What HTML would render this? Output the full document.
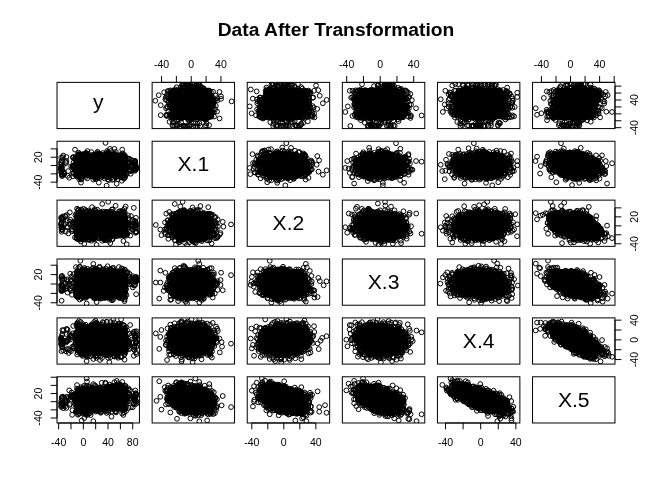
<!DOCTYPE html>
<html><head><meta charset="utf-8"><title>Data After Transformation</title>
<style>html,body{margin:0;padding:0;background:#fff}svg{display:block}text{font-family:"Liberation Sans",Arial,Helvetica,sans-serif;fill:#000}.a{font-size:10.56px;text-anchor:middle}.d{font-size:21.12px;text-anchor:middle}.b{fill:none;stroke:#000;stroke-width:1}.p{fill:none;stroke:#000;stroke-width:1}.k{stroke:#000;stroke-width:1;shape-rendering:crispEdges}</style></head><body>
<svg width="672" height="480" viewBox="0 0 672 480">
<rect width="672" height="480" fill="#fff"/>
<text x="336" y="35.5" text-anchor="middle" font-size="19.2" font-weight="bold" textLength="236.6" lengthAdjust="spacingAndGlyphs">Data After Transformation</text>
<svg x="152.13" y="82.37" width="82.43" height="46.21"><path class="k" d="M32.87 1.13h5M42.87 1.13h1M31.87 2.13h3M35.87 2.13h4M42.87 2.13h1M28.87 3.13h1M30.87 3.13h3M36.87 3.13h4M41.87 3.13h3M48.87 3.13h1M28.87 4.13h2M32.87 4.13h2M35.87 4.13h15M27.87 5.13h2M33.87 5.13h19M21.87 6.13h1M25.87 6.13h5M32.87 6.13h21M19.87 7.13h38M18.87 8.13h41M16.87 9.13h42M15.87 10.13h43M15.87 11.13h44M15.87 12.13h45M16.87 13.13h44M17.87 14.13h43M12.87 15.13h1M16.87 15.13h45M13.87 16.13h1M15.87 16.13h46M14.87 17.13h46M15.87 18.13h45M62.87 18.13h1M16.87 19.13h43M17.87 20.13h43M62.87 20.13h1M17.87 21.13h46M16.87 22.13h46M15.87 23.13h47M15.87 24.13h47M15.87 25.13h46M16.87 26.13h44M16.87 27.13h44M17.87 28.13h44M18.87 29.13h44M18.87 30.13h43M17.87 31.13h45M15.87 32.13h46M16.87 33.13h44M16.87 34.13h44M18.87 35.13h42M19.87 36.13h38M21.87 37.13h1M26.87 37.13h4M33.87 37.13h1M36.87 37.13h5M45.87 37.13h10M37.87 38.13h3M51.87 38.13h3M37.87 39.13h1M24.87 40.13h1M36.87 40.13h1M33.87 43.13h1"/><g class="p"><circle cx="43.2" cy="34.2" r="2.38"/><circle cx="63" cy="27" r="2.38"/><circle cx="30.8" cy="34.2" r="2.38"/><circle cx="14.8" cy="24.7" r="2.38"/><circle cx="22.7" cy="8.4" r="2.38"/><circle cx="63.1" cy="17.6" r="2.38"/><circle cx="28.8" cy="34.7" r="2.38"/><circle cx="17.3" cy="33.5" r="2.38"/><circle cx="57.5" cy="19.9" r="2.38"/><circle cx="33.2" cy="34.4" r="2.38"/><circle cx="32.7" cy="9.1" r="2.38"/><circle cx="46.3" cy="34" r="2.38"/><circle cx="37.4" cy="34.6" r="2.38"/><circle cx="27.6" cy="35.4" r="2.38"/><circle cx="60.7" cy="18.5" r="2.38"/><circle cx="57.1" cy="34.8" r="2.38"/><circle cx="36.4" cy="34.1" r="2.38"/><circle cx="60.6" cy="22.6" r="2.38"/><circle cx="37.3" cy="34.2" r="2.38"/><circle cx="44.3" cy="34.5" r="2.38"/><circle cx="31.3" cy="8.3" r="2.38"/><circle cx="26.3" cy="8.8" r="2.38"/><circle cx="27.9" cy="34.1" r="2.38"/><circle cx="34.5" cy="8.8" r="2.38"/><circle cx="32.6" cy="8.9" r="2.38"/><circle cx="57.3" cy="19.2" r="2.38"/><circle cx="20.7" cy="9.6" r="2.38"/><circle cx="30.1" cy="9" r="2.38"/><circle cx="33.9" cy="8.8" r="2.38"/><circle cx="44.4" cy="34.9" r="2.38"/><circle cx="31.1" cy="34.2" r="2.38"/><circle cx="36.1" cy="34.4" r="2.38"/><circle cx="22.2" cy="34.1" r="2.38"/><circle cx="58.8" cy="9.7" r="2.38"/><circle cx="56" cy="34.4" r="2.38"/><circle cx="18.5" cy="32" r="2.38"/><circle cx="35.8" cy="34.1" r="2.38"/><circle cx="26.8" cy="8.7" r="2.38"/><circle cx="21.6" cy="28" r="2.38"/><circle cx="43.4" cy="35" r="2.38"/><circle cx="28.2" cy="8.3" r="2.38"/><circle cx="59.5" cy="14.4" r="2.38"/><circle cx="39.3" cy="35.4" r="2.38"/><circle cx="31.1" cy="8.5" r="2.38"/><circle cx="33.3" cy="9.3" r="2.38"/><circle cx="28.6" cy="8.1" r="2.38"/><circle cx="55" cy="35.3" r="2.38"/><circle cx="47.1" cy="34.6" r="2.38"/><circle cx="57.2" cy="9.1" r="2.38"/><circle cx="33.1" cy="33.9" r="2.38"/><circle cx="57.4" cy="18.5" r="2.38"/><circle cx="19.8" cy="9.6" r="2.38"/><circle cx="18.2" cy="13.5" r="2.38"/><circle cx="30.3" cy="8.8" r="2.38"/><circle cx="37.1" cy="34.2" r="2.38"/><circle cx="60.6" cy="17.9" r="2.38"/><circle cx="56.6" cy="33.5" r="2.38"/><circle cx="30" cy="34.3" r="2.38"/><circle cx="14.8" cy="32.5" r="2.38"/><circle cx="21.3" cy="31" r="2.38"/><circle cx="24.5" cy="8.3" r="2.38"/><circle cx="17.3" cy="21.7" r="2.38"/><circle cx="24.1" cy="35.1" r="2.38"/><circle cx="57" cy="10.8" r="2.38"/><circle cx="41.2" cy="34.3" r="2.38"/><circle cx="41.1" cy="34.2" r="2.38"/><circle cx="51.5" cy="35.4" r="2.38"/><circle cx="13.2" cy="17.1" r="2.38"/><circle cx="57.4" cy="8.5" r="2.38"/><circle cx="57.2" cy="11.3" r="2.38"/><circle cx="47" cy="34.7" r="2.38"/><circle cx="64.9" cy="29.2" r="2.38"/><circle cx="35.4" cy="35" r="2.38"/><circle cx="36.6" cy="34.9" r="2.38"/><circle cx="20.4" cy="13.7" r="2.38"/><circle cx="58.9" cy="24.1" r="2.38"/><circle cx="16.9" cy="8.5" r="2.38"/><circle cx="59.5" cy="31.6" r="2.38"/><circle cx="40.4" cy="35.1" r="2.38"/><circle cx="20.1" cy="20.3" r="2.38"/><circle cx="58.3" cy="25.6" r="2.38"/><circle cx="58.5" cy="32.1" r="2.38"/><circle cx="58.7" cy="20" r="2.38"/><circle cx="22.7" cy="9.4" r="2.38"/><circle cx="35.4" cy="34.3" r="2.38"/><circle cx="21.8" cy="35.7" r="2.38"/><circle cx="63.5" cy="13.2" r="2.38"/><circle cx="57.2" cy="9.9" r="2.38"/><circle cx="54.9" cy="34.4" r="2.38"/><circle cx="21.2" cy="34.5" r="2.38"/><circle cx="28" cy="34.9" r="2.38"/><circle cx="55.9" cy="34.9" r="2.38"/><circle cx="13.6" cy="15.2" r="2.38"/><circle cx="33.3" cy="34.4" r="2.38"/><circle cx="54.3" cy="8.9" r="2.38"/><circle cx="55" cy="9" r="2.38"/><circle cx="30.3" cy="8.2" r="2.38"/><circle cx="19.9" cy="13.3" r="2.38"/><circle cx="41.1" cy="34.7" r="2.38"/><circle cx="58.5" cy="32.6" r="2.38"/><circle cx="14.6" cy="33.7" r="2.38"/><circle cx="46.6" cy="34.4" r="2.38"/><circle cx="43.9" cy="34.2" r="2.38"/><circle cx="22" cy="34.8" r="2.38"/><circle cx="55.3" cy="9.1" r="2.38"/><circle cx="60" cy="30.6" r="2.38"/><circle cx="42.5" cy="35" r="2.38"/><circle cx="41.6" cy="34.4" r="2.38"/><circle cx="61.7" cy="30" r="2.38"/><circle cx="15.6" cy="8.7" r="2.38"/><circle cx="41.2" cy="34.1" r="2.38"/><circle cx="59.2" cy="33.9" r="2.38"/><circle cx="33.8" cy="34.8" r="2.38"/><circle cx="61.4" cy="23.8" r="2.38"/><circle cx="51.7" cy="34.9" r="2.38"/><circle cx="18.1" cy="10.6" r="2.38"/><circle cx="19.4" cy="10.5" r="2.38"/><circle cx="46" cy="34.2" r="2.38"/><circle cx="35.5" cy="34.2" r="2.38"/><circle cx="58.6" cy="33.5" r="2.38"/><circle cx="20.8" cy="34.5" r="2.38"/><circle cx="46.7" cy="35.4" r="2.38"/><circle cx="20" cy="19.6" r="2.38"/><circle cx="18.9" cy="21" r="2.38"/><circle cx="59.1" cy="16.8" r="2.38"/><circle cx="60.9" cy="9.3" r="2.38"/><circle cx="55.5" cy="34.5" r="2.38"/><circle cx="55.8" cy="8.3" r="2.38"/><circle cx="19" cy="24.5" r="2.38"/><circle cx="59.2" cy="34.3" r="2.38"/><circle cx="49.4" cy="35.7" r="2.38"/><circle cx="21.1" cy="8.3" r="2.38"/><circle cx="58.7" cy="15" r="2.38"/><circle cx="18.9" cy="29.9" r="2.38"/><circle cx="40.9" cy="35.4" r="2.38"/><circle cx="28.6" cy="35" r="2.38"/><circle cx="30" cy="34.1" r="2.38"/><circle cx="24.3" cy="9.3" r="2.38"/><circle cx="21.5" cy="35.4" r="2.38"/><circle cx="63.7" cy="23.5" r="2.38"/><circle cx="15.5" cy="24.3" r="2.38"/><circle cx="25.9" cy="8.5" r="2.38"/><circle cx="33.1" cy="34" r="2.38"/><circle cx="18.6" cy="24.2" r="2.38"/><circle cx="28" cy="34.4" r="2.38"/><circle cx="23.8" cy="9.4" r="2.38"/><circle cx="26.9" cy="8.1" r="2.38"/><circle cx="23.1" cy="34.7" r="2.38"/><circle cx="45.2" cy="35.5" r="2.38"/><circle cx="44.8" cy="33.9" r="2.38"/><circle cx="38" cy="34.3" r="2.38"/><circle cx="15" cy="12.1" r="2.38"/><circle cx="16.6" cy="16.1" r="2.38"/><circle cx="65.1" cy="18.1" r="2.38"/><circle cx="58.8" cy="33.3" r="2.38"/><circle cx="40.8" cy="34.4" r="2.38"/><circle cx="27.3" cy="34.8" r="2.38"/><circle cx="19.8" cy="27.1" r="2.38"/><circle cx="16.3" cy="29.3" r="2.38"/><circle cx="44.5" cy="35.1" r="2.38"/><circle cx="22.2" cy="35" r="2.38"/><circle cx="19.1" cy="12.7" r="2.38"/><circle cx="37.2" cy="34.5" r="2.38"/><circle cx="34.2" cy="34.7" r="2.38"/><circle cx="30.9" cy="8.9" r="2.38"/><circle cx="59.6" cy="13.4" r="2.38"/><circle cx="58.2" cy="33.8" r="2.38"/><circle cx="46" cy="34.4" r="2.38"/><circle cx="18.3" cy="8" r="2.38"/><circle cx="16.3" cy="19.6" r="2.38"/><circle cx="44.8" cy="34.3" r="2.38"/><circle cx="59.9" cy="29.5" r="2.38"/><circle cx="58.9" cy="16.2" r="2.38"/><circle cx="14" cy="32.7" r="2.38"/><circle cx="56.9" cy="10.8" r="2.38"/><circle cx="28.3" cy="35" r="2.38"/><circle cx="42.9" cy="34.3" r="2.38"/><circle cx="21.5" cy="9.3" r="2.38"/><circle cx="21.3" cy="9.2" r="2.38"/><circle cx="42.8" cy="34.6" r="2.38"/><circle cx="18.4" cy="18.1" r="2.38"/><circle cx="18.2" cy="10.2" r="2.38"/><circle cx="14.9" cy="14.5" r="2.38"/><circle cx="18.2" cy="23.1" r="2.38"/><circle cx="50.7" cy="35" r="2.38"/><circle cx="30.3" cy="34.3" r="2.38"/><circle cx="51.6" cy="35.1" r="2.38"/><circle cx="59.5" cy="29" r="2.38"/><circle cx="31.1" cy="8.6" r="2.38"/><circle cx="59" cy="24.1" r="2.38"/><circle cx="61.3" cy="20.5" r="2.38"/><circle cx="56.7" cy="33.9" r="2.38"/><circle cx="37.1" cy="34.7" r="2.38"/><circle cx="56.8" cy="11.3" r="2.38"/><circle cx="61.4" cy="18" r="2.38"/><circle cx="42.3" cy="34.3" r="2.38"/><circle cx="23.2" cy="9.3" r="2.38"/><circle cx="19.9" cy="18.9" r="2.38"/><circle cx="17.8" cy="25.2" r="2.38"/><circle cx="58.5" cy="18.5" r="2.38"/><circle cx="21.3" cy="30.7" r="2.38"/><circle cx="59.3" cy="14.4" r="2.38"/><circle cx="33.1" cy="9.1" r="2.38"/><circle cx="30" cy="9.1" r="2.38"/><circle cx="18.4" cy="33.2" r="2.38"/><circle cx="40.7" cy="34.8" r="2.38"/><circle cx="34.4" cy="34" r="2.38"/><circle cx="59.8" cy="23.3" r="2.38"/><circle cx="47.4" cy="34.9" r="2.38"/><circle cx="25.2" cy="34.2" r="2.38"/><circle cx="54.2" cy="8.9" r="2.38"/><circle cx="21.1" cy="8" r="2.38"/><circle cx="58.3" cy="32.7" r="2.38"/><circle cx="18.5" cy="17.8" r="2.38"/><circle cx="34.6" cy="34.9" r="2.38"/><circle cx="41.7" cy="33.9" r="2.38"/><circle cx="62" cy="34.2" r="2.38"/><circle cx="39.2" cy="35.6" r="2.38"/><circle cx="44.5" cy="34.4" r="2.38"/><circle cx="20.1" cy="9" r="2.38"/><circle cx="42.3" cy="34.3" r="2.38"/><circle cx="29.7" cy="35.3" r="2.38"/><circle cx="60.3" cy="29.1" r="2.38"/><circle cx="58.2" cy="16" r="2.38"/><circle cx="31.9" cy="34.8" r="2.38"/><circle cx="49.7" cy="34.8" r="2.38"/><circle cx="44.2" cy="34.7" r="2.38"/><circle cx="37.8" cy="36" r="2.38"/><circle cx="58.1" cy="32.8" r="2.38"/><circle cx="20.6" cy="22.3" r="2.38"/><circle cx="21.5" cy="9.8" r="2.38"/><circle cx="20.7" cy="32.1" r="2.38"/><circle cx="65.1" cy="15.8" r="2.38"/><circle cx="47" cy="34.2" r="2.38"/><circle cx="20.2" cy="33.4" r="2.38"/><circle cx="61.5" cy="17.2" r="2.38"/><circle cx="33.8" cy="34.8" r="2.38"/><circle cx="24" cy="9.2" r="2.38"/><circle cx="31.3" cy="34.7" r="2.38"/><circle cx="57.7" cy="13.1" r="2.38"/><circle cx="47.6" cy="35.3" r="2.38"/><circle cx="52.4" cy="8.6" r="2.38"/><circle cx="14.3" cy="17.8" r="2.38"/><circle cx="59.6" cy="16.3" r="2.38"/><circle cx="30.8" cy="43.4" r="2.38"/><circle cx="33" cy="44" r="2.38"/><circle cx="31.5" cy="43.8" r="2.38"/><circle cx="21.1" cy="43.1" r="2.38"/><circle cx="35.1" cy="43.9" r="2.38"/><circle cx="37.4" cy="43.8" r="2.38"/><circle cx="31.1" cy="43.4" r="2.38"/><circle cx="45.3" cy="43.9" r="2.38"/><circle cx="35" cy="43.9" r="2.38"/><circle cx="53" cy="43.8" r="2.38"/><circle cx="41" cy="43.9" r="2.38"/><circle cx="38.3" cy="43" r="2.38"/><circle cx="22.8" cy="43.2" r="2.38"/><circle cx="36.9" cy="43.8" r="2.38"/><circle cx="48.1" cy="43.5" r="2.38"/><circle cx="43.4" cy="43.8" r="2.38"/><circle cx="26.5" cy="37" r="2.38"/><circle cx="27.1" cy="42.3" r="2.38"/><circle cx="54.2" cy="35" r="2.38"/><circle cx="53" cy="35.8" r="2.38"/><circle cx="29.5" cy="36.3" r="2.38"/><circle cx="24.9" cy="42.8" r="2.38"/><circle cx="54.4" cy="40.9" r="2.38"/><circle cx="19.8" cy="35.2" r="2.38"/><circle cx="24.2" cy="42" r="2.38"/><circle cx="24.8" cy="37.2" r="2.38"/><circle cx="39.7" cy="36.8" r="2.38"/><circle cx="35.2" cy="35" r="2.38"/><circle cx="39.3" cy="37.1" r="2.38"/><circle cx="53.9" cy="43" r="2.38"/><circle cx="53.3" cy="37.2" r="2.38"/><circle cx="53.8" cy="37.1" r="2.38"/><circle cx="53.9" cy="37.2" r="2.38"/><circle cx="38.9" cy="34.9" r="2.38"/><circle cx="44.8" cy="37" r="2.38"/><circle cx="38.2" cy="35.3" r="2.38"/><circle cx="30.5" cy="35.1" r="2.38"/><circle cx="51.5" cy="36.3" r="2.38"/><circle cx="38.7" cy="37.3" r="2.38"/><circle cx="20.8" cy="40.3" r="2.38"/><circle cx="37.7" cy="35.8" r="2.38"/><circle cx="45.3" cy="41.4" r="2.38"/><circle cx="51" cy="36" r="2.38"/><circle cx="36.1" cy="37.6" r="2.38"/><circle cx="37.5" cy="38.3" r="2.38"/><circle cx="43.3" cy="41.1" r="2.38"/><circle cx="36.4" cy="37.3" r="2.38"/><circle cx="47.3" cy="40.9" r="2.38"/><circle cx="29" cy="40" r="2.38"/><circle cx="19.8" cy="37.4" r="2.38"/><circle cx="35.1" cy="2" r="2.38"/><circle cx="40.5" cy="2.5" r="2.38"/><circle cx="42.3" cy="2.2" r="2.38"/><circle cx="46.2" cy="2.5" r="2.38"/><circle cx="46.8" cy="2.5" r="2.38"/><circle cx="35.8" cy="2" r="2.38"/><circle cx="31.7" cy="1.9" r="2.38"/><circle cx="36.4" cy="2.2" r="2.38"/><circle cx="35.7" cy="1.6" r="2.38"/><circle cx="36.7" cy="1.9" r="2.38"/><circle cx="44.4" cy="2.6" r="2.38"/><circle cx="30.1" cy="2.5" r="2.38"/><circle cx="47.3" cy="2.4" r="2.38"/><circle cx="36.7" cy="2.1" r="2.38"/><circle cx="32" cy="2.3" r="2.38"/><circle cx="34.1" cy="2.1" r="2.38"/><circle cx="42.7" cy="5.8" r="2.38"/><circle cx="44.9" cy="3" r="2.38"/><circle cx="49.3" cy="4.9" r="2.38"/><circle cx="38.9" cy="3.8" r="2.38"/><circle cx="23.8" cy="7.1" r="2.38"/><circle cx="31.2" cy="5.6" r="2.38"/><circle cx="30.1" cy="2.7" r="2.38"/><circle cx="42.6" cy="4.5" r="2.38"/><circle cx="51.5" cy="5.9" r="2.38"/><circle cx="54.1" cy="8" r="2.38"/><circle cx="51" cy="6.7" r="2.38"/><circle cx="39.7" cy="4.9" r="2.38"/><circle cx="35.6" cy="7.4" r="2.38"/><circle cx="24.5" cy="4.9" r="2.38"/><circle cx="30.1" cy="5" r="2.38"/><circle cx="43.9" cy="6.1" r="2.38"/><circle cx="50.3" cy="5.7" r="2.38"/><circle cx="33.7" cy="2.7" r="2.38"/><circle cx="37" cy="4.1" r="2.38"/><circle cx="32.6" cy="6" r="2.38"/><circle cx="35.2" cy="6.5" r="2.38"/><circle cx="43.3" cy="3.7" r="2.38"/><circle cx="56.8" cy="8.1" r="2.38"/><circle cx="40.1" cy="4.4" r="2.38"/><circle cx="28.7" cy="4.7" r="2.38"/><circle cx="48.2" cy="4" r="2.38"/><circle cx="35.6" cy="3.9" r="2.38"/><circle cx="3.2" cy="18.4" r="2.38"/><circle cx="6.6" cy="12.8" r="2.38"/><circle cx="12" cy="9.9" r="2.38"/><circle cx="8.6" cy="22.8" r="2.38"/><circle cx="8.6" cy="32.8" r="2.38"/><circle cx="13.9" cy="25.9" r="2.38"/><circle cx="17.4" cy="39.4" r="2.38"/><circle cx="20.4" cy="43.4" r="2.38"/><circle cx="24.5" cy="43.6" r="2.38"/><circle cx="28.9" cy="44.4" r="2.38"/><circle cx="33.2" cy="43.6" r="2.38"/><circle cx="57" cy="42.8" r="2.38"/><circle cx="67.4" cy="36.1" r="2.38"/><circle cx="79.5" cy="19" r="2.38"/><circle cx="68.9" cy="14" r="2.38"/><circle cx="67.4" cy="9.6" r="2.38"/><circle cx="68.9" cy="16.5" r="2.38"/></g></svg>
<svg x="247.23" y="82.37" width="82.43" height="46.21"><path class="k" d="M22.77 1.13h1M38.77 1.13h3M44.77 1.13h1M27.77 2.13h2M34.77 2.13h2M37.77 2.13h4M45.77 2.13h1M26.77 3.13h2M33.77 3.13h8M45.77 3.13h1M25.77 4.13h1M27.77 4.13h2M32.77 4.13h8M41.77 4.13h1M20.77 5.13h2M28.77 5.13h2M31.77 5.13h8M42.77 5.13h1M44.77 5.13h1M19.77 6.13h5M25.77 6.13h1M27.77 6.13h13M41.77 6.13h5M48.77 6.13h1M51.77 6.13h1M17.77 7.13h36M54.77 7.13h1M56.77 7.13h4M61.77 7.13h1M16.77 8.13h47M16.77 9.13h44M63.77 9.13h1M17.77 10.13h42M17.77 11.13h43M16.77 12.13h45M16.77 13.13h46M15.77 14.13h45M10.77 15.13h1M14.77 15.13h45M10.77 16.13h1M14.77 16.13h46M10.77 17.13h2M13.77 17.13h50M9.77 18.13h53M9.77 19.13h1M11.77 19.13h51M12.77 20.13h51M11.77 21.13h52M12.77 22.13h50M11.77 23.13h51M10.77 24.13h52M10.77 25.13h51M10.77 26.13h50M10.77 27.13h51M62.77 27.13h2M9.77 28.13h52M62.77 28.13h1M9.77 29.13h51M9.77 30.13h52M62.77 30.13h1M10.77 31.13h53M10.77 32.13h49M60.77 32.13h3M10.77 33.13h48M61.77 33.13h1M65.77 33.13h2M10.77 34.13h1M12.77 34.13h46M13.77 35.13h5M19.77 35.13h39M12.77 36.13h3M16.77 36.13h1M20.77 36.13h29M50.77 36.13h4M58.77 36.13h1M20.77 37.13h1M23.77 37.13h1M30.77 37.13h6M39.77 37.13h8M32.77 38.13h1M34.77 38.13h1M40.77 38.13h6M42.77 39.13h1M30.77 41.13h1M32.77 42.13h1M45.77 43.13h1"/><g class="p"><circle cx="27" cy="35.6" r="2.38"/><circle cx="12" cy="33.7" r="2.38"/><circle cx="54" cy="35.1" r="2.38"/><circle cx="64.4" cy="32.4" r="2.38"/><circle cx="52.9" cy="8.7" r="2.38"/><circle cx="12.5" cy="25.6" r="2.38"/><circle cx="32.3" cy="34.7" r="2.38"/><circle cx="14.3" cy="20.5" r="2.38"/><circle cx="32.9" cy="35" r="2.38"/><circle cx="14.4" cy="22.6" r="2.38"/><circle cx="55.8" cy="8.2" r="2.38"/><circle cx="28.3" cy="9.3" r="2.38"/><circle cx="13.9" cy="32.7" r="2.38"/><circle cx="53.1" cy="34" r="2.38"/><circle cx="18.9" cy="11.8" r="2.38"/><circle cx="41.1" cy="8.9" r="2.38"/><circle cx="39" cy="8.6" r="2.38"/><circle cx="61.6" cy="18.3" r="2.38"/><circle cx="20.4" cy="11.1" r="2.38"/><circle cx="53.9" cy="33.5" r="2.38"/><circle cx="60.3" cy="9.9" r="2.38"/><circle cx="40" cy="8.9" r="2.38"/><circle cx="12.7" cy="28.4" r="2.38"/><circle cx="61.6" cy="15.6" r="2.38"/><circle cx="22.5" cy="8.4" r="2.38"/><circle cx="5.6" cy="16.3" r="2.38"/><circle cx="56" cy="10.4" r="2.38"/><circle cx="50.6" cy="34.5" r="2.38"/><circle cx="9.9" cy="26.9" r="2.38"/><circle cx="64.1" cy="28.4" r="2.38"/><circle cx="27.2" cy="8.4" r="2.38"/><circle cx="62.2" cy="10.9" r="2.38"/><circle cx="14.9" cy="33.1" r="2.38"/><circle cx="46.5" cy="8.6" r="2.38"/><circle cx="25.4" cy="7.9" r="2.38"/><circle cx="13.5" cy="32.1" r="2.38"/><circle cx="57.6" cy="31.5" r="2.38"/><circle cx="60.9" cy="23.5" r="2.38"/><circle cx="47.4" cy="34.8" r="2.38"/><circle cx="21.6" cy="32.8" r="2.38"/><circle cx="42.6" cy="8.6" r="2.38"/><circle cx="27.6" cy="34.8" r="2.38"/><circle cx="54.9" cy="34.1" r="2.38"/><circle cx="51.5" cy="34.8" r="2.38"/><circle cx="48.1" cy="33.6" r="2.38"/><circle cx="12.5" cy="17.2" r="2.38"/><circle cx="41.1" cy="8.5" r="2.38"/><circle cx="58.6" cy="26.7" r="2.38"/><circle cx="22.9" cy="8" r="2.38"/><circle cx="29.6" cy="34" r="2.38"/><circle cx="52.6" cy="10.1" r="2.38"/><circle cx="55" cy="33.9" r="2.38"/><circle cx="37" cy="35.1" r="2.38"/><circle cx="22.1" cy="33.5" r="2.38"/><circle cx="57.4" cy="31.5" r="2.38"/><circle cx="12.2" cy="24.9" r="2.38"/><circle cx="56.3" cy="34.3" r="2.38"/><circle cx="48.1" cy="33.5" r="2.38"/><circle cx="21.5" cy="7.9" r="2.38"/><circle cx="47.9" cy="8.5" r="2.38"/><circle cx="22.8" cy="34.9" r="2.38"/><circle cx="58.8" cy="16.7" r="2.38"/><circle cx="13.3" cy="17.4" r="2.38"/><circle cx="40.6" cy="34.1" r="2.38"/><circle cx="37.5" cy="35" r="2.38"/><circle cx="61.7" cy="16.5" r="2.38"/><circle cx="22" cy="34.5" r="2.38"/><circle cx="58.2" cy="11.1" r="2.38"/><circle cx="58.4" cy="27.6" r="2.38"/><circle cx="39.4" cy="34.5" r="2.38"/><circle cx="35.7" cy="34.3" r="2.38"/><circle cx="29.6" cy="8.1" r="2.38"/><circle cx="65.4" cy="34.3" r="2.38"/><circle cx="13.9" cy="20.5" r="2.38"/><circle cx="52.6" cy="34.1" r="2.38"/><circle cx="12.3" cy="34.3" r="2.38"/><circle cx="18.9" cy="10.6" r="2.38"/><circle cx="28.1" cy="35.3" r="2.38"/><circle cx="51.6" cy="33.6" r="2.38"/><circle cx="22.7" cy="34.3" r="2.38"/><circle cx="60.9" cy="17.5" r="2.38"/><circle cx="17.5" cy="16.7" r="2.38"/><circle cx="42.6" cy="8.4" r="2.38"/><circle cx="49.6" cy="9.4" r="2.38"/><circle cx="50.9" cy="33.4" r="2.38"/><circle cx="46.7" cy="8.2" r="2.38"/><circle cx="57.2" cy="10.1" r="2.38"/><circle cx="52.8" cy="8.8" r="2.38"/><circle cx="18.7" cy="32.7" r="2.38"/><circle cx="51.8" cy="7.8" r="2.38"/><circle cx="60.4" cy="21.6" r="2.38"/><circle cx="58.5" cy="13.9" r="2.38"/><circle cx="62.3" cy="30.4" r="2.38"/><circle cx="67.3" cy="35" r="2.38"/><circle cx="40.2" cy="35.5" r="2.38"/><circle cx="29.5" cy="33.9" r="2.38"/><circle cx="51.6" cy="34.9" r="2.38"/><circle cx="39.9" cy="34.2" r="2.38"/><circle cx="35.9" cy="34.8" r="2.38"/><circle cx="65.4" cy="23.7" r="2.38"/><circle cx="65.6" cy="15.5" r="2.38"/><circle cx="51.7" cy="34.7" r="2.38"/><circle cx="24.4" cy="34" r="2.38"/><circle cx="13.3" cy="15.2" r="2.38"/><circle cx="8.8" cy="32.9" r="2.38"/><circle cx="30.9" cy="34.7" r="2.38"/><circle cx="27" cy="9" r="2.38"/><circle cx="31.3" cy="8.1" r="2.38"/><circle cx="66.9" cy="31.3" r="2.38"/><circle cx="40.6" cy="34.5" r="2.38"/><circle cx="47.3" cy="9.2" r="2.38"/><circle cx="22" cy="34.4" r="2.38"/><circle cx="46.8" cy="9.3" r="2.38"/><circle cx="22.1" cy="34.3" r="2.38"/><circle cx="58.7" cy="14.7" r="2.38"/><circle cx="16.6" cy="32.9" r="2.38"/><circle cx="20" cy="8.5" r="2.38"/><circle cx="38.6" cy="34.9" r="2.38"/><circle cx="18.2" cy="13.1" r="2.38"/><circle cx="12.2" cy="31.9" r="2.38"/><circle cx="57.8" cy="9.5" r="2.38"/><circle cx="15.5" cy="19.8" r="2.38"/><circle cx="25.2" cy="34.7" r="2.38"/><circle cx="41" cy="8.4" r="2.38"/><circle cx="19.6" cy="12.8" r="2.38"/><circle cx="12.4" cy="27.8" r="2.38"/><circle cx="59.2" cy="34.3" r="2.38"/><circle cx="41.7" cy="9.1" r="2.38"/><circle cx="39.6" cy="34.2" r="2.38"/><circle cx="60.8" cy="34" r="2.38"/><circle cx="41.3" cy="34.4" r="2.38"/><circle cx="50.9" cy="33.3" r="2.38"/><circle cx="21.7" cy="32.8" r="2.38"/><circle cx="26.7" cy="9.4" r="2.38"/><circle cx="58" cy="31.7" r="2.38"/><circle cx="28.6" cy="34.6" r="2.38"/><circle cx="20.4" cy="35.1" r="2.38"/><circle cx="18.2" cy="13.3" r="2.38"/><circle cx="64.9" cy="30.3" r="2.38"/><circle cx="24.5" cy="34.7" r="2.38"/><circle cx="53.6" cy="8.9" r="2.38"/><circle cx="38.6" cy="8.2" r="2.38"/><circle cx="56.5" cy="9.4" r="2.38"/><circle cx="25.4" cy="8.7" r="2.38"/><circle cx="62.4" cy="29.2" r="2.38"/><circle cx="50.3" cy="8.9" r="2.38"/><circle cx="66.3" cy="25.1" r="2.38"/><circle cx="12.1" cy="18.5" r="2.38"/><circle cx="27.3" cy="8.3" r="2.38"/><circle cx="62.2" cy="29.7" r="2.38"/><circle cx="24.2" cy="35.3" r="2.38"/><circle cx="17.6" cy="15.6" r="2.38"/><circle cx="28.7" cy="34.7" r="2.38"/><circle cx="53.1" cy="8.9" r="2.38"/><circle cx="50.9" cy="33.2" r="2.38"/><circle cx="33.4" cy="35.3" r="2.38"/><circle cx="48.5" cy="33.5" r="2.38"/><circle cx="47.9" cy="34" r="2.38"/><circle cx="19.3" cy="8.9" r="2.38"/><circle cx="10" cy="20.9" r="2.38"/><circle cx="22.7" cy="34.4" r="2.38"/><circle cx="57" cy="9.9" r="2.38"/><circle cx="28.6" cy="33.9" r="2.38"/><circle cx="61.2" cy="15.1" r="2.38"/><circle cx="17.5" cy="15.9" r="2.38"/><circle cx="58.7" cy="24.6" r="2.38"/><circle cx="48.3" cy="34.2" r="2.38"/><circle cx="30.8" cy="7.8" r="2.38"/><circle cx="57" cy="10.9" r="2.38"/><circle cx="57.7" cy="33.5" r="2.38"/><circle cx="50.4" cy="33.9" r="2.38"/><circle cx="46" cy="9.3" r="2.38"/><circle cx="30.7" cy="35.1" r="2.38"/><circle cx="60.7" cy="9.9" r="2.38"/><circle cx="50.4" cy="33.6" r="2.38"/><circle cx="32.7" cy="35.5" r="2.38"/><circle cx="14.3" cy="31.6" r="2.38"/><circle cx="42.3" cy="9.1" r="2.38"/><circle cx="32.9" cy="35.1" r="2.38"/><circle cx="12.5" cy="28.7" r="2.38"/><circle cx="47.2" cy="35.2" r="2.38"/><circle cx="52.2" cy="9.1" r="2.38"/><circle cx="47.1" cy="8.3" r="2.38"/><circle cx="15.7" cy="35.2" r="2.38"/><circle cx="15.8" cy="33" r="2.38"/><circle cx="15.4" cy="20.7" r="2.38"/><circle cx="46.9" cy="7.9" r="2.38"/><circle cx="24.3" cy="8.2" r="2.38"/><circle cx="47.3" cy="9" r="2.38"/><circle cx="41.8" cy="8.6" r="2.38"/><circle cx="27" cy="7.6" r="2.38"/><circle cx="15.4" cy="35.3" r="2.38"/><circle cx="60.8" cy="26.3" r="2.38"/><circle cx="15.6" cy="18" r="2.38"/><circle cx="59" cy="28.9" r="2.38"/><circle cx="28.7" cy="34.6" r="2.38"/><circle cx="58.9" cy="27.4" r="2.38"/><circle cx="51.2" cy="9.4" r="2.38"/><circle cx="25.9" cy="35" r="2.38"/><circle cx="62" cy="9.3" r="2.38"/><circle cx="59" cy="8.5" r="2.38"/><circle cx="62.8" cy="24.7" r="2.38"/><circle cx="48.6" cy="9.1" r="2.38"/><circle cx="52.8" cy="34.5" r="2.38"/><circle cx="58.9" cy="28.1" r="2.38"/><circle cx="43.5" cy="8.3" r="2.38"/><circle cx="15.4" cy="22.5" r="2.38"/><circle cx="26.4" cy="9.1" r="2.38"/><circle cx="49.2" cy="33.6" r="2.38"/><circle cx="30.2" cy="35.3" r="2.38"/><circle cx="53.9" cy="10.1" r="2.38"/><circle cx="21.7" cy="34.9" r="2.38"/><circle cx="59.2" cy="16.3" r="2.38"/><circle cx="13.1" cy="31.8" r="2.38"/><circle cx="60.8" cy="32.2" r="2.38"/><circle cx="17.4" cy="14.7" r="2.38"/><circle cx="20.2" cy="9.6" r="2.38"/><circle cx="20.2" cy="8.6" r="2.38"/><circle cx="28.4" cy="34.4" r="2.38"/><circle cx="55" cy="9.4" r="2.38"/><circle cx="30" cy="8.2" r="2.38"/><circle cx="58" cy="12.1" r="2.38"/><circle cx="58.4" cy="8.7" r="2.38"/><circle cx="33.4" cy="34.9" r="2.38"/><circle cx="20.1" cy="11.4" r="2.38"/><circle cx="18.5" cy="31.8" r="2.38"/><circle cx="41.1" cy="34.6" r="2.38"/><circle cx="45.6" cy="8.3" r="2.38"/><circle cx="48.2" cy="34.3" r="2.38"/><circle cx="60.1" cy="23.4" r="2.38"/><circle cx="58.7" cy="10.3" r="2.38"/><circle cx="62.1" cy="20.8" r="2.38"/><circle cx="46.5" cy="34.5" r="2.38"/><circle cx="12.5" cy="19.5" r="2.38"/><circle cx="12.3" cy="19.1" r="2.38"/><circle cx="47.4" cy="9.3" r="2.38"/><circle cx="38.6" cy="34.9" r="2.38"/><circle cx="21.2" cy="8.1" r="2.38"/><circle cx="63.4" cy="25.1" r="2.38"/><circle cx="40.7" cy="34.3" r="2.38"/><circle cx="53.1" cy="35" r="2.38"/><circle cx="28.1" cy="8.1" r="2.38"/><circle cx="50.9" cy="34" r="2.38"/><circle cx="18.1" cy="34.4" r="2.38"/><circle cx="34" cy="35.3" r="2.38"/><circle cx="63.9" cy="34.2" r="2.38"/><circle cx="63.3" cy="10" r="2.38"/><circle cx="57.1" cy="31.2" r="2.38"/><circle cx="58" cy="11.5" r="2.38"/><circle cx="19.3" cy="14.3" r="2.38"/><circle cx="31.4" cy="34.2" r="2.38"/><circle cx="62.5" cy="11.4" r="2.38"/><circle cx="12.5" cy="15.1" r="2.38"/><circle cx="18.4" cy="8.5" r="2.38"/><circle cx="14.1" cy="17.2" r="2.38"/><circle cx="23.8" cy="33.8" r="2.38"/><circle cx="13.5" cy="35.1" r="2.38"/><circle cx="41.8" cy="8.5" r="2.38"/><circle cx="58.7" cy="25" r="2.38"/><circle cx="30.3" cy="33.9" r="2.38"/><circle cx="26.7" cy="34.1" r="2.38"/><circle cx="11.4" cy="28.4" r="2.38"/><circle cx="20.6" cy="33.7" r="2.38"/><circle cx="10.7" cy="19.3" r="2.38"/><circle cx="12.6" cy="33.1" r="2.38"/><circle cx="13.8" cy="25.4" r="2.38"/><circle cx="21.9" cy="7.4" r="2.38"/><circle cx="58.9" cy="9.1" r="2.38"/><circle cx="13" cy="34.2" r="2.38"/><circle cx="60.4" cy="32.5" r="2.38"/><circle cx="12.2" cy="30.6" r="2.38"/><circle cx="55.4" cy="33.7" r="2.38"/><circle cx="27.1" cy="34" r="2.38"/><circle cx="30.4" cy="34.1" r="2.38"/><circle cx="50.7" cy="8" r="2.38"/><circle cx="21.3" cy="8.9" r="2.38"/><circle cx="26.7" cy="33.8" r="2.38"/><circle cx="26.4" cy="8.7" r="2.38"/><circle cx="61.2" cy="8.2" r="2.38"/><circle cx="14.9" cy="32.1" r="2.38"/><circle cx="49.8" cy="33.7" r="2.38"/><circle cx="27" cy="34.3" r="2.38"/><circle cx="40" cy="34" r="2.38"/><circle cx="23" cy="34.4" r="2.38"/><circle cx="57.8" cy="30.3" r="2.38"/><circle cx="24.9" cy="8.4" r="2.38"/><circle cx="65.9" cy="15" r="2.38"/><circle cx="38.1" cy="34.6" r="2.38"/><circle cx="25.9" cy="8.4" r="2.38"/><circle cx="23.6" cy="8.8" r="2.38"/><circle cx="61.7" cy="19.4" r="2.38"/><circle cx="12.5" cy="19.6" r="2.38"/><circle cx="49.7" cy="8.3" r="2.38"/><circle cx="14.5" cy="20.9" r="2.38"/><circle cx="49.6" cy="7.9" r="2.38"/><circle cx="41.7" cy="9.3" r="2.38"/><circle cx="28.5" cy="8.7" r="2.38"/><circle cx="48.3" cy="35.3" r="2.38"/><circle cx="54.3" cy="9.2" r="2.38"/><circle cx="49.5" cy="33.1" r="2.38"/><circle cx="9.8" cy="17.1" r="2.38"/><circle cx="60.7" cy="25.4" r="2.38"/><circle cx="61.6" cy="27.8" r="2.38"/><circle cx="30.2" cy="34.6" r="2.38"/><circle cx="60.8" cy="18.2" r="2.38"/><circle cx="37" cy="34.6" r="2.38"/><circle cx="50" cy="33.2" r="2.38"/><circle cx="50.1" cy="32.8" r="2.38"/><circle cx="14.2" cy="18.6" r="2.38"/><circle cx="41.3" cy="9.2" r="2.38"/><circle cx="25.5" cy="34" r="2.38"/><circle cx="53.9" cy="10.5" r="2.38"/><circle cx="18.7" cy="13.4" r="2.38"/><circle cx="49.2" cy="8.4" r="2.38"/><circle cx="25.9" cy="43.6" r="2.38"/><circle cx="49.7" cy="43.7" r="2.38"/><circle cx="28.6" cy="43.3" r="2.38"/><circle cx="36.3" cy="43.6" r="2.38"/><circle cx="48.7" cy="43.7" r="2.38"/><circle cx="30.9" cy="43.5" r="2.38"/><circle cx="34" cy="43.8" r="2.38"/><circle cx="51.4" cy="43.9" r="2.38"/><circle cx="49.3" cy="43.2" r="2.38"/><circle cx="41.1" cy="43.6" r="2.38"/><circle cx="33.5" cy="43.1" r="2.38"/><circle cx="42.5" cy="43.7" r="2.38"/><circle cx="29.8" cy="43.6" r="2.38"/><circle cx="53.3" cy="43" r="2.38"/><circle cx="38.6" cy="43.7" r="2.38"/><circle cx="39.7" cy="44" r="2.38"/><circle cx="37.6" cy="34.8" r="2.38"/><circle cx="26.2" cy="41.3" r="2.38"/><circle cx="24.8" cy="35.4" r="2.38"/><circle cx="31.5" cy="35.5" r="2.38"/><circle cx="15.8" cy="36.2" r="2.38"/><circle cx="55.8" cy="40.7" r="2.38"/><circle cx="35.3" cy="36.8" r="2.38"/><circle cx="18.3" cy="34.8" r="2.38"/><circle cx="27" cy="35" r="2.38"/><circle cx="39.2" cy="39.1" r="2.38"/><circle cx="23" cy="34.8" r="2.38"/><circle cx="44.8" cy="36" r="2.38"/><circle cx="37.4" cy="35.4" r="2.38"/><circle cx="55.1" cy="35.9" r="2.38"/><circle cx="45.6" cy="40.2" r="2.38"/><circle cx="39.2" cy="42.4" r="2.38"/><circle cx="34.8" cy="36.1" r="2.38"/><circle cx="43" cy="37.4" r="2.38"/><circle cx="44" cy="39.2" r="2.38"/><circle cx="37.6" cy="35.4" r="2.38"/><circle cx="41.1" cy="36.5" r="2.38"/><circle cx="35.3" cy="40.6" r="2.38"/><circle cx="38.5" cy="37.4" r="2.38"/><circle cx="42" cy="36.9" r="2.38"/><circle cx="47.5" cy="38.8" r="2.38"/><circle cx="26.6" cy="37.9" r="2.38"/><circle cx="54" cy="41.8" r="2.38"/><circle cx="23.1" cy="39.9" r="2.38"/><circle cx="30.7" cy="37.9" r="2.38"/><circle cx="29" cy="37.4" r="2.38"/><circle cx="58" cy="35.4" r="2.38"/><circle cx="33.5" cy="40.2" r="2.38"/><circle cx="42.3" cy="36.2" r="2.38"/><circle cx="23.3" cy="34.8" r="2.38"/><circle cx="45.2" cy="2.5" r="2.38"/><circle cx="50.8" cy="2" r="2.38"/><circle cx="38.7" cy="2.2" r="2.38"/><circle cx="24.2" cy="2.3" r="2.38"/><circle cx="26.6" cy="2" r="2.38"/><circle cx="37.2" cy="2.6" r="2.38"/><circle cx="40.2" cy="2.4" r="2.38"/><circle cx="32.3" cy="2.5" r="2.38"/><circle cx="43.9" cy="2.6" r="2.38"/><circle cx="33.9" cy="2.3" r="2.38"/><circle cx="42.3" cy="2" r="2.38"/><circle cx="38" cy="1.6" r="2.38"/><circle cx="33.4" cy="1.6" r="2.38"/><circle cx="36.8" cy="2.6" r="2.38"/><circle cx="25.6" cy="1.8" r="2.38"/><circle cx="25.2" cy="1.6" r="2.38"/><circle cx="19.3" cy="7.1" r="2.38"/><circle cx="36" cy="4.1" r="2.38"/><circle cx="26.2" cy="5.8" r="2.38"/><circle cx="35.8" cy="4.6" r="2.38"/><circle cx="47.4" cy="4" r="2.38"/><circle cx="41.4" cy="6.2" r="2.38"/><circle cx="41.1" cy="6.6" r="2.38"/><circle cx="30.1" cy="3.6" r="2.38"/><circle cx="50.5" cy="6.1" r="2.38"/><circle cx="55.1" cy="6.3" r="2.38"/><circle cx="37.3" cy="4.4" r="2.38"/><circle cx="54" cy="4.7" r="2.38"/><circle cx="31.3" cy="2.6" r="2.38"/><circle cx="38.1" cy="4.9" r="2.38"/><circle cx="30.4" cy="3.9" r="2.38"/><circle cx="44.6" cy="3.6" r="2.38"/><circle cx="26.9" cy="4.7" r="2.38"/><circle cx="39.8" cy="5.1" r="2.38"/><circle cx="29.6" cy="8.4" r="2.38"/><circle cx="38.5" cy="7" r="2.38"/><circle cx="29.2" cy="8.3" r="2.38"/><circle cx="30.8" cy="4.2" r="2.38"/><circle cx="40.1" cy="5.8" r="2.38"/><circle cx="36.6" cy="5" r="2.38"/><circle cx="19.2" cy="5.2" r="2.38"/><circle cx="22.9" cy="7.8" r="2.38"/><circle cx="39.9" cy="2.7" r="2.38"/><circle cx="22.7" cy="6.8" r="2.38"/><circle cx="3.5" cy="7.1" r="2.38"/><circle cx="2.5" cy="24" r="2.38"/><circle cx="4.4" cy="30.9" r="2.38"/><circle cx="9.4" cy="9" r="2.38"/><circle cx="68.8" cy="3.1" r="2.38"/><circle cx="71" cy="7.8" r="2.38"/><circle cx="72.5" cy="13.4" r="2.38"/><circle cx="66.9" cy="8.4" r="2.38"/><circle cx="79.4" cy="17.5" r="2.38"/><circle cx="75.6" cy="20.9" r="2.38"/><circle cx="70" cy="26.5" r="2.38"/><circle cx="65.6" cy="32.8" r="2.38"/><circle cx="60.6" cy="39" r="2.38"/><circle cx="53.8" cy="41.5" r="2.38"/><circle cx="48.1" cy="42.8" r="2.38"/></g></svg>
<svg x="342.34" y="82.37" width="82.43" height="46.21"><path class="k" d="M40.66 1.13h9M50.66 1.13h1M40.66 2.13h8M51.66 2.13h1M40.66 3.13h9M50.66 3.13h1M39.66 4.13h11M40.66 5.13h9M16.66 6.13h2M28.66 6.13h1M33.66 6.13h4M39.66 6.13h11M53.66 6.13h1M15.66 7.13h41M57.66 7.13h2M15.66 8.13h46M12.66 9.13h1M14.66 9.13h48M65.66 9.13h1M13.66 10.13h50M14.66 11.13h48M13.66 12.13h48M10.66 13.13h52M11.66 14.13h52M10.66 15.13h53M9.66 16.13h55M9.66 17.13h56M10.66 18.13h53M11.66 19.13h51M12.66 20.13h50M11.66 21.13h52M10.66 22.13h52M10.66 23.13h53M64.66 23.13h2M11.66 24.13h56M12.66 25.13h54M12.66 26.13h53M12.66 27.13h53M13.66 28.13h52M14.66 29.13h50M13.66 30.13h49M63.66 30.13h2M13.66 31.13h48M64.66 31.13h2M12.66 32.13h50M63.66 32.13h1M65.66 32.13h2M12.66 33.13h51M15.66 34.13h47M16.66 35.13h46M15.66 36.13h46M20.66 37.13h1M23.66 37.13h1M25.66 37.13h5M32.66 37.13h4M37.66 37.13h9M47.66 37.13h1M57.66 37.13h1M27.66 38.13h2M34.66 38.13h1M38.66 38.13h3M43.66 38.13h1M35.66 39.13h1M39.66 39.13h1M26.66 41.13h2M29.66 41.13h3M35.66 41.13h1M43.66 41.13h1M45.66 41.13h3M25.66 42.13h1M27.66 42.13h5M33.66 42.13h4M47.66 42.13h1M28.66 43.13h3M34.66 43.13h2M28.66 44.13h3M34.66 44.13h2M34.66 45.13h2"/><g class="p"><circle cx="13.8" cy="11.5" r="2.38"/><circle cx="38.5" cy="8.8" r="2.38"/><circle cx="17.4" cy="9.6" r="2.38"/><circle cx="17.5" cy="31.8" r="2.38"/><circle cx="15.1" cy="29.3" r="2.38"/><circle cx="53.2" cy="35" r="2.38"/><circle cx="55.5" cy="9.4" r="2.38"/><circle cx="17.1" cy="33.7" r="2.38"/><circle cx="66.4" cy="30.8" r="2.38"/><circle cx="15.3" cy="13.2" r="2.38"/><circle cx="60" cy="23.2" r="2.38"/><circle cx="29.8" cy="8.7" r="2.38"/><circle cx="26.3" cy="34.6" r="2.38"/><circle cx="64.4" cy="16.5" r="2.38"/><circle cx="55.3" cy="34.1" r="2.38"/><circle cx="38.8" cy="34.7" r="2.38"/><circle cx="13.6" cy="34.5" r="2.38"/><circle cx="53.1" cy="34.6" r="2.38"/><circle cx="46" cy="34.5" r="2.38"/><circle cx="63.6" cy="8.3" r="2.38"/><circle cx="52" cy="33.9" r="2.38"/><circle cx="41.1" cy="8.6" r="2.38"/><circle cx="24.5" cy="34.9" r="2.38"/><circle cx="59.1" cy="31.8" r="2.38"/><circle cx="66.5" cy="25.9" r="2.38"/><circle cx="42.5" cy="35.5" r="2.38"/><circle cx="22.8" cy="34" r="2.38"/><circle cx="28.8" cy="8.5" r="2.38"/><circle cx="26.7" cy="8.4" r="2.38"/><circle cx="64.6" cy="26.7" r="2.38"/><circle cx="51.9" cy="34" r="2.38"/><circle cx="27.5" cy="34.8" r="2.38"/><circle cx="28.8" cy="34.6" r="2.38"/><circle cx="62.7" cy="8" r="2.38"/><circle cx="45.9" cy="34.6" r="2.38"/><circle cx="61.2" cy="14.1" r="2.38"/><circle cx="53.3" cy="34.4" r="2.38"/><circle cx="14.2" cy="31.8" r="2.38"/><circle cx="66.8" cy="14.6" r="2.38"/><circle cx="60.4" cy="34.8" r="2.38"/><circle cx="31.5" cy="9" r="2.38"/><circle cx="22.8" cy="8.7" r="2.38"/><circle cx="31.7" cy="34.3" r="2.38"/><circle cx="45.4" cy="34.3" r="2.38"/><circle cx="10.1" cy="8.4" r="2.38"/><circle cx="36" cy="34" r="2.38"/><circle cx="59.9" cy="12.8" r="2.38"/><circle cx="42.9" cy="35" r="2.38"/><circle cx="24.7" cy="35.4" r="2.38"/><circle cx="33.2" cy="9.2" r="2.38"/><circle cx="56.1" cy="9.2" r="2.38"/><circle cx="61.5" cy="14.8" r="2.38"/><circle cx="52.1" cy="34.6" r="2.38"/><circle cx="63.4" cy="15.7" r="2.38"/><circle cx="34.4" cy="34.5" r="2.38"/><circle cx="33.6" cy="34.4" r="2.38"/><circle cx="64.5" cy="9.4" r="2.38"/><circle cx="29.6" cy="35.5" r="2.38"/><circle cx="68.2" cy="33.7" r="2.38"/><circle cx="17.1" cy="29.4" r="2.38"/><circle cx="33.1" cy="34" r="2.38"/><circle cx="56.8" cy="9.9" r="2.38"/><circle cx="12.3" cy="32.4" r="2.38"/><circle cx="25.3" cy="34.3" r="2.38"/><circle cx="60" cy="9.7" r="2.38"/><circle cx="30.9" cy="8.2" r="2.38"/><circle cx="63.2" cy="30.6" r="2.38"/><circle cx="11.6" cy="17" r="2.38"/><circle cx="63.4" cy="20.1" r="2.38"/><circle cx="14.4" cy="31.6" r="2.38"/><circle cx="27.7" cy="8.5" r="2.38"/><circle cx="57.7" cy="9.8" r="2.38"/><circle cx="61.2" cy="16.6" r="2.38"/><circle cx="32.3" cy="9.1" r="2.38"/><circle cx="63.4" cy="25" r="2.38"/><circle cx="50.4" cy="8.5" r="2.38"/><circle cx="61.3" cy="29.2" r="2.38"/><circle cx="50.8" cy="35.1" r="2.38"/><circle cx="15.9" cy="34.2" r="2.38"/><circle cx="56.7" cy="34.8" r="2.38"/><circle cx="27.2" cy="34.6" r="2.38"/><circle cx="69.5" cy="17.8" r="2.38"/><circle cx="61.8" cy="27.4" r="2.38"/><circle cx="11.7" cy="25.1" r="2.38"/><circle cx="66.1" cy="34.3" r="2.38"/><circle cx="54.3" cy="34.9" r="2.38"/><circle cx="28.1" cy="8.9" r="2.38"/><circle cx="41.8" cy="7.9" r="2.38"/><circle cx="30.4" cy="8.2" r="2.38"/><circle cx="50.8" cy="35.2" r="2.38"/><circle cx="56" cy="35" r="2.38"/><circle cx="52.5" cy="7.9" r="2.38"/><circle cx="28.3" cy="8.8" r="2.38"/><circle cx="55.9" cy="34.2" r="2.38"/><circle cx="65.2" cy="29.2" r="2.38"/><circle cx="59.9" cy="34.2" r="2.38"/><circle cx="19.7" cy="9.2" r="2.38"/><circle cx="62.2" cy="32.3" r="2.38"/><circle cx="31.3" cy="8.1" r="2.38"/><circle cx="52.4" cy="8.1" r="2.38"/><circle cx="14.7" cy="18.3" r="2.38"/><circle cx="31" cy="35.1" r="2.38"/><circle cx="25.7" cy="8.6" r="2.38"/><circle cx="16.3" cy="11.3" r="2.38"/><circle cx="49.6" cy="33.8" r="2.38"/><circle cx="61.9" cy="23.8" r="2.38"/><circle cx="38.1" cy="9.5" r="2.38"/><circle cx="54.3" cy="8.6" r="2.38"/><circle cx="14.1" cy="11.8" r="2.38"/><circle cx="27" cy="34.3" r="2.38"/><circle cx="32.4" cy="8.7" r="2.38"/><circle cx="56.8" cy="9.9" r="2.38"/><circle cx="65.3" cy="24.3" r="2.38"/><circle cx="56.7" cy="35" r="2.38"/><circle cx="58.3" cy="34.1" r="2.38"/><circle cx="63.5" cy="20.7" r="2.38"/><circle cx="32.9" cy="34.7" r="2.38"/><circle cx="20.4" cy="35.6" r="2.38"/><circle cx="16.4" cy="28.9" r="2.38"/><circle cx="57.8" cy="34.5" r="2.38"/><circle cx="25" cy="34.5" r="2.38"/><circle cx="60.8" cy="34.8" r="2.38"/><circle cx="21.7" cy="35.7" r="2.38"/><circle cx="18.9" cy="33.5" r="2.38"/><circle cx="48.7" cy="34.8" r="2.38"/><circle cx="46.2" cy="34.8" r="2.38"/><circle cx="51.4" cy="34.7" r="2.38"/><circle cx="29.1" cy="8.5" r="2.38"/><circle cx="12.2" cy="21.2" r="2.38"/><circle cx="60.2" cy="13.5" r="2.38"/><circle cx="9.9" cy="14.8" r="2.38"/><circle cx="60.4" cy="8.9" r="2.38"/><circle cx="29.6" cy="34.9" r="2.38"/><circle cx="65.6" cy="19" r="2.38"/><circle cx="67" cy="22.4" r="2.38"/><circle cx="17.3" cy="33.9" r="2.38"/><circle cx="55.4" cy="34.5" r="2.38"/><circle cx="13.4" cy="30.5" r="2.38"/><circle cx="50.4" cy="8" r="2.38"/><circle cx="16.8" cy="30.5" r="2.38"/><circle cx="23.6" cy="9.2" r="2.38"/><circle cx="59.7" cy="33.3" r="2.38"/><circle cx="52" cy="8.9" r="2.38"/><circle cx="8.8" cy="15.4" r="2.38"/><circle cx="62.7" cy="30.8" r="2.38"/><circle cx="61.2" cy="15.1" r="2.38"/><circle cx="30.4" cy="8.9" r="2.38"/><circle cx="59.1" cy="29.6" r="2.38"/><circle cx="39.2" cy="9.3" r="2.38"/><circle cx="64" cy="30.7" r="2.38"/><circle cx="31.5" cy="34.4" r="2.38"/><circle cx="23.8" cy="8.3" r="2.38"/><circle cx="51.7" cy="34.3" r="2.38"/><circle cx="20.2" cy="9" r="2.38"/><circle cx="19.6" cy="9.3" r="2.38"/><circle cx="30.9" cy="34.4" r="2.38"/><circle cx="60.5" cy="18.5" r="2.38"/><circle cx="60.5" cy="11.3" r="2.38"/><circle cx="32.5" cy="34" r="2.38"/><circle cx="20.4" cy="35" r="2.38"/><circle cx="38.1" cy="34.5" r="2.38"/><circle cx="39.4" cy="8.6" r="2.38"/><circle cx="65.6" cy="10.1" r="2.38"/><circle cx="46.2" cy="35.1" r="2.38"/><circle cx="11.5" cy="15.6" r="2.38"/><circle cx="53.8" cy="35.2" r="2.38"/><circle cx="62.2" cy="30.1" r="2.38"/><circle cx="55.2" cy="33.8" r="2.38"/><circle cx="19.7" cy="8.8" r="2.38"/><circle cx="26.5" cy="9.4" r="2.38"/><circle cx="61.3" cy="15" r="2.38"/><circle cx="15.1" cy="25.9" r="2.38"/><circle cx="28.2" cy="9.2" r="2.38"/><circle cx="28.9" cy="8.9" r="2.38"/><circle cx="19.5" cy="9" r="2.38"/><circle cx="49.5" cy="34" r="2.38"/><circle cx="15.2" cy="24.8" r="2.38"/><circle cx="27.9" cy="9" r="2.38"/><circle cx="49.2" cy="33.9" r="2.38"/><circle cx="33.9" cy="35.4" r="2.38"/><circle cx="25.1" cy="34.1" r="2.38"/><circle cx="34.5" cy="8.1" r="2.38"/><circle cx="31.2" cy="8.3" r="2.38"/><circle cx="27.7" cy="8.4" r="2.38"/><circle cx="15.3" cy="8.1" r="2.38"/><circle cx="30.2" cy="34.3" r="2.38"/><circle cx="38.9" cy="34.9" r="2.38"/><circle cx="12.7" cy="19.4" r="2.38"/><circle cx="50.5" cy="34.4" r="2.38"/><circle cx="13.9" cy="24.7" r="2.38"/><circle cx="57.9" cy="33.9" r="2.38"/><circle cx="29.8" cy="34.3" r="2.38"/><circle cx="39.1" cy="8.3" r="2.38"/><circle cx="15.2" cy="9.1" r="2.38"/><circle cx="68.1" cy="35.6" r="2.38"/><circle cx="46.3" cy="35.2" r="2.38"/><circle cx="21.4" cy="8.7" r="2.38"/><circle cx="15" cy="34.4" r="2.38"/><circle cx="59.4" cy="31.8" r="2.38"/><circle cx="36.7" cy="9.1" r="2.38"/><circle cx="31" cy="9.4" r="2.38"/><circle cx="39.1" cy="8.6" r="2.38"/><circle cx="68.7" cy="22.3" r="2.38"/><circle cx="33.7" cy="35.7" r="2.38"/><circle cx="34.4" cy="9" r="2.38"/><circle cx="53.9" cy="9" r="2.38"/><circle cx="62.1" cy="15.5" r="2.38"/><circle cx="32.7" cy="34" r="2.38"/><circle cx="62.9" cy="27.8" r="2.38"/><circle cx="47.9" cy="34.7" r="2.38"/><circle cx="14.9" cy="26.2" r="2.38"/><circle cx="30" cy="8.4" r="2.38"/><circle cx="59.5" cy="32.8" r="2.38"/><circle cx="13.5" cy="30.1" r="2.38"/><circle cx="12.6" cy="10.9" r="2.38"/><circle cx="14.9" cy="21.7" r="2.38"/><circle cx="60.6" cy="20" r="2.38"/><circle cx="59.6" cy="8.8" r="2.38"/><circle cx="62.3" cy="22.1" r="2.38"/><circle cx="36.2" cy="9" r="2.38"/><circle cx="55.7" cy="34.7" r="2.38"/><circle cx="56" cy="34.2" r="2.38"/><circle cx="36.3" cy="34.2" r="2.38"/><circle cx="15.6" cy="31.5" r="2.38"/><circle cx="41" cy="8.3" r="2.38"/><circle cx="37.3" cy="7.9" r="2.38"/><circle cx="64.3" cy="16.3" r="2.38"/><circle cx="29.9" cy="34.3" r="2.38"/><circle cx="40.4" cy="35.2" r="2.38"/><circle cx="33.8" cy="8.1" r="2.38"/><circle cx="13.3" cy="8" r="2.38"/><circle cx="12.8" cy="24.4" r="2.38"/><circle cx="46.2" cy="34.5" r="2.38"/><circle cx="30.6" cy="34.9" r="2.38"/><circle cx="29.1" cy="8.5" r="2.38"/><circle cx="19.9" cy="9" r="2.38"/><circle cx="54.5" cy="33.8" r="2.38"/><circle cx="61.5" cy="31.7" r="2.38"/><circle cx="29.8" cy="34.6" r="2.38"/><circle cx="50" cy="34.5" r="2.38"/><circle cx="21.7" cy="34.3" r="2.38"/><circle cx="26" cy="34.9" r="2.38"/><circle cx="26.1" cy="8.8" r="2.38"/><circle cx="61.7" cy="24.9" r="2.38"/><circle cx="39.4" cy="34.9" r="2.38"/><circle cx="53.1" cy="34.3" r="2.38"/><circle cx="60.1" cy="31.4" r="2.38"/><circle cx="60.9" cy="21.1" r="2.38"/><circle cx="58.5" cy="35.3" r="2.38"/><circle cx="47.1" cy="34.3" r="2.38"/><circle cx="41.4" cy="35.2" r="2.38"/><circle cx="17.1" cy="30.7" r="2.38"/><circle cx="35.8" cy="34.1" r="2.38"/><circle cx="38.5" cy="9.5" r="2.38"/><circle cx="30.9" cy="9.4" r="2.38"/><circle cx="52" cy="34.3" r="2.38"/><circle cx="59.8" cy="31" r="2.38"/><circle cx="16.4" cy="10.4" r="2.38"/><circle cx="64.3" cy="25.1" r="2.38"/><circle cx="18.5" cy="32.7" r="2.38"/><circle cx="35.2" cy="8.1" r="2.38"/><circle cx="31.4" cy="34.3" r="2.38"/><circle cx="60" cy="14.1" r="2.38"/><circle cx="51.5" cy="8.5" r="2.38"/><circle cx="15.8" cy="35.4" r="2.38"/><circle cx="60.4" cy="22.6" r="2.38"/><circle cx="63.6" cy="23.6" r="2.38"/><circle cx="52.3" cy="34.5" r="2.38"/><circle cx="56.6" cy="9.9" r="2.38"/><circle cx="36.2" cy="8.5" r="2.38"/><circle cx="13.9" cy="24.4" r="2.38"/><circle cx="29.7" cy="8.4" r="2.38"/><circle cx="10.1" cy="33.6" r="2.38"/><circle cx="59.9" cy="13.1" r="2.38"/><circle cx="61.2" cy="16.3" r="2.38"/><circle cx="31.7" cy="34.7" r="2.38"/><circle cx="57.5" cy="34" r="2.38"/><circle cx="25.5" cy="8.9" r="2.38"/><circle cx="38" cy="34" r="2.38"/><circle cx="31.8" cy="8.1" r="2.38"/><circle cx="33.2" cy="33.9" r="2.38"/><circle cx="39" cy="35.5" r="2.38"/><circle cx="54.7" cy="8.8" r="2.38"/><circle cx="13.2" cy="22.4" r="2.38"/><circle cx="65.8" cy="15.2" r="2.38"/><circle cx="29" cy="7.6" r="2.38"/><circle cx="36.6" cy="8.6" r="2.38"/><circle cx="49.3" cy="8.7" r="2.38"/><circle cx="41" cy="9" r="2.38"/><circle cx="58.8" cy="8.9" r="2.38"/><circle cx="13" cy="15.8" r="2.38"/><circle cx="22.3" cy="8.1" r="2.38"/><circle cx="24.3" cy="8.9" r="2.38"/><circle cx="11.9" cy="21.9" r="2.38"/><circle cx="37" cy="8.6" r="2.38"/><circle cx="55.8" cy="10.2" r="2.38"/><circle cx="12.8" cy="16.2" r="2.38"/><circle cx="60.5" cy="9.8" r="2.38"/><circle cx="33.2" cy="34.4" r="2.38"/><circle cx="61.3" cy="25" r="2.38"/><circle cx="23.6" cy="8" r="2.38"/><circle cx="11.9" cy="9.6" r="2.38"/><circle cx="17.2" cy="8.5" r="2.38"/><circle cx="14.3" cy="19.3" r="2.38"/><circle cx="50" cy="33.9" r="2.38"/><circle cx="37.2" cy="8.5" r="2.38"/><circle cx="35" cy="43.8" r="2.38"/><circle cx="48.8" cy="43.8" r="2.38"/><circle cx="33.3" cy="43.5" r="2.38"/><circle cx="34.2" cy="43.3" r="2.38"/><circle cx="45.9" cy="43.2" r="2.38"/><circle cx="32" cy="43.3" r="2.38"/><circle cx="25.3" cy="43.7" r="2.38"/><circle cx="36.8" cy="43.4" r="2.38"/><circle cx="31.8" cy="43" r="2.38"/><circle cx="44.3" cy="43.3" r="2.38"/><circle cx="25.7" cy="43.8" r="2.38"/><circle cx="36.3" cy="43.9" r="2.38"/><circle cx="33.2" cy="43.3" r="2.38"/><circle cx="26" cy="43.1" r="2.38"/><circle cx="51.2" cy="43.6" r="2.38"/><circle cx="30.2" cy="43.9" r="2.38"/><circle cx="45.9" cy="38.5" r="2.38"/><circle cx="30.3" cy="38.4" r="2.38"/><circle cx="29.1" cy="41.4" r="2.38"/><circle cx="17.8" cy="35.2" r="2.38"/><circle cx="28.5" cy="42.9" r="2.38"/><circle cx="38.3" cy="40.2" r="2.38"/><circle cx="28" cy="35.1" r="2.38"/><circle cx="38.4" cy="41.5" r="2.38"/><circle cx="51.1" cy="38" r="2.38"/><circle cx="33.7" cy="40.2" r="2.38"/><circle cx="42.4" cy="38.3" r="2.38"/><circle cx="18.9" cy="35.4" r="2.38"/><circle cx="46.6" cy="42.1" r="2.38"/><circle cx="34.5" cy="35.5" r="2.38"/><circle cx="55.5" cy="37" r="2.38"/><circle cx="25.9" cy="38.4" r="2.38"/><circle cx="38.7" cy="37.1" r="2.38"/><circle cx="56.2" cy="38.8" r="2.38"/><circle cx="27.6" cy="42.5" r="2.38"/><circle cx="45.4" cy="35.4" r="2.38"/><circle cx="28" cy="39" r="2.38"/><circle cx="44.2" cy="35.7" r="2.38"/><circle cx="42.6" cy="40.1" r="2.38"/><circle cx="36" cy="39.5" r="2.38"/><circle cx="48" cy="36.6" r="2.38"/><circle cx="28.6" cy="36.6" r="2.38"/><circle cx="40.8" cy="36.8" r="2.38"/><circle cx="37.6" cy="39" r="2.38"/><circle cx="26.7" cy="35.7" r="2.38"/><circle cx="48.2" cy="43" r="2.38"/><circle cx="18.6" cy="37.8" r="2.38"/><circle cx="28.8" cy="34.9" r="2.38"/><circle cx="46.1" cy="40.6" r="2.38"/><circle cx="28.5" cy="42.7" r="2.38"/><circle cx="43.6" cy="1.7" r="2.38"/><circle cx="44.7" cy="2.4" r="2.38"/><circle cx="42.9" cy="2.4" r="2.38"/><circle cx="47" cy="1.9" r="2.38"/><circle cx="50.4" cy="1.6" r="2.38"/><circle cx="36.1" cy="2.6" r="2.38"/><circle cx="44.8" cy="1.6" r="2.38"/><circle cx="35.8" cy="2.6" r="2.38"/><circle cx="43.7" cy="1.6" r="2.38"/><circle cx="49.3" cy="2.3" r="2.38"/><circle cx="50.2" cy="2.2" r="2.38"/><circle cx="42.2" cy="1.9" r="2.38"/><circle cx="43.8" cy="2.1" r="2.38"/><circle cx="44.2" cy="2.1" r="2.38"/><circle cx="46.3" cy="2.5" r="2.38"/><circle cx="47.4" cy="2.3" r="2.38"/><circle cx="49.6" cy="5.4" r="2.38"/><circle cx="51.7" cy="3.7" r="2.38"/><circle cx="35.5" cy="7.9" r="2.38"/><circle cx="58.9" cy="6.6" r="2.38"/><circle cx="57.2" cy="7" r="2.38"/><circle cx="38.5" cy="6.9" r="2.38"/><circle cx="46.8" cy="5.3" r="2.38"/><circle cx="42.4" cy="6.9" r="2.38"/><circle cx="41.9" cy="8.3" r="2.38"/><circle cx="22.2" cy="7.9" r="2.38"/><circle cx="57.7" cy="7.1" r="2.38"/><circle cx="52.6" cy="6.2" r="2.38"/><circle cx="43.4" cy="4" r="2.38"/><circle cx="41.7" cy="4.5" r="2.38"/><circle cx="18.1" cy="8.3" r="2.38"/><circle cx="38.3" cy="8.4" r="2.38"/><circle cx="35.3" cy="3.2" r="2.38"/><circle cx="37.2" cy="7.8" r="2.38"/><circle cx="37.7" cy="4.2" r="2.38"/><circle cx="55.9" cy="5.5" r="2.38"/><circle cx="28.1" cy="7.7" r="2.38"/><circle cx="37.5" cy="5.8" r="2.38"/><circle cx="42.7" cy="4.8" r="2.38"/><circle cx="47.7" cy="4.4" r="2.38"/><circle cx="31.7" cy="3.7" r="2.38"/><circle cx="48.9" cy="3.3" r="2.38"/><circle cx="42.4" cy="2.9" r="2.38"/><circle cx="53.1" cy="8" r="2.38"/><circle cx="41" cy="7.4" r="2.38"/><circle cx="18.1" cy="7.3" r="2.38"/><circle cx="19.7" cy="1.9" r="2.38"/><circle cx="7.4" cy="8.4" r="2.38"/><circle cx="5.5" cy="24" r="2.38"/><circle cx="3" cy="29.6" r="2.38"/><circle cx="8" cy="43.6" r="2.38"/><circle cx="73.7" cy="25.9" r="2.38"/><circle cx="79.3" cy="33.1" r="2.38"/><circle cx="68.7" cy="33.4" r="2.38"/><circle cx="68" cy="11.5" r="2.38"/><circle cx="22.4" cy="40.3" r="2.38"/><circle cx="28.7" cy="43.4" r="2.38"/><circle cx="52.4" cy="43.4" r="2.38"/></g></svg>
<svg x="437.44" y="82.37" width="82.43" height="46.21"><path class="k" d="M36.56 2.13h1M40.56 2.13h2M55.56 2.13h1M36.56 3.13h1M40.56 3.13h1M27.56 4.13h1M31.56 4.13h1M35.56 4.13h3M39.56 4.13h3M44.56 4.13h1M51.56 4.13h2M56.56 4.13h1M26.56 5.13h6M36.56 5.13h1M40.56 5.13h4M50.56 5.13h2M23.56 6.13h10M35.56 6.13h3M39.56 6.13h6M49.56 6.13h4M54.56 6.13h1M56.56 6.13h2M21.56 7.13h25M47.56 7.13h16M20.56 8.13h44M67.56 8.13h2M19.56 9.13h46M66.56 9.13h2M15.56 10.13h1M19.56 10.13h50M70.56 10.13h1M13.56 11.13h2M16.56 11.13h1M18.56 11.13h52M12.56 12.13h1M17.56 12.13h53M11.56 13.13h1M16.56 13.13h55M11.56 14.13h1M16.56 14.13h56M12.56 15.13h1M15.56 15.13h55M13.56 16.13h2M16.56 16.13h53M17.56 17.13h53M17.56 18.13h52M13.56 19.13h2M16.56 19.13h52M14.56 20.13h53M15.56 21.13h53M69.56 21.13h2M15.56 22.13h58M16.56 23.13h55M72.56 23.13h1M74.56 23.13h1M17.56 24.13h53M17.56 25.13h54M16.56 26.13h52M70.56 26.13h1M72.56 26.13h1M12.56 27.13h55M14.56 28.13h54M15.56 29.13h55M14.56 30.13h55M13.56 31.13h57M15.56 32.13h55M16.56 33.13h55M72.56 33.13h1M16.56 34.13h54M71.56 34.13h1M18.56 35.13h1M20.56 35.13h44M65.56 35.13h3M23.56 36.13h8M33.56 36.13h25M66.56 36.13h1M24.56 37.13h6M35.56 37.13h11M48.56 37.13h1M50.56 37.13h1M52.56 37.13h3M69.56 37.13h1M27.56 38.13h2M38.56 38.13h4M43.56 38.13h1M28.56 39.13h1M39.56 39.13h1M49.56 40.13h1M24.56 41.13h1M41.56 41.13h1M48.56 41.13h1M37.56 42.13h1M39.56 42.13h5M36.56 43.13h6M36.56 44.13h5M40.56 45.13h2"/><g class="p"><circle cx="45.7" cy="8.8" r="2.38"/><circle cx="74.9" cy="16.2" r="2.38"/><circle cx="58.3" cy="33" r="2.38"/><circle cx="59.3" cy="9" r="2.38"/><circle cx="73" cy="23.9" r="2.38"/><circle cx="57.5" cy="33.4" r="2.38"/><circle cx="39.1" cy="8.4" r="2.38"/><circle cx="51.3" cy="7.8" r="2.38"/><circle cx="72.2" cy="11" r="2.38"/><circle cx="69.5" cy="26.1" r="2.38"/><circle cx="31.4" cy="8.4" r="2.38"/><circle cx="12.2" cy="10" r="2.38"/><circle cx="33.2" cy="33" r="2.38"/><circle cx="70.9" cy="26.8" r="2.38"/><circle cx="38.7" cy="9.2" r="2.38"/><circle cx="49.7" cy="34.1" r="2.38"/><circle cx="51.8" cy="34.3" r="2.38"/><circle cx="51.4" cy="34.6" r="2.38"/><circle cx="47.7" cy="34" r="2.38"/><circle cx="35" cy="8.9" r="2.38"/><circle cx="45.6" cy="8.4" r="2.38"/><circle cx="37.1" cy="7.8" r="2.38"/><circle cx="24.2" cy="34.7" r="2.38"/><circle cx="39.5" cy="9.3" r="2.38"/><circle cx="71.6" cy="11.9" r="2.38"/><circle cx="62.6" cy="9.3" r="2.38"/><circle cx="63.3" cy="10.4" r="2.38"/><circle cx="22.3" cy="9.9" r="2.38"/><circle cx="16.3" cy="16.8" r="2.38"/><circle cx="14.7" cy="29.7" r="2.38"/><circle cx="64.4" cy="34.5" r="2.38"/><circle cx="62" cy="34.1" r="2.38"/><circle cx="69.8" cy="34.5" r="2.38"/><circle cx="15.7" cy="24.4" r="2.38"/><circle cx="55.7" cy="9" r="2.38"/><circle cx="65.7" cy="20.7" r="2.38"/><circle cx="53.1" cy="35.3" r="2.38"/><circle cx="15.9" cy="23.8" r="2.38"/><circle cx="68.3" cy="23.6" r="2.38"/><circle cx="46.4" cy="9.6" r="2.38"/><circle cx="34.9" cy="34.2" r="2.38"/><circle cx="66.9" cy="14.7" r="2.38"/><circle cx="59.5" cy="33.7" r="2.38"/><circle cx="35.4" cy="8.9" r="2.38"/><circle cx="16.9" cy="32.8" r="2.38"/><circle cx="63.4" cy="33.8" r="2.38"/><circle cx="22.1" cy="33.3" r="2.38"/><circle cx="63.7" cy="10.8" r="2.38"/><circle cx="50.3" cy="8.2" r="2.38"/><circle cx="46.3" cy="8.6" r="2.38"/><circle cx="65.9" cy="25.3" r="2.38"/><circle cx="45.6" cy="34.7" r="2.38"/><circle cx="20.4" cy="12.9" r="2.38"/><circle cx="54.8" cy="35.2" r="2.38"/><circle cx="16.4" cy="32" r="2.38"/><circle cx="57.8" cy="8.3" r="2.38"/><circle cx="65.8" cy="28.2" r="2.38"/><circle cx="51" cy="34.3" r="2.38"/><circle cx="20.8" cy="33" r="2.38"/><circle cx="50.9" cy="34.9" r="2.38"/><circle cx="53.6" cy="8.8" r="2.38"/><circle cx="17.8" cy="12.6" r="2.38"/><circle cx="43.1" cy="35.3" r="2.38"/><circle cx="63.6" cy="11.5" r="2.38"/><circle cx="49" cy="9.4" r="2.38"/><circle cx="19.8" cy="16.3" r="2.38"/><circle cx="21.8" cy="33.7" r="2.38"/><circle cx="46.6" cy="34.7" r="2.38"/><circle cx="47.4" cy="10.3" r="2.38"/><circle cx="33.6" cy="33.1" r="2.38"/><circle cx="19.7" cy="27.1" r="2.38"/><circle cx="46" cy="10.2" r="2.38"/><circle cx="57.3" cy="33.2" r="2.38"/><circle cx="65.5" cy="11.2" r="2.38"/><circle cx="35.1" cy="9.5" r="2.38"/><circle cx="35" cy="8.4" r="2.38"/><circle cx="36.2" cy="9.1" r="2.38"/><circle cx="34.7" cy="34.4" r="2.38"/><circle cx="25.2" cy="8.5" r="2.38"/><circle cx="48.9" cy="9.9" r="2.38"/><circle cx="66.7" cy="18.5" r="2.38"/><circle cx="68.5" cy="14.6" r="2.38"/><circle cx="53.7" cy="8.8" r="2.38"/><circle cx="34.8" cy="34.6" r="2.38"/><circle cx="56.2" cy="8.7" r="2.38"/><circle cx="62.6" cy="10.3" r="2.38"/><circle cx="18.7" cy="15.6" r="2.38"/><circle cx="49.8" cy="35.1" r="2.38"/><circle cx="30.1" cy="35.4" r="2.38"/><circle cx="34.8" cy="8.6" r="2.38"/><circle cx="48.6" cy="9.3" r="2.38"/><circle cx="69.5" cy="15.5" r="2.38"/><circle cx="61.2" cy="32.9" r="2.38"/><circle cx="69.9" cy="14.5" r="2.38"/><circle cx="20.7" cy="12.9" r="2.38"/><circle cx="67.5" cy="22.2" r="2.38"/><circle cx="11.2" cy="17.6" r="2.38"/><circle cx="32.6" cy="33.5" r="2.38"/><circle cx="67.4" cy="15.4" r="2.38"/><circle cx="48.8" cy="34.4" r="2.38"/><circle cx="62.4" cy="10.3" r="2.38"/><circle cx="57.4" cy="34.9" r="2.38"/><circle cx="11.1" cy="24.2" r="2.38"/><circle cx="50.4" cy="8.4" r="2.38"/><circle cx="70.7" cy="21.2" r="2.38"/><circle cx="43.6" cy="35" r="2.38"/><circle cx="58.5" cy="34.6" r="2.38"/><circle cx="25.4" cy="34" r="2.38"/><circle cx="54.4" cy="8.8" r="2.38"/><circle cx="68" cy="11.9" r="2.38"/><circle cx="48.8" cy="34" r="2.38"/><circle cx="63.4" cy="10.7" r="2.38"/><circle cx="51" cy="8" r="2.38"/><circle cx="31.3" cy="34.4" r="2.38"/><circle cx="37.9" cy="8.4" r="2.38"/><circle cx="71.8" cy="34.9" r="2.38"/><circle cx="17.2" cy="34.9" r="2.38"/><circle cx="15.4" cy="26.1" r="2.38"/><circle cx="56.2" cy="9.4" r="2.38"/><circle cx="68.8" cy="11.9" r="2.38"/><circle cx="68.7" cy="8.6" r="2.38"/><circle cx="50.4" cy="34" r="2.38"/><circle cx="65.6" cy="12.3" r="2.38"/><circle cx="31.2" cy="34.4" r="2.38"/><circle cx="46.6" cy="34.1" r="2.38"/><circle cx="56.2" cy="9" r="2.38"/><circle cx="69.1" cy="32.1" r="2.38"/><circle cx="67.1" cy="25" r="2.38"/><circle cx="65.3" cy="19.7" r="2.38"/><circle cx="45.8" cy="34.5" r="2.38"/><circle cx="52.4" cy="8.3" r="2.38"/><circle cx="26" cy="7.6" r="2.38"/><circle cx="20.3" cy="24.6" r="2.38"/><circle cx="70.9" cy="23.9" r="2.38"/><circle cx="36.8" cy="36.1" r="2.38"/><circle cx="52.1" cy="34.9" r="2.38"/><circle cx="66.3" cy="33.5" r="2.38"/><circle cx="37.7" cy="9.3" r="2.38"/><circle cx="40.5" cy="7.8" r="2.38"/><circle cx="25.2" cy="8.8" r="2.38"/><circle cx="67.8" cy="11" r="2.38"/><circle cx="13.1" cy="10.7" r="2.38"/><circle cx="58.8" cy="8.5" r="2.38"/><circle cx="53.5" cy="9.2" r="2.38"/><circle cx="31.8" cy="33.6" r="2.38"/><circle cx="24.8" cy="34.9" r="2.38"/><circle cx="20.4" cy="17.9" r="2.38"/><circle cx="19.5" cy="23" r="2.38"/><circle cx="34.9" cy="34.7" r="2.38"/><circle cx="49.9" cy="33.9" r="2.38"/><circle cx="26.9" cy="7.7" r="2.38"/><circle cx="31.9" cy="33" r="2.38"/><circle cx="44.6" cy="8.7" r="2.38"/><circle cx="66.2" cy="29.1" r="2.38"/><circle cx="20.6" cy="34.6" r="2.38"/><circle cx="66.4" cy="32.6" r="2.38"/><circle cx="54.6" cy="8.8" r="2.38"/><circle cx="42.2" cy="35.4" r="2.38"/><circle cx="66" cy="28.3" r="2.38"/><circle cx="68.2" cy="30.8" r="2.38"/><circle cx="50.5" cy="8.2" r="2.38"/><circle cx="19.6" cy="16.6" r="2.38"/><circle cx="73.8" cy="20.1" r="2.38"/><circle cx="68.4" cy="17.2" r="2.38"/><circle cx="67" cy="33.9" r="2.38"/><circle cx="69.7" cy="10.4" r="2.38"/><circle cx="70.1" cy="35.4" r="2.38"/><circle cx="18.8" cy="24.7" r="2.38"/><circle cx="65.2" cy="34.4" r="2.38"/><circle cx="69.5" cy="9.2" r="2.38"/><circle cx="17.2" cy="8.4" r="2.38"/><circle cx="13.3" cy="12.5" r="2.38"/><circle cx="12.4" cy="16.2" r="2.38"/><circle cx="33.9" cy="33.9" r="2.38"/><circle cx="64.6" cy="10.9" r="2.38"/><circle cx="14.8" cy="12.9" r="2.38"/><circle cx="11" cy="21" r="2.38"/><circle cx="46.3" cy="10.4" r="2.38"/><circle cx="44.3" cy="9" r="2.38"/><circle cx="67.2" cy="34" r="2.38"/><circle cx="16.7" cy="18.4" r="2.38"/><circle cx="68" cy="35" r="2.38"/><circle cx="61.8" cy="8.2" r="2.38"/><circle cx="74.4" cy="14.2" r="2.38"/><circle cx="21.2" cy="8.5" r="2.38"/><circle cx="17.6" cy="17.8" r="2.38"/><circle cx="11.2" cy="11.9" r="2.38"/><circle cx="14.5" cy="31.7" r="2.38"/><circle cx="65.3" cy="18.3" r="2.38"/><circle cx="47.9" cy="9" r="2.38"/><circle cx="22.7" cy="8.9" r="2.38"/><circle cx="43.8" cy="7.6" r="2.38"/><circle cx="18.8" cy="31.7" r="2.38"/><circle cx="75.2" cy="33" r="2.38"/><circle cx="38.2" cy="8.8" r="2.38"/><circle cx="21.2" cy="7.9" r="2.38"/><circle cx="69.2" cy="25.6" r="2.38"/><circle cx="31.8" cy="7.7" r="2.38"/><circle cx="38.8" cy="8.9" r="2.38"/><circle cx="64.2" cy="10.9" r="2.38"/><circle cx="19.5" cy="17.7" r="2.38"/><circle cx="66.5" cy="17.3" r="2.38"/><circle cx="48.6" cy="8.8" r="2.38"/><circle cx="57.7" cy="34.3" r="2.38"/><circle cx="13.6" cy="13.9" r="2.38"/><circle cx="49.6" cy="33.9" r="2.38"/><circle cx="35.2" cy="33.7" r="2.38"/><circle cx="56" cy="7.8" r="2.38"/><circle cx="44" cy="8.4" r="2.38"/><circle cx="67.4" cy="27.5" r="2.38"/><circle cx="34.4" cy="33.1" r="2.38"/><circle cx="75.1" cy="18.3" r="2.38"/><circle cx="38.9" cy="35.7" r="2.38"/><circle cx="33.9" cy="7.8" r="2.38"/><circle cx="34.1" cy="8.5" r="2.38"/><circle cx="73" cy="24.6" r="2.38"/><circle cx="54.1" cy="8.9" r="2.38"/><circle cx="26" cy="8.3" r="2.38"/><circle cx="17.2" cy="30.5" r="2.38"/><circle cx="24.9" cy="34" r="2.38"/><circle cx="40.9" cy="9" r="2.38"/><circle cx="33.8" cy="32.9" r="2.38"/><circle cx="56.2" cy="35" r="2.38"/><circle cx="18.4" cy="21.6" r="2.38"/><circle cx="18.7" cy="32.5" r="2.38"/><circle cx="61.2" cy="32.9" r="2.38"/><circle cx="15.7" cy="18.9" r="2.38"/><circle cx="48.7" cy="9.7" r="2.38"/><circle cx="67.4" cy="31.4" r="2.38"/><circle cx="13.8" cy="27.6" r="2.38"/><circle cx="57.9" cy="34.2" r="2.38"/><circle cx="13.8" cy="21.9" r="2.38"/><circle cx="58" cy="9.3" r="2.38"/><circle cx="19.2" cy="19.5" r="2.38"/><circle cx="13.7" cy="13.9" r="2.38"/><circle cx="74.2" cy="34.6" r="2.38"/><circle cx="35.5" cy="8.9" r="2.38"/><circle cx="72.2" cy="11.3" r="2.38"/><circle cx="67.4" cy="22.8" r="2.38"/><circle cx="18.4" cy="8.3" r="2.38"/><circle cx="18" cy="17" r="2.38"/><circle cx="68.2" cy="13.1" r="2.38"/><circle cx="19.3" cy="20.2" r="2.38"/><circle cx="36.7" cy="8.6" r="2.38"/><circle cx="51.7" cy="8.6" r="2.38"/><circle cx="15.3" cy="29.9" r="2.38"/><circle cx="60.7" cy="8.2" r="2.38"/><circle cx="36.8" cy="9" r="2.38"/><circle cx="14.1" cy="24.4" r="2.38"/><circle cx="48.4" cy="33.9" r="2.38"/><circle cx="53.1" cy="9.3" r="2.38"/><circle cx="69.4" cy="12.6" r="2.38"/><circle cx="34.7" cy="34.2" r="2.38"/><circle cx="24.6" cy="33.8" r="2.38"/><circle cx="65.7" cy="7.6" r="2.38"/><circle cx="54.5" cy="9.3" r="2.38"/><circle cx="45.6" cy="35.4" r="2.38"/><circle cx="19.9" cy="17.6" r="2.38"/><circle cx="45.2" cy="34.2" r="2.38"/><circle cx="19.9" cy="23.8" r="2.38"/><circle cx="54.2" cy="8.4" r="2.38"/><circle cx="18.1" cy="29.1" r="2.38"/><circle cx="15.1" cy="14.4" r="2.38"/><circle cx="56.3" cy="8.6" r="2.38"/><circle cx="74.9" cy="25.4" r="2.38"/><circle cx="59.2" cy="8.8" r="2.38"/><circle cx="37.1" cy="8.8" r="2.38"/><circle cx="25.3" cy="34.2" r="2.38"/><circle cx="34.9" cy="34.2" r="2.38"/><circle cx="46.1" cy="8.6" r="2.38"/><circle cx="18.6" cy="25.2" r="2.38"/><circle cx="32.6" cy="33.1" r="2.38"/><circle cx="33.2" cy="9.1" r="2.38"/><circle cx="42.9" cy="34.9" r="2.38"/><circle cx="34.7" cy="33.4" r="2.38"/><circle cx="52.1" cy="34.8" r="2.38"/><circle cx="56.2" cy="35.7" r="2.38"/><circle cx="45.1" cy="8.9" r="2.38"/><circle cx="19.1" cy="13.8" r="2.38"/><circle cx="51.3" cy="8.5" r="2.38"/><circle cx="20" cy="16.5" r="2.38"/><circle cx="47.6" cy="9.2" r="2.38"/><circle cx="19.6" cy="12.5" r="2.38"/><circle cx="68.4" cy="21.4" r="2.38"/><circle cx="45.5" cy="9.4" r="2.38"/><circle cx="52.6" cy="34.8" r="2.38"/><circle cx="69.7" cy="9.1" r="2.38"/><circle cx="19.5" cy="22.2" r="2.38"/><circle cx="34" cy="9" r="2.38"/><circle cx="30.2" cy="34.7" r="2.38"/><circle cx="45.5" cy="9.8" r="2.38"/><circle cx="66" cy="28.8" r="2.38"/><circle cx="66.9" cy="17.7" r="2.38"/><circle cx="16.2" cy="18.7" r="2.38"/><circle cx="62.3" cy="33.1" r="2.38"/><circle cx="44.6" cy="9.2" r="2.38"/><circle cx="73" cy="23.9" r="2.38"/><circle cx="34.1" cy="34.8" r="2.38"/><circle cx="22.8" cy="33.5" r="2.38"/><circle cx="53.4" cy="8.7" r="2.38"/><circle cx="49" cy="9.4" r="2.38"/><circle cx="74.9" cy="20.6" r="2.38"/><circle cx="30" cy="34.6" r="2.38"/><circle cx="22.6" cy="9.4" r="2.38"/><circle cx="24" cy="8.5" r="2.38"/><circle cx="70.5" cy="22.9" r="2.38"/><circle cx="37" cy="8.5" r="2.38"/><circle cx="50.8" cy="8.4" r="2.38"/><circle cx="55.6" cy="9.2" r="2.38"/><circle cx="15.1" cy="28.8" r="2.38"/><circle cx="70.1" cy="30" r="2.38"/><circle cx="33.8" cy="34.5" r="2.38"/><circle cx="16.6" cy="17.6" r="2.38"/><circle cx="69.2" cy="27" r="2.38"/><circle cx="60" cy="33.6" r="2.38"/><circle cx="58.2" cy="9.1" r="2.38"/><circle cx="41.9" cy="8.1" r="2.38"/><circle cx="57.6" cy="33.6" r="2.38"/><circle cx="35.9" cy="34.5" r="2.38"/><circle cx="49.9" cy="8.8" r="2.38"/><circle cx="24.4" cy="33.3" r="2.38"/><circle cx="19.5" cy="11.2" r="2.38"/><circle cx="71.3" cy="31.8" r="2.38"/><circle cx="38.4" cy="8.3" r="2.38"/><circle cx="13.1" cy="29.5" r="2.38"/><circle cx="35.8" cy="44" r="2.38"/><circle cx="47.4" cy="43.9" r="2.38"/><circle cx="41.3" cy="43.9" r="2.38"/><circle cx="41" cy="43.6" r="2.38"/><circle cx="34.2" cy="43.4" r="2.38"/><circle cx="31.5" cy="43.2" r="2.38"/><circle cx="46.3" cy="43.9" r="2.38"/><circle cx="41.3" cy="43.4" r="2.38"/><circle cx="36.1" cy="43.7" r="2.38"/><circle cx="60.6" cy="43.2" r="2.38"/><circle cx="42.8" cy="43.4" r="2.38"/><circle cx="45.8" cy="43.8" r="2.38"/><circle cx="43.5" cy="44" r="2.38"/><circle cx="38.3" cy="43.5" r="2.38"/><circle cx="23" cy="43.7" r="2.38"/><circle cx="35.6" cy="43" r="2.38"/><circle cx="62.6" cy="40.9" r="2.38"/><circle cx="26.4" cy="40.7" r="2.38"/><circle cx="53.6" cy="43.2" r="2.38"/><circle cx="53.4" cy="40.8" r="2.38"/><circle cx="62.2" cy="40.6" r="2.38"/><circle cx="48" cy="38.2" r="2.38"/><circle cx="28.6" cy="37.2" r="2.38"/><circle cx="27.1" cy="35.1" r="2.38"/><circle cx="56" cy="34.9" r="2.38"/><circle cx="40.8" cy="41" r="2.38"/><circle cx="26.7" cy="39.9" r="2.38"/><circle cx="30.9" cy="37.7" r="2.38"/><circle cx="45.3" cy="35.9" r="2.38"/><circle cx="22.7" cy="41.1" r="2.38"/><circle cx="35.1" cy="35.4" r="2.38"/><circle cx="60.4" cy="42.5" r="2.38"/><circle cx="38.3" cy="41.1" r="2.38"/><circle cx="52.7" cy="39.2" r="2.38"/><circle cx="28" cy="36.8" r="2.38"/><circle cx="54.8" cy="37.4" r="2.38"/><circle cx="53.8" cy="34.8" r="2.38"/><circle cx="40.6" cy="41.8" r="2.38"/><circle cx="42.6" cy="40.5" r="2.38"/><circle cx="43.3" cy="35.2" r="2.38"/><circle cx="50.7" cy="38.5" r="2.38"/><circle cx="31.5" cy="36.8" r="2.38"/><circle cx="23.2" cy="38.4" r="2.38"/><circle cx="24.9" cy="39.1" r="2.38"/><circle cx="51.4" cy="38" r="2.38"/><circle cx="42.3" cy="40.9" r="2.38"/><circle cx="49.1" cy="39" r="2.38"/><circle cx="43.8" cy="38.9" r="2.38"/><circle cx="42.2" cy="40" r="2.38"/><circle cx="40.7" cy="40.7" r="2.38"/><circle cx="40.6" cy="2.2" r="2.38"/><circle cx="47.4" cy="2.3" r="2.38"/><circle cx="46.2" cy="2" r="2.38"/><circle cx="30.6" cy="1.8" r="2.38"/><circle cx="38.8" cy="1.8" r="2.38"/><circle cx="17.9" cy="1.6" r="2.38"/><circle cx="35.9" cy="2.3" r="2.38"/><circle cx="58.5" cy="1.6" r="2.38"/><circle cx="37.6" cy="2" r="2.38"/><circle cx="58.1" cy="2.6" r="2.38"/><circle cx="52" cy="2.3" r="2.38"/><circle cx="47.5" cy="2.2" r="2.38"/><circle cx="20.8" cy="2" r="2.38"/><circle cx="49.9" cy="1.8" r="2.38"/><circle cx="39.7" cy="1.6" r="2.38"/><circle cx="54.9" cy="1.9" r="2.38"/><circle cx="56.6" cy="8.2" r="2.38"/><circle cx="34.7" cy="6.1" r="2.38"/><circle cx="38" cy="6.7" r="2.38"/><circle cx="35.2" cy="5.6" r="2.38"/><circle cx="54.4" cy="5.7" r="2.38"/><circle cx="60.2" cy="6.9" r="2.38"/><circle cx="45.5" cy="8.4" r="2.38"/><circle cx="51.4" cy="4.5" r="2.38"/><circle cx="37.9" cy="5.7" r="2.38"/><circle cx="31" cy="2.9" r="2.38"/><circle cx="25.3" cy="2.8" r="2.38"/><circle cx="54.6" cy="3.5" r="2.38"/><circle cx="46.4" cy="7.4" r="2.38"/><circle cx="43.1" cy="7.6" r="2.38"/><circle cx="37.5" cy="7.7" r="2.38"/><circle cx="26.6" cy="5.8" r="2.38"/><circle cx="44" cy="2.7" r="2.38"/><circle cx="42.1" cy="6.2" r="2.38"/><circle cx="23.9" cy="8" r="2.38"/><circle cx="28.9" cy="5.6" r="2.38"/><circle cx="41.7" cy="5.8" r="2.38"/><circle cx="25.6" cy="7.6" r="2.38"/><circle cx="42.7" cy="6.7" r="2.38"/><circle cx="55.6" cy="8.3" r="2.38"/><circle cx="57" cy="3.3" r="2.38"/><circle cx="29.8" cy="2.7" r="2.38"/><circle cx="25" cy="8.4" r="2.38"/><circle cx="25.9" cy="3.1" r="2.38"/><circle cx="62.8" cy="8" r="2.38"/><circle cx="50.2" cy="2.5" r="2.38"/><circle cx="31.4" cy="6.3" r="2.38"/><circle cx="38.5" cy="3.3" r="2.38"/><circle cx="3.3" cy="16.9" r="2.38"/><circle cx="7.3" cy="22.1" r="2.38"/><circle cx="5.4" cy="29.6" r="2.38"/><circle cx="9.2" cy="25.9" r="2.38"/><circle cx="7.9" cy="8.4" r="2.38"/><circle cx="14.8" cy="3.1" r="2.38"/><circle cx="69.8" cy="5.3" r="2.38"/><circle cx="79.8" cy="10.3" r="2.38"/><circle cx="79.8" cy="14.6" r="2.38"/><circle cx="77.3" cy="24.6" r="2.38"/><circle cx="76.7" cy="34" r="2.38"/><circle cx="75.4" cy="18.4" r="2.38"/><circle cx="19.8" cy="39.6" r="2.38"/><circle cx="24.8" cy="42.8" r="2.38"/><circle cx="29.8" cy="43.4" r="2.38"/><circle cx="39.8" cy="43.6" r="2.38"/><circle cx="51.1" cy="43.4" r="2.38"/><circle cx="61.1" cy="40.3" r="2.38"/><circle cx="67.9" cy="37.1" r="2.38"/></g></svg>
<svg x="532.54" y="82.37" width="82.43" height="46.21"><path class="k" d="M46.46 1.13h3M42.46 2.13h1M46.46 2.13h3M38.46 3.13h1M40.46 3.13h4M45.46 3.13h4M32.46 4.13h1M39.46 4.13h10M58.46 4.13h1M32.46 5.13h3M40.46 5.13h8M51.46 5.13h2M57.46 5.13h2M24.46 6.13h2M28.46 6.13h1M31.46 6.13h6M39.46 6.13h10M50.46 6.13h4M56.46 6.13h4M24.46 7.13h41M24.46 8.13h42M23.46 9.13h45M22.46 10.13h46M18.46 11.13h1M22.46 11.13h46M23.46 12.13h45M23.46 13.13h46M23.46 14.13h45M18.46 15.13h1M22.46 15.13h45M18.46 16.13h2M21.46 16.13h46M22.46 17.13h45M19.46 18.13h1M21.46 18.13h44M66.46 18.13h1M18.46 19.13h46M19.46 20.13h46M20.46 21.13h44M19.46 22.13h45M18.46 23.13h1M20.46 23.13h45M21.46 24.13h43M21.46 25.13h43M18.46 26.13h1M20.46 26.13h45M15.46 27.13h1M17.46 27.13h47M65.46 27.13h1M14.46 28.13h48M13.46 29.13h1M15.46 29.13h46M12.46 30.13h1M16.46 30.13h45M64.46 30.13h2M16.46 31.13h46M63.46 31.13h2M16.46 32.13h47M17.46 33.13h45M17.46 34.13h45M17.46 35.13h44M18.46 36.13h5M25.46 36.13h30M56.46 36.13h4M29.46 37.13h1M31.46 37.13h1M38.46 37.13h10M50.46 37.13h2M39.46 38.13h8M38.46 39.13h2M41.46 39.13h1M43.46 39.13h1M45.46 39.13h3M34.46 40.13h1M38.46 40.13h1M46.46 40.13h2M28.46 41.13h1M31.46 41.13h1M33.46 41.13h2M38.46 41.13h2M41.46 41.13h1M43.46 41.13h1M45.46 41.13h1M30.46 42.13h4M35.46 42.13h1M37.46 42.13h2M42.46 42.13h3M31.46 43.13h2M36.46 43.13h2M41.46 43.13h1M43.46 43.13h3M30.46 44.13h2M36.46 44.13h1M44.46 44.13h1M35.46 45.13h1"/><g class="p"><circle cx="19.7" cy="17.4" r="2.38"/><circle cx="61.6" cy="9.4" r="2.38"/><circle cx="50.5" cy="34.4" r="2.38"/><circle cx="60.1" cy="30.8" r="2.38"/><circle cx="24.6" cy="33.4" r="2.38"/><circle cx="65.4" cy="15.9" r="2.38"/><circle cx="56.5" cy="8.2" r="2.38"/><circle cx="50.1" cy="9.4" r="2.38"/><circle cx="69.3" cy="25.9" r="2.38"/><circle cx="21.1" cy="28" r="2.38"/><circle cx="66.8" cy="8.6" r="2.38"/><circle cx="66.7" cy="13.1" r="2.38"/><circle cx="54.9" cy="8.6" r="2.38"/><circle cx="38.4" cy="34.2" r="2.38"/><circle cx="56.4" cy="9.2" r="2.38"/><circle cx="65.9" cy="10.1" r="2.38"/><circle cx="34.6" cy="34" r="2.38"/><circle cx="20.5" cy="35.3" r="2.38"/><circle cx="20.8" cy="13.4" r="2.38"/><circle cx="61.7" cy="23.7" r="2.38"/><circle cx="34.9" cy="33.8" r="2.38"/><circle cx="20.3" cy="24.6" r="2.38"/><circle cx="70.5" cy="19" r="2.38"/><circle cx="70.8" cy="12.1" r="2.38"/><circle cx="54.1" cy="34.8" r="2.38"/><circle cx="21.1" cy="13.2" r="2.38"/><circle cx="26.5" cy="9.4" r="2.38"/><circle cx="48.2" cy="34" r="2.38"/><circle cx="17.8" cy="27.7" r="2.38"/><circle cx="67.5" cy="25.2" r="2.38"/><circle cx="52.8" cy="35.2" r="2.38"/><circle cx="30.6" cy="8.8" r="2.38"/><circle cx="59.5" cy="34" r="2.38"/><circle cx="39" cy="34" r="2.38"/><circle cx="21.2" cy="18.7" r="2.38"/><circle cx="40.9" cy="8.8" r="2.38"/><circle cx="22.3" cy="19.9" r="2.38"/><circle cx="29.4" cy="8.9" r="2.38"/><circle cx="37.9" cy="9.4" r="2.38"/><circle cx="60.7" cy="8.7" r="2.38"/><circle cx="51.1" cy="9" r="2.38"/><circle cx="34.2" cy="8.1" r="2.38"/><circle cx="72.8" cy="14" r="2.38"/><circle cx="31.3" cy="8.9" r="2.38"/><circle cx="58.4" cy="7.8" r="2.38"/><circle cx="36.4" cy="9.2" r="2.38"/><circle cx="48.4" cy="34.9" r="2.38"/><circle cx="22.5" cy="25.8" r="2.38"/><circle cx="21.4" cy="33.8" r="2.38"/><circle cx="37.2" cy="9.1" r="2.38"/><circle cx="61.5" cy="28.9" r="2.38"/><circle cx="60" cy="34" r="2.38"/><circle cx="47" cy="35.8" r="2.38"/><circle cx="25.3" cy="11.1" r="2.38"/><circle cx="67.2" cy="12.5" r="2.38"/><circle cx="59.4" cy="33.7" r="2.38"/><circle cx="20.2" cy="15.5" r="2.38"/><circle cx="55.9" cy="9" r="2.38"/><circle cx="23" cy="23.1" r="2.38"/><circle cx="50.6" cy="8.6" r="2.38"/><circle cx="40.3" cy="7.7" r="2.38"/><circle cx="63.7" cy="32.8" r="2.38"/><circle cx="19.4" cy="34.3" r="2.38"/><circle cx="26.6" cy="33.6" r="2.38"/><circle cx="16.7" cy="9.7" r="2.38"/><circle cx="19" cy="8.7" r="2.38"/><circle cx="50.1" cy="33.9" r="2.38"/><circle cx="59.1" cy="28.8" r="2.38"/><circle cx="62.9" cy="17.4" r="2.38"/><circle cx="49.1" cy="35" r="2.38"/><circle cx="54.7" cy="34.2" r="2.38"/><circle cx="33.2" cy="34.1" r="2.38"/><circle cx="22.9" cy="26.5" r="2.38"/><circle cx="17.3" cy="28.1" r="2.38"/><circle cx="51.1" cy="8.5" r="2.38"/><circle cx="39.6" cy="9.2" r="2.38"/><circle cx="52.8" cy="34.1" r="2.38"/><circle cx="32.6" cy="8.8" r="2.38"/><circle cx="15.7" cy="29.9" r="2.38"/><circle cx="68.5" cy="16.6" r="2.38"/><circle cx="46.6" cy="35.2" r="2.38"/><circle cx="33.4" cy="35" r="2.38"/><circle cx="32.9" cy="34.1" r="2.38"/><circle cx="60.6" cy="31.9" r="2.38"/><circle cx="22.6" cy="22.9" r="2.38"/><circle cx="67.2" cy="13.2" r="2.38"/><circle cx="41.2" cy="8.8" r="2.38"/><circle cx="36.1" cy="8.4" r="2.38"/><circle cx="21.9" cy="34.7" r="2.38"/><circle cx="60.9" cy="9.4" r="2.38"/><circle cx="50" cy="8.5" r="2.38"/><circle cx="38.2" cy="34.2" r="2.38"/><circle cx="47.5" cy="34.5" r="2.38"/><circle cx="65.8" cy="11.2" r="2.38"/><circle cx="23.4" cy="34.1" r="2.38"/><circle cx="50.1" cy="9.1" r="2.38"/><circle cx="47.3" cy="34.1" r="2.38"/><circle cx="26.9" cy="8.1" r="2.38"/><circle cx="28" cy="34.2" r="2.38"/><circle cx="24.2" cy="23.5" r="2.38"/><circle cx="48.4" cy="9.1" r="2.38"/><circle cx="65.3" cy="17.9" r="2.38"/><circle cx="25.5" cy="12.6" r="2.38"/><circle cx="71.7" cy="21.2" r="2.38"/><circle cx="51.3" cy="34.7" r="2.38"/><circle cx="25.9" cy="14" r="2.38"/><circle cx="62" cy="19.5" r="2.38"/><circle cx="21.8" cy="35.3" r="2.38"/><circle cx="36.1" cy="8.9" r="2.38"/><circle cx="65.6" cy="17.8" r="2.38"/><circle cx="24.5" cy="11.9" r="2.38"/><circle cx="53.5" cy="9.2" r="2.38"/><circle cx="40.9" cy="7.9" r="2.38"/><circle cx="14.2" cy="27.3" r="2.38"/><circle cx="66.2" cy="31.1" r="2.38"/><circle cx="43.4" cy="35.9" r="2.38"/><circle cx="51.2" cy="8.1" r="2.38"/><circle cx="24.7" cy="8.4" r="2.38"/><circle cx="51.4" cy="8.8" r="2.38"/><circle cx="23.8" cy="22.9" r="2.38"/><circle cx="21" cy="21.8" r="2.38"/><circle cx="23.2" cy="18.4" r="2.38"/><circle cx="24" cy="26.1" r="2.38"/><circle cx="51.6" cy="9" r="2.38"/><circle cx="35.6" cy="34.8" r="2.38"/><circle cx="29.7" cy="34.5" r="2.38"/><circle cx="35.1" cy="34.7" r="2.38"/><circle cx="17.8" cy="18.4" r="2.38"/><circle cx="28.8" cy="9.2" r="2.38"/><circle cx="63.7" cy="20.2" r="2.38"/><circle cx="53.1" cy="8.8" r="2.38"/><circle cx="37.1" cy="34.7" r="2.38"/><circle cx="36" cy="34.4" r="2.38"/><circle cx="39" cy="9.4" r="2.38"/><circle cx="37.1" cy="9.3" r="2.38"/><circle cx="36.5" cy="34.2" r="2.38"/><circle cx="32.4" cy="34.1" r="2.38"/><circle cx="49.8" cy="8.9" r="2.38"/><circle cx="16.9" cy="33.5" r="2.38"/><circle cx="53.9" cy="33.9" r="2.38"/><circle cx="21.3" cy="7.6" r="2.38"/><circle cx="15.9" cy="34.1" r="2.38"/><circle cx="20.7" cy="13.5" r="2.38"/><circle cx="53.4" cy="34.8" r="2.38"/><circle cx="24.1" cy="33.7" r="2.38"/><circle cx="65.6" cy="12.7" r="2.38"/><circle cx="52.6" cy="34.6" r="2.38"/><circle cx="18" cy="31.4" r="2.38"/><circle cx="40" cy="9.3" r="2.38"/><circle cx="59.4" cy="31.7" r="2.38"/><circle cx="51.5" cy="8.9" r="2.38"/><circle cx="63.4" cy="22.4" r="2.38"/><circle cx="67.2" cy="11" r="2.38"/><circle cx="56.7" cy="7.8" r="2.38"/><circle cx="21.2" cy="20.9" r="2.38"/><circle cx="24.5" cy="14.8" r="2.38"/><circle cx="38.3" cy="8.6" r="2.38"/><circle cx="49" cy="9.2" r="2.38"/><circle cx="66.3" cy="14.8" r="2.38"/><circle cx="34.6" cy="34.1" r="2.38"/><circle cx="60.7" cy="8.3" r="2.38"/><circle cx="53.8" cy="8" r="2.38"/><circle cx="49.1" cy="9.4" r="2.38"/><circle cx="59.1" cy="34.6" r="2.38"/><circle cx="64.7" cy="16.2" r="2.38"/><circle cx="38.6" cy="9.1" r="2.38"/><circle cx="51.6" cy="8.4" r="2.38"/><circle cx="60.8" cy="32.9" r="2.38"/><circle cx="33.3" cy="7.5" r="2.38"/><circle cx="35.2" cy="34.2" r="2.38"/><circle cx="64.2" cy="16.7" r="2.38"/><circle cx="59.2" cy="33.3" r="2.38"/><circle cx="49.2" cy="34" r="2.38"/><circle cx="58.7" cy="28.7" r="2.38"/><circle cx="19.4" cy="21.6" r="2.38"/><circle cx="39.9" cy="34.5" r="2.38"/><circle cx="20.2" cy="28.3" r="2.38"/><circle cx="16.4" cy="30.5" r="2.38"/><circle cx="53.6" cy="8.8" r="2.38"/><circle cx="14.6" cy="34.5" r="2.38"/><circle cx="59.1" cy="31.8" r="2.38"/><circle cx="40.1" cy="8.6" r="2.38"/><circle cx="40.9" cy="9" r="2.38"/><circle cx="54.4" cy="35" r="2.38"/><circle cx="65.8" cy="29.5" r="2.38"/><circle cx="34.5" cy="34.9" r="2.38"/><circle cx="71.9" cy="19.2" r="2.38"/><circle cx="34.5" cy="34.7" r="2.38"/><circle cx="37.3" cy="8.9" r="2.38"/><circle cx="62.3" cy="26.4" r="2.38"/><circle cx="18.3" cy="21.7" r="2.38"/><circle cx="66.1" cy="24.6" r="2.38"/><circle cx="61.7" cy="8.3" r="2.38"/><circle cx="39.3" cy="9" r="2.38"/><circle cx="36.1" cy="34.5" r="2.38"/><circle cx="47.2" cy="34.2" r="2.38"/><circle cx="18.2" cy="32.1" r="2.38"/><circle cx="59.4" cy="28" r="2.38"/><circle cx="18.4" cy="31.4" r="2.38"/><circle cx="31" cy="35.1" r="2.38"/><circle cx="25.4" cy="13.1" r="2.38"/><circle cx="55.1" cy="34.4" r="2.38"/><circle cx="52.9" cy="8.6" r="2.38"/><circle cx="28.4" cy="35.1" r="2.38"/><circle cx="24.5" cy="8" r="2.38"/><circle cx="34.1" cy="35.4" r="2.38"/><circle cx="25.6" cy="9.1" r="2.38"/><circle cx="23.6" cy="25.4" r="2.38"/><circle cx="63.6" cy="28.2" r="2.38"/><circle cx="63.3" cy="17.8" r="2.38"/><circle cx="62.4" cy="22.6" r="2.38"/><circle cx="31.3" cy="8.3" r="2.38"/><circle cx="56.6" cy="9.3" r="2.38"/><circle cx="26.6" cy="34.6" r="2.38"/><circle cx="23.1" cy="33.5" r="2.38"/><circle cx="20.4" cy="28.9" r="2.38"/><circle cx="36.7" cy="34.2" r="2.38"/><circle cx="61.9" cy="25.1" r="2.38"/><circle cx="36.6" cy="8.2" r="2.38"/><circle cx="65.3" cy="17.6" r="2.38"/><circle cx="40.2" cy="9.3" r="2.38"/><circle cx="59.4" cy="34.2" r="2.38"/><circle cx="48.6" cy="34.7" r="2.38"/><circle cx="40.5" cy="8.9" r="2.38"/><circle cx="38.5" cy="9.3" r="2.38"/><circle cx="20.4" cy="35.5" r="2.38"/><circle cx="14.7" cy="29" r="2.38"/><circle cx="55.5" cy="8.5" r="2.38"/><circle cx="55.8" cy="34.6" r="2.38"/><circle cx="47.4" cy="8.5" r="2.38"/><circle cx="22.7" cy="9.1" r="2.38"/><circle cx="36.3" cy="34.6" r="2.38"/><circle cx="63.6" cy="7.7" r="2.38"/><circle cx="51" cy="8.5" r="2.38"/><circle cx="14.3" cy="29.9" r="2.38"/><circle cx="37.7" cy="9.3" r="2.38"/><circle cx="26.4" cy="35.2" r="2.38"/><circle cx="50.3" cy="8.7" r="2.38"/><circle cx="26" cy="15" r="2.38"/><circle cx="48.1" cy="34.8" r="2.38"/><circle cx="22.3" cy="17.2" r="2.38"/><circle cx="49.9" cy="33.9" r="2.38"/><circle cx="59" cy="30.5" r="2.38"/><circle cx="23.4" cy="25.8" r="2.38"/><circle cx="38.8" cy="34.2" r="2.38"/><circle cx="59.2" cy="29.3" r="2.38"/><circle cx="26.9" cy="9.9" r="2.38"/><circle cx="61.5" cy="26.5" r="2.38"/><circle cx="56" cy="33.2" r="2.38"/><circle cx="20.9" cy="23.6" r="2.38"/><circle cx="23.3" cy="34.5" r="2.38"/><circle cx="57.1" cy="7.9" r="2.38"/><circle cx="40" cy="8.7" r="2.38"/><circle cx="50.7" cy="34.2" r="2.38"/><circle cx="41.6" cy="8.3" r="2.38"/><circle cx="36.8" cy="34.6" r="2.38"/><circle cx="59.9" cy="30.6" r="2.38"/><circle cx="26.8" cy="33.6" r="2.38"/><circle cx="52.7" cy="8.1" r="2.38"/><circle cx="24.6" cy="34.4" r="2.38"/><circle cx="51.2" cy="34.4" r="2.38"/><circle cx="38.8" cy="34.2" r="2.38"/><circle cx="37.8" cy="35.1" r="2.38"/><circle cx="50.6" cy="33.8" r="2.38"/><circle cx="59.1" cy="7.5" r="2.38"/><circle cx="22.4" cy="33.8" r="2.38"/><circle cx="30.5" cy="33.8" r="2.38"/><circle cx="36.8" cy="35.1" r="2.38"/><circle cx="59.2" cy="30.3" r="2.38"/><circle cx="18.8" cy="29.5" r="2.38"/><circle cx="68.7" cy="10.7" r="2.38"/><circle cx="57.3" cy="33.8" r="2.38"/><circle cx="52.9" cy="34.5" r="2.38"/><circle cx="23.1" cy="23.8" r="2.38"/><circle cx="23.3" cy="26.6" r="2.38"/><circle cx="61.9" cy="22" r="2.38"/><circle cx="51" cy="8.4" r="2.38"/><circle cx="65.5" cy="28.4" r="2.38"/><circle cx="28.4" cy="8.9" r="2.38"/><circle cx="49.5" cy="9.1" r="2.38"/><circle cx="54.3" cy="7.6" r="2.38"/><circle cx="50.1" cy="34.1" r="2.38"/><circle cx="40" cy="8.6" r="2.38"/><circle cx="18.8" cy="29" r="2.38"/><circle cx="61.5" cy="30.1" r="2.38"/><circle cx="65.9" cy="9.4" r="2.38"/><circle cx="46.5" cy="34.7" r="2.38"/><circle cx="37.4" cy="34.1" r="2.38"/><circle cx="63.8" cy="30.5" r="2.38"/><circle cx="47.4" cy="34.7" r="2.38"/><circle cx="48.7" cy="8.4" r="2.38"/><circle cx="18.7" cy="13.1" r="2.38"/><circle cx="66.4" cy="7.9" r="2.38"/><circle cx="35.8" cy="43.9" r="2.38"/><circle cx="33.2" cy="43.1" r="2.38"/><circle cx="40" cy="43.7" r="2.38"/><circle cx="44.3" cy="43.4" r="2.38"/><circle cx="33.8" cy="43.2" r="2.38"/><circle cx="40.2" cy="43" r="2.38"/><circle cx="30.9" cy="43.9" r="2.38"/><circle cx="35.6" cy="43.5" r="2.38"/><circle cx="34.8" cy="43.3" r="2.38"/><circle cx="35.2" cy="43.7" r="2.38"/><circle cx="46.9" cy="43" r="2.38"/><circle cx="28.6" cy="43.9" r="2.38"/><circle cx="30.4" cy="43.3" r="2.38"/><circle cx="33.7" cy="43.5" r="2.38"/><circle cx="44.3" cy="43.6" r="2.38"/><circle cx="34.9" cy="43" r="2.38"/><circle cx="40.2" cy="40.5" r="2.38"/><circle cx="46.1" cy="41" r="2.38"/><circle cx="37.3" cy="41.4" r="2.38"/><circle cx="47.2" cy="38.3" r="2.38"/><circle cx="33.2" cy="34.8" r="2.38"/><circle cx="40.8" cy="41.7" r="2.38"/><circle cx="26.7" cy="41" r="2.38"/><circle cx="29.3" cy="41.8" r="2.38"/><circle cx="32.2" cy="39.1" r="2.38"/><circle cx="49.2" cy="37.6" r="2.38"/><circle cx="45.1" cy="42.1" r="2.38"/><circle cx="32" cy="35.9" r="2.38"/><circle cx="31.8" cy="42.6" r="2.38"/><circle cx="54.5" cy="38" r="2.38"/><circle cx="34.2" cy="38.8" r="2.38"/><circle cx="45.5" cy="37.1" r="2.38"/><circle cx="48.6" cy="38.4" r="2.38"/><circle cx="40.2" cy="40.9" r="2.38"/><circle cx="61.4" cy="35.1" r="2.38"/><circle cx="22.8" cy="37.6" r="2.38"/><circle cx="46.5" cy="40.4" r="2.38"/><circle cx="37.9" cy="41.3" r="2.38"/><circle cx="21.1" cy="35.4" r="2.38"/><circle cx="28.5" cy="35.2" r="2.38"/><circle cx="50.6" cy="37.2" r="2.38"/><circle cx="43.4" cy="36.7" r="2.38"/><circle cx="35.9" cy="41.5" r="2.38"/><circle cx="47.5" cy="37.2" r="2.38"/><circle cx="40.1" cy="36.4" r="2.38"/><circle cx="43.6" cy="35.8" r="2.38"/><circle cx="39.5" cy="35.8" r="2.38"/><circle cx="44.2" cy="39.8" r="2.38"/><circle cx="46" cy="2.2" r="2.38"/><circle cx="41.7" cy="2.5" r="2.38"/><circle cx="53" cy="2.1" r="2.38"/><circle cx="45" cy="2.6" r="2.38"/><circle cx="41" cy="2.6" r="2.38"/><circle cx="51" cy="2.1" r="2.38"/><circle cx="33.5" cy="2.2" r="2.38"/><circle cx="39" cy="2" r="2.38"/><circle cx="48.1" cy="2.4" r="2.38"/><circle cx="34.8" cy="1.6" r="2.38"/><circle cx="38.4" cy="1.6" r="2.38"/><circle cx="51.1" cy="1.6" r="2.38"/><circle cx="58" cy="2.3" r="2.38"/><circle cx="44.5" cy="2.5" r="2.38"/><circle cx="47.9" cy="2" r="2.38"/><circle cx="52.6" cy="2.1" r="2.38"/><circle cx="35.2" cy="2.9" r="2.38"/><circle cx="39.3" cy="5.3" r="2.38"/><circle cx="51.9" cy="5.6" r="2.38"/><circle cx="47" cy="6.4" r="2.38"/><circle cx="44" cy="5.4" r="2.38"/><circle cx="28" cy="4.8" r="2.38"/><circle cx="58.1" cy="5.2" r="2.38"/><circle cx="53.8" cy="8.3" r="2.38"/><circle cx="28.7" cy="8.2" r="2.38"/><circle cx="47.3" cy="3.1" r="2.38"/><circle cx="28.1" cy="3.8" r="2.38"/><circle cx="42.8" cy="5.2" r="2.38"/><circle cx="26.8" cy="6" r="2.38"/><circle cx="51.7" cy="7.7" r="2.38"/><circle cx="38.3" cy="6.5" r="2.38"/><circle cx="33.5" cy="3.3" r="2.38"/><circle cx="48.5" cy="4.9" r="2.38"/><circle cx="59.4" cy="5.8" r="2.38"/><circle cx="45.4" cy="3.6" r="2.38"/><circle cx="47.2" cy="4.6" r="2.38"/><circle cx="61.7" cy="6.2" r="2.38"/><circle cx="48.1" cy="7.7" r="2.38"/><circle cx="40.7" cy="7" r="2.38"/><circle cx="58.9" cy="7.9" r="2.38"/><circle cx="47.4" cy="7.9" r="2.38"/><circle cx="3.2" cy="25.9" r="2.38"/><circle cx="4.5" cy="32.4" r="2.38"/><circle cx="8.8" cy="30.9" r="2.38"/><circle cx="11.3" cy="15.6" r="2.38"/><circle cx="14.2" cy="9" r="2.38"/><circle cx="14.5" cy="37.8" r="2.38"/><circle cx="73.2" cy="9.6" r="2.38"/><circle cx="75.1" cy="12.8" r="2.38"/><circle cx="73.8" cy="29.4" r="2.38"/><circle cx="79.5" cy="29.6" r="2.38"/><circle cx="67.6" cy="35" r="2.38"/><circle cx="58.2" cy="39.4" r="2.38"/><circle cx="26.3" cy="42.8" r="2.38"/><circle cx="46.3" cy="43.4" r="2.38"/></g></svg>
<svg x="57.02" y="141.25" width="82.43" height="46.21"><path class="k" d="M50.98 9.25h1M27.98 10.25h1M41.98 10.25h1M51.98 10.25h1M22.98 11.25h1M26.98 11.25h5M37.98 11.25h1M39.98 11.25h3M47.98 11.25h2M50.98 11.25h3M55.98 11.25h3M19.98 12.25h13M35.98 12.25h8M45.98 12.25h15M63.98 12.25h2M18.98 13.25h50M17.98 14.25h51M17.98 15.25h52M16.98 16.25h53M15.98 17.25h55M2.98 18.25h1M15.98 18.25h54M16.98 19.25h54M72.98 19.25h1M17.98 20.25h53M71.98 20.25h3M78.98 20.25h1M5.98 21.25h1M17.98 21.25h52M72.98 21.25h3M76.98 21.25h3M16.98 22.25h54M71.98 22.25h8M4.98 23.25h2M13.98 23.25h1M17.98 23.25h62M2.98 24.25h3M16.98 24.25h57M75.98 24.25h4M2.98 25.25h3M13.98 25.25h1M15.98 25.25h57M76.98 25.25h2M79.98 25.25h1M2.98 26.25h4M12.98 26.25h61M75.98 26.25h2M3.98 27.25h2M14.98 27.25h58M73.98 27.25h5M79.98 27.25h1M4.98 28.25h1M15.98 28.25h56M74.98 28.25h5M3.98 29.25h2M15.98 29.25h55M74.98 29.25h3M78.98 29.25h1M3.98 30.25h3M15.98 30.25h54M70.98 30.25h1M73.98 30.25h3M4.98 31.25h1M16.98 31.25h52M71.98 31.25h3M4.98 32.25h1M8.98 32.25h1M17.98 32.25h51M5.98 33.25h1M7.98 33.25h1M16.98 33.25h52M4.98 34.25h3M16.98 34.25h53M3.98 35.25h3M17.98 35.25h11M30.98 35.25h2M33.98 35.25h36M18.98 36.25h6M25.98 36.25h2M34.98 36.25h9M44.98 36.25h5M50.98 36.25h3M55.98 36.25h11M68.98 36.25h1M20.98 37.25h3M35.98 37.25h3M39.98 37.25h3M47.98 37.25h1M51.98 37.25h1M57.98 37.25h1M61.98 37.25h4M21.98 38.25h3M36.98 38.25h1M48.98 38.25h1M64.98 38.25h2M22.98 39.25h1M36.98 39.25h1"/><g class="p"><circle cx="30.1" cy="13.8" r="2.38"/><circle cx="34.3" cy="10.9" r="2.38"/><circle cx="36.7" cy="33.9" r="2.38"/><circle cx="25.1" cy="33.7" r="2.38"/><circle cx="66.3" cy="30.6" r="2.38"/><circle cx="38.3" cy="37.9" r="2.38"/><circle cx="67.5" cy="33.5" r="2.38"/><circle cx="50.9" cy="10.8" r="2.38"/><circle cx="22.7" cy="36.5" r="2.38"/><circle cx="47" cy="14" r="2.38"/><circle cx="19.2" cy="30.7" r="2.38"/><circle cx="65" cy="15.1" r="2.38"/><circle cx="49.4" cy="12.2" r="2.38"/><circle cx="20.4" cy="14.2" r="2.38"/><circle cx="49.5" cy="14.4" r="2.38"/><circle cx="42.2" cy="12.2" r="2.38"/><circle cx="25" cy="33.2" r="2.38"/><circle cx="50.4" cy="33" r="2.38"/><circle cx="47.2" cy="15.3" r="2.38"/><circle cx="58.2" cy="14" r="2.38"/><circle cx="59.9" cy="15.2" r="2.38"/><circle cx="67.7" cy="28.7" r="2.38"/><circle cx="66.8" cy="31.4" r="2.38"/><circle cx="29.6" cy="32.2" r="2.38"/><circle cx="48.2" cy="14.1" r="2.38"/><circle cx="65.2" cy="34.6" r="2.38"/><circle cx="20.2" cy="21.3" r="2.38"/><circle cx="65.1" cy="13.2" r="2.38"/><circle cx="28.7" cy="32.6" r="2.38"/><circle cx="21.1" cy="14.8" r="2.38"/><circle cx="25.3" cy="35.8" r="2.38"/><circle cx="67" cy="31.2" r="2.38"/><circle cx="32.4" cy="34.1" r="2.38"/><circle cx="36.9" cy="14.9" r="2.38"/><circle cx="20" cy="21.9" r="2.38"/><circle cx="67.6" cy="30.4" r="2.38"/><circle cx="36.8" cy="14.6" r="2.38"/><circle cx="59" cy="33.9" r="2.38"/><circle cx="27.1" cy="13.8" r="2.38"/><circle cx="43" cy="34.1" r="2.38"/><circle cx="68.7" cy="18.1" r="2.38"/><circle cx="56.8" cy="12.8" r="2.38"/><circle cx="19.2" cy="24.2" r="2.38"/><circle cx="67.2" cy="28.8" r="2.38"/><circle cx="61.9" cy="34.2" r="2.38"/><circle cx="62.9" cy="15.3" r="2.38"/><circle cx="67.9" cy="30.2" r="2.38"/><circle cx="34.2" cy="33.6" r="2.38"/><circle cx="39.5" cy="13.9" r="2.38"/><circle cx="42.4" cy="34.6" r="2.38"/><circle cx="38.9" cy="14.3" r="2.38"/><circle cx="44.1" cy="13.9" r="2.38"/><circle cx="19.4" cy="15.4" r="2.38"/><circle cx="20.6" cy="19.8" r="2.38"/><circle cx="66.2" cy="14.2" r="2.38"/><circle cx="48.9" cy="34.4" r="2.38"/><circle cx="61.2" cy="34.9" r="2.38"/><circle cx="31.8" cy="15.2" r="2.38"/><circle cx="41" cy="34.4" r="2.38"/><circle cx="31.2" cy="14.1" r="2.38"/><circle cx="32" cy="32.5" r="2.38"/><circle cx="49.4" cy="14" r="2.38"/><circle cx="68" cy="22.6" r="2.38"/><circle cx="65.4" cy="35.1" r="2.38"/><circle cx="38" cy="34.7" r="2.38"/><circle cx="58.4" cy="36" r="2.38"/><circle cx="66.8" cy="29.2" r="2.38"/><circle cx="67.6" cy="21.6" r="2.38"/><circle cx="50.5" cy="12.3" r="2.38"/><circle cx="61.4" cy="15.4" r="2.38"/><circle cx="50.4" cy="33.5" r="2.38"/><circle cx="31" cy="33.9" r="2.38"/><circle cx="22.7" cy="14.5" r="2.38"/><circle cx="34.2" cy="15.1" r="2.38"/><circle cx="24.4" cy="37.9" r="2.38"/><circle cx="27.2" cy="34.3" r="2.38"/><circle cx="67.6" cy="32.5" r="2.38"/><circle cx="43.8" cy="14.2" r="2.38"/><circle cx="43.8" cy="13.9" r="2.38"/><circle cx="43.7" cy="36.5" r="2.38"/><circle cx="44.8" cy="14.4" r="2.38"/><circle cx="19.8" cy="32.7" r="2.38"/><circle cx="24" cy="33.9" r="2.38"/><circle cx="63.2" cy="14.2" r="2.38"/><circle cx="43.9" cy="14.7" r="2.38"/><circle cx="19.3" cy="17.3" r="2.38"/><circle cx="51.9" cy="38.8" r="2.38"/><circle cx="24.7" cy="34.2" r="2.38"/><circle cx="65.1" cy="15.4" r="2.38"/><circle cx="67.3" cy="14" r="2.38"/><circle cx="62.3" cy="14.1" r="2.38"/><circle cx="20.5" cy="19.9" r="2.38"/><circle cx="30.3" cy="13.8" r="2.38"/><circle cx="67.8" cy="22.1" r="2.38"/><circle cx="30.4" cy="9.8" r="2.38"/><circle cx="68.6" cy="21.8" r="2.38"/><circle cx="57.9" cy="34.8" r="2.38"/><circle cx="39.4" cy="13.2" r="2.38"/><circle cx="67.2" cy="36.7" r="2.38"/><circle cx="26" cy="12.9" r="2.38"/><circle cx="33.9" cy="14.7" r="2.38"/><circle cx="19.7" cy="23.6" r="2.38"/><circle cx="46.3" cy="34.9" r="2.38"/><circle cx="36.7" cy="13.5" r="2.38"/><circle cx="25.2" cy="13.4" r="2.38"/><circle cx="46.8" cy="13.3" r="2.38"/><circle cx="32.7" cy="32.8" r="2.38"/><circle cx="38.7" cy="34.5" r="2.38"/><circle cx="65.7" cy="33.5" r="2.38"/><circle cx="18.7" cy="34" r="2.38"/><circle cx="58.8" cy="10.6" r="2.38"/><circle cx="52" cy="34.2" r="2.38"/><circle cx="34.6" cy="33.3" r="2.38"/><circle cx="64.8" cy="14.2" r="2.38"/><circle cx="21.1" cy="15.4" r="2.38"/><circle cx="20.9" cy="34.3" r="2.38"/><circle cx="61" cy="34.1" r="2.38"/><circle cx="20.2" cy="30.5" r="2.38"/><circle cx="20.1" cy="14.9" r="2.38"/><circle cx="55.3" cy="38.6" r="2.38"/><circle cx="66.6" cy="15.8" r="2.38"/><circle cx="66.4" cy="15.4" r="2.38"/><circle cx="67.9" cy="29.2" r="2.38"/><circle cx="58.8" cy="35.1" r="2.38"/><circle cx="20.5" cy="23.2" r="2.38"/><circle cx="33.7" cy="14.9" r="2.38"/><circle cx="24.2" cy="13.4" r="2.38"/><circle cx="67.7" cy="20.7" r="2.38"/><circle cx="35.2" cy="14" r="2.38"/><circle cx="22.2" cy="38" r="2.38"/><circle cx="56.8" cy="34.5" r="2.38"/><circle cx="20.3" cy="33.9" r="2.38"/><circle cx="66.2" cy="15.2" r="2.38"/><circle cx="27.9" cy="12.6" r="2.38"/><circle cx="20.1" cy="22.4" r="2.38"/><circle cx="29" cy="11.6" r="2.38"/><circle cx="66.9" cy="37.5" r="2.38"/><circle cx="22" cy="13" r="2.38"/><circle cx="40" cy="11.8" r="2.38"/><circle cx="20.3" cy="17.2" r="2.38"/><circle cx="46.2" cy="33.6" r="2.38"/><circle cx="63.6" cy="36.1" r="2.38"/><circle cx="63.6" cy="35.3" r="2.38"/><circle cx="22.7" cy="13.3" r="2.38"/><circle cx="54.3" cy="34.1" r="2.38"/><circle cx="20.9" cy="34.5" r="2.38"/><circle cx="27" cy="14.5" r="2.38"/><circle cx="19.3" cy="20" r="2.38"/><circle cx="47.4" cy="35" r="2.38"/><circle cx="67.6" cy="23.1" r="2.38"/><circle cx="45" cy="35.6" r="2.38"/><circle cx="52.5" cy="13.1" r="2.38"/><circle cx="29.6" cy="33.4" r="2.38"/><circle cx="65.8" cy="12.1" r="2.38"/><circle cx="20.8" cy="15.1" r="2.38"/><circle cx="67.6" cy="14.9" r="2.38"/><circle cx="50.7" cy="33.6" r="2.38"/><circle cx="38.8" cy="35.6" r="2.38"/><circle cx="67.5" cy="18.4" r="2.38"/><circle cx="21.2" cy="13" r="2.38"/><circle cx="18.8" cy="18.5" r="2.38"/><circle cx="67.6" cy="34.4" r="2.38"/><circle cx="25.9" cy="33.2" r="2.38"/><circle cx="55.7" cy="13.3" r="2.38"/><circle cx="29.1" cy="35.6" r="2.38"/><circle cx="19.3" cy="23.3" r="2.38"/><circle cx="20" cy="30.2" r="2.38"/><circle cx="45" cy="33.1" r="2.38"/><circle cx="19.4" cy="34.1" r="2.38"/><circle cx="50.8" cy="33.8" r="2.38"/><circle cx="31.2" cy="13.7" r="2.38"/><circle cx="40.6" cy="10.5" r="2.38"/><circle cx="45.7" cy="33.2" r="2.38"/><circle cx="39.1" cy="37.5" r="2.38"/><circle cx="27.3" cy="13.3" r="2.38"/><circle cx="67.2" cy="31.7" r="2.38"/><circle cx="58.8" cy="34.4" r="2.38"/><circle cx="54.9" cy="33.8" r="2.38"/><circle cx="39.3" cy="35.8" r="2.38"/><circle cx="38" cy="14.2" r="2.38"/><circle cx="53.1" cy="33.9" r="2.38"/><circle cx="67.7" cy="22.3" r="2.38"/><circle cx="68" cy="31.2" r="2.38"/><circle cx="56.1" cy="33.3" r="2.38"/><circle cx="27.7" cy="14.1" r="2.38"/><circle cx="20.6" cy="33.3" r="2.38"/><circle cx="19.1" cy="20.8" r="2.38"/><circle cx="28.2" cy="13.3" r="2.38"/><circle cx="45.8" cy="15.2" r="2.38"/><circle cx="64.8" cy="15" r="2.38"/><circle cx="62.3" cy="34.1" r="2.38"/><circle cx="41.3" cy="14.1" r="2.38"/><circle cx="60.8" cy="37.8" r="2.38"/><circle cx="53.8" cy="36.9" r="2.38"/><circle cx="50.1" cy="9.7" r="2.38"/><circle cx="23" cy="13.3" r="2.38"/><circle cx="20.4" cy="30.9" r="2.38"/><circle cx="34.1" cy="35.1" r="2.38"/><circle cx="30.2" cy="37.1" r="2.38"/><circle cx="19.8" cy="21.3" r="2.38"/><circle cx="20" cy="33.8" r="2.38"/><circle cx="59.7" cy="35.5" r="2.38"/><circle cx="58.5" cy="12.8" r="2.38"/><circle cx="44.4" cy="15.2" r="2.38"/><circle cx="22.1" cy="13.6" r="2.38"/><circle cx="20.4" cy="23.9" r="2.38"/><circle cx="43.5" cy="14.7" r="2.38"/><circle cx="35.2" cy="33.3" r="2.38"/><circle cx="68.2" cy="35.9" r="2.38"/><circle cx="47.5" cy="37.1" r="2.38"/><circle cx="48.6" cy="34.5" r="2.38"/><circle cx="29.9" cy="12.6" r="2.38"/><circle cx="68.5" cy="23.3" r="2.38"/><circle cx="53.6" cy="13.2" r="2.38"/><circle cx="24.2" cy="38.3" r="2.38"/><circle cx="33.7" cy="32.1" r="2.38"/><circle cx="63.1" cy="14.3" r="2.38"/><circle cx="20" cy="30.3" r="2.38"/><circle cx="43.5" cy="15.3" r="2.38"/><circle cx="65.8" cy="34.2" r="2.38"/><circle cx="63.7" cy="15.6" r="2.38"/><circle cx="66" cy="34.3" r="2.38"/><circle cx="20.7" cy="22.2" r="2.38"/><circle cx="50.2" cy="35.9" r="2.38"/><circle cx="64.3" cy="36" r="2.38"/><circle cx="57.1" cy="33.8" r="2.38"/><circle cx="35.8" cy="15.4" r="2.38"/><circle cx="56.5" cy="37.8" r="2.38"/><circle cx="41.2" cy="36" r="2.38"/><circle cx="41.6" cy="13.2" r="2.38"/><circle cx="19.8" cy="17.3" r="2.38"/><circle cx="33.3" cy="14" r="2.38"/><circle cx="34.7" cy="32.3" r="2.38"/><circle cx="67.4" cy="17.5" r="2.38"/><circle cx="53.1" cy="14.1" r="2.38"/><circle cx="42.5" cy="34.2" r="2.38"/><circle cx="42" cy="34.6" r="2.38"/><circle cx="30.7" cy="12.9" r="2.38"/><circle cx="67.1" cy="28.8" r="2.38"/><circle cx="39.5" cy="13.1" r="2.38"/><circle cx="51.5" cy="14.4" r="2.38"/><circle cx="45.9" cy="11.8" r="2.38"/><circle cx="22" cy="14.4" r="2.38"/><circle cx="67.4" cy="22.1" r="2.38"/><circle cx="31.4" cy="14.2" r="2.38"/><circle cx="40.4" cy="13.7" r="2.38"/><circle cx="62.2" cy="14.3" r="2.38"/><circle cx="50.4" cy="11.8" r="2.38"/><circle cx="57.4" cy="33.5" r="2.38"/><circle cx="48.8" cy="35" r="2.38"/><circle cx="37.5" cy="36.2" r="2.38"/><circle cx="49.4" cy="13.4" r="2.38"/><circle cx="27.6" cy="34.2" r="2.38"/><circle cx="56.7" cy="12.9" r="2.38"/><circle cx="23.2" cy="35.9" r="2.38"/><circle cx="20.3" cy="23.4" r="2.38"/><circle cx="57.1" cy="33.2" r="2.38"/><circle cx="40.8" cy="12.7" r="2.38"/><circle cx="27.3" cy="32.7" r="2.38"/><circle cx="20.3" cy="19.6" r="2.38"/><circle cx="46.6" cy="34.2" r="2.38"/><circle cx="43.4" cy="34.3" r="2.38"/><circle cx="66.6" cy="15.8" r="2.38"/><circle cx="68.2" cy="34.4" r="2.38"/><circle cx="24.1" cy="13.5" r="2.38"/><circle cx="37.8" cy="35.1" r="2.38"/><circle cx="61.2" cy="15.1" r="2.38"/><circle cx="52.6" cy="35" r="2.38"/><circle cx="50.7" cy="35.8" r="2.38"/><circle cx="61.1" cy="34.9" r="2.38"/><circle cx="67.4" cy="21.8" r="2.38"/><circle cx="21.5" cy="11.4" r="2.38"/><circle cx="40.6" cy="14.5" r="2.38"/><circle cx="19" cy="24.2" r="2.38"/><circle cx="26.3" cy="33.3" r="2.38"/><circle cx="66.4" cy="34.9" r="2.38"/><circle cx="32.1" cy="34" r="2.38"/><circle cx="19.5" cy="29.5" r="2.38"/><circle cx="30.6" cy="12.4" r="2.38"/><circle cx="32.8" cy="32.4" r="2.38"/><circle cx="53.9" cy="13.6" r="2.38"/><circle cx="20.3" cy="18.3" r="2.38"/><circle cx="20.5" cy="21.4" r="2.38"/><circle cx="38.8" cy="34.9" r="2.38"/><circle cx="18.1" cy="25" r="2.38"/><circle cx="67.7" cy="19.1" r="2.38"/><circle cx="23.9" cy="13.6" r="2.38"/><circle cx="34.4" cy="32" r="2.38"/><circle cx="34.9" cy="14.9" r="2.38"/><circle cx="27" cy="13.8" r="2.38"/><circle cx="42.6" cy="34.7" r="2.38"/><circle cx="65" cy="34.2" r="2.38"/><circle cx="60.7" cy="15.5" r="2.38"/><circle cx="25.2" cy="34.6" r="2.38"/><circle cx="54.2" cy="9.7" r="2.38"/><circle cx="22.8" cy="34.9" r="2.38"/><circle cx="68.3" cy="19.5" r="2.38"/><circle cx="30.6" cy="13.9" r="2.38"/><circle cx="51.7" cy="11.7" r="2.38"/><circle cx="59.1" cy="13.9" r="2.38"/><circle cx="19.5" cy="19.6" r="2.38"/><circle cx="67.1" cy="16.8" r="2.38"/><circle cx="62" cy="14.9" r="2.38"/><circle cx="39.8" cy="14.4" r="2.38"/><circle cx="44.4" cy="33" r="2.38"/><circle cx="50.7" cy="38.2" r="2.38"/><circle cx="53.4" cy="12.8" r="2.38"/><circle cx="5" cy="28.9" r="2.38"/><circle cx="3.9" cy="27.7" r="2.38"/><circle cx="4.2" cy="28.5" r="2.38"/><circle cx="5.5" cy="34.4" r="2.38"/><circle cx="4" cy="26.5" r="2.38"/><circle cx="4.3" cy="25.3" r="2.38"/><circle cx="5.1" cy="28.8" r="2.38"/><circle cx="4.1" cy="20.8" r="2.38"/><circle cx="4.2" cy="26.6" r="2.38"/><circle cx="4.2" cy="16.5" r="2.38"/><circle cx="4.1" cy="23.2" r="2.38"/><circle cx="5.7" cy="24.7" r="2.38"/><circle cx="5.3" cy="33.4" r="2.38"/><circle cx="4.4" cy="25.5" r="2.38"/><circle cx="4.8" cy="19.3" r="2.38"/><circle cx="4.3" cy="21.9" r="2.38"/><circle cx="16.4" cy="31.3" r="2.38"/><circle cx="7" cy="31" r="2.38"/><circle cx="20" cy="15.8" r="2.38"/><circle cx="18.6" cy="16.5" r="2.38"/><circle cx="17.7" cy="29.7" r="2.38"/><circle cx="6.2" cy="32.3" r="2.38"/><circle cx="9.4" cy="15.7" r="2.38"/><circle cx="19.6" cy="35.1" r="2.38"/><circle cx="7.5" cy="32.6" r="2.38"/><circle cx="16.1" cy="32.3" r="2.38"/><circle cx="16.9" cy="24" r="2.38"/><circle cx="16.3" cy="24.2" r="2.38"/><circle cx="5.7" cy="16" r="2.38"/><circle cx="16" cy="16.3" r="2.38"/><circle cx="16.2" cy="16.1" r="2.38"/><circle cx="16" cy="16" r="2.38"/><circle cx="20.2" cy="24.4" r="2.38"/><circle cx="16.5" cy="21.1" r="2.38"/><circle cx="19.4" cy="24.8" r="2.38"/><circle cx="17.7" cy="17.4" r="2.38"/><circle cx="15.8" cy="24.5" r="2.38"/><circle cx="10.6" cy="34.6" r="2.38"/><circle cx="18.5" cy="25.1" r="2.38"/><circle cx="8.6" cy="20.8" r="2.38"/><circle cx="18.2" cy="17.6" r="2.38"/><circle cx="15.3" cy="26" r="2.38"/><circle cx="14.1" cy="25.2" r="2.38"/><circle cx="9.1" cy="21.9" r="2.38"/><circle cx="15.9" cy="25.8" r="2.38"/><circle cx="9.4" cy="19.7" r="2.38"/><circle cx="11.1" cy="29.9" r="2.38"/><circle cx="15.8" cy="35.1" r="2.38"/><circle cx="78.9" cy="26.6" r="2.38"/><circle cx="77.9" cy="23.5" r="2.38"/><circle cx="78.5" cy="22.5" r="2.38"/><circle cx="77.9" cy="20.3" r="2.38"/><circle cx="78" cy="20" r="2.38"/><circle cx="78.9" cy="26.1" r="2.38"/><circle cx="79" cy="28.4" r="2.38"/><circle cx="78.5" cy="25.8" r="2.38"/><circle cx="79.5" cy="26.2" r="2.38"/><circle cx="79.1" cy="25.6" r="2.38"/><circle cx="77.8" cy="21.3" r="2.38"/><circle cx="77.9" cy="29.3" r="2.38"/><circle cx="78.2" cy="19.7" r="2.38"/><circle cx="78.7" cy="25.6" r="2.38"/><circle cx="78.4" cy="28.3" r="2.38"/><circle cx="78.8" cy="27.1" r="2.38"/><circle cx="72.1" cy="22.3" r="2.38"/><circle cx="77.1" cy="21" r="2.38"/><circle cx="73.7" cy="18.6" r="2.38"/><circle cx="75.7" cy="24.4" r="2.38"/><circle cx="69.7" cy="32.9" r="2.38"/><circle cx="72.4" cy="28.7" r="2.38"/><circle cx="77.7" cy="29.3" r="2.38"/><circle cx="74.5" cy="22.3" r="2.38"/><circle cx="68.6" cy="23.8" r="2.38"/><circle cx="71.9" cy="17.3" r="2.38"/><circle cx="68.1" cy="15.9" r="2.38"/><circle cx="70.5" cy="17.6" r="2.38"/><circle cx="73.7" cy="23.9" r="2.38"/><circle cx="73.7" cy="32.5" r="2.38"/><circle cx="69.9" cy="23.5" r="2.38"/><circle cx="73.5" cy="29.3" r="2.38"/><circle cx="71.5" cy="21.6" r="2.38"/><circle cx="72.3" cy="18" r="2.38"/><circle cx="77.7" cy="27.3" r="2.38"/><circle cx="75.2" cy="25.5" r="2.38"/><circle cx="71.8" cy="27.9" r="2.38"/><circle cx="70.9" cy="26.5" r="2.38"/><circle cx="75.8" cy="21.9" r="2.38"/><circle cx="67.9" cy="14.4" r="2.38"/><circle cx="74.6" cy="23.7" r="2.38"/><circle cx="74" cy="30.1" r="2.38"/><circle cx="75.4" cy="19.2" r="2.38"/><circle cx="69.3" cy="24.3" r="2.38"/><circle cx="75.4" cy="26.3" r="2.38"/><circle cx="67.4" cy="19.8" r="2.38"/><circle cx="49.6" cy="44.4" r="2.38"/><circle cx="59.7" cy="42.5" r="2.38"/><circle cx="64.8" cy="39.5" r="2.38"/><circle cx="41.8" cy="41.4" r="2.38"/><circle cx="24" cy="41.4" r="2.38"/><circle cx="36.3" cy="38.4" r="2.38"/><circle cx="12.2" cy="36.5" r="2.38"/><circle cx="5" cy="34.8" r="2.38"/><circle cx="4.6" cy="32.5" r="2.38"/><circle cx="3.3" cy="30" r="2.38"/><circle cx="4.6" cy="27.6" r="2.38"/><circle cx="6.2" cy="14.3" r="2.38"/><circle cx="18" cy="8.4" r="2.38"/><circle cx="48.5" cy="1.6" r="2.38"/><circle cx="57.4" cy="7.6" r="2.38"/><circle cx="65.2" cy="8.4" r="2.38"/><circle cx="53" cy="7.6" r="2.38"/></g></svg>
<svg x="247.23" y="141.25" width="82.43" height="46.21"><path class="k" d="M30.77 9.25h1M17.77 10.25h2M29.77 10.25h3M37.77 10.25h1M16.77 11.25h2M19.77 11.25h1M26.77 11.25h7M35.77 11.25h4M40.77 11.25h3M48.77 11.25h1M56.77 11.25h1M15.77 12.25h2M20.77 12.25h1M23.77 12.25h27M54.77 12.25h4M14.77 13.25h1M16.77 13.25h2M19.77 13.25h32M53.77 13.25h4M58.77 13.25h1M17.77 14.25h39M13.77 15.25h2M16.77 15.25h41M58.77 15.25h1M10.77 16.25h1M13.77 16.25h46M9.77 17.25h1M14.77 17.25h45M9.77 18.25h2M13.77 18.25h47M9.77 19.25h51M8.77 20.25h53M7.77 21.25h55M63.77 21.25h1M8.77 22.25h55M8.77 23.25h54M5.77 24.25h1M9.77 24.25h52M9.77 25.25h53M10.77 26.25h53M10.77 27.25h52M10.77 28.25h52M7.77 29.25h1M9.77 29.25h53M10.77 30.25h53M10.77 31.25h53M9.77 32.25h47M57.77 32.25h5M12.77 33.25h43M58.77 33.25h3M14.77 34.25h1M16.77 34.25h2M19.77 34.25h35M58.77 34.25h1M20.77 35.25h32M57.77 35.25h1M20.77 36.25h29M56.77 36.25h2M20.77 37.25h1M22.77 37.25h7M31.77 37.25h3M35.77 37.25h10M23.77 38.25h1M26.77 38.25h1M39.77 38.25h2"/><g class="p"><circle cx="11.5" cy="20.3" r="2.38"/><circle cx="19.2" cy="31.5" r="2.38"/><circle cx="47.7" cy="14.6" r="2.38"/><circle cx="48.6" cy="33.4" r="2.38"/><circle cx="20.8" cy="31.9" r="2.38"/><circle cx="55.4" cy="13.5" r="2.38"/><circle cx="16.4" cy="19.2" r="2.38"/><circle cx="22.1" cy="11.8" r="2.38"/><circle cx="14.1" cy="30.9" r="2.38"/><circle cx="14" cy="21.3" r="2.38"/><circle cx="18.1" cy="13.4" r="2.38"/><circle cx="52" cy="15.4" r="2.38"/><circle cx="50.4" cy="14.4" r="2.38"/><circle cx="22.4" cy="34.3" r="2.38"/><circle cx="42" cy="12.2" r="2.38"/><circle cx="16.9" cy="18.7" r="2.38"/><circle cx="16.1" cy="18.7" r="2.38"/><circle cx="13.3" cy="20.9" r="2.38"/><circle cx="37.6" cy="13.2" r="2.38"/><circle cx="37.4" cy="34.9" r="2.38"/><circle cx="15.2" cy="20.7" r="2.38"/><circle cx="64.7" cy="22.9" r="2.38"/><circle cx="29.4" cy="34.8" r="2.38"/><circle cx="36.7" cy="35.3" r="2.38"/><circle cx="33.8" cy="34.4" r="2.38"/><circle cx="57.9" cy="14.9" r="2.38"/><circle cx="10.4" cy="14.2" r="2.38"/><circle cx="14.3" cy="30.9" r="2.38"/><circle cx="62.1" cy="20.7" r="2.38"/><circle cx="21.8" cy="34.2" r="2.38"/><circle cx="40.1" cy="14.1" r="2.38"/><circle cx="10.9" cy="33.3" r="2.38"/><circle cx="20.4" cy="32.6" r="2.38"/><circle cx="59.4" cy="22.8" r="2.38"/><circle cx="34.3" cy="14" r="2.38"/><circle cx="16.4" cy="16.9" r="2.38"/><circle cx="31.4" cy="38" r="2.38"/><circle cx="29.4" cy="34.3" r="2.38"/><circle cx="48.9" cy="12.8" r="2.38"/><circle cx="12.9" cy="19.4" r="2.38"/><circle cx="13.1" cy="13.9" r="2.38"/><circle cx="34.7" cy="34.8" r="2.38"/><circle cx="33.5" cy="35.3" r="2.38"/><circle cx="17.6" cy="9.5" r="2.38"/><circle cx="59" cy="25.2" r="2.38"/><circle cx="36.5" cy="34.9" r="2.38"/><circle cx="20.6" cy="14.9" r="2.38"/><circle cx="20.9" cy="14.6" r="2.38"/><circle cx="55.3" cy="15" r="2.38"/><circle cx="28.3" cy="13.1" r="2.38"/><circle cx="29.8" cy="34.8" r="2.38"/><circle cx="52.5" cy="32" r="2.38"/><circle cx="46.4" cy="35.1" r="2.38"/><circle cx="43.5" cy="10.8" r="2.38"/><circle cx="11.5" cy="18.4" r="2.38"/><circle cx="28.1" cy="13.5" r="2.38"/><circle cx="16.3" cy="17.7" r="2.38"/><circle cx="24.1" cy="39" r="2.38"/><circle cx="58.2" cy="14.2" r="2.38"/><circle cx="21.5" cy="15" r="2.38"/><circle cx="15.8" cy="34.8" r="2.38"/><circle cx="43.5" cy="35.1" r="2.38"/><circle cx="46.5" cy="14.6" r="2.38"/><circle cx="39.9" cy="11.2" r="2.38"/><circle cx="63.9" cy="28.4" r="2.38"/><circle cx="30" cy="34" r="2.38"/><circle cx="21.8" cy="14.5" r="2.38"/><circle cx="27.8" cy="36" r="2.38"/><circle cx="46.7" cy="37.4" r="2.38"/><circle cx="16.4" cy="15.7" r="2.38"/><circle cx="34.9" cy="34.6" r="2.38"/><circle cx="64" cy="19.4" r="2.38"/><circle cx="56.9" cy="16.9" r="2.38"/><circle cx="19.3" cy="31.6" r="2.38"/><circle cx="55.8" cy="16.6" r="2.38"/><circle cx="54.2" cy="15.9" r="2.38"/><circle cx="57" cy="13.3" r="2.38"/><circle cx="18.5" cy="35.2" r="2.38"/><circle cx="55.9" cy="16.3" r="2.38"/><circle cx="60.3" cy="30" r="2.38"/><circle cx="53.4" cy="15.6" r="2.38"/><circle cx="18.9" cy="31.7" r="2.38"/><circle cx="19.6" cy="37.3" r="2.38"/><circle cx="45.9" cy="35.8" r="2.38"/><circle cx="60.6" cy="27.5" r="2.38"/><circle cx="24.1" cy="36.1" r="2.38"/><circle cx="13.1" cy="18.6" r="2.38"/><circle cx="19.3" cy="12.6" r="2.38"/><circle cx="7.4" cy="25.4" r="2.38"/><circle cx="12.4" cy="17.4" r="2.38"/><circle cx="64.8" cy="20.6" r="2.38"/><circle cx="11.6" cy="23.7" r="2.38"/><circle cx="52" cy="33.3" r="2.38"/><circle cx="18.8" cy="31" r="2.38"/><circle cx="56.1" cy="12.2" r="2.38"/><circle cx="21.8" cy="14.7" r="2.38"/><circle cx="38.6" cy="13.5" r="2.38"/><circle cx="26.4" cy="14" r="2.38"/><circle cx="35.2" cy="14.2" r="2.38"/><circle cx="41.2" cy="14.3" r="2.38"/><circle cx="15.2" cy="9.8" r="2.38"/><circle cx="11.3" cy="22.5" r="2.38"/><circle cx="12.7" cy="30" r="2.38"/><circle cx="40.3" cy="13.6" r="2.38"/><circle cx="35.5" cy="9.3" r="2.38"/><circle cx="15.9" cy="10.3" r="2.38"/><circle cx="51.9" cy="33.4" r="2.38"/><circle cx="47.4" cy="13.7" r="2.38"/><circle cx="44.7" cy="14.4" r="2.38"/><circle cx="7.4" cy="30.9" r="2.38"/><circle cx="40.9" cy="37" r="2.38"/><circle cx="46.3" cy="37.5" r="2.38"/><circle cx="57.3" cy="13.2" r="2.38"/><circle cx="21.3" cy="15.5" r="2.38"/><circle cx="63.5" cy="24.8" r="2.38"/><circle cx="57.9" cy="29" r="2.38"/><circle cx="55.5" cy="16.6" r="2.38"/><circle cx="57.9" cy="34.3" r="2.38"/><circle cx="64.4" cy="21.3" r="2.38"/><circle cx="38.6" cy="35" r="2.38"/><circle cx="55.7" cy="16.6" r="2.38"/><circle cx="62.3" cy="25.2" r="2.38"/><circle cx="31.6" cy="36.4" r="2.38"/><circle cx="33.8" cy="13.3" r="2.38"/><circle cx="32.8" cy="14.4" r="2.38"/><circle cx="47.2" cy="35.3" r="2.38"/><circle cx="31" cy="11.2" r="2.38"/><circle cx="6.3" cy="27.8" r="2.38"/><circle cx="39.5" cy="12.9" r="2.38"/><circle cx="62.8" cy="28.5" r="2.38"/><circle cx="27.6" cy="12.6" r="2.38"/><circle cx="19.6" cy="35" r="2.38"/><circle cx="57.9" cy="33" r="2.38"/><circle cx="51.8" cy="32.5" r="2.38"/><circle cx="60.4" cy="23.5" r="2.38"/><circle cx="48.6" cy="13.2" r="2.38"/><circle cx="7.9" cy="31.3" r="2.38"/><circle cx="13.5" cy="28.4" r="2.38"/><circle cx="37.2" cy="10.6" r="2.38"/><circle cx="11" cy="33.5" r="2.38"/><circle cx="33.9" cy="38" r="2.38"/><circle cx="17.7" cy="31.5" r="2.38"/><circle cx="19.8" cy="12.2" r="2.38"/><circle cx="51" cy="16.2" r="2.38"/><circle cx="51.7" cy="33.9" r="2.38"/><circle cx="41.2" cy="35.7" r="2.38"/><circle cx="54.8" cy="31.7" r="2.38"/><circle cx="59.7" cy="24.1" r="2.38"/><circle cx="58.5" cy="29.5" r="2.38"/><circle cx="36.9" cy="13.2" r="2.38"/><circle cx="50.2" cy="15.8" r="2.38"/><circle cx="32.1" cy="13.8" r="2.38"/><circle cx="59.7" cy="17.2" r="2.38"/><circle cx="8.9" cy="23.3" r="2.38"/><circle cx="53.2" cy="32.9" r="2.38"/><circle cx="30.7" cy="34.7" r="2.38"/><circle cx="12.5" cy="31.1" r="2.38"/><circle cx="61.2" cy="27" r="2.38"/><circle cx="37.2" cy="34.9" r="2.38"/><circle cx="27.4" cy="14.4" r="2.38"/><circle cx="58.5" cy="19.6" r="2.38"/><circle cx="60.3" cy="25.6" r="2.38"/><circle cx="22.7" cy="12.5" r="2.38"/><circle cx="49.8" cy="32.9" r="2.38"/><circle cx="36.1" cy="36.9" r="2.38"/><circle cx="56.7" cy="14.5" r="2.38"/><circle cx="58.4" cy="38.3" r="2.38"/><circle cx="33.9" cy="14.5" r="2.38"/><circle cx="58.3" cy="17.6" r="2.38"/><circle cx="41.9" cy="13.6" r="2.38"/><circle cx="61.5" cy="29.4" r="2.38"/><circle cx="14.2" cy="21.5" r="2.38"/><circle cx="8.1" cy="23" r="2.38"/><circle cx="5.8" cy="21.8" r="2.38"/><circle cx="18.9" cy="15.8" r="2.38"/><circle cx="35" cy="34.9" r="2.38"/><circle cx="22.7" cy="11.4" r="2.38"/><circle cx="10.5" cy="21.3" r="2.38"/><circle cx="48.5" cy="34.8" r="2.38"/><circle cx="58.7" cy="20.5" r="2.38"/><circle cx="25.6" cy="14.3" r="2.38"/><circle cx="33.7" cy="34.9" r="2.38"/><circle cx="10.5" cy="31.2" r="2.38"/><circle cx="15.9" cy="18.1" r="2.38"/><circle cx="22" cy="35.5" r="2.38"/><circle cx="19.7" cy="31.6" r="2.38"/><circle cx="54.9" cy="30" r="2.38"/><circle cx="31.4" cy="11.3" r="2.38"/><circle cx="15.8" cy="32.1" r="2.38"/><circle cx="15.3" cy="20.2" r="2.38"/><circle cx="32.3" cy="12.4" r="2.38"/><circle cx="49.3" cy="34.7" r="2.38"/><circle cx="42.5" cy="36.2" r="2.38"/><circle cx="13" cy="20.7" r="2.38"/><circle cx="47.9" cy="9.5" r="2.38"/><circle cx="61.9" cy="30.9" r="2.38"/><circle cx="59.6" cy="31.9" r="2.38"/><circle cx="41.4" cy="10.1" r="2.38"/><circle cx="56.9" cy="17.3" r="2.38"/><circle cx="48.1" cy="35.3" r="2.38"/><circle cx="25.6" cy="13.1" r="2.38"/><circle cx="60.8" cy="30.8" r="2.38"/><circle cx="60.1" cy="22.4" r="2.38"/><circle cx="11" cy="24.4" r="2.38"/><circle cx="10.9" cy="20.1" r="2.38"/><circle cx="40.6" cy="36.5" r="2.38"/><circle cx="31" cy="34.6" r="2.38"/><circle cx="16.5" cy="13.5" r="2.38"/><circle cx="27.5" cy="12.9" r="2.38"/><circle cx="44.5" cy="34.8" r="2.38"/><circle cx="42" cy="13" r="2.38"/><circle cx="28.4" cy="35.9" r="2.38"/><circle cx="22" cy="38.7" r="2.38"/><circle cx="35.9" cy="12.4" r="2.38"/><circle cx="17.6" cy="15.1" r="2.38"/><circle cx="39.3" cy="14" r="2.38"/><circle cx="32.5" cy="14" r="2.38"/><circle cx="53.7" cy="34.9" r="2.38"/><circle cx="12.5" cy="28.2" r="2.38"/><circle cx="15.5" cy="31.5" r="2.38"/><circle cx="50.4" cy="34.7" r="2.38"/><circle cx="39.2" cy="13.6" r="2.38"/><circle cx="7.5" cy="22.2" r="2.38"/><circle cx="18.9" cy="11.3" r="2.38"/><circle cx="57.8" cy="15.1" r="2.38"/><circle cx="21.3" cy="33.8" r="2.38"/><circle cx="55.9" cy="29.2" r="2.38"/><circle cx="33.1" cy="12.7" r="2.38"/><circle cx="58.4" cy="32.5" r="2.38"/><circle cx="13.5" cy="30.9" r="2.38"/><circle cx="13.4" cy="37.1" r="2.38"/><circle cx="38.1" cy="36.1" r="2.38"/><circle cx="47.1" cy="35.2" r="2.38"/><circle cx="59.9" cy="30.1" r="2.38"/><circle cx="61.6" cy="30.9" r="2.38"/><circle cx="60.4" cy="31.5" r="2.38"/><circle cx="54.3" cy="34.4" r="2.38"/><circle cx="56.5" cy="30.4" r="2.38"/><circle cx="42.2" cy="12.3" r="2.38"/><circle cx="42.9" cy="39" r="2.38"/><circle cx="52.1" cy="10.7" r="2.38"/><circle cx="10.7" cy="15.5" r="2.38"/><circle cx="13.6" cy="16.8" r="2.38"/><circle cx="19.8" cy="37.3" r="2.38"/><circle cx="21.2" cy="31.6" r="2.38"/><circle cx="53" cy="32.3" r="2.38"/><circle cx="13.1" cy="30" r="2.38"/><circle cx="36.5" cy="12.1" r="2.38"/><circle cx="29.4" cy="38.4" r="2.38"/><circle cx="28.2" cy="12.8" r="2.38"/><circle cx="45.5" cy="35.7" r="2.38"/><circle cx="55.5" cy="29.8" r="2.38"/><circle cx="16.7" cy="14.1" r="2.38"/><circle cx="17.3" cy="9.3" r="2.38"/><circle cx="27.2" cy="36.5" r="2.38"/><circle cx="14.5" cy="10.9" r="2.38"/><circle cx="43.6" cy="12.9" r="2.38"/><circle cx="29.9" cy="39.3" r="2.38"/><circle cx="55.2" cy="29.8" r="2.38"/><circle cx="61.1" cy="28.2" r="2.38"/><circle cx="13.2" cy="21.4" r="2.38"/><circle cx="30.6" cy="12.4" r="2.38"/><circle cx="38.1" cy="36" r="2.38"/><circle cx="30" cy="13.3" r="2.38"/><circle cx="53.6" cy="31.1" r="2.38"/><circle cx="64.6" cy="28.1" r="2.38"/><circle cx="45.4" cy="35.9" r="2.38"/><circle cx="9.2" cy="18.3" r="2.38"/><circle cx="56.8" cy="35.3" r="2.38"/><circle cx="13.5" cy="17.1" r="2.38"/><circle cx="51.2" cy="11.1" r="2.38"/><circle cx="28.6" cy="10.8" r="2.38"/><circle cx="49.5" cy="14" r="2.38"/><circle cx="40.6" cy="37.2" r="2.38"/><circle cx="30" cy="10.1" r="2.38"/><circle cx="39.1" cy="2" r="2.38"/><circle cx="35" cy="6.3" r="2.38"/><circle cx="43.8" cy="6.6" r="2.38"/><circle cx="5.3" cy="12.9" r="2.38"/><circle cx="2.5" cy="26.6" r="2.38"/><circle cx="3.1" cy="32.9" r="2.38"/><circle cx="20" cy="41" r="2.38"/><circle cx="30" cy="41.6" r="2.38"/><circle cx="38.1" cy="44.1" r="2.38"/><circle cx="70" cy="14.8" r="2.38"/><circle cx="71.9" cy="19.1" r="2.38"/><circle cx="69.4" cy="23.5" r="2.38"/><circle cx="79.4" cy="29.1" r="2.38"/><circle cx="75.6" cy="33.5" r="2.38"/><circle cx="71.3" cy="30.4" r="2.38"/><circle cx="61.3" cy="36.6" r="2.38"/><circle cx="23.8" cy="7.9" r="2.38"/><circle cx="21.3" cy="8.3" r="2.38"/></g></svg>
<svg x="342.34" y="141.25" width="82.43" height="46.21"><path class="k" d="M37.66 8.25h1M36.66 9.25h1M40.66 9.25h1M35.66 10.25h3M39.66 10.25h3M43.66 10.25h2M22.66 11.25h1M26.66 11.25h2M36.66 11.25h11M23.66 12.25h7M32.66 12.25h2M35.66 12.25h16M55.66 12.25h1M22.66 13.25h30M53.66 13.25h3M19.66 14.25h38M58.66 14.25h1M61.66 14.25h1M63.66 14.25h1M17.66 15.25h48M13.66 16.25h1M15.66 16.25h50M12.66 17.25h52M11.66 18.25h54M10.66 19.25h53M65.66 19.25h2M11.66 20.25h51M66.66 20.25h1M12.66 21.25h51M66.66 21.25h1M12.66 22.25h52M65.66 22.25h1M12.66 23.25h53M11.66 24.25h54M11.66 25.25h55M11.66 26.25h53M12.66 27.25h51M11.66 28.25h52M66.66 28.25h1M10.66 29.25h1M12.66 29.25h52M65.66 29.25h2M13.66 30.25h50M67.66 30.25h1M12.66 31.25h49M63.66 31.25h1M12.66 32.25h1M15.66 32.25h45M11.66 33.25h1M16.66 33.25h44M15.66 34.25h1M17.66 34.25h40M59.66 34.25h1M18.66 35.25h38M19.66 36.25h16M36.66 36.25h8M45.66 36.25h10M23.66 37.25h6M31.66 37.25h1M33.66 37.25h1M39.66 37.25h1M42.66 37.25h1M46.66 37.25h3M51.66 37.25h2M25.66 38.25h1M27.66 38.25h1"/><g class="p"><circle cx="33.3" cy="13.4" r="2.38"/><circle cx="15.9" cy="18.7" r="2.38"/><circle cx="45.5" cy="33.7" r="2.38"/><circle cx="70.1" cy="28.6" r="2.38"/><circle cx="14.6" cy="19.1" r="2.38"/><circle cx="16.1" cy="29.1" r="2.38"/><circle cx="39.7" cy="34.1" r="2.38"/><circle cx="14.3" cy="25.6" r="2.38"/><circle cx="12.3" cy="23.6" r="2.38"/><circle cx="62" cy="29.7" r="2.38"/><circle cx="61.7" cy="16.3" r="2.38"/><circle cx="28.4" cy="34.3" r="2.38"/><circle cx="69.3" cy="28.1" r="2.38"/><circle cx="66.4" cy="20.2" r="2.38"/><circle cx="53.8" cy="14.1" r="2.38"/><circle cx="50.8" cy="14.6" r="2.38"/><circle cx="40.7" cy="35" r="2.38"/><circle cx="15.9" cy="30.4" r="2.38"/><circle cx="9.8" cy="26.5" r="2.38"/><circle cx="52.5" cy="34.2" r="2.38"/><circle cx="27.4" cy="37.1" r="2.38"/><circle cx="65" cy="22" r="2.38"/><circle cx="36.8" cy="12.1" r="2.38"/><circle cx="67" cy="30.4" r="2.38"/><circle cx="42.9" cy="11.8" r="2.38"/><circle cx="18.7" cy="13.8" r="2.38"/><circle cx="17.8" cy="31.5" r="2.38"/><circle cx="61.8" cy="29.8" r="2.38"/><circle cx="61.8" cy="27.4" r="2.38"/><circle cx="44.7" cy="11.6" r="2.38"/><circle cx="65.9" cy="13.9" r="2.38"/><circle cx="62.2" cy="24" r="2.38"/><circle cx="63" cy="25.4" r="2.38"/><circle cx="36.1" cy="14.7" r="2.38"/><circle cx="51.5" cy="15.3" r="2.38"/><circle cx="58.1" cy="31.3" r="2.38"/><circle cx="50.6" cy="36.5" r="2.38"/><circle cx="53" cy="35.3" r="2.38"/><circle cx="21.2" cy="34.5" r="2.38"/><circle cx="35.3" cy="33.6" r="2.38"/><circle cx="41.6" cy="34.8" r="2.38"/><circle cx="30.4" cy="15.6" r="2.38"/><circle cx="36.1" cy="13.9" r="2.38"/><circle cx="62.6" cy="32.5" r="2.38"/><circle cx="63.3" cy="24" r="2.38"/><circle cx="65.5" cy="20.8" r="2.38"/><circle cx="54.1" cy="12.9" r="2.38"/><circle cx="31.5" cy="15.2" r="2.38"/><circle cx="28.7" cy="36.3" r="2.38"/><circle cx="33.5" cy="34.2" r="2.38"/><circle cx="16.6" cy="35.9" r="2.38"/><circle cx="46.2" cy="11.9" r="2.38"/><circle cx="34.7" cy="37.9" r="2.38"/><circle cx="37.4" cy="38" r="2.38"/><circle cx="13.7" cy="22.5" r="2.38"/><circle cx="28.4" cy="13.8" r="2.38"/><circle cx="11.4" cy="25.9" r="2.38"/><circle cx="47.4" cy="13.8" r="2.38"/><circle cx="32.5" cy="34.8" r="2.38"/><circle cx="11.5" cy="17.3" r="2.38"/><circle cx="35.8" cy="36" r="2.38"/><circle cx="41.6" cy="34.4" r="2.38"/><circle cx="27" cy="12.8" r="2.38"/><circle cx="65.8" cy="30.8" r="2.38"/><circle cx="47.7" cy="36" r="2.38"/><circle cx="66.5" cy="27.8" r="2.38"/><circle cx="31.7" cy="35.1" r="2.38"/><circle cx="17.3" cy="18.3" r="2.38"/><circle cx="19.9" cy="33.8" r="2.38"/><circle cx="40.5" cy="12" r="2.38"/><circle cx="53.2" cy="34.3" r="2.38"/><circle cx="61" cy="17.8" r="2.38"/><circle cx="36.6" cy="36.4" r="2.38"/><circle cx="49.7" cy="13" r="2.38"/><circle cx="18.2" cy="17.1" r="2.38"/><circle cx="61" cy="21.4" r="2.38"/><circle cx="21.7" cy="14.5" r="2.38"/><circle cx="54.3" cy="34.8" r="2.38"/><circle cx="31.7" cy="37.9" r="2.38"/><circle cx="14.6" cy="23.6" r="2.38"/><circle cx="54.7" cy="15.2" r="2.38"/><circle cx="14.8" cy="19.6" r="2.38"/><circle cx="59.9" cy="30.3" r="2.38"/><circle cx="47.4" cy="14" r="2.38"/><circle cx="44.5" cy="33.9" r="2.38"/><circle cx="62.3" cy="22.6" r="2.38"/><circle cx="41.8" cy="37.3" r="2.38"/><circle cx="34.1" cy="35.9" r="2.38"/><circle cx="60.5" cy="28.5" r="2.38"/><circle cx="63.2" cy="15.2" r="2.38"/><circle cx="58.5" cy="30.5" r="2.38"/><circle cx="22.8" cy="12.8" r="2.38"/><circle cx="60" cy="21.4" r="2.38"/><circle cx="30.9" cy="14.9" r="2.38"/><circle cx="50.5" cy="14.4" r="2.38"/><circle cx="13.8" cy="21" r="2.38"/><circle cx="35.6" cy="15.4" r="2.38"/><circle cx="37.4" cy="14.1" r="2.38"/><circle cx="60.1" cy="21.8" r="2.38"/><circle cx="34" cy="33.8" r="2.38"/><circle cx="18.8" cy="33" r="2.38"/><circle cx="56.4" cy="16.8" r="2.38"/><circle cx="57.8" cy="38.8" r="2.38"/><circle cx="29.9" cy="13.8" r="2.38"/><circle cx="42" cy="35.3" r="2.38"/><circle cx="47.2" cy="12.8" r="2.38"/><circle cx="41.6" cy="13" r="2.38"/><circle cx="40.8" cy="34.3" r="2.38"/><circle cx="18.6" cy="14.6" r="2.38"/><circle cx="21" cy="11" r="2.38"/><circle cx="46.2" cy="36.4" r="2.38"/><circle cx="38.2" cy="13" r="2.38"/><circle cx="10.7" cy="21.2" r="2.38"/><circle cx="25.3" cy="13.8" r="2.38"/><circle cx="34.9" cy="15" r="2.38"/><circle cx="29.4" cy="37.6" r="2.38"/><circle cx="59.4" cy="33.8" r="2.38"/><circle cx="27" cy="12.5" r="2.38"/><circle cx="23.7" cy="15.4" r="2.38"/><circle cx="61.7" cy="19.9" r="2.38"/><circle cx="33.2" cy="34.6" r="2.38"/><circle cx="37.3" cy="34.2" r="2.38"/><circle cx="66.8" cy="17.6" r="2.38"/><circle cx="42.9" cy="9.5" r="2.38"/><circle cx="18.1" cy="32.5" r="2.38"/><circle cx="67.6" cy="22.2" r="2.38"/><circle cx="62.2" cy="23.3" r="2.38"/><circle cx="32.9" cy="34.7" r="2.38"/><circle cx="15.3" cy="32.3" r="2.38"/><circle cx="15.3" cy="29.1" r="2.38"/><circle cx="33.6" cy="13.4" r="2.38"/><circle cx="28.4" cy="11.9" r="2.38"/><circle cx="44.6" cy="33.9" r="2.38"/><circle cx="38.5" cy="9.6" r="2.38"/><circle cx="58.7" cy="16.7" r="2.38"/><circle cx="14.3" cy="32.5" r="2.38"/><circle cx="57" cy="14.6" r="2.38"/><circle cx="49.3" cy="36.9" r="2.38"/><circle cx="12.7" cy="17.2" r="2.38"/><circle cx="14" cy="18.9" r="2.38"/><circle cx="14.5" cy="21.9" r="2.38"/><circle cx="35" cy="33.1" r="2.38"/><circle cx="14.1" cy="24.1" r="2.38"/><circle cx="13.8" cy="18.1" r="2.38"/><circle cx="60.7" cy="28.9" r="2.38"/><circle cx="28.7" cy="35.4" r="2.38"/><circle cx="24.8" cy="35.1" r="2.38"/><circle cx="61.5" cy="32.8" r="2.38"/><circle cx="13.1" cy="29.3" r="2.38"/><circle cx="50.5" cy="34.9" r="2.38"/><circle cx="36.9" cy="13.5" r="2.38"/><circle cx="61.5" cy="17.7" r="2.38"/><circle cx="65.3" cy="27.2" r="2.38"/><circle cx="44.4" cy="12.3" r="2.38"/><circle cx="60.8" cy="29.2" r="2.38"/><circle cx="24.9" cy="36.3" r="2.38"/><circle cx="36.1" cy="10.8" r="2.38"/><circle cx="28.8" cy="34.3" r="2.38"/><circle cx="21.3" cy="35.3" r="2.38"/><circle cx="57.7" cy="16.6" r="2.38"/><circle cx="55.9" cy="16.8" r="2.38"/><circle cx="61.2" cy="26" r="2.38"/><circle cx="27.4" cy="14" r="2.38"/><circle cx="13.8" cy="26.4" r="2.38"/><circle cx="34.6" cy="15.5" r="2.38"/><circle cx="20.7" cy="12.7" r="2.38"/><circle cx="47" cy="14.3" r="2.38"/><circle cx="57.6" cy="16.7" r="2.38"/><circle cx="56.1" cy="15.3" r="2.38"/><circle cx="23.6" cy="34" r="2.38"/><circle cx="14.2" cy="21.6" r="2.38"/><circle cx="19.4" cy="31.9" r="2.38"/><circle cx="34.2" cy="34.5" r="2.38"/><circle cx="27.2" cy="9.5" r="2.38"/><circle cx="12" cy="31.2" r="2.38"/><circle cx="63.2" cy="15.3" r="2.38"/><circle cx="58.2" cy="34.4" r="2.38"/><circle cx="43.8" cy="36.3" r="2.38"/><circle cx="44.4" cy="13.4" r="2.38"/><circle cx="27.2" cy="37.3" r="2.38"/><circle cx="35" cy="34.5" r="2.38"/><circle cx="53.6" cy="33.9" r="2.38"/><circle cx="13.4" cy="29.9" r="2.38"/><circle cx="15.9" cy="33.2" r="2.38"/><circle cx="53" cy="35.9" r="2.38"/><circle cx="54.9" cy="14.9" r="2.38"/><circle cx="14.7" cy="31.6" r="2.38"/><circle cx="33.6" cy="14.1" r="2.38"/><circle cx="46.8" cy="12.9" r="2.38"/><circle cx="32.9" cy="14.9" r="2.38"/><circle cx="39.7" cy="13.1" r="2.38"/><circle cx="56.8" cy="16.6" r="2.38"/><circle cx="44.9" cy="13.2" r="2.38"/><circle cx="65.4" cy="19.9" r="2.38"/><circle cx="14.1" cy="23.7" r="2.38"/><circle cx="39.9" cy="34.2" r="2.38"/><circle cx="48.4" cy="13.5" r="2.38"/><circle cx="48.2" cy="35" r="2.38"/><circle cx="9.6" cy="28.7" r="2.38"/><circle cx="57.6" cy="32" r="2.38"/><circle cx="26.8" cy="37.2" r="2.38"/><circle cx="32.1" cy="11.6" r="2.38"/><circle cx="14" cy="20.4" r="2.38"/><circle cx="53.4" cy="34.8" r="2.38"/><circle cx="36.3" cy="15.2" r="2.38"/><circle cx="20.2" cy="32.9" r="2.38"/><circle cx="15.1" cy="26.8" r="2.38"/><circle cx="36.1" cy="34.2" r="2.38"/><circle cx="37.2" cy="33.2" r="2.38"/><circle cx="53.8" cy="16.5" r="2.38"/><circle cx="39.2" cy="13.2" r="2.38"/><circle cx="36.4" cy="10.5" r="2.38"/><circle cx="50.3" cy="14.1" r="2.38"/><circle cx="38.5" cy="13.7" r="2.38"/><circle cx="6.3" cy="27.4" r="2.38"/><circle cx="13.8" cy="24.3" r="2.38"/><circle cx="31.8" cy="39.1" r="2.38"/><circle cx="14.3" cy="23.5" r="2.38"/><circle cx="61.3" cy="26.7" r="2.38"/><circle cx="54.6" cy="11.6" r="2.38"/><circle cx="17.9" cy="17.4" r="2.38"/><circle cx="35.5" cy="14.1" r="2.38"/><circle cx="13.6" cy="26.2" r="2.38"/><circle cx="61.4" cy="18.2" r="2.38"/><circle cx="21" cy="17.1" r="2.38"/><circle cx="40.2" cy="34.9" r="2.38"/><circle cx="42.6" cy="35.2" r="2.38"/><circle cx="49.7" cy="36.6" r="2.38"/><circle cx="58" cy="34.7" r="2.38"/><circle cx="52.9" cy="16.2" r="2.38"/><circle cx="31.3" cy="35.2" r="2.38"/><circle cx="55.4" cy="16.2" r="2.38"/><circle cx="32.9" cy="15.4" r="2.38"/><circle cx="43.2" cy="33.8" r="2.38"/><circle cx="35.3" cy="12.5" r="2.38"/><circle cx="53.7" cy="12.4" r="2.38"/><circle cx="15.3" cy="21" r="2.38"/><circle cx="13.4" cy="25.5" r="2.38"/><circle cx="13.8" cy="29.3" r="2.38"/><circle cx="64" cy="20.6" r="2.38"/><circle cx="40" cy="10.5" r="2.38"/><circle cx="51.1" cy="15.3" r="2.38"/><circle cx="37.5" cy="33.2" r="2.38"/><circle cx="18.9" cy="34.5" r="2.38"/><circle cx="43" cy="33.7" r="2.38"/><circle cx="38.6" cy="10.6" r="2.38"/><circle cx="44.3" cy="33.9" r="2.38"/><circle cx="23.9" cy="34.1" r="2.38"/><circle cx="57.3" cy="32.2" r="2.38"/><circle cx="40" cy="36" r="2.38"/><circle cx="49.9" cy="13.9" r="2.38"/><circle cx="28.7" cy="13.1" r="2.38"/><circle cx="9.3" cy="18.4" r="2.38"/><circle cx="24" cy="34.8" r="2.38"/><circle cx="39.7" cy="10" r="2.38"/><circle cx="52.3" cy="13.7" r="2.38"/><circle cx="20.2" cy="12.6" r="2.38"/><circle cx="38" cy="34.2" r="2.38"/><circle cx="45.4" cy="13.3" r="2.38"/><circle cx="20.5" cy="13.9" r="2.38"/><circle cx="59" cy="31.9" r="2.38"/><circle cx="57.7" cy="11.6" r="2.38"/><circle cx="62.5" cy="22.4" r="2.38"/><circle cx="51.6" cy="16.1" r="2.38"/><circle cx="31.4" cy="15.3" r="2.38"/><circle cx="60.7" cy="16.5" r="2.38"/><circle cx="24.1" cy="15.4" r="2.38"/><circle cx="35.7" cy="14" r="2.38"/><circle cx="21.5" cy="15.7" r="2.38"/><circle cx="38.2" cy="13.4" r="2.38"/><circle cx="38.9" cy="13.6" r="2.38"/><circle cx="15.5" cy="22.1" r="2.38"/><circle cx="22.1" cy="35.4" r="2.38"/><circle cx="10.1" cy="35.5" r="2.38"/><circle cx="53.7" cy="2" r="2.38"/><circle cx="58" cy="7.5" r="2.38"/><circle cx="26.8" cy="6.6" r="2.38"/><circle cx="36.2" cy="7.9" r="2.38"/><circle cx="44.9" cy="7.9" r="2.38"/><circle cx="13.7" cy="12.3" r="2.38"/><circle cx="4.9" cy="19.8" r="2.38"/><circle cx="3" cy="26.6" r="2.38"/><circle cx="7.4" cy="31.6" r="2.38"/><circle cx="9.7" cy="36" r="2.38"/><circle cx="11.8" cy="42.3" r="2.38"/><circle cx="25.5" cy="39.8" r="2.38"/><circle cx="40.5" cy="41.6" r="2.38"/><circle cx="40.5" cy="44.1" r="2.38"/><circle cx="61.8" cy="41.6" r="2.38"/><circle cx="66.2" cy="33.5" r="2.38"/><circle cx="73.7" cy="19.8" r="2.38"/><circle cx="79.3" cy="20.4" r="2.38"/><circle cx="66.2" cy="12.9" r="2.38"/><circle cx="68" cy="27.9" r="2.38"/></g></svg>
<svg x="437.44" y="141.25" width="82.43" height="46.21"><path class="k" d="M44.56 9.25h3M38.56 10.25h2M42.56 10.25h8M32.56 11.25h1M37.56 11.25h14M53.56 11.25h1M56.56 11.25h2M27.56 12.25h1M29.56 12.25h5M35.56 12.25h24M16.56 13.25h1M23.56 13.25h2M26.56 13.25h34M61.56 13.25h3M16.56 14.25h1M20.56 14.25h1M22.56 14.25h42M72.56 14.25h1M16.56 15.25h2M19.56 15.25h46M67.56 15.25h1M71.56 15.25h1M17.56 16.25h52M70.56 16.25h1M16.56 17.25h52M13.56 18.25h56M70.56 18.25h2M13.56 19.25h59M13.56 20.25h60M12.56 21.25h62M12.56 22.25h62M11.56 23.25h62M9.56 24.25h1M11.56 24.25h1M13.56 24.25h61M14.56 25.25h60M13.56 26.25h1M15.56 26.25h56M73.56 26.25h1M16.56 27.25h51M68.56 27.25h2M74.56 27.25h1M16.56 28.25h50M69.56 28.25h2M73.56 28.25h1M16.56 29.25h51M68.56 29.25h2M71.56 29.25h1M15.56 30.25h54M15.56 31.25h50M68.56 31.25h2M16.56 32.25h1M19.56 32.25h45M20.56 33.25h45M20.56 34.25h45M20.56 35.25h2M24.56 35.25h1M27.56 35.25h1M29.56 35.25h31M61.56 35.25h2M31.56 36.25h27M32.56 37.25h9M42.56 37.25h1M44.56 37.25h8M54.56 37.25h2M35.56 38.25h1M39.56 38.25h1M47.56 38.25h4M48.56 39.25h2"/><g class="p"><circle cx="59.5" cy="15.1" r="2.38"/><circle cx="71.7" cy="20.6" r="2.38"/><circle cx="16.9" cy="35.8" r="2.38"/><circle cx="18.7" cy="13.5" r="2.38"/><circle cx="26.2" cy="32.1" r="2.38"/><circle cx="36.5" cy="14" r="2.38"/><circle cx="38.4" cy="13.8" r="2.38"/><circle cx="17.2" cy="23.5" r="2.38"/><circle cx="55.7" cy="36.2" r="2.38"/><circle cx="59.9" cy="32.6" r="2.38"/><circle cx="17.8" cy="25.6" r="2.38"/><circle cx="36.5" cy="14.3" r="2.38"/><circle cx="64.5" cy="26" r="2.38"/><circle cx="42" cy="12.9" r="2.38"/><circle cx="18.4" cy="13.8" r="2.38"/><circle cx="12" cy="25.3" r="2.38"/><circle cx="71.4" cy="17" r="2.38"/><circle cx="21.2" cy="17" r="2.38"/><circle cx="56.5" cy="34" r="2.38"/><circle cx="25.3" cy="33.7" r="2.38"/><circle cx="60.4" cy="14.8" r="2.38"/><circle cx="48.4" cy="11.1" r="2.38"/><circle cx="34.2" cy="36.6" r="2.38"/><circle cx="63.7" cy="31" r="2.38"/><circle cx="64.2" cy="26.4" r="2.38"/><circle cx="17.7" cy="33.9" r="2.38"/><circle cx="66.2" cy="28.7" r="2.38"/><circle cx="68.2" cy="27.6" r="2.38"/><circle cx="46.2" cy="11.2" r="2.38"/><circle cx="42.7" cy="34.6" r="2.38"/><circle cx="48.8" cy="35.8" r="2.38"/><circle cx="27" cy="35.6" r="2.38"/><circle cx="69.2" cy="29.9" r="2.38"/><circle cx="23.5" cy="31.9" r="2.38"/><circle cx="56.1" cy="11.1" r="2.38"/><circle cx="19.4" cy="29.1" r="2.38"/><circle cx="72.7" cy="24.4" r="2.38"/><circle cx="47.4" cy="36.5" r="2.38"/><circle cx="66.5" cy="31.8" r="2.38"/><circle cx="15" cy="20.7" r="2.38"/><circle cx="41.1" cy="13.4" r="2.38"/><circle cx="21.2" cy="13.6" r="2.38"/><circle cx="73.3" cy="27.2" r="2.38"/><circle cx="51.2" cy="36.3" r="2.38"/><circle cx="10.2" cy="23.7" r="2.38"/><circle cx="31.2" cy="32.5" r="2.38"/><circle cx="67.9" cy="31.5" r="2.38"/><circle cx="60" cy="11.5" r="2.38"/><circle cx="68.7" cy="25.3" r="2.38"/><circle cx="52" cy="34.8" r="2.38"/><circle cx="61.6" cy="15.9" r="2.38"/><circle cx="51.8" cy="10.6" r="2.38"/><circle cx="51.8" cy="13.9" r="2.38"/><circle cx="33.7" cy="34.8" r="2.38"/><circle cx="15" cy="21.9" r="2.38"/><circle cx="54.6" cy="14.2" r="2.38"/><circle cx="54.6" cy="35.2" r="2.38"/><circle cx="27.6" cy="33.1" r="2.38"/><circle cx="22.8" cy="31.8" r="2.38"/><circle cx="59.1" cy="9.4" r="2.38"/><circle cx="73.8" cy="27.2" r="2.38"/><circle cx="73" cy="25.6" r="2.38"/><circle cx="64" cy="29" r="2.38"/><circle cx="28.7" cy="32.8" r="2.38"/><circle cx="27.2" cy="32.6" r="2.38"/><circle cx="68.2" cy="25.1" r="2.38"/><circle cx="60.4" cy="34.3" r="2.38"/><circle cx="25.2" cy="33.6" r="2.38"/><circle cx="62.2" cy="33.2" r="2.38"/><circle cx="63.8" cy="30" r="2.38"/><circle cx="45.5" cy="36.1" r="2.38"/><circle cx="55.7" cy="35.8" r="2.38"/><circle cx="16.2" cy="15.1" r="2.38"/><circle cx="66.8" cy="29.1" r="2.38"/><circle cx="60.4" cy="32.3" r="2.38"/><circle cx="63.1" cy="30.2" r="2.38"/><circle cx="60.8" cy="14.8" r="2.38"/><circle cx="63.8" cy="28.5" r="2.38"/><circle cx="62.7" cy="35.4" r="2.38"/><circle cx="49.8" cy="12.7" r="2.38"/><circle cx="40.5" cy="11.9" r="2.38"/><circle cx="67" cy="32.1" r="2.38"/><circle cx="22.1" cy="31.6" r="2.38"/><circle cx="43" cy="34.9" r="2.38"/><circle cx="57.2" cy="12.9" r="2.38"/><circle cx="16.2" cy="18.3" r="2.38"/><circle cx="22.7" cy="12.6" r="2.38"/><circle cx="63.6" cy="16.8" r="2.38"/><circle cx="37.9" cy="13.5" r="2.38"/><circle cx="54.1" cy="13.9" r="2.38"/><circle cx="64.7" cy="16.3" r="2.38"/><circle cx="45.1" cy="34.9" r="2.38"/><circle cx="41.1" cy="10.3" r="2.38"/><circle cx="18.8" cy="30.2" r="2.38"/><circle cx="60.6" cy="34.9" r="2.38"/><circle cx="68.9" cy="20.6" r="2.38"/><circle cx="50.1" cy="36.5" r="2.38"/><circle cx="65" cy="28.6" r="2.38"/><circle cx="31.9" cy="36.4" r="2.38"/><circle cx="63.8" cy="33.3" r="2.38"/><circle cx="20.1" cy="29.5" r="2.38"/><circle cx="64.4" cy="17.2" r="2.38"/><circle cx="68.5" cy="21.2" r="2.38"/><circle cx="27.9" cy="35.8" r="2.38"/><circle cx="58" cy="34.3" r="2.38"/><circle cx="43.6" cy="34" r="2.38"/><circle cx="11.7" cy="24.1" r="2.38"/><circle cx="61.8" cy="31.4" r="2.38"/><circle cx="34.3" cy="15.5" r="2.38"/><circle cx="66.2" cy="24.8" r="2.38"/><circle cx="60.4" cy="15.7" r="2.38"/><circle cx="18.9" cy="29.6" r="2.38"/><circle cx="71.5" cy="21.5" r="2.38"/><circle cx="66.5" cy="24.7" r="2.38"/><circle cx="41.8" cy="35.2" r="2.38"/><circle cx="58.9" cy="15.3" r="2.38"/><circle cx="61.9" cy="15.4" r="2.38"/><circle cx="58.2" cy="34.8" r="2.38"/><circle cx="25.4" cy="13.4" r="2.38"/><circle cx="34.3" cy="35.5" r="2.38"/><circle cx="60.8" cy="13.7" r="2.38"/><circle cx="17.8" cy="14.2" r="2.38"/><circle cx="14.8" cy="19.5" r="2.38"/><circle cx="18.1" cy="28.7" r="2.38"/><circle cx="21.7" cy="32.5" r="2.38"/><circle cx="25.1" cy="33.4" r="2.38"/><circle cx="63.3" cy="16.9" r="2.38"/><circle cx="73.6" cy="17.8" r="2.38"/><circle cx="17.7" cy="14.3" r="2.38"/><circle cx="63.7" cy="16.9" r="2.38"/><circle cx="45.9" cy="34.7" r="2.38"/><circle cx="37.2" cy="35.2" r="2.38"/><circle cx="50.5" cy="13.8" r="2.38"/><circle cx="45.6" cy="10.4" r="2.38"/><circle cx="64" cy="16" r="2.38"/><circle cx="51.1" cy="12.7" r="2.38"/><circle cx="72.2" cy="15.4" r="2.38"/><circle cx="54.3" cy="14.5" r="2.38"/><circle cx="57.5" cy="12.7" r="2.38"/><circle cx="23.1" cy="36.7" r="2.38"/><circle cx="35.4" cy="35.6" r="2.38"/><circle cx="74.5" cy="20.1" r="2.38"/><circle cx="45.2" cy="35.3" r="2.38"/><circle cx="17.3" cy="26.4" r="2.38"/><circle cx="63.6" cy="17.3" r="2.38"/><circle cx="29.8" cy="36.3" r="2.38"/><circle cx="34.5" cy="38.4" r="2.38"/><circle cx="26.5" cy="13" r="2.38"/><circle cx="54.3" cy="34.3" r="2.38"/><circle cx="65" cy="35.6" r="2.38"/><circle cx="38.6" cy="12.5" r="2.38"/><circle cx="23.2" cy="16.3" r="2.38"/><circle cx="63.5" cy="37.6" r="2.38"/><circle cx="65.1" cy="16.5" r="2.38"/><circle cx="23.8" cy="14.3" r="2.38"/><circle cx="40.8" cy="12.5" r="2.38"/><circle cx="64" cy="29.2" r="2.38"/><circle cx="31.6" cy="34.8" r="2.38"/><circle cx="47.7" cy="35.7" r="2.38"/><circle cx="33.4" cy="14.7" r="2.38"/><circle cx="44.2" cy="11.7" r="2.38"/><circle cx="62.9" cy="14.5" r="2.38"/><circle cx="69.5" cy="17.9" r="2.38"/><circle cx="37.1" cy="36.2" r="2.38"/><circle cx="44.3" cy="11.1" r="2.38"/><circle cx="72.8" cy="33.6" r="2.38"/><circle cx="65.8" cy="17" r="2.38"/><circle cx="69" cy="21.1" r="2.38"/><circle cx="63.8" cy="30.2" r="2.38"/><circle cx="57.8" cy="34.8" r="2.38"/><circle cx="65.2" cy="15" r="2.38"/><circle cx="64.4" cy="15.9" r="2.38"/><circle cx="66.9" cy="33.8" r="2.38"/><circle cx="12.2" cy="25.9" r="2.38"/><circle cx="18.7" cy="27.4" r="2.38"/><circle cx="53.6" cy="37.1" r="2.38"/><circle cx="63.3" cy="30.2" r="2.38"/><circle cx="61.3" cy="32.5" r="2.38"/><circle cx="29.9" cy="34.5" r="2.38"/><circle cx="20" cy="29.1" r="2.38"/><circle cx="72.2" cy="27" r="2.38"/><circle cx="33.9" cy="15.1" r="2.38"/><circle cx="43.7" cy="12.3" r="2.38"/><circle cx="31.6" cy="33.8" r="2.38"/><circle cx="72.5" cy="21.7" r="2.38"/><circle cx="33.9" cy="12.1" r="2.38"/><circle cx="59.2" cy="16" r="2.38"/><circle cx="52.2" cy="34.3" r="2.38"/><circle cx="26.9" cy="16" r="2.38"/><circle cx="55.3" cy="35.2" r="2.38"/><circle cx="12.1" cy="30.1" r="2.38"/><circle cx="38" cy="38" r="2.38"/><circle cx="70.1" cy="17.5" r="2.38"/><circle cx="29.8" cy="32.3" r="2.38"/><circle cx="42.9" cy="35.7" r="2.38"/><circle cx="44.8" cy="34" r="2.38"/><circle cx="31.7" cy="12.9" r="2.38"/><circle cx="20" cy="14.8" r="2.38"/><circle cx="14.7" cy="22.6" r="2.38"/><circle cx="22.6" cy="33.5" r="2.38"/><circle cx="48.9" cy="35.4" r="2.38"/><circle cx="28.6" cy="14.5" r="2.38"/><circle cx="55.3" cy="13.7" r="2.38"/><circle cx="56.9" cy="34.1" r="2.38"/><circle cx="45.9" cy="10" r="2.38"/><circle cx="15.4" cy="27.3" r="2.38"/><circle cx="28" cy="36.9" r="2.38"/><circle cx="76.1" cy="26.3" r="2.38"/><circle cx="21.2" cy="29.6" r="2.38"/><circle cx="38.4" cy="10" r="2.38"/><circle cx="53.7" cy="36.7" r="2.38"/><circle cx="66.5" cy="31.7" r="2.38"/><circle cx="64.4" cy="27.8" r="2.38"/><circle cx="67.3" cy="18.8" r="2.38"/><circle cx="36.2" cy="36.2" r="2.38"/><circle cx="69" cy="24.8" r="2.38"/><circle cx="55.1" cy="34.8" r="2.38"/><circle cx="38.8" cy="13" r="2.38"/><circle cx="43.8" cy="11.6" r="2.38"/><circle cx="49.5" cy="12.2" r="2.38"/><circle cx="71.2" cy="19.8" r="2.38"/><circle cx="65.3" cy="26" r="2.38"/><circle cx="36.6" cy="11.8" r="2.38"/><circle cx="49.3" cy="37.9" r="2.38"/><circle cx="50.1" cy="13" r="2.38"/><circle cx="30.5" cy="15" r="2.38"/><circle cx="29.9" cy="14.8" r="2.38"/><circle cx="10" cy="22.6" r="2.38"/><circle cx="39.7" cy="35.7" r="2.38"/><circle cx="41.8" cy="34.9" r="2.38"/><circle cx="14.5" cy="33" r="2.38"/><circle cx="23.5" cy="34.8" r="2.38"/><circle cx="19.4" cy="32.1" r="2.38"/><circle cx="72" cy="23.7" r="2.38"/><circle cx="46.2" cy="10.3" r="2.38"/><circle cx="70.6" cy="13.8" r="2.38"/><circle cx="66.1" cy="18.3" r="2.38"/><circle cx="14.5" cy="22.2" r="2.38"/><circle cx="61.7" cy="33" r="2.38"/><circle cx="31" cy="33.2" r="2.38"/><circle cx="64.8" cy="26.5" r="2.38"/><circle cx="15.1" cy="29.3" r="2.38"/><circle cx="11.5" cy="12.7" r="2.38"/><circle cx="73.4" cy="20.5" r="2.38"/><circle cx="22.1" cy="33.2" r="2.38"/><circle cx="68.6" cy="17.3" r="2.38"/><circle cx="67.2" cy="28.4" r="2.38"/><circle cx="76.5" cy="29.7" r="2.38"/><circle cx="64" cy="33.7" r="2.38"/><circle cx="65.7" cy="26.4" r="2.38"/><circle cx="41.9" cy="38.4" r="2.38"/><circle cx="68.2" cy="20.1" r="2.38"/><circle cx="41" cy="37.2" r="2.38"/><circle cx="29.4" cy="12.8" r="2.38"/><circle cx="33.4" cy="13.8" r="2.38"/><circle cx="56.2" cy="34.6" r="2.38"/><circle cx="52.5" cy="35.5" r="2.38"/><circle cx="58.3" cy="33.7" r="2.38"/><circle cx="31.7" cy="13.8" r="2.38"/><circle cx="32.1" cy="11.3" r="2.38"/><circle cx="36.7" cy="13.9" r="2.38"/><circle cx="18.4" cy="18" r="2.38"/><circle cx="43.6" cy="37.5" r="2.38"/><circle cx="59.5" cy="35.9" r="2.38"/><circle cx="23.1" cy="33.4" r="2.38"/><circle cx="34.2" cy="12.7" r="2.38"/><circle cx="19.8" cy="32.9" r="2.38"/><circle cx="51.5" cy="14.1" r="2.38"/><circle cx="28.4" cy="32.2" r="2.38"/><circle cx="26.4" cy="15.4" r="2.38"/><circle cx="14.6" cy="26.3" r="2.38"/><circle cx="46" cy="34.8" r="2.38"/><circle cx="68.7" cy="24.4" r="2.38"/><circle cx="15.9" cy="24" r="2.38"/><circle cx="74.6" cy="30.3" r="2.38"/><circle cx="53.9" cy="34.3" r="2.38"/><circle cx="24.4" cy="16.5" r="2.38"/><circle cx="72.6" cy="31.1" r="2.38"/><circle cx="65.4" cy="15.2" r="2.38"/><circle cx="22.9" cy="16.6" r="2.38"/><circle cx="36.4" cy="2" r="2.38"/><circle cx="20.8" cy="8.3" r="2.38"/><circle cx="31.1" cy="7" r="2.38"/><circle cx="14.8" cy="13.5" r="2.38"/><circle cx="8.6" cy="18.5" r="2.38"/><circle cx="3.3" cy="23.5" r="2.38"/><circle cx="4.8" cy="29.8" r="2.38"/><circle cx="7.9" cy="29.5" r="2.38"/><circle cx="7.3" cy="37.9" r="2.38"/><circle cx="16.7" cy="36.6" r="2.38"/><circle cx="27.1" cy="42.3" r="2.38"/><circle cx="34.2" cy="38.5" r="2.38"/><circle cx="48.6" cy="41.6" r="2.38"/><circle cx="54.8" cy="44.1" r="2.38"/><circle cx="60.8" cy="41" r="2.38"/><circle cx="70.4" cy="36" r="2.38"/><circle cx="74.8" cy="29.8" r="2.38"/><circle cx="79.8" cy="19.8" r="2.38"/><circle cx="79.8" cy="24.1" r="2.38"/><circle cx="73.6" cy="12.3" r="2.38"/><circle cx="66.7" cy="10.4" r="2.38"/><circle cx="62.9" cy="9.8" r="2.38"/><circle cx="39.2" cy="7.3" r="2.38"/><circle cx="45.4" cy="8.5" r="2.38"/></g></svg>
<svg x="532.54" y="141.25" width="82.43" height="46.21"><path class="k" d="M42.46 9.25h2M31.46 10.25h2M34.46 10.25h3M38.46 10.25h9M20.46 11.25h1M22.46 11.25h1M26.46 11.25h2M30.46 11.25h20M15.46 12.25h1M20.46 12.25h33M54.46 12.25h1M16.46 13.25h2M19.46 13.25h36M17.46 14.25h39M58.46 14.25h1M18.46 15.25h43M17.46 16.25h44M16.46 17.25h46M17.46 18.25h48M16.46 19.25h50M14.46 20.25h53M14.46 21.25h54M14.46 22.25h54M15.46 23.25h52M15.46 24.25h52M16.46 25.25h50M17.46 26.25h49M17.46 27.25h50M71.46 27.25h1M18.46 28.25h51M70.46 28.25h1M18.46 29.25h50M69.46 29.25h2M17.46 30.25h1M19.46 30.25h48M70.46 30.25h1M20.46 31.25h47M24.46 32.25h41M67.46 32.25h1M25.46 33.25h39M69.46 33.25h1M26.46 34.25h1M28.46 34.25h37M30.46 35.25h35M33.46 36.25h5M39.46 36.25h23M34.46 37.25h2M40.46 37.25h11M53.46 37.25h2M56.46 37.25h5M41.46 38.25h6M58.46 38.25h2M42.46 39.25h2"/><g class="p"><circle cx="51.2" cy="35.3" r="2.38"/><circle cx="34.5" cy="37.3" r="2.38"/><circle cx="28.5" cy="33.9" r="2.38"/><circle cx="54.6" cy="35.8" r="2.38"/><circle cx="40.4" cy="12.3" r="2.38"/><circle cx="42.4" cy="9.9" r="2.38"/><circle cx="62.9" cy="33.2" r="2.38"/><circle cx="13.5" cy="20.4" r="2.38"/><circle cx="62.8" cy="20.1" r="2.38"/><circle cx="67.9" cy="24.3" r="2.38"/><circle cx="62.5" cy="37.3" r="2.38"/><circle cx="53.3" cy="34.2" r="2.38"/><circle cx="19" cy="17.3" r="2.38"/><circle cx="16.1" cy="13.6" r="2.38"/><circle cx="27" cy="32.4" r="2.38"/><circle cx="56.5" cy="16.9" r="2.38"/><circle cx="69.9" cy="31.4" r="2.38"/><circle cx="32.7" cy="34" r="2.38"/><circle cx="28" cy="12.8" r="2.38"/><circle cx="48.5" cy="34.9" r="2.38"/><circle cx="35.8" cy="34.5" r="2.38"/><circle cx="57.4" cy="34.2" r="2.38"/><circle cx="69.2" cy="26.5" r="2.38"/><circle cx="16.9" cy="21.6" r="2.38"/><circle cx="45.6" cy="10.8" r="2.38"/><circle cx="30.8" cy="32.3" r="2.38"/><circle cx="20.4" cy="27.9" r="2.38"/><circle cx="57" cy="12.7" r="2.38"/><circle cx="25.4" cy="30.5" r="2.38"/><circle cx="35.7" cy="35" r="2.38"/><circle cx="61.8" cy="34.5" r="2.38"/><circle cx="38.5" cy="33" r="2.38"/><circle cx="12.9" cy="21.9" r="2.38"/><circle cx="52.7" cy="14.6" r="2.38"/><circle cx="41.9" cy="35.3" r="2.38"/><circle cx="62.2" cy="32.9" r="2.38"/><circle cx="28.1" cy="10.2" r="2.38"/><circle cx="23" cy="13.4" r="2.38"/><circle cx="27.2" cy="13" r="2.38"/><circle cx="41.9" cy="36.5" r="2.38"/><circle cx="37.1" cy="33.4" r="2.38"/><circle cx="62.7" cy="33.2" r="2.38"/><circle cx="57.1" cy="35.7" r="2.38"/><circle cx="70.1" cy="28" r="2.38"/><circle cx="64.5" cy="22.8" r="2.38"/><circle cx="40.5" cy="37.4" r="2.38"/><circle cx="41.9" cy="35.1" r="2.38"/><circle cx="55" cy="16.3" r="2.38"/><circle cx="56.9" cy="38.3" r="2.38"/><circle cx="59.2" cy="16.8" r="2.38"/><circle cx="19.9" cy="19" r="2.38"/><circle cx="41.6" cy="34.4" r="2.38"/><circle cx="24.9" cy="29.8" r="2.38"/><circle cx="38.1" cy="13.3" r="2.38"/><circle cx="70.2" cy="29.8" r="2.38"/><circle cx="63" cy="34.3" r="2.38"/><circle cx="19.4" cy="24.2" r="2.38"/><circle cx="40.6" cy="11.3" r="2.38"/><circle cx="30.9" cy="32.1" r="2.38"/><circle cx="13.4" cy="22.8" r="2.38"/><circle cx="45" cy="10.9" r="2.38"/><circle cx="18.1" cy="14" r="2.38"/><circle cx="25.6" cy="30.3" r="2.38"/><circle cx="71.6" cy="32.8" r="2.38"/><circle cx="40" cy="37.2" r="2.38"/><circle cx="51.4" cy="14.3" r="2.38"/><circle cx="25.7" cy="29.6" r="2.38"/><circle cx="43.9" cy="10.6" r="2.38"/><circle cx="17.8" cy="21.5" r="2.38"/><circle cx="36.7" cy="12.2" r="2.38"/><circle cx="46.6" cy="36" r="2.38"/><circle cx="18.5" cy="28.1" r="2.38"/><circle cx="18.9" cy="20.2" r="2.38"/><circle cx="21" cy="15.1" r="2.38"/><circle cx="20.6" cy="15.9" r="2.38"/><circle cx="19.5" cy="19.2" r="2.38"/><circle cx="19.8" cy="30.6" r="2.38"/><circle cx="38.9" cy="34.6" r="2.38"/><circle cx="54.4" cy="16.4" r="2.38"/><circle cx="36.7" cy="13" r="2.38"/><circle cx="34.4" cy="35.2" r="2.38"/><circle cx="56.9" cy="16.8" r="2.38"/><circle cx="65.8" cy="34.4" r="2.38"/><circle cx="70.2" cy="28" r="2.38"/><circle cx="17" cy="22.2" r="2.38"/><circle cx="56.5" cy="37.4" r="2.38"/><circle cx="40" cy="33.9" r="2.38"/><circle cx="55.5" cy="16.1" r="2.38"/><circle cx="27.7" cy="32.6" r="2.38"/><circle cx="58.6" cy="15.9" r="2.38"/><circle cx="65.7" cy="28.6" r="2.38"/><circle cx="32.5" cy="11.4" r="2.38"/><circle cx="50.2" cy="13" r="2.38"/><circle cx="54.9" cy="34.1" r="2.38"/><circle cx="29.3" cy="32.2" r="2.38"/><circle cx="20.2" cy="31" r="2.38"/><circle cx="72.7" cy="32.6" r="2.38"/><circle cx="63.7" cy="39.1" r="2.38"/><circle cx="41.2" cy="35.4" r="2.38"/><circle cx="38.8" cy="33" r="2.38"/><circle cx="24.3" cy="13.1" r="2.38"/><circle cx="63.8" cy="31.2" r="2.38"/><circle cx="30.3" cy="31.8" r="2.38"/><circle cx="33" cy="38.5" r="2.38"/><circle cx="25.9" cy="14.1" r="2.38"/><circle cx="39.9" cy="33.4" r="2.38"/><circle cx="35.3" cy="12.7" r="2.38"/><circle cx="20.1" cy="26.8" r="2.38"/><circle cx="46.3" cy="36.6" r="2.38"/><circle cx="49.3" cy="13.5" r="2.38"/><circle cx="17.2" cy="18.4" r="2.38"/><circle cx="64" cy="19.1" r="2.38"/><circle cx="58.3" cy="17.3" r="2.38"/><circle cx="34.2" cy="13.2" r="2.38"/><circle cx="17" cy="18.3" r="2.38"/><circle cx="15.3" cy="14.6" r="2.38"/><circle cx="19.6" cy="25.6" r="2.38"/><circle cx="32.9" cy="13.3" r="2.38"/><circle cx="45" cy="36.7" r="2.38"/><circle cx="68.7" cy="26.1" r="2.38"/><circle cx="57.1" cy="14.4" r="2.38"/><circle cx="31.8" cy="13.7" r="2.38"/><circle cx="64.7" cy="24.9" r="2.38"/><circle cx="56.7" cy="34.7" r="2.38"/><circle cx="32.9" cy="12.6" r="2.38"/><circle cx="51.8" cy="33.9" r="2.38"/><circle cx="68.7" cy="29.4" r="2.38"/><circle cx="29.5" cy="31.8" r="2.38"/><circle cx="53" cy="15.5" r="2.38"/><circle cx="62.7" cy="19.6" r="2.38"/><circle cx="38.2" cy="33.2" r="2.38"/><circle cx="56.4" cy="35.5" r="2.38"/><circle cx="22.9" cy="29.1" r="2.38"/><circle cx="38.8" cy="13.5" r="2.38"/><circle cx="22.1" cy="13.1" r="2.38"/><circle cx="25.3" cy="11.2" r="2.38"/><circle cx="67.8" cy="32.1" r="2.38"/><circle cx="32.7" cy="33" r="2.38"/><circle cx="42.8" cy="38" r="2.38"/><circle cx="16.3" cy="22.1" r="2.38"/><circle cx="18.1" cy="12.6" r="2.38"/><circle cx="17.2" cy="27.4" r="2.38"/><circle cx="50.9" cy="14.6" r="2.38"/><circle cx="66.1" cy="21.5" r="2.38"/><circle cx="55.7" cy="34.9" r="2.38"/><circle cx="20.2" cy="28.3" r="2.38"/><circle cx="65.7" cy="22.4" r="2.38"/><circle cx="32" cy="13.7" r="2.38"/><circle cx="35.6" cy="35.1" r="2.38"/><circle cx="37.1" cy="11.1" r="2.38"/><circle cx="20.1" cy="15.8" r="2.38"/><circle cx="59.7" cy="18.6" r="2.38"/><circle cx="31" cy="32.9" r="2.38"/><circle cx="43.7" cy="37.2" r="2.38"/><circle cx="48.5" cy="35.2" r="2.38"/><circle cx="42.1" cy="34.7" r="2.38"/><circle cx="40.9" cy="34.4" r="2.38"/><circle cx="22.7" cy="30.6" r="2.38"/><circle cx="29.7" cy="14.2" r="2.38"/><circle cx="16.1" cy="25" r="2.38"/><circle cx="54" cy="34.4" r="2.38"/><circle cx="19.7" cy="25.1" r="2.38"/><circle cx="41.8" cy="12.2" r="2.38"/><circle cx="70.6" cy="31" r="2.38"/><circle cx="36.7" cy="34.9" r="2.38"/><circle cx="53.8" cy="34" r="2.38"/><circle cx="57.7" cy="35.9" r="2.38"/><circle cx="36" cy="12.5" r="2.38"/><circle cx="26.7" cy="14.1" r="2.38"/><circle cx="23.7" cy="29.3" r="2.38"/><circle cx="14" cy="18.7" r="2.38"/><circle cx="53.4" cy="13.1" r="2.38"/><circle cx="29.5" cy="13.2" r="2.38"/><circle cx="52.3" cy="15.3" r="2.38"/><circle cx="54.8" cy="15.5" r="2.38"/><circle cx="22.5" cy="12.6" r="2.38"/><circle cx="44.8" cy="11.8" r="2.38"/><circle cx="63" cy="31.8" r="2.38"/><circle cx="58.4" cy="34.8" r="2.38"/><circle cx="60.5" cy="16.8" r="2.38"/><circle cx="44.8" cy="36.4" r="2.38"/><circle cx="17.7" cy="29.8" r="2.38"/><circle cx="63.5" cy="14.1" r="2.38"/><circle cx="58.9" cy="38.1" r="2.38"/><circle cx="46.1" cy="35.9" r="2.38"/><circle cx="43.9" cy="12.4" r="2.38"/><circle cx="53.1" cy="34.4" r="2.38"/><circle cx="63.8" cy="35.9" r="2.38"/><circle cx="37.9" cy="33.1" r="2.38"/><circle cx="62.7" cy="20.3" r="2.38"/><circle cx="19.4" cy="25.5" r="2.38"/><circle cx="36.5" cy="34.4" r="2.38"/><circle cx="44.2" cy="12.4" r="2.38"/><circle cx="28.6" cy="31.4" r="2.38"/><circle cx="66" cy="22.8" r="2.38"/><circle cx="40.1" cy="34.6" r="2.38"/><circle cx="51" cy="34.9" r="2.38"/><circle cx="30.2" cy="9.9" r="2.38"/><circle cx="29.8" cy="32.6" r="2.38"/><circle cx="52.8" cy="36.9" r="2.38"/><circle cx="54.5" cy="35.2" r="2.38"/><circle cx="52.3" cy="33.9" r="2.38"/><circle cx="65.8" cy="30.1" r="2.38"/><circle cx="40.2" cy="36.9" r="2.38"/><circle cx="31.2" cy="34.2" r="2.38"/><circle cx="33.1" cy="36.5" r="2.38"/><circle cx="35.6" cy="35.2" r="2.38"/><circle cx="30.3" cy="11.1" r="2.38"/><circle cx="67.2" cy="26.7" r="2.38"/><circle cx="51.7" cy="13.1" r="2.38"/><circle cx="37.6" cy="11.3" r="2.38"/><circle cx="17" cy="21.5" r="2.38"/><circle cx="20.2" cy="25.5" r="2.38"/><circle cx="61.4" cy="34" r="2.38"/><circle cx="66.6" cy="16.8" r="2.38"/><circle cx="31.7" cy="13.8" r="2.38"/><circle cx="65.6" cy="30.2" r="2.38"/><circle cx="54.9" cy="16.9" r="2.38"/><circle cx="46.7" cy="37.6" r="2.38"/><circle cx="16" cy="12" r="2.38"/><circle cx="26.6" cy="14.1" r="2.38"/><circle cx="40.1" cy="34.9" r="2.38"/><circle cx="30.6" cy="14.3" r="2.38"/><circle cx="45.3" cy="37.4" r="2.38"/><circle cx="20" cy="12.5" r="2.38"/><circle cx="46.2" cy="12.9" r="2.38"/><circle cx="32" cy="32.4" r="2.38"/><circle cx="16.6" cy="15.3" r="2.38"/><circle cx="61.3" cy="33.9" r="2.38"/><circle cx="63" cy="32.2" r="2.38"/><circle cx="65.7" cy="19.9" r="2.38"/><circle cx="71.8" cy="29.5" r="2.38"/><circle cx="36.4" cy="35.6" r="2.38"/><circle cx="27.8" cy="12.5" r="2.38"/><circle cx="54.8" cy="11.6" r="2.38"/><circle cx="62" cy="33.8" r="2.38"/><circle cx="47.3" cy="12.9" r="2.38"/><circle cx="22.9" cy="29.5" r="2.38"/><circle cx="51.6" cy="34.4" r="2.38"/><circle cx="52.1" cy="37.8" r="2.38"/><circle cx="16.7" cy="28.1" r="2.38"/><circle cx="69.7" cy="26.7" r="2.38"/><circle cx="57.9" cy="35.3" r="2.38"/><circle cx="49.8" cy="36.4" r="2.38"/><circle cx="32.4" cy="12.1" r="2.38"/><circle cx="67.6" cy="19.4" r="2.38"/><circle cx="55.5" cy="34" r="2.38"/><circle cx="18.2" cy="22.5" r="2.38"/><circle cx="29.3" cy="32.9" r="2.38"/><circle cx="49.4" cy="12.4" r="2.38"/><circle cx="20.5" cy="15.5" r="2.38"/><circle cx="40.2" cy="36.7" r="2.38"/><circle cx="36.9" cy="34.8" r="2.38"/><circle cx="68.4" cy="30.6" r="2.38"/><circle cx="24.8" cy="13" r="2.38"/><circle cx="31.8" cy="34.4" r="2.38"/><circle cx="57.3" cy="38.9" r="2.38"/><circle cx="40.5" cy="33.5" r="2.38"/><circle cx="20" cy="16.7" r="2.38"/><circle cx="52.6" cy="34.1" r="2.38"/><circle cx="35.5" cy="11.5" r="2.38"/><circle cx="28.5" cy="2" r="2.38"/><circle cx="31.3" cy="7.3" r="2.38"/><circle cx="48.2" cy="6.6" r="2.38"/><circle cx="17.6" cy="11" r="2.38"/><circle cx="23.2" cy="10.4" r="2.38"/><circle cx="4.5" cy="15.4" r="2.38"/><circle cx="3" cy="19.8" r="2.38"/><circle cx="8.2" cy="24.8" r="2.38"/><circle cx="7.6" cy="32.3" r="2.38"/><circle cx="18.8" cy="36" r="2.38"/><circle cx="23.8" cy="41" r="2.38"/><circle cx="39.5" cy="43.8" r="2.38"/><circle cx="46.7" cy="41.6" r="2.38"/><circle cx="74.5" cy="42.3" r="2.38"/><circle cx="79.5" cy="22" r="2.38"/><circle cx="73.2" cy="19.8" r="2.38"/><circle cx="73.8" cy="24.8" r="2.38"/><circle cx="72.6" cy="29.8" r="2.38"/><circle cx="69.5" cy="14.1" r="2.38"/><circle cx="67" cy="37.3" r="2.38"/></g></svg>
<svg x="57.02" y="200.13" width="82.43" height="46.21"><path class="k" d="M28.98 9.37h2M34.98 9.37h1M52.98 9.37h1M21.98 10.37h1M25.98 10.37h1M29.98 10.37h2M34.98 10.37h3M41.98 10.37h1M43.98 10.37h1M47.98 10.37h2M51.98 10.37h2M63.98 10.37h5M25.98 11.37h2M28.98 11.37h4M33.98 11.37h12M46.98 11.37h8M55.98 11.37h2M59.98 11.37h1M61.98 11.37h6M21.98 12.37h2M24.98 12.37h44M19.98 13.37h49M18.98 14.37h50M3.98 15.37h1M17.98 15.37h51M2.98 16.37h2M17.98 16.37h52M2.98 17.37h1M17.98 17.37h53M6.98 18.37h1M17.98 18.37h52M5.98 19.37h2M17.98 19.37h52M4.98 20.37h2M16.98 20.37h54M2.98 21.37h1M4.98 21.37h2M13.98 21.37h59M13.98 22.37h2M16.98 22.37h57M74.98 22.37h1M76.98 22.37h2M17.98 23.37h56M74.98 23.37h5M16.98 24.37h56M75.98 24.37h5M2.98 25.37h4M16.98 25.37h56M75.98 25.37h4M2.98 26.37h5M17.98 26.37h56M74.98 26.37h6M2.98 27.37h1M5.98 27.37h2M16.98 27.37h54M72.98 27.37h5M6.98 28.37h1M15.98 28.37h54M75.98 28.37h1M5.98 29.37h1M16.98 29.37h54M76.98 29.37h1M17.98 30.37h53M17.98 31.37h53M16.98 32.37h54M17.98 33.37h54M17.98 34.37h54M18.98 35.37h51M17.98 36.37h51M18.98 37.37h21M41.98 37.37h18M65.98 37.37h2M19.98 38.37h19M42.98 38.37h9M52.98 38.37h1M18.98 39.37h12M31.98 39.37h7M44.98 39.37h6M19.98 40.37h9M32.98 40.37h1M35.98 40.37h2M45.98 40.37h5M24.98 41.37h1M46.98 41.37h2M49.98 41.37h1"/><g class="p"><circle cx="19" cy="31.1" r="2.38"/><circle cx="22.4" cy="39.5" r="2.38"/><circle cx="19.8" cy="16" r="2.38"/><circle cx="58.6" cy="34.4" r="2.38"/><circle cx="24.7" cy="10.1" r="2.38"/><circle cx="66.9" cy="16.6" r="2.38"/><circle cx="36.7" cy="39.2" r="2.38"/><circle cx="45.9" cy="38.2" r="2.38"/><circle cx="20.1" cy="27.7" r="2.38"/><circle cx="42.1" cy="38.1" r="2.38"/><circle cx="67.7" cy="14.9" r="2.38"/><circle cx="24.1" cy="38.4" r="2.38"/><circle cx="61.3" cy="35.6" r="2.38"/><circle cx="52.1" cy="35.6" r="2.38"/><circle cx="43.1" cy="13" r="2.38"/><circle cx="49.7" cy="11.7" r="2.38"/><circle cx="64.6" cy="34.6" r="2.38"/><circle cx="62.7" cy="34.8" r="2.38"/><circle cx="64.8" cy="12.4" r="2.38"/><circle cx="41.8" cy="34.3" r="2.38"/><circle cx="52.5" cy="35.1" r="2.38"/><circle cx="31.7" cy="39.1" r="2.38"/><circle cx="54.5" cy="11.7" r="2.38"/><circle cx="67.4" cy="33.6" r="2.38"/><circle cx="53.3" cy="43" r="2.38"/><circle cx="34.4" cy="40.6" r="2.38"/><circle cx="31.8" cy="10.3" r="2.38"/><circle cx="63" cy="11.4" r="2.38"/><circle cx="67.2" cy="20.1" r="2.38"/><circle cx="68.3" cy="32" r="2.38"/><circle cx="25.1" cy="38.6" r="2.38"/><circle cx="26.2" cy="13.9" r="2.38"/><circle cx="40.4" cy="12.1" r="2.38"/><circle cx="20.4" cy="19.7" r="2.38"/><circle cx="20.3" cy="30.8" r="2.38"/><circle cx="21.6" cy="15.5" r="2.38"/><circle cx="20.4" cy="17.4" r="2.38"/><circle cx="51.7" cy="39.2" r="2.38"/><circle cx="26.5" cy="38.1" r="2.38"/><circle cx="34.8" cy="13.4" r="2.38"/><circle cx="68.2" cy="33.4" r="2.38"/><circle cx="22" cy="15.4" r="2.38"/><circle cx="19.7" cy="25.5" r="2.38"/><circle cx="26.3" cy="14" r="2.38"/><circle cx="38.1" cy="39.4" r="2.38"/><circle cx="21.3" cy="14.6" r="2.38"/><circle cx="68.3" cy="34.2" r="2.38"/><circle cx="67.3" cy="19.3" r="2.38"/><circle cx="20.2" cy="33.5" r="2.38"/><circle cx="52.7" cy="13.2" r="2.38"/><circle cx="51.4" cy="38.7" r="2.38"/><circle cx="36.4" cy="37.5" r="2.38"/><circle cx="20.1" cy="25.2" r="2.38"/><circle cx="53" cy="11.6" r="2.38"/><circle cx="20.9" cy="33.9" r="2.38"/><circle cx="62.6" cy="13.6" r="2.38"/><circle cx="33.2" cy="13.4" r="2.38"/><circle cx="68" cy="29.6" r="2.38"/><circle cx="45.2" cy="14" r="2.38"/><circle cx="21.2" cy="9.5" r="2.38"/><circle cx="45.9" cy="38.4" r="2.38"/><circle cx="21.3" cy="39.3" r="2.38"/><circle cx="63.5" cy="35.6" r="2.38"/><circle cx="19.5" cy="30.4" r="2.38"/><circle cx="21.2" cy="33.5" r="2.38"/><circle cx="51.1" cy="12.1" r="2.38"/><circle cx="49.7" cy="36.3" r="2.38"/><circle cx="52.6" cy="36.4" r="2.38"/><circle cx="67.7" cy="20" r="2.38"/><circle cx="66.8" cy="16.6" r="2.38"/><circle cx="68.4" cy="17.2" r="2.38"/><circle cx="41.2" cy="37.5" r="2.38"/><circle cx="43.8" cy="12.3" r="2.38"/><circle cx="38.9" cy="36.1" r="2.38"/><circle cx="41.7" cy="34.4" r="2.38"/><circle cx="57.7" cy="13.4" r="2.38"/><circle cx="28.2" cy="11.3" r="2.38"/><circle cx="20" cy="8.5" r="2.38"/><circle cx="19.1" cy="23.7" r="2.38"/><circle cx="68" cy="27.3" r="2.38"/><circle cx="20.2" cy="17.3" r="2.38"/><circle cx="20.4" cy="26.1" r="2.38"/><circle cx="40.2" cy="9.5" r="2.38"/><circle cx="54.8" cy="9.4" r="2.38"/><circle cx="20.6" cy="17.2" r="2.38"/><circle cx="55.3" cy="38.8" r="2.38"/><circle cx="23.8" cy="41.3" r="2.38"/><circle cx="20.5" cy="28.9" r="2.38"/><circle cx="67.2" cy="28.7" r="2.38"/><circle cx="44" cy="12.8" r="2.38"/><circle cx="67.9" cy="28.7" r="2.38"/><circle cx="26.6" cy="8.7" r="2.38"/><circle cx="21.1" cy="33.9" r="2.38"/><circle cx="21.2" cy="33.8" r="2.38"/><circle cx="56.3" cy="13.3" r="2.38"/><circle cx="67.3" cy="35" r="2.38"/><circle cx="20.1" cy="24.6" r="2.38"/><circle cx="59.1" cy="36" r="2.38"/><circle cx="62.6" cy="34.4" r="2.38"/><circle cx="25.5" cy="39.3" r="2.38"/><circle cx="47.2" cy="37.5" r="2.38"/><circle cx="20.5" cy="32.1" r="2.38"/><circle cx="59.5" cy="35.2" r="2.38"/><circle cx="28.9" cy="37" r="2.38"/><circle cx="32.9" cy="39.3" r="2.38"/><circle cx="21.2" cy="13" r="2.38"/><circle cx="20.8" cy="26.9" r="2.38"/><circle cx="21.7" cy="12.1" r="2.38"/><circle cx="25.9" cy="13.7" r="2.38"/><circle cx="20.7" cy="30.1" r="2.38"/><circle cx="19.8" cy="34.8" r="2.38"/><circle cx="58.8" cy="36" r="2.38"/><circle cx="24.1" cy="15.4" r="2.38"/><circle cx="28.3" cy="9.8" r="2.38"/><circle cx="20.5" cy="32.5" r="2.38"/><circle cx="66.6" cy="16.2" r="2.38"/><circle cx="59.5" cy="34.6" r="2.38"/><circle cx="30.4" cy="11.2" r="2.38"/><circle cx="37.7" cy="9.1" r="2.38"/><circle cx="49.4" cy="39.4" r="2.38"/><circle cx="29.4" cy="11.3" r="2.38"/><circle cx="19.4" cy="32.7" r="2.38"/><circle cx="54.6" cy="36.3" r="2.38"/><circle cx="47.1" cy="14.5" r="2.38"/><circle cx="20.5" cy="30.1" r="2.38"/><circle cx="66.6" cy="16.4" r="2.38"/><circle cx="19.5" cy="27.5" r="2.38"/><circle cx="40.7" cy="34.6" r="2.38"/><circle cx="19" cy="21.6" r="2.38"/><circle cx="36.8" cy="36.3" r="2.38"/><circle cx="52.4" cy="35.4" r="2.38"/><circle cx="66.6" cy="35.4" r="2.38"/><circle cx="35.5" cy="37.4" r="2.38"/><circle cx="45.2" cy="40.6" r="2.38"/><circle cx="21.1" cy="33.5" r="2.38"/><circle cx="47.9" cy="13.4" r="2.38"/><circle cx="55.4" cy="11.9" r="2.38"/><circle cx="54" cy="36.4" r="2.38"/><circle cx="38.5" cy="13.3" r="2.38"/><circle cx="68.6" cy="28.9" r="2.38"/><circle cx="63" cy="14.2" r="2.38"/><circle cx="22.7" cy="13.9" r="2.38"/><circle cx="39.1" cy="35.5" r="2.38"/><circle cx="19.8" cy="29" r="2.38"/><circle cx="64.8" cy="12.2" r="2.38"/><circle cx="19.1" cy="27.9" r="2.38"/><circle cx="26" cy="38.2" r="2.38"/><circle cx="43.5" cy="35.2" r="2.38"/><circle cx="19.9" cy="27.7" r="2.38"/><circle cx="31.3" cy="39.2" r="2.38"/><circle cx="42.9" cy="13.4" r="2.38"/><circle cx="19.7" cy="19.7" r="2.38"/><circle cx="67.6" cy="19.8" r="2.38"/><circle cx="19.7" cy="37.4" r="2.38"/><circle cx="20.8" cy="27" r="2.38"/><circle cx="45.6" cy="37.6" r="2.38"/><circle cx="68.4" cy="19.9" r="2.38"/><circle cx="68.8" cy="31.1" r="2.38"/><circle cx="19.4" cy="37.6" r="2.38"/><circle cx="53.8" cy="35.2" r="2.38"/><circle cx="35.5" cy="12.1" r="2.38"/><circle cx="59" cy="34.6" r="2.38"/><circle cx="50.4" cy="37.4" r="2.38"/><circle cx="30.8" cy="13.2" r="2.38"/><circle cx="20.8" cy="30.1" r="2.38"/><circle cx="61.4" cy="34.4" r="2.38"/><circle cx="33.6" cy="13.2" r="2.38"/><circle cx="20" cy="31.7" r="2.38"/><circle cx="65.9" cy="11.5" r="2.38"/><circle cx="67.3" cy="13.2" r="2.38"/><circle cx="38.3" cy="11" r="2.38"/><circle cx="20.8" cy="16.6" r="2.38"/><circle cx="32.3" cy="13.2" r="2.38"/><circle cx="60.1" cy="14.3" r="2.38"/><circle cx="42.2" cy="37.6" r="2.38"/><circle cx="29.5" cy="37.2" r="2.38"/><circle cx="19.4" cy="29.3" r="2.38"/><circle cx="53.7" cy="35.9" r="2.38"/><circle cx="20.1" cy="34.1" r="2.38"/><circle cx="40.7" cy="13.5" r="2.38"/><circle cx="53.4" cy="13" r="2.38"/><circle cx="25.7" cy="38.9" r="2.38"/><circle cx="25.1" cy="12.1" r="2.38"/><circle cx="56.1" cy="36.4" r="2.38"/><circle cx="65.3" cy="34.9" r="2.38"/><circle cx="67.1" cy="34.9" r="2.38"/><circle cx="42.2" cy="35.7" r="2.38"/><circle cx="40.7" cy="13.6" r="2.38"/><circle cx="43" cy="34.5" r="2.38"/><circle cx="67.8" cy="29.4" r="2.38"/><circle cx="60.8" cy="13.7" r="2.38"/><circle cx="55.3" cy="35.4" r="2.38"/><circle cx="67" cy="13.5" r="2.38"/><circle cx="20.2" cy="27.5" r="2.38"/><circle cx="62.1" cy="34.9" r="2.38"/><circle cx="20.7" cy="23.2" r="2.38"/><circle cx="67.4" cy="29.4" r="2.38"/><circle cx="67.6" cy="20.7" r="2.38"/><circle cx="40.7" cy="12.5" r="2.38"/><circle cx="64.1" cy="13.3" r="2.38"/><circle cx="67.6" cy="27.3" r="2.38"/><circle cx="45.2" cy="11.4" r="2.38"/><circle cx="47.6" cy="39.2" r="2.38"/><circle cx="48.3" cy="39.3" r="2.38"/><circle cx="33.3" cy="36.6" r="2.38"/><circle cx="20.3" cy="24.6" r="2.38"/><circle cx="68" cy="34.3" r="2.38"/><circle cx="37.7" cy="10.6" r="2.38"/><circle cx="20.1" cy="16.4" r="2.38"/><circle cx="62.3" cy="34.5" r="2.38"/><circle cx="67.3" cy="28.4" r="2.38"/><circle cx="54" cy="35.3" r="2.38"/><circle cx="68" cy="30.5" r="2.38"/><circle cx="21" cy="36" r="2.38"/><circle cx="19.4" cy="27.2" r="2.38"/><circle cx="21.4" cy="10.4" r="2.38"/><circle cx="64.6" cy="10.7" r="2.38"/><circle cx="26.8" cy="14.2" r="2.38"/><circle cx="62" cy="13.7" r="2.38"/><circle cx="57" cy="35.4" r="2.38"/><circle cx="62.1" cy="11.2" r="2.38"/><circle cx="55.5" cy="39.2" r="2.38"/><circle cx="67.2" cy="35.9" r="2.38"/><circle cx="51.8" cy="38.3" r="2.38"/><circle cx="19.8" cy="38.6" r="2.38"/><circle cx="30.4" cy="37.2" r="2.38"/><circle cx="43.8" cy="37" r="2.38"/><circle cx="37.8" cy="13.3" r="2.38"/><circle cx="43.4" cy="12.8" r="2.38"/><circle cx="31.8" cy="39.8" r="2.38"/><circle cx="45.5" cy="14.6" r="2.38"/><circle cx="47.9" cy="40.2" r="2.38"/><circle cx="33.5" cy="37.5" r="2.38"/><circle cx="23.4" cy="39.1" r="2.38"/><circle cx="61.4" cy="34.2" r="2.38"/><circle cx="44.6" cy="13.8" r="2.38"/><circle cx="37.2" cy="38.4" r="2.38"/><circle cx="36.6" cy="37.8" r="2.38"/><circle cx="69.3" cy="33.9" r="2.38"/><circle cx="66.1" cy="13.2" r="2.38"/><circle cx="21.5" cy="38.9" r="2.38"/><circle cx="24.4" cy="12.4" r="2.38"/><circle cx="27.8" cy="39.4" r="2.38"/><circle cx="22.4" cy="15.1" r="2.38"/><circle cx="28" cy="38.4" r="2.38"/><circle cx="68.2" cy="17.8" r="2.38"/><circle cx="66.6" cy="34.3" r="2.38"/><circle cx="53.3" cy="35.9" r="2.38"/><circle cx="67.7" cy="11.9" r="2.38"/><circle cx="62.4" cy="34" r="2.38"/><circle cx="52.2" cy="36" r="2.38"/><circle cx="38.8" cy="35.2" r="2.38"/><circle cx="20.8" cy="27.3" r="2.38"/><circle cx="21.1" cy="33.3" r="2.38"/><circle cx="28.4" cy="13.8" r="2.38"/><circle cx="31.6" cy="36.8" r="2.38"/><circle cx="55.7" cy="9.3" r="2.38"/><circle cx="36.7" cy="37.9" r="2.38"/><circle cx="47.8" cy="11.6" r="2.38"/><circle cx="47.4" cy="39.2" r="2.38"/><circle cx="67.6" cy="18.3" r="2.38"/><circle cx="67.2" cy="29.2" r="2.38"/><circle cx="45.2" cy="38.1" r="2.38"/><circle cx="68.4" cy="18.4" r="2.38"/><circle cx="19.5" cy="19.1" r="2.38"/><circle cx="51.9" cy="40.7" r="2.38"/><circle cx="34" cy="38.1" r="2.38"/><circle cx="37.1" cy="12.2" r="2.38"/><circle cx="24.1" cy="15.3" r="2.38"/><circle cx="32.9" cy="11.7" r="2.38"/><circle cx="20.6" cy="29.3" r="2.38"/><circle cx="49.9" cy="12.1" r="2.38"/><circle cx="20.7" cy="25.5" r="2.38"/><circle cx="49.3" cy="38.2" r="2.38"/><circle cx="43.2" cy="13.5" r="2.38"/><circle cx="58.5" cy="35.7" r="2.38"/><circle cx="67.4" cy="18.6" r="2.38"/><circle cx="4.6" cy="31.7" r="2.38"/><circle cx="4.6" cy="18.3" r="2.38"/><circle cx="5.3" cy="30.2" r="2.38"/><circle cx="4.6" cy="25.9" r="2.38"/><circle cx="4.5" cy="18.9" r="2.38"/><circle cx="4.9" cy="28.9" r="2.38"/><circle cx="4.2" cy="27.2" r="2.38"/><circle cx="4.1" cy="17.4" r="2.38"/><circle cx="5.4" cy="18.6" r="2.38"/><circle cx="4.6" cy="23.2" r="2.38"/><circle cx="5.6" cy="27.4" r="2.38"/><circle cx="4.5" cy="22.4" r="2.38"/><circle cx="4.6" cy="29.5" r="2.38"/><circle cx="5.7" cy="16.4" r="2.38"/><circle cx="4.4" cy="24.6" r="2.38"/><circle cx="3.9" cy="24" r="2.38"/><circle cx="20.4" cy="25.1" r="2.38"/><circle cx="8.8" cy="31.5" r="2.38"/><circle cx="19.2" cy="32.3" r="2.38"/><circle cx="19.1" cy="28.6" r="2.38"/><circle cx="17.9" cy="37.3" r="2.38"/><circle cx="9.9" cy="14.9" r="2.38"/><circle cx="16.8" cy="26.4" r="2.38"/><circle cx="20.3" cy="36" r="2.38"/><circle cx="19.9" cy="31.1" r="2.38"/><circle cx="12.7" cy="24.2" r="2.38"/><circle cx="20.3" cy="33.3" r="2.38"/><circle cx="18.1" cy="21.1" r="2.38"/><circle cx="19.3" cy="25.3" r="2.38"/><circle cx="18.4" cy="15.3" r="2.38"/><circle cx="10.6" cy="20.6" r="2.38"/><circle cx="6.7" cy="24.3" r="2.38"/><circle cx="18" cy="26.7" r="2.38"/><circle cx="15.8" cy="22.1" r="2.38"/><circle cx="12.6" cy="21.5" r="2.38"/><circle cx="19.3" cy="25.2" r="2.38"/><circle cx="17.3" cy="23.2" r="2.38"/><circle cx="10.1" cy="26.4" r="2.38"/><circle cx="15.7" cy="24.6" r="2.38"/><circle cx="16.6" cy="22.7" r="2.38"/><circle cx="13.3" cy="19.6" r="2.38"/><circle cx="14.8" cy="31.3" r="2.38"/><circle cx="7.9" cy="15.9" r="2.38"/><circle cx="11.3" cy="33.3" r="2.38"/><circle cx="14.9" cy="29" r="2.38"/><circle cx="15.7" cy="29.9" r="2.38"/><circle cx="19.2" cy="13.7" r="2.38"/><circle cx="10.8" cy="27.4" r="2.38"/><circle cx="17.8" cy="22.5" r="2.38"/><circle cx="20.4" cy="33.2" r="2.38"/><circle cx="78" cy="20.9" r="2.38"/><circle cx="78.9" cy="17.7" r="2.38"/><circle cx="78.5" cy="24.5" r="2.38"/><circle cx="78.4" cy="32.7" r="2.38"/><circle cx="78.9" cy="31.3" r="2.38"/><circle cx="77.8" cy="25.4" r="2.38"/><circle cx="78.1" cy="23.7" r="2.38"/><circle cx="78" cy="28.1" r="2.38"/><circle cx="77.8" cy="21.6" r="2.38"/><circle cx="78.3" cy="27.2" r="2.38"/><circle cx="78.9" cy="22.5" r="2.38"/><circle cx="79.5" cy="24.9" r="2.38"/><circle cx="79.6" cy="27.5" r="2.38"/><circle cx="77.7" cy="25.6" r="2.38"/><circle cx="79.3" cy="31.8" r="2.38"/><circle cx="79.5" cy="32.1" r="2.38"/><circle cx="69.8" cy="35.4" r="2.38"/><circle cx="75.2" cy="26" r="2.38"/><circle cx="72" cy="31.5" r="2.38"/><circle cx="69.2" cy="25.2" r="2.38"/><circle cx="74.3" cy="26.1" r="2.38"/><circle cx="75.3" cy="19.6" r="2.38"/><circle cx="71.3" cy="23" r="2.38"/><circle cx="70.7" cy="23.2" r="2.38"/><circle cx="75.9" cy="29.3" r="2.38"/><circle cx="71.5" cy="17.9" r="2.38"/><circle cx="71.1" cy="15.3" r="2.38"/><circle cx="74.5" cy="25.3" r="2.38"/><circle cx="74" cy="16" r="2.38"/><circle cx="77.8" cy="28.6" r="2.38"/><circle cx="73.8" cy="24.9" r="2.38"/><circle cx="75.5" cy="29.2" r="2.38"/><circle cx="76" cy="21.2" r="2.38"/><circle cx="74" cy="31.1" r="2.38"/><circle cx="73.4" cy="23.9" r="2.38"/><circle cx="67.5" cy="29.6" r="2.38"/><circle cx="69.9" cy="24.6" r="2.38"/><circle cx="67.6" cy="29.8" r="2.38"/><circle cx="70.9" cy="25.5" r="2.38"/><circle cx="75" cy="29" r="2.38"/><circle cx="72.1" cy="23.7" r="2.38"/><circle cx="73.6" cy="25.7" r="2.38"/><circle cx="73.2" cy="35.5" r="2.38"/><circle cx="68.5" cy="33.4" r="2.38"/><circle cx="77.6" cy="23.9" r="2.38"/><circle cx="70.4" cy="33.5" r="2.38"/><circle cx="70.5" cy="25.5" r="2.38"/><circle cx="69.7" cy="44.2" r="2.38"/><circle cx="39.6" cy="44.8" r="2.38"/><circle cx="27.3" cy="43.7" r="2.38"/><circle cx="66.4" cy="40.9" r="2.38"/><circle cx="76.8" cy="7.7" r="2.38"/><circle cx="68.6" cy="6.4" r="2.38"/><circle cx="58.6" cy="5.6" r="2.38"/><circle cx="67.5" cy="8.7" r="2.38"/><circle cx="51.2" cy="1.7" r="2.38"/><circle cx="45.2" cy="3.8" r="2.38"/><circle cx="35.1" cy="7" r="2.38"/><circle cx="24" cy="9.4" r="2.38"/><circle cx="12.8" cy="12.2" r="2.38"/><circle cx="8.4" cy="16.1" r="2.38"/><circle cx="6.2" cy="19.2" r="2.38"/></g></svg>
<svg x="152.13" y="200.13" width="82.43" height="46.21"><path class="k" d="M29.87 8.37h1M28.87 9.37h5M25.87 10.37h9M35.87 10.37h1M24.87 11.37h13M38.87 11.37h5M44.87 11.37h1M46.87 11.37h1M25.87 12.37h23M49.87 12.37h2M52.87 12.37h1M54.87 12.37h3M21.87 13.37h2M24.87 13.37h32M57.87 13.37h1M21.87 14.37h34M21.87 15.37h35M18.87 16.37h1M20.87 16.37h38M18.87 17.37h42M17.87 18.37h43M17.87 19.37h44M16.87 20.37h44M15.87 21.37h46M63.87 21.37h1M14.87 22.37h47M14.87 23.37h47M14.87 24.37h1M16.87 24.37h45M63.87 24.37h1M17.87 25.37h43M16.87 26.37h45M11.87 27.37h1M17.87 27.37h45M16.87 28.37h45M11.87 29.37h1M15.87 29.37h46M14.87 30.37h2M17.87 30.37h44M14.87 31.37h1M18.87 31.37h44M15.87 32.37h1M17.87 32.37h46M15.87 33.37h45M61.87 33.37h2M16.87 34.37h43M62.87 34.37h2M17.87 35.37h1M20.87 35.37h39M62.87 35.37h2M21.87 36.37h36M58.87 36.37h2M61.87 36.37h2M21.87 37.37h35M59.87 37.37h1M61.87 37.37h1M23.87 38.37h32M56.87 38.37h1M58.87 38.37h1M24.87 39.37h11M37.87 39.37h15M53.87 39.37h1M24.87 40.37h8M38.87 40.37h13M24.87 41.37h1M26.87 41.37h4M38.87 41.37h1M41.87 41.37h7M27.87 42.37h1M44.87 42.37h1"/><g class="p"><circle cx="46.2" cy="39.8" r="2.38"/><circle cx="36.9" cy="36.3" r="2.38"/><circle cx="58.4" cy="15.2" r="2.38"/><circle cx="32" cy="37.9" r="2.38"/><circle cx="61.4" cy="33.8" r="2.38"/><circle cx="27.2" cy="38.3" r="2.38"/><circle cx="58.5" cy="36.1" r="2.38"/><circle cx="54.9" cy="17" r="2.38"/><circle cx="56.8" cy="17.9" r="2.38"/><circle cx="21.3" cy="33.6" r="2.38"/><circle cx="60.6" cy="22.7" r="2.38"/><circle cx="58.9" cy="25.1" r="2.38"/><circle cx="20.1" cy="25.2" r="2.38"/><circle cx="41.6" cy="10" r="2.38"/><circle cx="20.3" cy="29.7" r="2.38"/><circle cx="49.9" cy="14.6" r="2.38"/><circle cx="19.5" cy="25.6" r="2.38"/><circle cx="55.8" cy="13.7" r="2.38"/><circle cx="57" cy="40.4" r="2.38"/><circle cx="27.4" cy="38.2" r="2.38"/><circle cx="45.5" cy="11.4" r="2.38"/><circle cx="21.4" cy="34" r="2.38"/><circle cx="23" cy="40.1" r="2.38"/><circle cx="24.2" cy="34.7" r="2.38"/><circle cx="41.8" cy="12.9" r="2.38"/><circle cx="20.4" cy="24" r="2.38"/><circle cx="41.7" cy="39.1" r="2.38"/><circle cx="52.2" cy="37" r="2.38"/><circle cx="21" cy="31.5" r="2.38"/><circle cx="14.6" cy="28.6" r="2.38"/><circle cx="21.2" cy="29.7" r="2.38"/><circle cx="59.6" cy="18.8" r="2.38"/><circle cx="47.8" cy="39" r="2.38"/><circle cx="43.5" cy="14.1" r="2.38"/><circle cx="57.6" cy="38.9" r="2.38"/><circle cx="40.1" cy="38" r="2.38"/><circle cx="20.4" cy="26.8" r="2.38"/><circle cx="19.5" cy="27.4" r="2.38"/><circle cx="38.4" cy="14.6" r="2.38"/><circle cx="65.5" cy="36.3" r="2.38"/><circle cx="37.5" cy="13.1" r="2.38"/><circle cx="20.1" cy="25.7" r="2.38"/><circle cx="55.9" cy="34.7" r="2.38"/><circle cx="56.3" cy="34.5" r="2.38"/><circle cx="55.7" cy="15.2" r="2.38"/><circle cx="59.1" cy="30.3" r="2.38"/><circle cx="20.4" cy="29.5" r="2.38"/><circle cx="19.8" cy="20.2" r="2.38"/><circle cx="63.1" cy="21.8" r="2.38"/><circle cx="49.5" cy="39.7" r="2.38"/><circle cx="36.8" cy="14.2" r="2.38"/><circle cx="50.9" cy="37" r="2.38"/><circle cx="12.9" cy="32.7" r="2.38"/><circle cx="57.1" cy="13.6" r="2.38"/><circle cx="55.7" cy="34.1" r="2.38"/><circle cx="20.4" cy="37.4" r="2.38"/><circle cx="19.8" cy="21.8" r="2.38"/><circle cx="62.5" cy="23.8" r="2.38"/><circle cx="31.9" cy="10.4" r="2.38"/><circle cx="56.6" cy="34" r="2.38"/><circle cx="18.2" cy="30.6" r="2.38"/><circle cx="15.7" cy="20.1" r="2.38"/><circle cx="54.4" cy="37" r="2.38"/><circle cx="37.5" cy="37.1" r="2.38"/><circle cx="47.8" cy="10.3" r="2.38"/><circle cx="52.4" cy="14.3" r="2.38"/><circle cx="52.8" cy="14.9" r="2.38"/><circle cx="54.1" cy="15.8" r="2.38"/><circle cx="58.8" cy="14.2" r="2.38"/><circle cx="19.7" cy="35.8" r="2.38"/><circle cx="53.3" cy="14.9" r="2.38"/><circle cx="34.6" cy="37" r="2.38"/><circle cx="28.9" cy="12.4" r="2.38"/><circle cx="54.6" cy="16.3" r="2.38"/><circle cx="15.8" cy="35.2" r="2.38"/><circle cx="18.5" cy="20.5" r="2.38"/><circle cx="33.4" cy="12.2" r="2.38"/><circle cx="18" cy="32.7" r="2.38"/><circle cx="49.2" cy="38.8" r="2.38"/><circle cx="59.9" cy="35.4" r="2.38"/><circle cx="37.1" cy="42.1" r="2.38"/><circle cx="41.4" cy="38.3" r="2.38"/><circle cx="51.4" cy="39.3" r="2.38"/><circle cx="45.8" cy="9.9" r="2.38"/><circle cx="46.9" cy="14" r="2.38"/><circle cx="40.1" cy="39.7" r="2.38"/><circle cx="23" cy="17.1" r="2.38"/><circle cx="60.7" cy="14.8" r="2.38"/><circle cx="56.2" cy="34" r="2.38"/><circle cx="58.3" cy="24.6" r="2.38"/><circle cx="20.7" cy="32" r="2.38"/><circle cx="64.9" cy="37.7" r="2.38"/><circle cx="42.2" cy="39.9" r="2.38"/><circle cx="29" cy="39.1" r="2.38"/><circle cx="44.2" cy="14.4" r="2.38"/><circle cx="65.8" cy="26.3" r="2.38"/><circle cx="64" cy="37.3" r="2.38"/><circle cx="22.9" cy="17.1" r="2.38"/><circle cx="58.1" cy="19.7" r="2.38"/><circle cx="27.4" cy="42" r="2.38"/><circle cx="16.4" cy="23.3" r="2.38"/><circle cx="15.6" cy="20.3" r="2.38"/><circle cx="58.9" cy="14.1" r="2.38"/><circle cx="38.1" cy="10.6" r="2.38"/><circle cx="52.8" cy="15.1" r="2.38"/><circle cx="21.3" cy="13.8" r="2.38"/><circle cx="44.4" cy="10.1" r="2.38"/><circle cx="19.9" cy="24.6" r="2.38"/><circle cx="52.8" cy="15" r="2.38"/><circle cx="37.4" cy="11.3" r="2.38"/><circle cx="17.4" cy="28.5" r="2.38"/><circle cx="58.6" cy="27.2" r="2.38"/><circle cx="19.5" cy="19.8" r="2.38"/><circle cx="62.4" cy="28.8" r="2.38"/><circle cx="32.9" cy="42.7" r="2.38"/><circle cx="59.5" cy="24" r="2.38"/><circle cx="31.7" cy="11" r="2.38"/><circle cx="60" cy="30.8" r="2.38"/><circle cx="22.5" cy="32.9" r="2.38"/><circle cx="19.9" cy="35.2" r="2.38"/><circle cx="23.6" cy="13.7" r="2.38"/><circle cx="40.6" cy="12.4" r="2.38"/><circle cx="58.8" cy="18.9" r="2.38"/><circle cx="26.5" cy="41.8" r="2.38"/><circle cx="39" cy="37.3" r="2.38"/><circle cx="31.8" cy="38.7" r="2.38"/><circle cx="63.6" cy="25.4" r="2.38"/><circle cx="22.7" cy="40" r="2.38"/><circle cx="14.6" cy="27.2" r="2.38"/><circle cx="60.7" cy="35.1" r="2.38"/><circle cx="39" cy="14" r="2.38"/><circle cx="21.9" cy="17.2" r="2.38"/><circle cx="18.8" cy="23.1" r="2.38"/><circle cx="25.9" cy="15.5" r="2.38"/><circle cx="39.4" cy="12.7" r="2.38"/><circle cx="58.8" cy="25.5" r="2.38"/><circle cx="51.8" cy="12.8" r="2.38"/><circle cx="40.9" cy="41.2" r="2.38"/><circle cx="23.7" cy="16.4" r="2.38"/><circle cx="36.9" cy="36.3" r="2.38"/><circle cx="20.5" cy="29" r="2.38"/><circle cx="27" cy="39.2" r="2.38"/><circle cx="34.2" cy="11.9" r="2.38"/><circle cx="20.2" cy="25.4" r="2.38"/><circle cx="47.4" cy="13.4" r="2.38"/><circle cx="36.8" cy="12.4" r="2.38"/><circle cx="60.2" cy="33.5" r="2.38"/><circle cx="16.5" cy="26" r="2.38"/><circle cx="56.6" cy="14.4" r="2.38"/><circle cx="14.1" cy="13.5" r="2.38"/><circle cx="51" cy="13.5" r="2.38"/><circle cx="30" cy="11.7" r="2.38"/><circle cx="41.4" cy="41.7" r="2.38"/><circle cx="43.5" cy="43" r="2.38"/><circle cx="20.2" cy="26.6" r="2.38"/><circle cx="62.1" cy="33.5" r="2.38"/><circle cx="44.4" cy="40.3" r="2.38"/><circle cx="20.4" cy="19" r="2.38"/><circle cx="37.7" cy="13.2" r="2.38"/><circle cx="45.9" cy="13.3" r="2.38"/><circle cx="34.2" cy="37.6" r="2.38"/><circle cx="20.1" cy="27.3" r="2.38"/><circle cx="26.9" cy="40.3" r="2.38"/><circle cx="19.1" cy="33.9" r="2.38"/><circle cx="38.9" cy="37.8" r="2.38"/><circle cx="42.6" cy="14.1" r="2.38"/><circle cx="62.4" cy="28.6" r="2.38"/><circle cx="25.1" cy="37.4" r="2.38"/><circle cx="60.3" cy="28.1" r="2.38"/><circle cx="20.6" cy="18.5" r="2.38"/><circle cx="17.9" cy="22.4" r="2.38"/><circle cx="65.5" cy="19.3" r="2.38"/><circle cx="27.3" cy="11.5" r="2.38"/><circle cx="25.5" cy="12.8" r="2.38"/><circle cx="64.5" cy="23" r="2.38"/><circle cx="51.5" cy="14.3" r="2.38"/><circle cx="19.5" cy="19.2" r="2.38"/><circle cx="32.8" cy="38" r="2.38"/><circle cx="59" cy="31.8" r="2.38"/><circle cx="27.5" cy="12.1" r="2.38"/><circle cx="42.4" cy="12.5" r="2.38"/><circle cx="39" cy="40.1" r="2.38"/><circle cx="29.9" cy="38.4" r="2.38"/><circle cx="46.6" cy="40.1" r="2.38"/><circle cx="17.2" cy="23.4" r="2.38"/><circle cx="20.7" cy="28.8" r="2.38"/><circle cx="58.3" cy="37" r="2.38"/><circle cx="39.1" cy="14.1" r="2.38"/><circle cx="59.5" cy="30.8" r="2.38"/><circle cx="59.2" cy="22.7" r="2.38"/><circle cx="18.3" cy="30.3" r="2.38"/><circle cx="13.4" cy="33.9" r="2.38"/><circle cx="60.3" cy="26.1" r="2.38"/><circle cx="55.4" cy="36.3" r="2.38"/><circle cx="21.6" cy="30.5" r="2.38"/><circle cx="36.9" cy="37.6" r="2.38"/><circle cx="20.2" cy="16.1" r="2.38"/><circle cx="37.1" cy="37.7" r="2.38"/><circle cx="32" cy="39.2" r="2.38"/><circle cx="26.2" cy="37.5" r="2.38"/><circle cx="20.5" cy="18" r="2.38"/><circle cx="58.2" cy="24.2" r="2.38"/><circle cx="42.9" cy="42" r="2.38"/><circle cx="62.2" cy="35.6" r="2.38"/><circle cx="55.5" cy="13.8" r="2.38"/><circle cx="22.2" cy="34.3" r="2.38"/><circle cx="59.7" cy="27.7" r="2.38"/><circle cx="24.5" cy="13.5" r="2.38"/><circle cx="27.2" cy="38.7" r="2.38"/><circle cx="16.2" cy="38.7" r="2.38"/><circle cx="18" cy="24.9" r="2.38"/><circle cx="19.6" cy="19.8" r="2.38"/><circle cx="28.8" cy="12.6" r="2.38"/><circle cx="27.3" cy="11.7" r="2.38"/><circle cx="26.2" cy="12.4" r="2.38"/><circle cx="21" cy="15.8" r="2.38"/><circle cx="60.5" cy="22.5" r="2.38"/><circle cx="12.9" cy="22.2" r="2.38"/><circle cx="63.4" cy="17" r="2.38"/><circle cx="54.8" cy="40.2" r="2.38"/><circle cx="52.5" cy="38.6" r="2.38"/><circle cx="15.9" cy="35.1" r="2.38"/><circle cx="24.9" cy="16.5" r="2.38"/><circle cx="60.9" cy="25.7" r="2.38"/><circle cx="38.3" cy="36.6" r="2.38"/><circle cx="13.9" cy="29.7" r="2.38"/><circle cx="59.6" cy="30.4" r="2.38"/><circle cx="18.7" cy="20.7" r="2.38"/><circle cx="36.7" cy="36.9" r="2.38"/><circle cx="57.3" cy="36.8" r="2.38"/><circle cx="43.8" cy="14" r="2.38"/><circle cx="65.8" cy="36.5" r="2.38"/><circle cx="17.4" cy="31" r="2.38"/><circle cx="63" cy="38.1" r="2.38"/><circle cx="59.4" cy="21.8" r="2.38"/><circle cx="12.4" cy="29.5" r="2.38"/><circle cx="32" cy="12" r="2.38"/><circle cx="42.2" cy="13.4" r="2.38"/><circle cx="60.4" cy="29" r="2.38"/><circle cx="18.3" cy="24.8" r="2.38"/><circle cx="32.2" cy="10" r="2.38"/><circle cx="18.4" cy="20.7" r="2.38"/><circle cx="49.7" cy="41" r="2.38"/><circle cx="19.5" cy="14.3" r="2.38"/><circle cx="52" cy="38.7" r="2.38"/><circle cx="62.6" cy="17.5" r="2.38"/><circle cx="63.1" cy="30.2" r="2.38"/><circle cx="57.4" cy="18.5" r="2.38"/><circle cx="16.1" cy="23.5" r="2.38"/><circle cx="64.5" cy="29.4" r="2.38"/><circle cx="78.9" cy="24.3" r="2.38"/><circle cx="71.3" cy="26.6" r="2.38"/><circle cx="70.6" cy="21.7" r="2.38"/><circle cx="59.5" cy="43.3" r="2.38"/><circle cx="34.9" cy="44.8" r="2.38"/><circle cx="23.8" cy="44.4" r="2.38"/><circle cx="9.3" cy="35" r="2.38"/><circle cx="8.2" cy="29.4" r="2.38"/><circle cx="3.7" cy="24.8" r="2.38"/><circle cx="56.1" cy="7" r="2.38"/><circle cx="48.3" cy="5.9" r="2.38"/><circle cx="40.5" cy="7.3" r="2.38"/><circle cx="30.5" cy="1.7" r="2.38"/><circle cx="22.7" cy="3.8" r="2.38"/><circle cx="28.2" cy="6.3" r="2.38"/><circle cx="17.1" cy="11.9" r="2.38"/><circle cx="68.4" cy="32.9" r="2.38"/><circle cx="67.7" cy="34.3" r="2.38"/></g></svg>
<svg x="342.34" y="200.13" width="82.43" height="46.21"><path class="k" d="M25.66 7.37h1M23.66 8.37h4M23.66 9.37h5M24.66 10.37h7M25.66 11.37h10M39.66 11.37h1M20.66 12.37h1M22.66 12.37h1M24.66 12.37h20M45.66 12.37h2M48.66 12.37h1M51.66 12.37h3M19.66 13.37h1M23.66 13.37h31M19.66 14.37h1M23.66 14.37h32M56.66 14.37h1M58.66 14.37h1M16.66 15.37h1M18.66 15.37h3M22.66 15.37h38M14.66 16.37h46M15.66 17.37h46M14.66 18.37h46M11.66 19.37h50M11.66 20.37h51M11.66 21.37h52M10.66 22.37h1M12.66 22.37h51M13.66 23.37h51M12.66 24.37h54M12.66 25.37h53M11.66 26.37h55M8.66 27.37h2M11.66 27.37h55M8.66 28.37h1M12.66 28.37h54M8.66 29.37h2M11.66 29.37h54M7.66 30.37h6M14.66 30.37h50M10.66 31.37h2M15.66 31.37h49M12.66 32.37h1M14.66 32.37h49M14.66 33.37h1M16.66 33.37h46M17.66 34.37h44M17.66 35.37h45M18.66 36.37h38M58.66 36.37h5M18.66 37.37h37M59.66 37.37h1M61.66 37.37h1M19.66 38.37h2M22.66 38.37h32M23.66 39.37h30M28.66 40.37h2M33.66 40.37h5M39.66 40.37h13M35.66 41.37h2M42.66 41.37h2M49.66 41.37h2M37.66 42.37h1M38.66 43.37h1"/><g class="p"><circle cx="42.5" cy="14.3" r="2.38"/><circle cx="59.4" cy="18.6" r="2.38"/><circle cx="56.9" cy="36.3" r="2.38"/><circle cx="64.2" cy="22.8" r="2.38"/><circle cx="12.3" cy="34.8" r="2.38"/><circle cx="36.5" cy="39.5" r="2.38"/><circle cx="23.2" cy="36.8" r="2.38"/><circle cx="18.6" cy="32" r="2.38"/><circle cx="34.3" cy="14" r="2.38"/><circle cx="54.5" cy="34.2" r="2.38"/><circle cx="57.1" cy="16" r="2.38"/><circle cx="23.1" cy="17.8" r="2.38"/><circle cx="13.1" cy="34.8" r="2.38"/><circle cx="22.4" cy="18.2" r="2.38"/><circle cx="34.7" cy="13.3" r="2.38"/><circle cx="42.1" cy="13.7" r="2.38"/><circle cx="54.5" cy="36.2" r="2.38"/><circle cx="20.7" cy="34.9" r="2.38"/><circle cx="14.5" cy="30.8" r="2.38"/><circle cx="37.9" cy="40" r="2.38"/><circle cx="64.7" cy="26.8" r="2.38"/><circle cx="60.5" cy="34.6" r="2.38"/><circle cx="46.6" cy="14.6" r="2.38"/><circle cx="65.3" cy="32.1" r="2.38"/><circle cx="17.7" cy="33.6" r="2.38"/><circle cx="22.8" cy="17.6" r="2.38"/><circle cx="36" cy="13.3" r="2.38"/><circle cx="64" cy="25.1" r="2.38"/><circle cx="63.5" cy="28" r="2.38"/><circle cx="43.2" cy="14.8" r="2.38"/><circle cx="14.7" cy="20.9" r="2.38"/><circle cx="37.8" cy="37.8" r="2.38"/><circle cx="40.6" cy="37.3" r="2.38"/><circle cx="59.2" cy="34.7" r="2.38"/><circle cx="40.1" cy="13.2" r="2.38"/><circle cx="25" cy="16.3" r="2.38"/><circle cx="24.1" cy="13.6" r="2.38"/><circle cx="60.2" cy="33.4" r="2.38"/><circle cx="54.5" cy="36.4" r="2.38"/><circle cx="37.8" cy="14.6" r="2.38"/><circle cx="47.7" cy="15.3" r="2.38"/><circle cx="7.5" cy="27.6" r="2.38"/><circle cx="30" cy="39.2" r="2.38"/><circle cx="29.7" cy="12.7" r="2.38"/><circle cx="34.3" cy="37.7" r="2.38"/><circle cx="15.4" cy="23.8" r="2.38"/><circle cx="23.3" cy="17" r="2.38"/><circle cx="39.6" cy="37.5" r="2.38"/><circle cx="13.8" cy="18.8" r="2.38"/><circle cx="18" cy="14.3" r="2.38"/><circle cx="54.5" cy="35.6" r="2.38"/><circle cx="11.6" cy="29.2" r="2.38"/><circle cx="23.4" cy="39" r="2.38"/><circle cx="46" cy="14.4" r="2.38"/><circle cx="20" cy="33.8" r="2.38"/><circle cx="59.5" cy="18.3" r="2.38"/><circle cx="47.1" cy="38.8" r="2.38"/><circle cx="63.7" cy="18.8" r="2.38"/><circle cx="34.1" cy="11.9" r="2.38"/><circle cx="61" cy="32.5" r="2.38"/><circle cx="32.6" cy="38.2" r="2.38"/><circle cx="52.7" cy="13.3" r="2.38"/><circle cx="21.8" cy="39.4" r="2.38"/><circle cx="13.6" cy="27.2" r="2.38"/><circle cx="15" cy="20.7" r="2.38"/><circle cx="58.5" cy="40.5" r="2.38"/><circle cx="62.2" cy="29" r="2.38"/><circle cx="9.7" cy="29.9" r="2.38"/><circle cx="28.4" cy="12.4" r="2.38"/><circle cx="42.8" cy="38.7" r="2.38"/><circle cx="37.2" cy="37.8" r="2.38"/><circle cx="58.6" cy="36" r="2.38"/><circle cx="67.3" cy="12.8" r="2.38"/><circle cx="14.9" cy="27.7" r="2.38"/><circle cx="46.6" cy="38.4" r="2.38"/><circle cx="37.2" cy="38" r="2.38"/><circle cx="59" cy="16.3" r="2.38"/><circle cx="16.9" cy="17.7" r="2.38"/><circle cx="33.9" cy="13" r="2.38"/><circle cx="35.6" cy="11.3" r="2.38"/><circle cx="44.5" cy="40.5" r="2.38"/><circle cx="45.7" cy="14.7" r="2.38"/><circle cx="22.2" cy="15" r="2.38"/><circle cx="13.5" cy="8.5" r="2.38"/><circle cx="38.6" cy="41" r="2.38"/><circle cx="61.5" cy="30.8" r="2.38"/><circle cx="64.3" cy="35.9" r="2.38"/><circle cx="11.2" cy="24.4" r="2.38"/><circle cx="29.8" cy="38.3" r="2.38"/><circle cx="58.1" cy="16.7" r="2.38"/><circle cx="68.2" cy="33.3" r="2.38"/><circle cx="24.3" cy="35.8" r="2.38"/><circle cx="44.4" cy="39.4" r="2.38"/><circle cx="56.5" cy="33.2" r="2.38"/><circle cx="24.8" cy="17.5" r="2.38"/><circle cx="20.9" cy="36.5" r="2.38"/><circle cx="59.2" cy="16.9" r="2.38"/><circle cx="51.3" cy="15.5" r="2.38"/><circle cx="30.6" cy="11.7" r="2.38"/><circle cx="53.9" cy="16.9" r="2.38"/><circle cx="24.9" cy="38.1" r="2.38"/><circle cx="21.7" cy="18.6" r="2.38"/><circle cx="18" cy="31.1" r="2.38"/><circle cx="26.3" cy="8.7" r="2.38"/><circle cx="25.9" cy="15.3" r="2.38"/><circle cx="16" cy="30.8" r="2.38"/><circle cx="11.4" cy="19.9" r="2.38"/><circle cx="37.1" cy="13.6" r="2.38"/><circle cx="17.8" cy="29.4" r="2.38"/><circle cx="61.9" cy="22.9" r="2.38"/><circle cx="37.8" cy="10.2" r="2.38"/><circle cx="52.2" cy="10.2" r="2.38"/><circle cx="46.9" cy="11.8" r="2.38"/><circle cx="9.9" cy="29.1" r="2.38"/><circle cx="23.4" cy="35.9" r="2.38"/><circle cx="10.6" cy="28" r="2.38"/><circle cx="55" cy="35.2" r="2.38"/><circle cx="47.3" cy="13.8" r="2.38"/><circle cx="44.5" cy="38.6" r="2.38"/><circle cx="14.1" cy="25.9" r="2.38"/><circle cx="19.6" cy="33.9" r="2.38"/><circle cx="60.9" cy="37.1" r="2.38"/><circle cx="15.8" cy="27.6" r="2.38"/><circle cx="19.9" cy="35.2" r="2.38"/><circle cx="42.6" cy="10.1" r="2.38"/><circle cx="60.6" cy="35.2" r="2.38"/><circle cx="67.1" cy="31.5" r="2.38"/><circle cx="59.7" cy="19.5" r="2.38"/><circle cx="36" cy="38.2" r="2.38"/><circle cx="28.1" cy="13" r="2.38"/><circle cx="63.7" cy="32.8" r="2.38"/><circle cx="30.1" cy="37.7" r="2.38"/><circle cx="40.8" cy="12.8" r="2.38"/><circle cx="56.4" cy="16.7" r="2.38"/><circle cx="45.1" cy="14.8" r="2.38"/><circle cx="21" cy="14.5" r="2.38"/><circle cx="43.2" cy="14.3" r="2.38"/><circle cx="45.6" cy="14.3" r="2.38"/><circle cx="33.5" cy="37.5" r="2.38"/><circle cx="19.8" cy="34.2" r="2.38"/><circle cx="16.6" cy="18.4" r="2.38"/><circle cx="15.9" cy="21.4" r="2.38"/><circle cx="48.5" cy="14.7" r="2.38"/><circle cx="33.6" cy="12.6" r="2.38"/><circle cx="62.2" cy="31" r="2.38"/><circle cx="16" cy="31.4" r="2.38"/><circle cx="27.1" cy="11.9" r="2.38"/><circle cx="10.7" cy="32.3" r="2.38"/><circle cx="58.7" cy="14.9" r="2.38"/><circle cx="34.4" cy="14" r="2.38"/><circle cx="25.4" cy="16.1" r="2.38"/><circle cx="49.5" cy="38.4" r="2.38"/><circle cx="21.4" cy="10.4" r="2.38"/><circle cx="55.1" cy="33.8" r="2.38"/><circle cx="61.8" cy="24.4" r="2.38"/><circle cx="55.2" cy="34.5" r="2.38"/><circle cx="14.5" cy="24.8" r="2.38"/><circle cx="13.4" cy="20.3" r="2.38"/><circle cx="31.7" cy="12.8" r="2.38"/><circle cx="27.4" cy="10.2" r="2.38"/><circle cx="38.2" cy="37.6" r="2.38"/><circle cx="63.8" cy="22.3" r="2.38"/><circle cx="36.9" cy="13.5" r="2.38"/><circle cx="50.6" cy="39.3" r="2.38"/><circle cx="45.2" cy="13.9" r="2.38"/><circle cx="15.2" cy="20.1" r="2.38"/><circle cx="36.2" cy="14" r="2.38"/><circle cx="39.6" cy="37.4" r="2.38"/><circle cx="19.3" cy="13" r="2.38"/><circle cx="26" cy="16.4" r="2.38"/><circle cx="9.8" cy="24.9" r="2.38"/><circle cx="53.3" cy="15.8" r="2.38"/><circle cx="23.8" cy="17.8" r="2.38"/><circle cx="53.8" cy="15.2" r="2.38"/><circle cx="54.5" cy="36" r="2.38"/><circle cx="55.9" cy="34.1" r="2.38"/><circle cx="20.4" cy="11.6" r="2.38"/><circle cx="49.5" cy="39" r="2.38"/><circle cx="14.3" cy="21.2" r="2.38"/><circle cx="51.5" cy="15" r="2.38"/><circle cx="15" cy="17.9" r="2.38"/><circle cx="15.4" cy="23.4" r="2.38"/><circle cx="61.4" cy="15.8" r="2.38"/><circle cx="12.3" cy="21.4" r="2.38"/><circle cx="35.8" cy="13.9" r="2.38"/><circle cx="22.8" cy="13" r="2.38"/><circle cx="15.1" cy="21.1" r="2.38"/><circle cx="14.1" cy="26.5" r="2.38"/><circle cx="19" cy="33.6" r="2.38"/><circle cx="21.4" cy="39.1" r="2.38"/><circle cx="16.4" cy="20" r="2.38"/><circle cx="12.2" cy="28.5" r="2.38"/><circle cx="58.9" cy="20.3" r="2.38"/><circle cx="51.8" cy="38.7" r="2.38"/><circle cx="62.4" cy="24.3" r="2.38"/><circle cx="38" cy="13" r="2.38"/><circle cx="24.3" cy="16.7" r="2.38"/><circle cx="48.3" cy="14.3" r="2.38"/><circle cx="35" cy="13.5" r="2.38"/><circle cx="16.1" cy="24.8" r="2.38"/><circle cx="31.8" cy="37.3" r="2.38"/><circle cx="39.8" cy="37.2" r="2.38"/><circle cx="44.2" cy="14.6" r="2.38"/><circle cx="49" cy="38.7" r="2.38"/><circle cx="36.5" cy="38.4" r="2.38"/><circle cx="39.2" cy="12.9" r="2.38"/><circle cx="54.6" cy="34.3" r="2.38"/><circle cx="26.9" cy="9.3" r="2.38"/><circle cx="48.1" cy="14.9" r="2.38"/><circle cx="27.8" cy="38.5" r="2.38"/><circle cx="40.2" cy="37.3" r="2.38"/><circle cx="37.4" cy="38.6" r="2.38"/><circle cx="56.9" cy="14" r="2.38"/><circle cx="14" cy="30.7" r="2.38"/><circle cx="11.9" cy="17.1" r="2.38"/><circle cx="59.5" cy="17.4" r="2.38"/><circle cx="24" cy="18.3" r="2.38"/><circle cx="31.6" cy="37.6" r="2.38"/><circle cx="57.2" cy="33.8" r="2.38"/><circle cx="23.3" cy="14.6" r="2.38"/><circle cx="33.2" cy="42.6" r="2.38"/><circle cx="35.4" cy="14.1" r="2.38"/><circle cx="28.4" cy="37.2" r="2.38"/><circle cx="19.8" cy="32.6" r="2.38"/><circle cx="53" cy="37.5" r="2.38"/><circle cx="18.1" cy="37.7" r="2.38"/><circle cx="12.3" cy="14.3" r="2.38"/><circle cx="13.3" cy="31.2" r="2.38"/><circle cx="38.7" cy="42.6" r="2.38"/><circle cx="17.1" cy="14.7" r="2.38"/><circle cx="51.8" cy="15.6" r="2.38"/><circle cx="37.9" cy="40.2" r="2.38"/><circle cx="35" cy="13.5" r="2.38"/><circle cx="42.9" cy="13.6" r="2.38"/><circle cx="48.7" cy="15.3" r="2.38"/><circle cx="64.4" cy="27.3" r="2.38"/><circle cx="51.9" cy="38.3" r="2.38"/><circle cx="22.7" cy="17.6" r="2.38"/><circle cx="50.9" cy="37.8" r="2.38"/><circle cx="22.4" cy="17.2" r="2.38"/><circle cx="35.2" cy="38.5" r="2.38"/><circle cx="24.6" cy="16.3" r="2.38"/><circle cx="15.2" cy="22.6" r="2.38"/><circle cx="65.5" cy="26" r="2.38"/><circle cx="29.4" cy="11.7" r="2.38"/><circle cx="16.9" cy="14.2" r="2.38"/><circle cx="36" cy="38.7" r="2.38"/><circle cx="56.5" cy="34.5" r="2.38"/><circle cx="58.2" cy="17.8" r="2.38"/><circle cx="58.1" cy="33.3" r="2.38"/><circle cx="53.7" cy="35.8" r="2.38"/><circle cx="36.5" cy="13.1" r="2.38"/><circle cx="16" cy="21" r="2.38"/><circle cx="55.2" cy="14.6" r="2.38"/><circle cx="10.6" cy="29.4" r="2.38"/><circle cx="46.2" cy="13.9" r="2.38"/><circle cx="62.7" cy="25.3" r="2.38"/><circle cx="19.6" cy="8.7" r="2.38"/><circle cx="22.5" cy="17.6" r="2.38"/><circle cx="13.7" cy="25.8" r="2.38"/><circle cx="13" cy="23" r="2.38"/><circle cx="17.7" cy="37.3" r="2.38"/><circle cx="15.2" cy="31.8" r="2.38"/><circle cx="56.4" cy="16.7" r="2.38"/><circle cx="26" cy="8.7" r="2.38"/><circle cx="17.2" cy="35.2" r="2.38"/><circle cx="25.7" cy="15.5" r="2.38"/><circle cx="15.2" cy="25.6" r="2.38"/><circle cx="44.9" cy="11.2" r="2.38"/><circle cx="23.6" cy="17.6" r="2.38"/><circle cx="18.5" cy="15.8" r="2.38"/><circle cx="47.7" cy="39.9" r="2.38"/><circle cx="13.2" cy="16.4" r="2.38"/><circle cx="15.6" cy="19.3" r="2.38"/><circle cx="15.5" cy="28.2" r="2.38"/><circle cx="60.1" cy="21" r="2.38"/><circle cx="18.3" cy="17.9" r="2.38"/><circle cx="14.3" cy="25.4" r="2.38"/><circle cx="21.3" cy="35.9" r="2.38"/><circle cx="50.8" cy="40.1" r="2.38"/><circle cx="51.5" cy="14.7" r="2.38"/><circle cx="48.3" cy="12.3" r="2.38"/><circle cx="16.3" cy="19.8" r="2.38"/><circle cx="64" cy="33.9" r="2.38"/><circle cx="40.9" cy="38.6" r="2.38"/><circle cx="29.2" cy="11.5" r="2.38"/><circle cx="9.6" cy="14.3" r="2.38"/><circle cx="35.1" cy="13.1" r="2.38"/><circle cx="24.8" cy="10.5" r="2.38"/><circle cx="34.9" cy="13.8" r="2.38"/><circle cx="52.2" cy="13.9" r="2.38"/><circle cx="63.6" cy="17.5" r="2.38"/><circle cx="64" cy="29.3" r="2.38"/><circle cx="25.8" cy="15.5" r="2.38"/><circle cx="25.9" cy="14.4" r="2.38"/><circle cx="28.5" cy="11" r="2.38"/><circle cx="7.9" cy="28.9" r="2.38"/><circle cx="13.6" cy="30.2" r="2.38"/><circle cx="52.9" cy="40.6" r="2.38"/><circle cx="60.3" cy="35.8" r="2.38"/><circle cx="33.2" cy="37.2" r="2.38"/><circle cx="47.4" cy="15.2" r="2.38"/><circle cx="33.6" cy="39.3" r="2.38"/><circle cx="63.4" cy="29.3" r="2.38"/><circle cx="64.2" cy="27.5" r="2.38"/><circle cx="19.7" cy="37.3" r="2.38"/><circle cx="36.5" cy="38.3" r="2.38"/><circle cx="43.8" cy="14.5" r="2.38"/><circle cx="34.5" cy="13.5" r="2.38"/><circle cx="38.4" cy="37.4" r="2.38"/><circle cx="55.5" cy="35.3" r="2.38"/><circle cx="18.9" cy="32.6" r="2.38"/><circle cx="41.1" cy="41.3" r="2.38"/><circle cx="13.6" cy="20" r="2.38"/><circle cx="11.4" cy="28.2" r="2.38"/><circle cx="13.1" cy="30.4" r="2.38"/><circle cx="43.4" cy="39.6" r="2.38"/><circle cx="28.7" cy="12.5" r="2.38"/><circle cx="14.7" cy="6.7" r="2.38"/><circle cx="6.4" cy="13.4" r="2.38"/><circle cx="3" cy="27.1" r="2.38"/><circle cx="4.9" cy="32.6" r="2.38"/><circle cx="35.5" cy="3.4" r="2.38"/><circle cx="42.7" cy="1.7" r="2.38"/><circle cx="43" cy="5.5" r="2.38"/><circle cx="48.7" cy="6.4" r="2.38"/><circle cx="61.2" cy="11.1" r="2.38"/><circle cx="66.8" cy="14.6" r="2.38"/><circle cx="73.9" cy="13.4" r="2.38"/><circle cx="79.3" cy="33.6" r="2.38"/><circle cx="68.7" cy="26.1" r="2.38"/><circle cx="64.3" cy="38.6" r="2.38"/><circle cx="58.7" cy="43" r="2.38"/><circle cx="50.5" cy="43.6" r="2.38"/><circle cx="41.8" cy="43.9" r="2.38"/><circle cx="36.2" cy="44.2" r="2.38"/><circle cx="23.7" cy="41.7" r="2.38"/></g></svg>
<svg x="437.44" y="200.13" width="82.43" height="46.21"><path class="k" d="M40.56 8.37h1M48.56 8.37h1M38.56 9.37h4M47.56 9.37h3M37.56 10.37h4M45.56 10.37h6M30.56 11.37h1M36.56 11.37h6M43.56 11.37h9M55.56 11.37h1M57.56 11.37h3M22.56 12.37h1M31.56 12.37h1M34.56 12.37h29M21.56 13.37h2M26.56 13.37h3M30.56 13.37h32M66.56 13.37h1M69.56 13.37h1M19.56 14.37h4M26.56 14.37h36M65.56 14.37h2M19.56 15.37h5M25.56 15.37h38M64.56 15.37h4M69.56 15.37h2M18.56 16.37h49M70.56 16.37h2M17.56 17.37h51M69.56 17.37h4M18.56 18.37h54M14.56 19.37h1M18.56 19.37h54M15.56 20.37h1M17.56 20.37h56M15.56 21.37h58M14.56 22.37h58M14.56 23.37h57M13.56 24.37h57M8.56 25.37h1M13.56 25.37h58M14.56 26.37h58M14.56 27.37h58M6.56 28.37h1M8.56 28.37h1M13.56 28.37h57M71.56 28.37h2M7.56 29.37h2M12.56 29.37h57M72.56 29.37h1M13.56 30.37h55M69.56 30.37h1M71.56 30.37h2M15.56 31.37h52M16.56 32.37h1M18.56 32.37h48M19.56 33.37h46M15.56 34.37h1M20.56 34.37h45M15.56 35.37h2M20.56 35.37h46M14.56 36.37h1M16.56 36.37h2M19.56 36.37h47M17.56 37.37h1M20.56 37.37h6M27.56 37.37h35M63.56 37.37h2M21.56 38.37h3M28.56 38.37h1M30.56 38.37h30M31.56 39.37h25M28.56 40.37h1M31.56 40.37h1M35.56 40.37h1M38.56 40.37h2M41.56 40.37h2M44.56 40.37h2M49.56 40.37h1M27.56 41.37h1"/><g class="p"><circle cx="10" cy="22.6" r="2.38"/><circle cx="62.8" cy="18" r="2.38"/><circle cx="34.7" cy="14.6" r="2.38"/><circle cx="59.5" cy="37.4" r="2.38"/><circle cx="65.7" cy="18.1" r="2.38"/><circle cx="18.1" cy="19.6" r="2.38"/><circle cx="50.6" cy="11" r="2.38"/><circle cx="41.9" cy="11.1" r="2.38"/><circle cx="64.1" cy="18.6" r="2.38"/><circle cx="44.2" cy="40.3" r="2.38"/><circle cx="49" cy="38.9" r="2.38"/><circle cx="30.4" cy="13.5" r="2.38"/><circle cx="37" cy="14.2" r="2.38"/><circle cx="53.5" cy="14.7" r="2.38"/><circle cx="17.3" cy="30.3" r="2.38"/><circle cx="45.8" cy="38.4" r="2.38"/><circle cx="23.7" cy="14.3" r="2.38"/><circle cx="21.4" cy="17.6" r="2.38"/><circle cx="14.8" cy="20.6" r="2.38"/><circle cx="20.2" cy="18" r="2.38"/><circle cx="26.1" cy="17.6" r="2.38"/><circle cx="28.9" cy="16.6" r="2.38"/><circle cx="34.4" cy="15.5" r="2.38"/><circle cx="45.1" cy="14" r="2.38"/><circle cx="48.3" cy="11.5" r="2.38"/><circle cx="23.1" cy="33.2" r="2.38"/><circle cx="36.5" cy="14" r="2.38"/><circle cx="53.9" cy="10.8" r="2.38"/><circle cx="21.4" cy="32" r="2.38"/><circle cx="11.1" cy="27" r="2.38"/><circle cx="18" cy="29.5" r="2.38"/><circle cx="77.8" cy="14.1" r="2.38"/><circle cx="29.1" cy="16.6" r="2.38"/><circle cx="75.2" cy="30.6" r="2.38"/><circle cx="19.2" cy="30.3" r="2.38"/><circle cx="25.6" cy="14.8" r="2.38"/><circle cx="13.1" cy="21.8" r="2.38"/><circle cx="29.6" cy="36.1" r="2.38"/><circle cx="61.9" cy="17.2" r="2.38"/><circle cx="19.3" cy="29.5" r="2.38"/><circle cx="31.8" cy="35.8" r="2.38"/><circle cx="60" cy="14.1" r="2.38"/><circle cx="23.2" cy="34.4" r="2.38"/><circle cx="17.6" cy="32.7" r="2.38"/><circle cx="68.2" cy="19.2" r="2.38"/><circle cx="54.3" cy="37.5" r="2.38"/><circle cx="68.9" cy="27.2" r="2.38"/><circle cx="71.8" cy="29.7" r="2.38"/><circle cx="64.2" cy="38.4" r="2.38"/><circle cx="65.5" cy="13.1" r="2.38"/><circle cx="37.6" cy="37.5" r="2.38"/><circle cx="34.8" cy="15.3" r="2.38"/><circle cx="64.6" cy="35.8" r="2.38"/><circle cx="71.4" cy="28.9" r="2.38"/><circle cx="27.3" cy="34.8" r="2.38"/><circle cx="51.5" cy="37.7" r="2.38"/><circle cx="47.3" cy="37.9" r="2.38"/><circle cx="42.7" cy="39.1" r="2.38"/><circle cx="48.2" cy="11.5" r="2.38"/><circle cx="30.9" cy="35.7" r="2.38"/><circle cx="32" cy="12.1" r="2.38"/><circle cx="56.5" cy="13.2" r="2.38"/><circle cx="23.3" cy="36.5" r="2.38"/><circle cx="20.3" cy="22.1" r="2.38"/><circle cx="53.6" cy="11.8" r="2.38"/><circle cx="63.1" cy="14.1" r="2.38"/><circle cx="29.2" cy="15.1" r="2.38"/><circle cx="64.8" cy="39.3" r="2.38"/><circle cx="71" cy="20.3" r="2.38"/><circle cx="68" cy="25.7" r="2.38"/><circle cx="25.3" cy="35.9" r="2.38"/><circle cx="51.4" cy="14" r="2.38"/><circle cx="23.1" cy="34.3" r="2.38"/><circle cx="65.6" cy="30" r="2.38"/><circle cx="57.6" cy="14.7" r="2.38"/><circle cx="55.7" cy="13.4" r="2.38"/><circle cx="16.7" cy="24.9" r="2.38"/><circle cx="68.9" cy="24.2" r="2.38"/><circle cx="68.8" cy="17.1" r="2.38"/><circle cx="73.4" cy="31.8" r="2.38"/><circle cx="62.4" cy="16.6" r="2.38"/><circle cx="62" cy="17" r="2.38"/><circle cx="24.9" cy="17.7" r="2.38"/><circle cx="35.8" cy="14.6" r="2.38"/><circle cx="52.4" cy="37.2" r="2.38"/><circle cx="72.9" cy="26.3" r="2.38"/><circle cx="48.7" cy="11.9" r="2.38"/><circle cx="16.9" cy="23.8" r="2.38"/><circle cx="71.6" cy="23.9" r="2.38"/><circle cx="18" cy="35.4" r="2.38"/><circle cx="30" cy="15.5" r="2.38"/><circle cx="65.4" cy="29.3" r="2.38"/><circle cx="59.7" cy="15.1" r="2.38"/><circle cx="71.5" cy="19.8" r="2.38"/><circle cx="53" cy="38.7" r="2.38"/><circle cx="47.5" cy="37.1" r="2.38"/><circle cx="19.1" cy="31" r="2.38"/><circle cx="60.4" cy="13.5" r="2.38"/><circle cx="68.5" cy="22.2" r="2.38"/><circle cx="37.8" cy="39.6" r="2.38"/><circle cx="63.2" cy="18" r="2.38"/><circle cx="29.8" cy="15.9" r="2.38"/><circle cx="36.7" cy="14.4" r="2.38"/><circle cx="37.3" cy="14.1" r="2.38"/><circle cx="72.6" cy="15.6" r="2.38"/><circle cx="28.8" cy="35.9" r="2.38"/><circle cx="31.6" cy="37.5" r="2.38"/><circle cx="20.2" cy="19.6" r="2.38"/><circle cx="34.5" cy="37.3" r="2.38"/><circle cx="72.2" cy="13.4" r="2.38"/><circle cx="30.8" cy="12.6" r="2.38"/><circle cx="51.9" cy="40.1" r="2.38"/><circle cx="48.4" cy="9.5" r="2.38"/><circle cx="41.9" cy="38.6" r="2.38"/><circle cx="36.9" cy="38.4" r="2.38"/><circle cx="44.7" cy="14.4" r="2.38"/><circle cx="65.1" cy="16.9" r="2.38"/><circle cx="66.7" cy="33.1" r="2.38"/><circle cx="43.1" cy="37.5" r="2.38"/><circle cx="38.1" cy="38.2" r="2.38"/><circle cx="22.4" cy="14.9" r="2.38"/><circle cx="29.4" cy="13.5" r="2.38"/><circle cx="16.2" cy="37.8" r="2.38"/><circle cx="22" cy="15.8" r="2.38"/><circle cx="47.4" cy="37.5" r="2.38"/><circle cx="65" cy="13.6" r="2.38"/><circle cx="48.3" cy="12.3" r="2.38"/><circle cx="68" cy="24.8" r="2.38"/><circle cx="16.6" cy="25.6" r="2.38"/><circle cx="28.9" cy="34.4" r="2.38"/><circle cx="68" cy="17.4" r="2.38"/><circle cx="64.9" cy="31" r="2.38"/><circle cx="68.2" cy="30.2" r="2.38"/><circle cx="63.7" cy="35.6" r="2.38"/><circle cx="64.6" cy="36.1" r="2.38"/><circle cx="66.1" cy="34.6" r="2.38"/><circle cx="43.6" cy="38.6" r="2.38"/><circle cx="60.9" cy="13.2" r="2.38"/><circle cx="55.2" cy="37.8" r="2.38"/><circle cx="22.4" cy="35.4" r="2.38"/><circle cx="28.8" cy="11.6" r="2.38"/><circle cx="16.4" cy="36.3" r="2.38"/><circle cx="8.1" cy="27.3" r="2.38"/><circle cx="67.7" cy="8.8" r="2.38"/><circle cx="31.1" cy="15.8" r="2.38"/><circle cx="66.4" cy="17.2" r="2.38"/><circle cx="25.3" cy="35" r="2.38"/><circle cx="28.4" cy="38.6" r="2.38"/><circle cx="43.5" cy="14.6" r="2.38"/><circle cx="38" cy="40" r="2.38"/><circle cx="36.7" cy="14.5" r="2.38"/><circle cx="53" cy="13.3" r="2.38"/><circle cx="54.2" cy="11.6" r="2.38"/><circle cx="62.2" cy="35.2" r="2.38"/><circle cx="52.7" cy="14.7" r="2.38"/><circle cx="22" cy="33" r="2.38"/><circle cx="26.4" cy="18.4" r="2.38"/><circle cx="69.7" cy="14.9" r="2.38"/><circle cx="31" cy="12.8" r="2.38"/><circle cx="38.6" cy="11.9" r="2.38"/><circle cx="12" cy="27" r="2.38"/><circle cx="61.9" cy="34.8" r="2.38"/><circle cx="19.9" cy="17.7" r="2.38"/><circle cx="56.2" cy="37.5" r="2.38"/><circle cx="46.1" cy="41" r="2.38"/><circle cx="55.7" cy="13.3" r="2.38"/><circle cx="19.4" cy="29.3" r="2.38"/><circle cx="39.7" cy="12.2" r="2.38"/><circle cx="64.4" cy="32.7" r="2.38"/><circle cx="37.6" cy="11.3" r="2.38"/><circle cx="40.3" cy="13.5" r="2.38"/><circle cx="66" cy="19" r="2.38"/><circle cx="49.6" cy="12.8" r="2.38"/><circle cx="28.7" cy="39.8" r="2.38"/><circle cx="73.4" cy="27.4" r="2.38"/><circle cx="34.5" cy="40.7" r="2.38"/><circle cx="60" cy="12.5" r="2.38"/><circle cx="64.7" cy="30.6" r="2.38"/><circle cx="50.5" cy="12.8" r="2.38"/><circle cx="45.5" cy="38.7" r="2.38"/><circle cx="70.8" cy="28.7" r="2.38"/><circle cx="29.5" cy="15.3" r="2.38"/><circle cx="57.6" cy="10.9" r="2.38"/><circle cx="34.2" cy="15.5" r="2.38"/><circle cx="50.9" cy="14.1" r="2.38"/><circle cx="32.2" cy="15.4" r="2.38"/><circle cx="37.9" cy="9.5" r="2.38"/><circle cx="16.3" cy="23" r="2.38"/><circle cx="24.2" cy="35.7" r="2.38"/><circle cx="20.6" cy="21.8" r="2.38"/><circle cx="27.1" cy="34.2" r="2.38"/><circle cx="37.5" cy="37.5" r="2.38"/><circle cx="30.3" cy="39.9" r="2.38"/><circle cx="56.8" cy="37.5" r="2.38"/><circle cx="63.6" cy="17.3" r="2.38"/><circle cx="69.7" cy="17.6" r="2.38"/><circle cx="17.5" cy="19.7" r="2.38"/><circle cx="24.3" cy="38.1" r="2.38"/><circle cx="40.6" cy="39.7" r="2.38"/><circle cx="21" cy="18.6" r="2.38"/><circle cx="63.8" cy="14.9" r="2.38"/><circle cx="22.6" cy="33.4" r="2.38"/><circle cx="48.5" cy="37.1" r="2.38"/><circle cx="15.7" cy="29.8" r="2.38"/><circle cx="52.6" cy="14.2" r="2.38"/><circle cx="36.6" cy="37.5" r="2.38"/><circle cx="22.5" cy="35.7" r="2.38"/><circle cx="29.6" cy="35.5" r="2.38"/><circle cx="36" cy="13.2" r="2.38"/><circle cx="41.9" cy="12.1" r="2.38"/><circle cx="62.9" cy="34.6" r="2.38"/><circle cx="27.6" cy="16.9" r="2.38"/><circle cx="50.5" cy="9.1" r="2.38"/><circle cx="25.2" cy="15" r="2.38"/><circle cx="22.2" cy="34.5" r="2.38"/><circle cx="69.6" cy="19.3" r="2.38"/><circle cx="51.3" cy="38.3" r="2.38"/><circle cx="30.1" cy="38" r="2.38"/><circle cx="64.7" cy="14.8" r="2.38"/><circle cx="67.6" cy="19.8" r="2.38"/><circle cx="46.7" cy="12.7" r="2.38"/><circle cx="52.3" cy="14.3" r="2.38"/><circle cx="48.8" cy="10.6" r="2.38"/><circle cx="21.2" cy="17.5" r="2.38"/><circle cx="67.1" cy="19.5" r="2.38"/><circle cx="62.6" cy="18.1" r="2.38"/><circle cx="69.6" cy="15.9" r="2.38"/><circle cx="16.5" cy="18.2" r="2.38"/><circle cx="33.6" cy="12.6" r="2.38"/><circle cx="64" cy="17.3" r="2.38"/><circle cx="20.1" cy="31" r="2.38"/><circle cx="61" cy="16.6" r="2.38"/><circle cx="22.9" cy="32.5" r="2.38"/><circle cx="31.7" cy="15.6" r="2.38"/><circle cx="41.1" cy="11" r="2.38"/><circle cx="20.2" cy="31.1" r="2.38"/><circle cx="23.2" cy="16.3" r="2.38"/><circle cx="66.3" cy="29.6" r="2.38"/><circle cx="51.1" cy="11.9" r="2.38"/><circle cx="61.4" cy="15.3" r="2.38"/><circle cx="16.6" cy="27.8" r="2.38"/><circle cx="66" cy="30" r="2.38"/><circle cx="59.3" cy="36.8" r="2.38"/><circle cx="18.1" cy="34.5" r="2.38"/><circle cx="40.1" cy="11.9" r="2.38"/><circle cx="65.6" cy="30.6" r="2.38"/><circle cx="45.2" cy="12.2" r="2.38"/><circle cx="28.9" cy="34.5" r="2.38"/><circle cx="20.6" cy="16.2" r="2.38"/><circle cx="71.6" cy="21.7" r="2.38"/><circle cx="72.6" cy="18.8" r="2.38"/><circle cx="60.2" cy="14.5" r="2.38"/><circle cx="15" cy="34.2" r="2.38"/><circle cx="62.8" cy="36.9" r="2.38"/><circle cx="19.8" cy="31.3" r="2.38"/><circle cx="59.7" cy="36" r="2.38"/><circle cx="21.1" cy="30.7" r="2.38"/><circle cx="75.6" cy="22.2" r="2.38"/><circle cx="32.5" cy="13.9" r="2.38"/><circle cx="26" cy="34.9" r="2.38"/><circle cx="73" cy="18.1" r="2.38"/><circle cx="23.2" cy="39.8" r="2.38"/><circle cx="15.8" cy="25.1" r="2.38"/><circle cx="64.6" cy="17.3" r="2.38"/><circle cx="58.8" cy="14.4" r="2.38"/><circle cx="18" cy="22.1" r="2.38"/><circle cx="63.1" cy="13.6" r="2.38"/><circle cx="56.5" cy="37.7" r="2.38"/><circle cx="28.2" cy="35.5" r="2.38"/><circle cx="27.6" cy="34.6" r="2.38"/><circle cx="21.7" cy="16.9" r="2.38"/><circle cx="24.2" cy="17.6" r="2.38"/><circle cx="66" cy="18.5" r="2.38"/><circle cx="30" cy="41.1" r="2.38"/><circle cx="16.1" cy="28.8" r="2.38"/><circle cx="19.4" cy="30.9" r="2.38"/><circle cx="46.6" cy="11.9" r="2.38"/><circle cx="22.5" cy="37.2" r="2.38"/><circle cx="29.1" cy="35" r="2.38"/><circle cx="16.4" cy="23.5" r="2.38"/><circle cx="70" cy="21.9" r="2.38"/><circle cx="8.8" cy="31.3" r="2.38"/><circle cx="32" cy="15.4" r="2.38"/><circle cx="35.6" cy="37.5" r="2.38"/><circle cx="70.6" cy="32.6" r="2.38"/><circle cx="27.2" cy="11.1" r="2.38"/><circle cx="55.3" cy="38.5" r="2.38"/><circle cx="15.5" cy="29.3" r="2.38"/><circle cx="68.8" cy="19.3" r="2.38"/><circle cx="16.7" cy="26.4" r="2.38"/><circle cx="28" cy="15.5" r="2.38"/><circle cx="73.7" cy="24" r="2.38"/><circle cx="70" cy="26.8" r="2.38"/><circle cx="31.9" cy="37" r="2.38"/><circle cx="39.3" cy="38.2" r="2.38"/><circle cx="69" cy="26.7" r="2.38"/><circle cx="55" cy="37.4" r="2.38"/><circle cx="30.2" cy="15.9" r="2.38"/><circle cx="11.5" cy="32.3" r="2.38"/><circle cx="63" cy="33.6" r="2.38"/><circle cx="17" cy="19.5" r="2.38"/><circle cx="58.4" cy="12.8" r="2.38"/><circle cx="67.1" cy="27.6" r="2.38"/><circle cx="60.3" cy="35.2" r="2.38"/><circle cx="19.4" cy="29.6" r="2.38"/><circle cx="30.5" cy="38.4" r="2.38"/><circle cx="62.8" cy="14.9" r="2.38"/><circle cx="9.6" cy="27.4" r="2.38"/><circle cx="26.3" cy="38.7" r="2.38"/><circle cx="19.9" cy="29.7" r="2.38"/><circle cx="32.3" cy="37.9" r="2.38"/><circle cx="25" cy="18.1" r="2.38"/><circle cx="38.9" cy="12.6" r="2.38"/><circle cx="54.5" cy="38.4" r="2.38"/><circle cx="20.8" cy="10.8" r="2.38"/><circle cx="47.7" cy="37.3" r="2.38"/><circle cx="41.1" cy="10.3" r="2.38"/><circle cx="36.3" cy="14.3" r="2.38"/><circle cx="35.2" cy="15.1" r="2.38"/><circle cx="41" cy="37.2" r="2.38"/><circle cx="25.7" cy="17.8" r="2.38"/><circle cx="51.9" cy="13.4" r="2.38"/><circle cx="32.6" cy="14.1" r="2.38"/><circle cx="67.8" cy="28.1" r="2.38"/><circle cx="33.2" cy="36.8" r="2.38"/><circle cx="26.1" cy="17.9" r="2.38"/><circle cx="26.7" cy="6.1" r="2.38"/><circle cx="36.7" cy="6.7" r="2.38"/><circle cx="41.7" cy="5.1" r="2.38"/><circle cx="46.7" cy="4.2" r="2.38"/><circle cx="49.8" cy="1.7" r="2.38"/><circle cx="57.3" cy="8.6" r="2.38"/><circle cx="67.3" cy="12.1" r="2.38"/><circle cx="73.6" cy="14.9" r="2.38"/><circle cx="79.8" cy="24.2" r="2.38"/><circle cx="79.6" cy="36.1" r="2.38"/><circle cx="76.7" cy="29.2" r="2.38"/><circle cx="67.1" cy="41.1" r="2.38"/><circle cx="63.6" cy="43.9" r="2.38"/><circle cx="58.6" cy="41.7" r="2.38"/><circle cx="45.4" cy="44.2" r="2.38"/><circle cx="34.2" cy="43" r="2.38"/><circle cx="27.9" cy="43.6" r="2.38"/><circle cx="26.7" cy="39.9" r="2.38"/><circle cx="14.8" cy="42.4" r="2.38"/><circle cx="12.9" cy="38.6" r="2.38"/><circle cx="9.2" cy="33.6" r="2.38"/><circle cx="5.4" cy="30.5" r="2.38"/><circle cx="3.3" cy="27.1" r="2.38"/><circle cx="7.3" cy="22.4" r="2.38"/><circle cx="7.9" cy="25.5" r="2.38"/><circle cx="8.8" cy="15.9" r="2.38"/><circle cx="14.8" cy="16.1" r="2.38"/><circle cx="19.2" cy="11.7" r="2.38"/><circle cx="10.4" cy="19.2" r="2.38"/><circle cx="11.1" cy="29.9" r="2.38"/></g></svg>
<svg x="532.54" y="200.13" width="82.43" height="46.21"><path class="k" d="M20.46 11.37h1M22.46 11.37h2M25.46 11.37h2M31.46 11.37h4M40.46 11.37h3M45.46 11.37h2M17.46 12.37h1M19.46 12.37h9M30.46 12.37h6M37.46 12.37h1M39.46 12.37h9M49.46 12.37h1M16.46 13.37h36M15.46 14.37h37M14.46 15.37h39M55.46 15.37h2M14.46 16.37h45M15.46 17.37h44M14.46 18.37h46M14.46 19.37h47M15.46 20.37h47M16.46 21.37h46M16.46 22.37h47M15.46 23.37h50M14.46 24.37h52M15.46 25.37h52M17.46 26.37h51M18.46 27.37h51M17.46 28.37h51M18.46 29.37h51M19.46 30.37h51M20.46 31.37h1M22.46 31.37h49M23.46 32.37h47M22.46 33.37h1M24.46 33.37h1M26.46 33.37h45M27.46 34.37h44M28.46 35.37h2M32.46 35.37h39M33.46 36.37h34M34.46 37.37h1M36.46 37.37h30M37.46 38.37h5M43.46 38.37h23M38.46 39.37h2M44.46 39.37h1M46.46 39.37h12M59.46 39.37h7M38.46 40.37h1M47.46 40.37h2M51.46 40.37h1M53.46 40.37h1M56.46 40.37h1M60.46 40.37h2M47.46 41.37h1"/><g class="p"><circle cx="53" cy="13.6" r="2.38"/><circle cx="23.2" cy="28.9" r="2.38"/><circle cx="26.7" cy="15" r="2.38"/><circle cx="20.7" cy="27.2" r="2.38"/><circle cx="26" cy="31.8" r="2.38"/><circle cx="17.4" cy="24" r="2.38"/><circle cx="25.2" cy="13" r="2.38"/><circle cx="33.8" cy="32.4" r="2.38"/><circle cx="42.6" cy="35.3" r="2.38"/><circle cx="41.2" cy="36.9" r="2.38"/><circle cx="44.6" cy="40.2" r="2.38"/><circle cx="44.2" cy="35.4" r="2.38"/><circle cx="68.6" cy="29.4" r="2.38"/><circle cx="37.4" cy="11.7" r="2.38"/><circle cx="19.7" cy="25.2" r="2.38"/><circle cx="41.8" cy="36.8" r="2.38"/><circle cx="53.9" cy="11" r="2.38"/><circle cx="62.5" cy="25.4" r="2.38"/><circle cx="27.8" cy="32.7" r="2.38"/><circle cx="33.7" cy="14" r="2.38"/><circle cx="41.5" cy="42.2" r="2.38"/><circle cx="53.9" cy="17.2" r="2.38"/><circle cx="33.4" cy="12.3" r="2.38"/><circle cx="64.7" cy="38.4" r="2.38"/><circle cx="21.7" cy="10.7" r="2.38"/><circle cx="65.3" cy="37.4" r="2.38"/><circle cx="45" cy="36.5" r="2.38"/><circle cx="58.7" cy="36.6" r="2.38"/><circle cx="65.5" cy="36.9" r="2.38"/><circle cx="18.3" cy="26.6" r="2.38"/><circle cx="30.9" cy="35.6" r="2.38"/><circle cx="43.1" cy="13" r="2.38"/><circle cx="37.6" cy="11.4" r="2.38"/><circle cx="25" cy="29.7" r="2.38"/><circle cx="51.4" cy="37.3" r="2.38"/><circle cx="39.7" cy="14.7" r="2.38"/><circle cx="42.9" cy="14" r="2.38"/><circle cx="47.6" cy="10.9" r="2.38"/><circle cx="17.9" cy="21.3" r="2.38"/><circle cx="54.8" cy="18.3" r="2.38"/><circle cx="61" cy="21.6" r="2.38"/><circle cx="39.8" cy="14.8" r="2.38"/><circle cx="67" cy="28.5" r="2.38"/><circle cx="68.1" cy="31.5" r="2.38"/><circle cx="57.8" cy="18.6" r="2.38"/><circle cx="26.9" cy="30.1" r="2.38"/><circle cx="28.5" cy="12.2" r="2.38"/><circle cx="66.6" cy="31" r="2.38"/><circle cx="49.9" cy="38.9" r="2.38"/><circle cx="37.5" cy="36.3" r="2.38"/><circle cx="32.5" cy="13.9" r="2.38"/><circle cx="62.4" cy="37.1" r="2.38"/><circle cx="34.5" cy="33.2" r="2.38"/><circle cx="71.6" cy="33.5" r="2.38"/><circle cx="53.8" cy="37.1" r="2.38"/><circle cx="47.1" cy="14.9" r="2.38"/><circle cx="69.7" cy="33.9" r="2.38"/><circle cx="30.5" cy="11.9" r="2.38"/><circle cx="30.2" cy="13.9" r="2.38"/><circle cx="69.3" cy="37.3" r="2.38"/><circle cx="23.4" cy="14.5" r="2.38"/><circle cx="43.3" cy="39" r="2.38"/><circle cx="37.6" cy="15.6" r="2.38"/><circle cx="65.2" cy="25.1" r="2.38"/><circle cx="24.4" cy="14.4" r="2.38"/><circle cx="55.2" cy="15.9" r="2.38"/><circle cx="46.1" cy="14.1" r="2.38"/><circle cx="52.3" cy="17.1" r="2.38"/><circle cx="21" cy="15.1" r="2.38"/><circle cx="51.3" cy="40.9" r="2.38"/><circle cx="34.7" cy="14.4" r="2.38"/><circle cx="61.6" cy="24.6" r="2.38"/><circle cx="34.4" cy="14.7" r="2.38"/><circle cx="47.6" cy="40" r="2.38"/><circle cx="69.1" cy="33.6" r="2.38"/><circle cx="14.8" cy="13.7" r="2.38"/><circle cx="27.9" cy="15.2" r="2.38"/><circle cx="35.7" cy="11.8" r="2.38"/><circle cx="66.7" cy="28" r="2.38"/><circle cx="17.7" cy="17.7" r="2.38"/><circle cx="64.3" cy="38" r="2.38"/><circle cx="40.5" cy="36.9" r="2.38"/><circle cx="37.6" cy="15.6" r="2.38"/><circle cx="30.8" cy="14.5" r="2.38"/><circle cx="56.3" cy="17.6" r="2.38"/><circle cx="50.3" cy="14.3" r="2.38"/><circle cx="41.7" cy="39" r="2.38"/><circle cx="16.7" cy="18.1" r="2.38"/><circle cx="37.7" cy="15" r="2.38"/><circle cx="26.7" cy="34" r="2.38"/><circle cx="47.5" cy="39.1" r="2.38"/><circle cx="55.2" cy="38.1" r="2.38"/><circle cx="52.1" cy="18.2" r="2.38"/><circle cx="58.9" cy="38.7" r="2.38"/><circle cx="39.2" cy="14.1" r="2.38"/><circle cx="59.6" cy="18.7" r="2.38"/><circle cx="41.5" cy="36.3" r="2.38"/><circle cx="61.4" cy="37.9" r="2.38"/><circle cx="20.3" cy="25.5" r="2.38"/><circle cx="69.1" cy="33" r="2.38"/><circle cx="67.8" cy="30.4" r="2.38"/><circle cx="35.6" cy="15.4" r="2.38"/><circle cx="19.6" cy="25.5" r="2.38"/><circle cx="66.8" cy="30" r="2.38"/><circle cx="18.7" cy="10.7" r="2.38"/><circle cx="55.1" cy="18.2" r="2.38"/><circle cx="20.1" cy="10.1" r="2.38"/><circle cx="68.2" cy="28.3" r="2.38"/><circle cx="37.2" cy="38.6" r="2.38"/><circle cx="68.6" cy="38.5" r="2.38"/><circle cx="60.4" cy="22.8" r="2.38"/><circle cx="16.3" cy="15.7" r="2.38"/><circle cx="51.5" cy="16.4" r="2.38"/><circle cx="61.6" cy="23.8" r="2.38"/><circle cx="42.7" cy="13.1" r="2.38"/><circle cx="22" cy="14.2" r="2.38"/><circle cx="18.3" cy="24.6" r="2.38"/><circle cx="10.3" cy="14.7" r="2.38"/><circle cx="67.1" cy="29.6" r="2.38"/><circle cx="58.7" cy="37.1" r="2.38"/><circle cx="31.8" cy="36.8" r="2.38"/><circle cx="15.3" cy="22.4" r="2.38"/><circle cx="50.9" cy="38.3" r="2.38"/><circle cx="25.5" cy="30.9" r="2.38"/><circle cx="30.8" cy="14.6" r="2.38"/><circle cx="64.6" cy="35.8" r="2.38"/><circle cx="57.2" cy="17.8" r="2.38"/><circle cx="72.8" cy="33.8" r="2.38"/><circle cx="29.7" cy="14.6" r="2.38"/><circle cx="19.8" cy="24.4" r="2.38"/><circle cx="60.5" cy="22.3" r="2.38"/><circle cx="23.7" cy="12.5" r="2.38"/><circle cx="68.7" cy="38.3" r="2.38"/><circle cx="63.8" cy="40.1" r="2.38"/><circle cx="29.7" cy="10.4" r="2.38"/><circle cx="47.8" cy="13.7" r="2.38"/><circle cx="50" cy="37.2" r="2.38"/><circle cx="26.4" cy="13.5" r="2.38"/><circle cx="65.9" cy="25.8" r="2.38"/><circle cx="65.2" cy="34.5" r="2.38"/><circle cx="17.6" cy="19.8" r="2.38"/><circle cx="59.9" cy="36.4" r="2.38"/><circle cx="36.9" cy="14.3" r="2.38"/><circle cx="17.3" cy="23.6" r="2.38"/><circle cx="32.8" cy="14.1" r="2.38"/><circle cx="50.4" cy="10.8" r="2.38"/><circle cx="75.3" cy="36.3" r="2.38"/><circle cx="54.6" cy="38.1" r="2.38"/><circle cx="34.6" cy="35.1" r="2.38"/><circle cx="25.8" cy="13.4" r="2.38"/><circle cx="44.2" cy="35.4" r="2.38"/><circle cx="48.7" cy="15.5" r="2.38"/><circle cx="54.3" cy="14.2" r="2.38"/><circle cx="18.1" cy="14.3" r="2.38"/><circle cx="72.7" cy="37.7" r="2.38"/><circle cx="45.1" cy="36.9" r="2.38"/><circle cx="25" cy="34.5" r="2.38"/><circle cx="29.1" cy="14.8" r="2.38"/><circle cx="49.5" cy="37.4" r="2.38"/><circle cx="42.7" cy="13.3" r="2.38"/><circle cx="22" cy="13.2" r="2.38"/><circle cx="20.1" cy="26.8" r="2.38"/><circle cx="32.8" cy="14.1" r="2.38"/><circle cx="41.3" cy="36.2" r="2.38"/><circle cx="22.9" cy="31" r="2.38"/><circle cx="29.6" cy="14.7" r="2.38"/><circle cx="35.3" cy="15.4" r="2.38"/><circle cx="16.2" cy="18.7" r="2.38"/><circle cx="31.9" cy="14.6" r="2.38"/><circle cx="26.2" cy="13" r="2.38"/><circle cx="56.3" cy="17.3" r="2.38"/><circle cx="39" cy="37.2" r="2.38"/><circle cx="63.7" cy="25.4" r="2.38"/><circle cx="42.7" cy="35.7" r="2.38"/><circle cx="29.2" cy="15" r="2.38"/><circle cx="64" cy="36.9" r="2.38"/><circle cx="51.1" cy="14.7" r="2.38"/><circle cx="42.3" cy="39.5" r="2.38"/><circle cx="23.8" cy="29" r="2.38"/><circle cx="62.9" cy="25.2" r="2.38"/><circle cx="36.8" cy="40" r="2.38"/><circle cx="18.1" cy="23.6" r="2.38"/><circle cx="55.4" cy="37.6" r="2.38"/><circle cx="60.5" cy="37.9" r="2.38"/><circle cx="38.8" cy="35.5" r="2.38"/><circle cx="27.5" cy="31.9" r="2.38"/><circle cx="24.1" cy="30.1" r="2.38"/><circle cx="43.8" cy="38.5" r="2.38"/><circle cx="18.9" cy="15.4" r="2.38"/><circle cx="17.4" cy="20.5" r="2.38"/><circle cx="34.8" cy="33.5" r="2.38"/><circle cx="68.4" cy="32.9" r="2.38"/><circle cx="43.8" cy="11.9" r="2.38"/><circle cx="42.2" cy="37.9" r="2.38"/><circle cx="27.4" cy="31.9" r="2.38"/><circle cx="52.6" cy="38.1" r="2.38"/><circle cx="42.7" cy="35.2" r="2.38"/><circle cx="17.7" cy="16.2" r="2.38"/><circle cx="32.1" cy="33.4" r="2.38"/><circle cx="44.5" cy="10.6" r="2.38"/><circle cx="68.5" cy="34.1" r="2.38"/><circle cx="18.9" cy="21.4" r="2.38"/><circle cx="25.9" cy="14.7" r="2.38"/><circle cx="24.1" cy="13.1" r="2.38"/><circle cx="58.8" cy="36.1" r="2.38"/><circle cx="46.5" cy="12.6" r="2.38"/><circle cx="26.7" cy="13.4" r="2.38"/><circle cx="67.7" cy="34" r="2.38"/><circle cx="52.8" cy="39.9" r="2.38"/><circle cx="41.8" cy="14.1" r="2.38"/><circle cx="32.4" cy="36.2" r="2.38"/><circle cx="38.2" cy="15.4" r="2.38"/><circle cx="40.7" cy="15" r="2.38"/><circle cx="43" cy="14.6" r="2.38"/><circle cx="27.3" cy="32.2" r="2.38"/><circle cx="64.8" cy="35.2" r="2.38"/><circle cx="65.9" cy="29" r="2.38"/><circle cx="22.4" cy="31.7" r="2.38"/><circle cx="25.1" cy="33.3" r="2.38"/><circle cx="26.1" cy="14" r="2.38"/><circle cx="36.2" cy="35.4" r="2.38"/><circle cx="65.4" cy="37.2" r="2.38"/><circle cx="21.4" cy="29.2" r="2.38"/><circle cx="34" cy="13.9" r="2.38"/><circle cx="47.3" cy="38.6" r="2.38"/><circle cx="47.6" cy="37.4" r="2.38"/><circle cx="63.2" cy="19.5" r="2.38"/><circle cx="20.3" cy="28.6" r="2.38"/><circle cx="41.3" cy="12.7" r="2.38"/><circle cx="40" cy="36.4" r="2.38"/><circle cx="18.1" cy="17.9" r="2.38"/><circle cx="65.1" cy="26.5" r="2.38"/><circle cx="16.9" cy="16.2" r="2.38"/><circle cx="38.1" cy="15.6" r="2.38"/><circle cx="29.8" cy="33" r="2.38"/><circle cx="61.3" cy="37.4" r="2.38"/><circle cx="17.3" cy="17.3" r="2.38"/><circle cx="40.4" cy="37.1" r="2.38"/><circle cx="27.8" cy="15.5" r="2.38"/><circle cx="30.9" cy="33.6" r="2.38"/><circle cx="29.2" cy="32.1" r="2.38"/><circle cx="40.4" cy="14" r="2.38"/><circle cx="51.6" cy="37.2" r="2.38"/><circle cx="68.5" cy="31.1" r="2.38"/><circle cx="19.4" cy="28.2" r="2.38"/><circle cx="20.1" cy="13.6" r="2.38"/><circle cx="41.5" cy="13.9" r="2.38"/><circle cx="55.2" cy="38.1" r="2.38"/><circle cx="56.6" cy="16.5" r="2.38"/><circle cx="42.6" cy="14.3" r="2.38"/><circle cx="44" cy="36.1" r="2.38"/><circle cx="42.8" cy="13.8" r="2.38"/><circle cx="69.6" cy="31.4" r="2.38"/><circle cx="32.5" cy="32.5" r="2.38"/><circle cx="32.5" cy="13" r="2.38"/><circle cx="26.1" cy="12.8" r="2.38"/><circle cx="15" cy="23.1" r="2.38"/><circle cx="34.8" cy="13.3" r="2.38"/><circle cx="18.7" cy="20.8" r="2.38"/><circle cx="58" cy="17.2" r="2.38"/><circle cx="42.4" cy="14.4" r="2.38"/><circle cx="34.5" cy="34.3" r="2.38"/><circle cx="36.7" cy="15.4" r="2.38"/><circle cx="31.3" cy="13.4" r="2.38"/><circle cx="57.9" cy="37.2" r="2.38"/><circle cx="64.7" cy="24.6" r="2.38"/><circle cx="60.2" cy="39.4" r="2.38"/><circle cx="61.4" cy="38.8" r="2.38"/><circle cx="30.4" cy="15.4" r="2.38"/><circle cx="34.8" cy="14.8" r="2.38"/><circle cx="60.4" cy="36.7" r="2.38"/><circle cx="40" cy="13.9" r="2.38"/><circle cx="54.3" cy="41.4" r="2.38"/><circle cx="29.4" cy="10.8" r="2.38"/><circle cx="30.2" cy="12.1" r="2.38"/><circle cx="28.6" cy="31.4" r="2.38"/><circle cx="28.5" cy="35.4" r="2.38"/><circle cx="53.8" cy="38.4" r="2.38"/><circle cx="34.5" cy="34.5" r="2.38"/><circle cx="28.9" cy="31.5" r="2.38"/><circle cx="36.7" cy="34.6" r="2.38"/><circle cx="16" cy="15.6" r="2.38"/><circle cx="72.2" cy="33.7" r="2.38"/><circle cx="18.2" cy="1.7" r="2.38"/><circle cx="20.1" cy="5.9" r="2.38"/><circle cx="31.7" cy="2.6" r="2.38"/><circle cx="28.5" cy="5.9" r="2.38"/><circle cx="3.2" cy="13" r="2.38"/><circle cx="8" cy="15.5" r="2.38"/><circle cx="4.5" cy="19.2" r="2.38"/><circle cx="13.2" cy="13" r="2.38"/><circle cx="15.5" cy="33.6" r="2.38"/><circle cx="13.8" cy="28.6" r="2.38"/><circle cx="22.6" cy="35.5" r="2.38"/><circle cx="29.5" cy="43" r="2.38"/><circle cx="38.2" cy="42.4" r="2.38"/><circle cx="56.3" cy="6.7" r="2.38"/><circle cx="50.1" cy="9.9" r="2.38"/><circle cx="63.8" cy="15.9" r="2.38"/><circle cx="74.5" cy="25.5" r="2.38"/><circle cx="73.8" cy="33" r="2.38"/><circle cx="79.5" cy="38" r="2.38"/><circle cx="72" cy="40.9" r="2.38"/><circle cx="65.7" cy="42.4" r="2.38"/><circle cx="57.6" cy="43.6" r="2.38"/></g></svg>
<svg x="57.02" y="259.01" width="82.43" height="46.21"><path class="k" d="M36.98 8.49h4M52.98 8.49h1M24.98 9.49h5M31.98 9.49h1M35.98 9.49h2M38.98 9.49h3M46.98 9.49h2M50.98 9.49h4M65.98 9.49h1M19.98 10.49h1M22.98 10.49h9M34.98 10.49h2M39.98 10.49h5M45.98 10.49h13M62.98 10.49h1M64.98 10.49h2M18.98 11.49h14M33.98 11.49h4M38.98 11.49h29M17.98 12.49h51M17.98 13.49h50M17.98 14.49h51M17.98 15.49h53M17.98 16.49h53M16.98 17.49h53M73.98 17.49h1M75.98 17.49h4M5.98 18.49h2M17.98 18.49h53M74.98 18.49h6M2.98 19.49h1M4.98 19.49h1M16.98 19.49h53M74.98 19.49h6M15.98 20.49h55M74.98 20.49h6M6.98 21.49h1M15.98 21.49h56M75.98 21.49h5M10.98 22.49h1M16.98 22.49h56M74.98 22.49h6M16.98 23.49h54M71.98 23.49h8M2.98 24.49h3M17.98 24.49h52M73.98 24.49h2M2.98 25.49h2M16.98 25.49h53M2.98 26.49h1M8.98 26.49h1M17.98 26.49h53M74.98 26.49h1M2.98 27.49h2M5.98 27.49h1M7.98 27.49h1M16.98 27.49h54M2.98 28.49h5M16.98 28.49h53M3.98 29.49h5M15.98 29.49h54M2.98 30.49h2M6.98 30.49h1M15.98 30.49h53M2.98 31.49h1M7.98 31.49h1M15.98 31.49h54M16.98 32.49h53M15.98 33.49h54M16.98 34.49h1M18.98 34.49h51M19.98 35.49h49M18.98 36.49h50M17.98 37.49h51M17.98 38.49h14M33.98 38.49h21M55.98 38.49h5M61.98 38.49h6M68.98 38.49h1M19.98 39.49h3M24.98 39.49h3M28.98 39.49h1M34.98 39.49h1M36.98 39.49h7M44.98 39.49h5M51.98 39.49h2M57.98 39.49h1M62.98 39.49h1M64.98 39.49h1M37.98 40.49h1M40.98 40.49h2M46.98 40.49h1M52.98 40.49h2"/><g class="p"><circle cx="62" cy="38.5" r="2.38"/><circle cx="65.4" cy="36.4" r="2.38"/><circle cx="31.5" cy="13.9" r="2.38"/><circle cx="25.7" cy="36.4" r="2.38"/><circle cx="30.1" cy="37.7" r="2.38"/><circle cx="20" cy="16.4" r="2.38"/><circle cx="65.8" cy="15.1" r="2.38"/><circle cx="67.9" cy="21.4" r="2.38"/><circle cx="22.3" cy="36.6" r="2.38"/><circle cx="44.4" cy="13.7" r="2.38"/><circle cx="27.5" cy="9" r="2.38"/><circle cx="58.9" cy="37.6" r="2.38"/><circle cx="34.2" cy="14.6" r="2.38"/><circle cx="41.1" cy="12.6" r="2.38"/><circle cx="40.3" cy="14.2" r="2.38"/><circle cx="67" cy="29.5" r="2.38"/><circle cx="36.5" cy="36.4" r="2.38"/><circle cx="53" cy="10.1" r="2.38"/><circle cx="20.6" cy="24.5" r="2.38"/><circle cx="49.5" cy="37.2" r="2.38"/><circle cx="44.4" cy="36.7" r="2.38"/><circle cx="20.9" cy="38.6" r="2.38"/><circle cx="40" cy="14.2" r="2.38"/><circle cx="56" cy="35.5" r="2.38"/><circle cx="20.7" cy="16.4" r="2.38"/><circle cx="68" cy="20.5" r="2.38"/><circle cx="67.5" cy="10.5" r="2.38"/><circle cx="20.2" cy="32.5" r="2.38"/><circle cx="45.8" cy="13.4" r="2.38"/><circle cx="36.2" cy="8.9" r="2.38"/><circle cx="19.1" cy="22.4" r="2.38"/><circle cx="50.6" cy="36.9" r="2.38"/><circle cx="21.7" cy="33.4" r="2.38"/><circle cx="67.3" cy="30.1" r="2.38"/><circle cx="37" cy="37.4" r="2.38"/><circle cx="67.4" cy="31.2" r="2.38"/><circle cx="34.9" cy="10" r="2.38"/><circle cx="68.1" cy="11.1" r="2.38"/><circle cx="57.2" cy="11.9" r="2.38"/><circle cx="59.8" cy="36.3" r="2.38"/><circle cx="25.8" cy="38.2" r="2.38"/><circle cx="55.1" cy="36.1" r="2.38"/><circle cx="56.3" cy="8.8" r="2.38"/><circle cx="60.6" cy="13.4" r="2.38"/><circle cx="20.4" cy="12.4" r="2.38"/><circle cx="66.9" cy="33.4" r="2.38"/><circle cx="34.9" cy="35.4" r="2.38"/><circle cx="67.6" cy="19.3" r="2.38"/><circle cx="34.6" cy="13.6" r="2.38"/><circle cx="67.5" cy="40.5" r="2.38"/><circle cx="37.7" cy="13" r="2.38"/><circle cx="59.5" cy="12.6" r="2.38"/><circle cx="20.1" cy="22.2" r="2.38"/><circle cx="33.4" cy="12.2" r="2.38"/><circle cx="19.2" cy="32.3" r="2.38"/><circle cx="65.9" cy="14.8" r="2.38"/><circle cx="56.1" cy="11.8" r="2.38"/><circle cx="20.7" cy="17" r="2.38"/><circle cx="54.3" cy="10.7" r="2.38"/><circle cx="65.6" cy="10.1" r="2.38"/><circle cx="19" cy="29.6" r="2.38"/><circle cx="22.4" cy="8" r="2.38"/><circle cx="60.8" cy="35.4" r="2.38"/><circle cx="30" cy="36.6" r="2.38"/><circle cx="52.5" cy="38.1" r="2.38"/><circle cx="24.6" cy="39.3" r="2.38"/><circle cx="34.8" cy="11.7" r="2.38"/><circle cx="65.1" cy="12.6" r="2.38"/><circle cx="67.7" cy="28.9" r="2.38"/><circle cx="27.9" cy="10.8" r="2.38"/><circle cx="52" cy="39.7" r="2.38"/><circle cx="46.5" cy="10.7" r="2.38"/><circle cx="26.1" cy="38.1" r="2.38"/><circle cx="67.3" cy="30.7" r="2.38"/><circle cx="47.3" cy="37.4" r="2.38"/><circle cx="38.1" cy="14.2" r="2.38"/><circle cx="22.6" cy="34.2" r="2.38"/><circle cx="52.8" cy="11.9" r="2.38"/><circle cx="37.8" cy="10.7" r="2.38"/><circle cx="67.2" cy="18" r="2.38"/><circle cx="30.3" cy="11.8" r="2.38"/><circle cx="19.7" cy="17.7" r="2.38"/><circle cx="21.3" cy="37.3" r="2.38"/><circle cx="20.4" cy="14.4" r="2.38"/><circle cx="50.6" cy="7.2" r="2.38"/><circle cx="33.6" cy="11.6" r="2.38"/><circle cx="22.1" cy="13.7" r="2.38"/><circle cx="33.4" cy="12.3" r="2.38"/><circle cx="37.6" cy="39.6" r="2.38"/><circle cx="21.2" cy="9.1" r="2.38"/><circle cx="20.1" cy="15.8" r="2.38"/><circle cx="66.6" cy="30.5" r="2.38"/><circle cx="68.4" cy="22.8" r="2.38"/><circle cx="67.8" cy="29.2" r="2.38"/><circle cx="19.7" cy="17.7" r="2.38"/><circle cx="20" cy="14.8" r="2.38"/><circle cx="68.3" cy="16.8" r="2.38"/><circle cx="66.7" cy="30.3" r="2.38"/><circle cx="30.3" cy="9.7" r="2.38"/><circle cx="21.5" cy="12.6" r="2.38"/><circle cx="24.8" cy="11.3" r="2.38"/><circle cx="39.5" cy="14.7" r="2.38"/><circle cx="61.1" cy="13.4" r="2.38"/><circle cx="68.1" cy="28.6" r="2.38"/><circle cx="68" cy="16.8" r="2.38"/><circle cx="49.8" cy="38" r="2.38"/><circle cx="19.7" cy="28.8" r="2.38"/><circle cx="67.1" cy="31.8" r="2.38"/><circle cx="62.3" cy="37.1" r="2.38"/><circle cx="40" cy="11.5" r="2.38"/><circle cx="67.1" cy="15.8" r="2.38"/><circle cx="61.4" cy="38.3" r="2.38"/><circle cx="38.4" cy="13.2" r="2.38"/><circle cx="39" cy="9.6" r="2.38"/><circle cx="19.9" cy="14.4" r="2.38"/><circle cx="21.7" cy="13.5" r="2.38"/><circle cx="45.4" cy="10.6" r="2.38"/><circle cx="20.5" cy="27.8" r="2.38"/><circle cx="19" cy="34.8" r="2.38"/><circle cx="30.8" cy="37" r="2.38"/><circle cx="20.9" cy="13.8" r="2.38"/><circle cx="20.9" cy="32.2" r="2.38"/><circle cx="20.3" cy="12.1" r="2.38"/><circle cx="18.8" cy="34" r="2.38"/><circle cx="22.7" cy="35.6" r="2.38"/><circle cx="20.3" cy="18.9" r="2.38"/><circle cx="20.3" cy="20.3" r="2.38"/><circle cx="20.5" cy="17.4" r="2.38"/><circle cx="67.2" cy="29.9" r="2.38"/><circle cx="43.3" cy="37.1" r="2.38"/><circle cx="44.6" cy="39.4" r="2.38"/><circle cx="54.8" cy="35.5" r="2.38"/><circle cx="58.4" cy="12.4" r="2.38"/><circle cx="56.1" cy="40.6" r="2.38"/><circle cx="66.6" cy="12.4" r="2.38"/><circle cx="63.1" cy="13.7" r="2.38"/><circle cx="48.6" cy="9.4" r="2.38"/><circle cx="42.5" cy="8.7" r="2.38"/><circle cx="22" cy="36.5" r="2.38"/><circle cx="37.4" cy="36.9" r="2.38"/><circle cx="28.1" cy="38.7" r="2.38"/><circle cx="68.2" cy="18" r="2.38"/><circle cx="28.1" cy="36.8" r="2.38"/><circle cx="53.2" cy="36" r="2.38"/><circle cx="23" cy="12.7" r="2.38"/><circle cx="55" cy="41.3" r="2.38"/><circle cx="27.5" cy="11.1" r="2.38"/><circle cx="55.5" cy="11.9" r="2.38"/><circle cx="66.6" cy="29.2" r="2.38"/><circle cx="31.8" cy="14.2" r="2.38"/><circle cx="27.7" cy="10.3" r="2.38"/><circle cx="67.7" cy="32.9" r="2.38"/><circle cx="66.3" cy="34.9" r="2.38"/><circle cx="59.9" cy="13.5" r="2.38"/><circle cx="49.4" cy="12.3" r="2.38"/><circle cx="62.3" cy="12.3" r="2.38"/><circle cx="20" cy="34.8" r="2.38"/><circle cx="20.8" cy="24.8" r="2.38"/><circle cx="64.5" cy="9.4" r="2.38"/><circle cx="19.8" cy="20.3" r="2.38"/><circle cx="20.3" cy="23.1" r="2.38"/><circle cx="54.6" cy="39.8" r="2.38"/><circle cx="19.6" cy="16" r="2.38"/><circle cx="28.8" cy="11.3" r="2.38"/><circle cx="66.7" cy="35.2" r="2.38"/><circle cx="55.7" cy="11.8" r="2.38"/><circle cx="36.2" cy="37.7" r="2.38"/><circle cx="54.1" cy="36.1" r="2.38"/><circle cx="66.6" cy="30" r="2.38"/><circle cx="37.8" cy="14.1" r="2.38"/><circle cx="66.4" cy="35.3" r="2.38"/><circle cx="63.4" cy="36.2" r="2.38"/><circle cx="67.6" cy="21.1" r="2.38"/><circle cx="43.8" cy="36.9" r="2.38"/><circle cx="38.3" cy="37.7" r="2.38"/><circle cx="66.3" cy="30.6" r="2.38"/><circle cx="35.5" cy="36.4" r="2.38"/><circle cx="19.2" cy="27.2" r="2.38"/><circle cx="67.9" cy="26.9" r="2.38"/><circle cx="67.7" cy="28.7" r="2.38"/><circle cx="67.5" cy="30.7" r="2.38"/><circle cx="67.9" cy="37.6" r="2.38"/><circle cx="20.2" cy="24.4" r="2.38"/><circle cx="47.8" cy="39.1" r="2.38"/><circle cx="43.5" cy="13" r="2.38"/><circle cx="38.3" cy="38.4" r="2.38"/><circle cx="22" cy="13.7" r="2.38"/><circle cx="67.6" cy="24.3" r="2.38"/><circle cx="66.2" cy="37.7" r="2.38"/><circle cx="18.9" cy="8.1" r="2.38"/><circle cx="19.7" cy="20.3" r="2.38"/><circle cx="66.8" cy="34.2" r="2.38"/><circle cx="21" cy="37.8" r="2.38"/><circle cx="42.6" cy="7.7" r="2.38"/><circle cx="18.8" cy="27.3" r="2.38"/><circle cx="36.3" cy="36.2" r="2.38"/><circle cx="54.4" cy="37" r="2.38"/><circle cx="66.4" cy="16" r="2.38"/><circle cx="54.8" cy="11.4" r="2.38"/><circle cx="32.8" cy="11" r="2.38"/><circle cx="20.5" cy="19.4" r="2.38"/><circle cx="35.7" cy="37.9" r="2.38"/><circle cx="67.4" cy="29.4" r="2.38"/><circle cx="23.8" cy="12.9" r="2.38"/><circle cx="28.7" cy="38.6" r="2.38"/><circle cx="63" cy="39.1" r="2.38"/><circle cx="43.7" cy="37.8" r="2.38"/><circle cx="46.8" cy="12.2" r="2.38"/><circle cx="66.7" cy="12.8" r="2.38"/><circle cx="42.9" cy="11.3" r="2.38"/><circle cx="20.5" cy="15" r="2.38"/><circle cx="26.3" cy="37.4" r="2.38"/><circle cx="67.6" cy="23.2" r="2.38"/><circle cx="68.3" cy="25.3" r="2.38"/><circle cx="53.4" cy="10.1" r="2.38"/><circle cx="19.7" cy="23.6" r="2.38"/><circle cx="68" cy="27.3" r="2.38"/><circle cx="27.9" cy="36.5" r="2.38"/><circle cx="68.1" cy="38.7" r="2.38"/><circle cx="38.9" cy="39" r="2.38"/><circle cx="44.7" cy="36.3" r="2.38"/><circle cx="44.8" cy="37.1" r="2.38"/><circle cx="42.2" cy="37.9" r="2.38"/><circle cx="67.3" cy="29.9" r="2.38"/><circle cx="66.4" cy="35.1" r="2.38"/><circle cx="26" cy="11.7" r="2.38"/><circle cx="21.3" cy="34" r="2.38"/><circle cx="20.2" cy="31.7" r="2.38"/><circle cx="66.7" cy="31.6" r="2.38"/><circle cx="38" cy="11.6" r="2.38"/><circle cx="20.1" cy="24.1" r="2.38"/><circle cx="44.9" cy="12.1" r="2.38"/><circle cx="53.1" cy="36.6" r="2.38"/><circle cx="19.5" cy="13.4" r="2.38"/><circle cx="54.9" cy="35.7" r="2.38"/><circle cx="19.7" cy="23" r="2.38"/><circle cx="41.7" cy="37.5" r="2.38"/><circle cx="27.7" cy="36.6" r="2.38"/><circle cx="61" cy="36.1" r="2.38"/><circle cx="45.4" cy="12.9" r="2.38"/><circle cx="63.9" cy="37" r="2.38"/><circle cx="37.7" cy="10.2" r="2.38"/><circle cx="40.2" cy="14" r="2.38"/><circle cx="67.4" cy="19.6" r="2.38"/><circle cx="67.9" cy="26.5" r="2.38"/><circle cx="57.3" cy="12.6" r="2.38"/><circle cx="67.3" cy="17.3" r="2.38"/><circle cx="19.3" cy="37.3" r="2.38"/><circle cx="45.1" cy="13.8" r="2.38"/><circle cx="50.8" cy="37.9" r="2.38"/><circle cx="42.1" cy="12.4" r="2.38"/><circle cx="40.4" cy="10.6" r="2.38"/><circle cx="20.8" cy="16.9" r="2.38"/><circle cx="67.2" cy="25.9" r="2.38"/><circle cx="38.9" cy="38.4" r="2.38"/><circle cx="67.4" cy="29.6" r="2.38"/><circle cx="62.5" cy="35.7" r="2.38"/><circle cx="67.2" cy="20.4" r="2.38"/><circle cx="22.6" cy="40.5" r="2.38"/><circle cx="59.2" cy="12.6" r="2.38"/><circle cx="53.4" cy="11.9" r="2.38"/><circle cx="51" cy="12.6" r="2.38"/><circle cx="32.1" cy="13.3" r="2.38"/><circle cx="66.6" cy="31.9" r="2.38"/><circle cx="67.9" cy="28.4" r="2.38"/><circle cx="47.1" cy="13.4" r="2.38"/><circle cx="19.1" cy="24.4" r="2.38"/><circle cx="66.8" cy="15.6" r="2.38"/><circle cx="42.4" cy="38.8" r="2.38"/><circle cx="55.4" cy="9.3" r="2.38"/><circle cx="69" cy="29.9" r="2.38"/><circle cx="66.6" cy="13.2" r="2.38"/><circle cx="54.3" cy="38.9" r="2.38"/><circle cx="35.6" cy="36.8" r="2.38"/><circle cx="68" cy="33.7" r="2.38"/><circle cx="34.5" cy="14.7" r="2.38"/><circle cx="43.3" cy="39.5" r="2.38"/><circle cx="53.5" cy="39" r="2.38"/><circle cx="64.9" cy="12.3" r="2.38"/><circle cx="37.9" cy="11.9" r="2.38"/><circle cx="68.2" cy="33" r="2.38"/><circle cx="60.3" cy="13.7" r="2.38"/><circle cx="65.2" cy="39.5" r="2.38"/><circle cx="67.3" cy="36.6" r="2.38"/><circle cx="47.9" cy="38.2" r="2.38"/><circle cx="67.2" cy="25.3" r="2.38"/><circle cx="57.4" cy="37.2" r="2.38"/><circle cx="4.2" cy="26.6" r="2.38"/><circle cx="4.4" cy="18.9" r="2.38"/><circle cx="4.8" cy="27.5" r="2.38"/><circle cx="5.1" cy="27" r="2.38"/><circle cx="5.3" cy="20.5" r="2.38"/><circle cx="5.2" cy="28.3" r="2.38"/><circle cx="4.5" cy="32" r="2.38"/><circle cx="5" cy="25.6" r="2.38"/><circle cx="5.7" cy="28.4" r="2.38"/><circle cx="5.2" cy="21.4" r="2.38"/><circle cx="4.3" cy="31.8" r="2.38"/><circle cx="4.2" cy="25.8" r="2.38"/><circle cx="5.2" cy="27.6" r="2.38"/><circle cx="5.5" cy="31.6" r="2.38"/><circle cx="4.6" cy="17.5" r="2.38"/><circle cx="4.1" cy="29.3" r="2.38"/><circle cx="13.7" cy="20.5" r="2.38"/><circle cx="13.8" cy="29.2" r="2.38"/><circle cx="8.6" cy="29.9" r="2.38"/><circle cx="19.6" cy="36.2" r="2.38"/><circle cx="5.9" cy="30.2" r="2.38"/><circle cx="10.7" cy="24.7" r="2.38"/><circle cx="8.4" cy="24.7" r="2.38"/><circle cx="14.7" cy="17.5" r="2.38"/><circle cx="10.6" cy="27.3" r="2.38"/><circle cx="14.2" cy="22.4" r="2.38"/><circle cx="19.3" cy="35.6" r="2.38"/><circle cx="7.3" cy="20.1" r="2.38"/><circle cx="19.1" cy="26.9" r="2.38"/><circle cx="16.5" cy="15.1" r="2.38"/><circle cx="14" cy="31.7" r="2.38"/><circle cx="16.2" cy="24.5" r="2.38"/><circle cx="13.2" cy="14.7" r="2.38"/><circle cx="6.6" cy="30.7" r="2.38"/><circle cx="19.2" cy="20.8" r="2.38"/><circle cx="12.8" cy="30.5" r="2.38"/><circle cx="18.8" cy="21.5" r="2.38"/><circle cx="10.8" cy="22.3" r="2.38"/><circle cx="12" cy="26" r="2.38"/><circle cx="17.2" cy="19.3" r="2.38"/><circle cx="17.2" cy="30.2" r="2.38"/><circle cx="16.9" cy="23.3" r="2.38"/><circle cx="12.8" cy="25.1" r="2.38"/><circle cx="18.7" cy="31.2" r="2.38"/><circle cx="5.7" cy="19.2" r="2.38"/><circle cx="15" cy="35.8" r="2.38"/><circle cx="10" cy="20.4" r="2.38"/><circle cx="6.3" cy="30.2" r="2.38"/><circle cx="79.5" cy="21.8" r="2.38"/><circle cx="78.2" cy="21.1" r="2.38"/><circle cx="78.1" cy="22.1" r="2.38"/><circle cx="79" cy="19.9" r="2.38"/><circle cx="79.5" cy="18" r="2.38"/><circle cx="77.8" cy="26" r="2.38"/><circle cx="79.6" cy="21.1" r="2.38"/><circle cx="77.8" cy="26.1" r="2.38"/><circle cx="79.5" cy="21.7" r="2.38"/><circle cx="78.4" cy="18.6" r="2.38"/><circle cx="78.5" cy="18.1" r="2.38"/><circle cx="79" cy="22.6" r="2.38"/><circle cx="78.7" cy="21.7" r="2.38"/><circle cx="78.7" cy="21.4" r="2.38"/><circle cx="78" cy="20.2" r="2.38"/><circle cx="78.4" cy="19.6" r="2.38"/><circle cx="72.7" cy="18.4" r="2.38"/><circle cx="75.8" cy="17.2" r="2.38"/><circle cx="68.3" cy="26.3" r="2.38"/><circle cx="70.6" cy="13.2" r="2.38"/><circle cx="69.9" cy="14.1" r="2.38"/><circle cx="70" cy="24.6" r="2.38"/><circle cx="67.5" cy="19.1" r="2.38"/><circle cx="73" cy="20" r="2.38"/><circle cx="70.1" cy="22.4" r="2.38"/><circle cx="67.7" cy="22.7" r="2.38"/><circle cx="68.3" cy="33.8" r="2.38"/><circle cx="69.8" cy="13.9" r="2.38"/><circle cx="71.4" cy="16.7" r="2.38"/><circle cx="75.3" cy="21.9" r="2.38"/><circle cx="74.4" cy="22.8" r="2.38"/><circle cx="67.6" cy="36.1" r="2.38"/><circle cx="67.4" cy="24.7" r="2.38"/><circle cx="76.7" cy="26.4" r="2.38"/><circle cx="68.4" cy="25.4" r="2.38"/><circle cx="75" cy="25.1" r="2.38"/><circle cx="72.6" cy="14.9" r="2.38"/><circle cx="75" cy="21.5" r="2.38"/><circle cx="68.7" cy="30.5" r="2.38"/><circle cx="72.1" cy="25.2" r="2.38"/><circle cx="73.9" cy="22.3" r="2.38"/><circle cx="74.6" cy="19.5" r="2.38"/><circle cx="75.8" cy="28.4" r="2.38"/><circle cx="76.6" cy="18.8" r="2.38"/><circle cx="77.2" cy="22.5" r="2.38"/><circle cx="68.1" cy="16.4" r="2.38"/><circle cx="69.2" cy="23.2" r="2.38"/><circle cx="69.5" cy="36" r="2.38"/><circle cx="79.1" cy="35.2" r="2.38"/><circle cx="67.5" cy="42.1" r="2.38"/><circle cx="39.6" cy="43.1" r="2.38"/><circle cx="29.6" cy="44.5" r="2.38"/><circle cx="4.6" cy="41.7" r="2.38"/><circle cx="36.3" cy="4.9" r="2.38"/><circle cx="23.3" cy="1.8" r="2.38"/><circle cx="22.9" cy="7.7" r="2.38"/><circle cx="61.9" cy="8.1" r="2.38"/><circle cx="10.6" cy="33.6" r="2.38"/><circle cx="5" cy="30.1" r="2.38"/><circle cx="5" cy="16.8" r="2.38"/></g></svg>
<svg x="152.13" y="259.01" width="82.43" height="46.21"><path class="k" d="M30.87 5.49h1M29.87 6.49h1M32.87 6.49h1M43.87 7.49h1M33.87 8.49h1M28.87 9.49h2M32.87 9.49h2M38.87 9.49h3M42.87 9.49h2M27.87 10.49h8M37.87 10.49h7M48.87 10.49h3M21.87 11.49h1M25.87 11.49h20M47.87 11.49h5M54.87 11.49h1M22.87 12.49h1M26.87 12.49h29M18.87 13.49h1M21.87 13.49h3M25.87 13.49h30M17.87 14.49h39M57.87 14.49h1M16.87 15.49h42M16.87 16.49h43M16.87 17.49h45M17.87 18.49h44M16.87 19.49h46M16.87 20.49h46M17.87 21.49h46M16.87 22.49h48M16.87 23.49h46M64.87 23.49h2M15.87 24.49h1M18.87 24.49h43M65.87 24.49h1M19.87 25.49h42M65.87 25.49h1M14.87 26.49h2M18.87 26.49h44M64.87 26.49h1M14.87 27.49h47M16.87 28.49h44M11.87 29.49h2M17.87 29.49h43M14.87 30.49h1M16.87 30.49h45M17.87 31.49h44M17.87 32.49h43M16.87 33.49h43M18.87 34.49h37M57.87 34.49h2M19.87 35.49h35M58.87 35.49h2M20.87 36.49h34M57.87 36.49h2M21.87 37.49h31M20.87 38.49h4M25.87 38.49h25M20.87 39.49h1M27.87 39.49h22M30.87 40.49h1M32.87 40.49h3M36.87 40.49h1M38.87 40.49h2M45.87 40.49h2M48.87 40.49h1M33.87 41.49h1"/><g class="p"><circle cx="27.3" cy="15.8" r="2.38"/><circle cx="58.6" cy="27.5" r="2.38"/><circle cx="49" cy="37.3" r="2.38"/><circle cx="31.4" cy="6.9" r="2.38"/><circle cx="48.3" cy="38" r="2.38"/><circle cx="30.5" cy="37.2" r="2.38"/><circle cx="21.6" cy="23.9" r="2.38"/><circle cx="36.8" cy="38.2" r="2.38"/><circle cx="35.2" cy="13.3" r="2.38"/><circle cx="40.3" cy="39.3" r="2.38"/><circle cx="29.5" cy="11.4" r="2.38"/><circle cx="53.4" cy="11.6" r="2.38"/><circle cx="32.3" cy="7.4" r="2.38"/><circle cx="46.4" cy="9" r="2.38"/><circle cx="57.4" cy="16" r="2.38"/><circle cx="56.4" cy="17.7" r="2.38"/><circle cx="20.1" cy="23.4" r="2.38"/><circle cx="28.3" cy="37.3" r="2.38"/><circle cx="35.1" cy="40.7" r="2.38"/><circle cx="45.4" cy="14.2" r="2.38"/><circle cx="24.5" cy="15.9" r="2.38"/><circle cx="21.5" cy="16.8" r="2.38"/><circle cx="16.2" cy="30.9" r="2.38"/><circle cx="43.1" cy="9.8" r="2.38"/><circle cx="60.8" cy="25.6" r="2.38"/><circle cx="28.2" cy="8.7" r="2.38"/><circle cx="61.4" cy="22.2" r="2.38"/><circle cx="57.9" cy="35.7" r="2.38"/><circle cx="26.3" cy="36.2" r="2.38"/><circle cx="29.2" cy="11.6" r="2.38"/><circle cx="33.5" cy="11.6" r="2.38"/><circle cx="61.8" cy="21.2" r="2.38"/><circle cx="57.6" cy="9.3" r="2.38"/><circle cx="39.6" cy="11.3" r="2.38"/><circle cx="38.8" cy="12.3" r="2.38"/><circle cx="37.1" cy="10.9" r="2.38"/><circle cx="26.6" cy="13.6" r="2.38"/><circle cx="17.3" cy="17.9" r="2.38"/><circle cx="19.4" cy="16.5" r="2.38"/><circle cx="20.9" cy="34.3" r="2.38"/><circle cx="22.5" cy="26.4" r="2.38"/><circle cx="36.3" cy="13.8" r="2.38"/><circle cx="22.1" cy="33.3" r="2.38"/><circle cx="38" cy="37.4" r="2.38"/><circle cx="38.8" cy="37.3" r="2.38"/><circle cx="20.4" cy="22.9" r="2.38"/><circle cx="24.4" cy="11.1" r="2.38"/><circle cx="39.6" cy="10.7" r="2.38"/><circle cx="45.3" cy="9.5" r="2.38"/><circle cx="59.5" cy="15.9" r="2.38"/><circle cx="17.7" cy="30.1" r="2.38"/><circle cx="21.3" cy="27.4" r="2.38"/><circle cx="18.4" cy="36.9" r="2.38"/><circle cx="61.3" cy="20.3" r="2.38"/><circle cx="50.4" cy="12.3" r="2.38"/><circle cx="45.9" cy="14.1" r="2.38"/><circle cx="14.9" cy="26.8" r="2.38"/><circle cx="14.6" cy="25.3" r="2.38"/><circle cx="42.3" cy="38.5" r="2.38"/><circle cx="53.8" cy="32.4" r="2.38"/><circle cx="36.3" cy="39.8" r="2.38"/><circle cx="20.4" cy="28" r="2.38"/><circle cx="51.5" cy="39.8" r="2.38"/><circle cx="18.2" cy="26.1" r="2.38"/><circle cx="21" cy="22.9" r="2.38"/><circle cx="59.5" cy="31.1" r="2.38"/><circle cx="27.4" cy="9.3" r="2.38"/><circle cx="18.2" cy="19.4" r="2.38"/><circle cx="32.8" cy="9" r="2.38"/><circle cx="19.8" cy="28.4" r="2.38"/><circle cx="39" cy="12.4" r="2.38"/><circle cx="49.8" cy="36.5" r="2.38"/><circle cx="22.2" cy="35.1" r="2.38"/><circle cx="60.9" cy="23.5" r="2.38"/><circle cx="21.2" cy="16.4" r="2.38"/><circle cx="50.8" cy="12" r="2.38"/><circle cx="17.5" cy="25.7" r="2.38"/><circle cx="59.3" cy="18.3" r="2.38"/><circle cx="51.9" cy="36" r="2.38"/><circle cx="23" cy="16.4" r="2.38"/><circle cx="44.5" cy="14" r="2.38"/><circle cx="27.5" cy="14.8" r="2.38"/><circle cx="44.2" cy="12" r="2.38"/><circle cx="56.6" cy="34" r="2.38"/><circle cx="20.3" cy="15.8" r="2.38"/><circle cx="14.7" cy="28.5" r="2.38"/><circle cx="40.4" cy="38" r="2.38"/><circle cx="55.2" cy="15.5" r="2.38"/><circle cx="47.5" cy="37.9" r="2.38"/><circle cx="28.3" cy="12.6" r="2.38"/><circle cx="42.1" cy="11.3" r="2.38"/><circle cx="15.9" cy="22.8" r="2.38"/><circle cx="18.4" cy="27.1" r="2.38"/><circle cx="38.3" cy="12.3" r="2.38"/><circle cx="31.7" cy="12.3" r="2.38"/><circle cx="55.4" cy="10.8" r="2.38"/><circle cx="28" cy="13.4" r="2.38"/><circle cx="59.6" cy="33.4" r="2.38"/><circle cx="44.3" cy="12.6" r="2.38"/><circle cx="45" cy="38.4" r="2.38"/><circle cx="47.2" cy="13.5" r="2.38"/><circle cx="43.6" cy="12.5" r="2.38"/><circle cx="22.2" cy="27.2" r="2.38"/><circle cx="23.6" cy="35.7" r="2.38"/><circle cx="52.4" cy="14.6" r="2.38"/><circle cx="13.3" cy="13.8" r="2.38"/><circle cx="19.5" cy="22.7" r="2.38"/><circle cx="59.6" cy="19.7" r="2.38"/><circle cx="38.3" cy="12.4" r="2.38"/><circle cx="21.2" cy="23.3" r="2.38"/><circle cx="56.3" cy="35.8" r="2.38"/><circle cx="62.7" cy="34.5" r="2.38"/><circle cx="17.5" cy="20.3" r="2.38"/><circle cx="50.5" cy="12.6" r="2.38"/><circle cx="59.2" cy="24.8" r="2.38"/><circle cx="44.6" cy="40.2" r="2.38"/><circle cx="57.8" cy="32" r="2.38"/><circle cx="15.4" cy="29.7" r="2.38"/><circle cx="22.2" cy="12.9" r="2.38"/><circle cx="60.2" cy="31.1" r="2.38"/><circle cx="54.9" cy="32.9" r="2.38"/><circle cx="46.9" cy="11.6" r="2.38"/><circle cx="20.8" cy="27.6" r="2.38"/><circle cx="21.5" cy="25.3" r="2.38"/><circle cx="51.1" cy="8.8" r="2.38"/><circle cx="65.5" cy="22.2" r="2.38"/><circle cx="24.5" cy="36.1" r="2.38"/><circle cx="42.8" cy="8.3" r="2.38"/><circle cx="40.9" cy="11.4" r="2.38"/><circle cx="28.6" cy="14.5" r="2.38"/><circle cx="20.4" cy="27.8" r="2.38"/><circle cx="46.3" cy="13.8" r="2.38"/><circle cx="24.8" cy="37.6" r="2.38"/><circle cx="30.5" cy="37.7" r="2.38"/><circle cx="53.8" cy="32.6" r="2.38"/><circle cx="58.4" cy="27.4" r="2.38"/><circle cx="61.1" cy="30.3" r="2.38"/><circle cx="46.6" cy="14.5" r="2.38"/><circle cx="65.3" cy="24.6" r="2.38"/><circle cx="52.6" cy="13.3" r="2.38"/><circle cx="24.5" cy="38.2" r="2.38"/><circle cx="56.4" cy="14.2" r="2.38"/><circle cx="16.5" cy="18.6" r="2.38"/><circle cx="28.3" cy="14.7" r="2.38"/><circle cx="51.7" cy="39.1" r="2.38"/><circle cx="48.7" cy="38.4" r="2.38"/><circle cx="43.3" cy="38.1" r="2.38"/><circle cx="39.4" cy="38.3" r="2.38"/><circle cx="50.1" cy="38.5" r="2.38"/><circle cx="31" cy="12.2" r="2.38"/><circle cx="19.2" cy="30.1" r="2.38"/><circle cx="49.3" cy="12.6" r="2.38"/><circle cx="19.8" cy="32.3" r="2.38"/><circle cx="37" cy="12.7" r="2.38"/><circle cx="23.9" cy="11.8" r="2.38"/><circle cx="30.2" cy="38.9" r="2.38"/><circle cx="20.1" cy="17.9" r="2.38"/><circle cx="50.9" cy="11.7" r="2.38"/><circle cx="33.9" cy="9.6" r="2.38"/><circle cx="60.5" cy="21.3" r="2.38"/><circle cx="23.5" cy="16.1" r="2.38"/><circle cx="30.3" cy="12.1" r="2.38"/><circle cx="17.6" cy="32.3" r="2.38"/><circle cx="63.1" cy="26" r="2.38"/><circle cx="19.4" cy="34.3" r="2.38"/><circle cx="52.8" cy="13.8" r="2.38"/><circle cx="22" cy="33.9" r="2.38"/><circle cx="36" cy="11.9" r="2.38"/><circle cx="35.3" cy="38.5" r="2.38"/><circle cx="59.9" cy="34.6" r="2.38"/><circle cx="40.7" cy="12.3" r="2.38"/><circle cx="52.7" cy="13.9" r="2.38"/><circle cx="55.1" cy="14.7" r="2.38"/><circle cx="21.8" cy="33" r="2.38"/><circle cx="43.9" cy="38.3" r="2.38"/><circle cx="25.6" cy="35.3" r="2.38"/><circle cx="35.1" cy="13.2" r="2.38"/><circle cx="20.9" cy="27.1" r="2.38"/><circle cx="65.5" cy="30.9" r="2.38"/><circle cx="26.7" cy="39.5" r="2.38"/><circle cx="55.1" cy="10.8" r="2.38"/><circle cx="21.1" cy="13.6" r="2.38"/><circle cx="17.6" cy="21.6" r="2.38"/><circle cx="16" cy="31" r="2.38"/><circle cx="21" cy="26.6" r="2.38"/><circle cx="21.9" cy="16.2" r="2.38"/><circle cx="29.1" cy="38.7" r="2.38"/><circle cx="23.2" cy="37.3" r="2.38"/><circle cx="18.3" cy="16.5" r="2.38"/><circle cx="27.1" cy="15.9" r="2.38"/><circle cx="55.9" cy="15.4" r="2.38"/><circle cx="26.1" cy="38" r="2.38"/><circle cx="59.3" cy="20" r="2.38"/><circle cx="59.1" cy="24" r="2.38"/><circle cx="46.1" cy="14" r="2.38"/><circle cx="52.8" cy="14.4" r="2.38"/><circle cx="46.9" cy="9.5" r="2.38"/><circle cx="40.1" cy="38.3" r="2.38"/><circle cx="21.3" cy="23.8" r="2.38"/><circle cx="58.4" cy="19.1" r="2.38"/><circle cx="20" cy="19.2" r="2.38"/><circle cx="31.3" cy="40.8" r="2.38"/><circle cx="25.3" cy="13.9" r="2.38"/><circle cx="16.1" cy="31.2" r="2.38"/><circle cx="61.7" cy="28.2" r="2.38"/><circle cx="46.1" cy="38.3" r="2.38"/><circle cx="20.3" cy="16.3" r="2.38"/><circle cx="34.6" cy="37.7" r="2.38"/><circle cx="21.5" cy="26" r="2.38"/><circle cx="63.8" cy="25.8" r="2.38"/><circle cx="49.2" cy="35.8" r="2.38"/><circle cx="57.3" cy="18" r="2.38"/><circle cx="33.6" cy="42.7" r="2.38"/><circle cx="39.1" cy="38.5" r="2.38"/><circle cx="12.8" cy="28.4" r="2.38"/><circle cx="40.6" cy="38.2" r="2.38"/><circle cx="47.5" cy="13.3" r="2.38"/><circle cx="34.7" cy="11.8" r="2.38"/><circle cx="61.7" cy="15.6" r="2.38"/><circle cx="51.5" cy="36.2" r="2.38"/><circle cx="35.6" cy="38.6" r="2.38"/><circle cx="49.9" cy="11.8" r="2.38"/><circle cx="52" cy="34.5" r="2.38"/><circle cx="20.1" cy="23.7" r="2.38"/><circle cx="19.7" cy="22.3" r="2.38"/><circle cx="17.2" cy="18.3" r="2.38"/><circle cx="20.5" cy="13.7" r="2.38"/><circle cx="19.6" cy="28.7" r="2.38"/><circle cx="28.2" cy="14" r="2.38"/><circle cx="53.5" cy="15.1" r="2.38"/><circle cx="60.2" cy="26.4" r="2.38"/><circle cx="60.3" cy="16.1" r="2.38"/><circle cx="44.9" cy="37.7" r="2.38"/><circle cx="27.9" cy="14.6" r="2.38"/><circle cx="36.9" cy="38.7" r="2.38"/><circle cx="34.8" cy="13.1" r="2.38"/><circle cx="30.1" cy="38.5" r="2.38"/><circle cx="45.6" cy="10.3" r="2.38"/><circle cx="63.7" cy="23.8" r="2.38"/><circle cx="20.9" cy="35.6" r="2.38"/><circle cx="63.5" cy="24.6" r="2.38"/><circle cx="28" cy="14.4" r="2.38"/><circle cx="25" cy="14.1" r="2.38"/><circle cx="18.3" cy="23.8" r="2.38"/><circle cx="43.7" cy="13.4" r="2.38"/><circle cx="57.7" cy="18.2" r="2.38"/><circle cx="59.1" cy="30.1" r="2.38"/><circle cx="49.6" cy="41" r="2.38"/><circle cx="20.4" cy="32.8" r="2.38"/><circle cx="64.5" cy="24" r="2.38"/><circle cx="58" cy="16.9" r="2.38"/><circle cx="48.4" cy="13.2" r="2.38"/><circle cx="59.9" cy="34.9" r="2.38"/><circle cx="21.3" cy="24.9" r="2.38"/><circle cx="57.6" cy="34.7" r="2.38"/><circle cx="25.6" cy="13.1" r="2.38"/><circle cx="61.7" cy="13.9" r="2.38"/><circle cx="42.4" cy="11.2" r="2.38"/><circle cx="36.4" cy="13.1" r="2.38"/><circle cx="53" cy="12.2" r="2.38"/><circle cx="55" cy="32.7" r="2.38"/><circle cx="54.3" cy="34.2" r="2.38"/><circle cx="43" cy="37.5" r="2.38"/><circle cx="19.3" cy="33.8" r="2.38"/><circle cx="19.1" cy="40.5" r="2.38"/><circle cx="78.9" cy="16.1" r="2.38"/><circle cx="69" cy="13.7" r="2.38"/><circle cx="70.6" cy="31.2" r="2.38"/><circle cx="68.4" cy="25.9" r="2.38"/><circle cx="68.4" cy="21" r="2.38"/><circle cx="60.6" cy="38.5" r="2.38"/><circle cx="47.2" cy="43.5" r="2.38"/><circle cx="34.9" cy="44.5" r="2.38"/><circle cx="26" cy="42.1" r="2.38"/><circle cx="18.2" cy="40.8" r="2.38"/><circle cx="7.1" cy="39.6" r="2.38"/><circle cx="11.5" cy="31.9" r="2.38"/><circle cx="8.2" cy="23.5" r="2.38"/><circle cx="3.7" cy="23.5" r="2.38"/><circle cx="8.2" cy="11.6" r="2.38"/><circle cx="22.7" cy="9.1" r="2.38"/><circle cx="47.2" cy="4.9" r="2.38"/><circle cx="46.1" cy="1.8" r="2.38"/><circle cx="59.5" cy="9.1" r="2.38"/><circle cx="32.7" cy="8.1" r="2.38"/></g></svg>
<svg x="247.23" y="259.01" width="82.43" height="46.21"><path class="k" d="M33.77 8.49h4M21.77 9.49h2M24.77 9.49h1M30.77 9.49h8M39.77 9.49h1M19.77 10.49h6M29.77 10.49h12M42.77 10.49h2M52.77 10.49h1M16.77 11.49h10M27.77 11.49h27M16.77 12.49h39M16.77 13.49h39M15.77 14.49h41M57.77 14.49h1M14.77 15.49h45M11.77 16.49h49M10.77 17.49h50M9.77 18.49h50M10.77 19.49h49M11.77 20.49h47M10.77 21.49h49M9.77 22.49h52M9.77 23.49h53M10.77 24.49h52M9.77 25.49h52M9.77 26.49h52M11.77 27.49h51M12.77 28.49h51M11.77 29.49h53M12.77 30.49h52M11.77 31.49h52M13.77 32.49h48M63.77 32.49h1M14.77 33.49h45M65.77 33.49h1M13.77 34.49h43M57.77 34.49h1M15.77 35.49h35M51.77 35.49h4M58.77 35.49h1M16.77 36.49h33M52.77 36.49h3M57.77 36.49h1M15.77 37.49h1M17.77 37.49h1M20.77 37.49h30M51.77 37.49h1M53.77 37.49h1M23.77 38.49h28M54.77 38.49h1M24.77 39.49h14M39.77 39.49h10M25.77 40.49h10M36.77 40.49h1M44.77 40.49h1M27.77 41.49h6M28.77 42.49h1M30.77 42.49h2"/><g class="p"><circle cx="56.9" cy="22.4" r="2.38"/><circle cx="48.9" cy="33" r="2.38"/><circle cx="49.3" cy="12.9" r="2.38"/><circle cx="17.7" cy="14.3" r="2.38"/><circle cx="41.8" cy="10.2" r="2.38"/><circle cx="20.4" cy="39.3" r="2.38"/><circle cx="11.9" cy="25.8" r="2.38"/><circle cx="16.8" cy="33.2" r="2.38"/><circle cx="25.7" cy="12.9" r="2.38"/><circle cx="25.4" cy="35.8" r="2.38"/><circle cx="53.9" cy="14.2" r="2.38"/><circle cx="50.6" cy="33.2" r="2.38"/><circle cx="20.4" cy="38.9" r="2.38"/><circle cx="49.9" cy="33.6" r="2.38"/><circle cx="58" cy="22.6" r="2.38"/><circle cx="17.9" cy="15.6" r="2.38"/><circle cx="20.2" cy="34.6" r="2.38"/><circle cx="27.6" cy="38.1" r="2.38"/><circle cx="11" cy="24.9" r="2.38"/><circle cx="34.6" cy="9.9" r="2.38"/><circle cx="20.7" cy="12.3" r="2.38"/><circle cx="56.3" cy="20.1" r="2.38"/><circle cx="25.2" cy="9.6" r="2.38"/><circle cx="22.4" cy="36.3" r="2.38"/><circle cx="51" cy="33.4" r="2.38"/><circle cx="37.7" cy="10.4" r="2.38"/><circle cx="42.8" cy="13.3" r="2.38"/><circle cx="17" cy="17.3" r="2.38"/><circle cx="32.5" cy="10.6" r="2.38"/><circle cx="45.2" cy="38" r="2.38"/><circle cx="20.5" cy="13" r="2.38"/><circle cx="59" cy="23.7" r="2.38"/><circle cx="41.5" cy="12.6" r="2.38"/><circle cx="58.2" cy="32.7" r="2.38"/><circle cx="22.8" cy="12.5" r="2.38"/><circle cx="17.5" cy="15.6" r="2.38"/><circle cx="33.2" cy="42" r="2.38"/><circle cx="12.5" cy="29.4" r="2.38"/><circle cx="15.2" cy="27" r="2.38"/><circle cx="39.9" cy="37.6" r="2.38"/><circle cx="28.4" cy="13.9" r="2.38"/><circle cx="52.2" cy="33.1" r="2.38"/><circle cx="48.8" cy="38.5" r="2.38"/><circle cx="56.9" cy="36.1" r="2.38"/><circle cx="19" cy="15.7" r="2.38"/><circle cx="30.4" cy="39.7" r="2.38"/><circle cx="12.9" cy="33.1" r="2.38"/><circle cx="56.7" cy="20.4" r="2.38"/><circle cx="22.1" cy="35" r="2.38"/><circle cx="49.7" cy="12.8" r="2.38"/><circle cx="13.2" cy="19.8" r="2.38"/><circle cx="48.9" cy="10.5" r="2.38"/><circle cx="61.2" cy="27.1" r="2.38"/><circle cx="24.5" cy="12" r="2.38"/><circle cx="30.8" cy="13.3" r="2.38"/><circle cx="14.3" cy="28" r="2.38"/><circle cx="58.6" cy="16.7" r="2.38"/><circle cx="12.1" cy="34" r="2.38"/><circle cx="33.9" cy="38.6" r="2.38"/><circle cx="45.5" cy="37.8" r="2.38"/><circle cx="10.2" cy="13.4" r="2.38"/><circle cx="30.7" cy="11.4" r="2.38"/><circle cx="29.2" cy="40.8" r="2.38"/><circle cx="60.4" cy="30.3" r="2.38"/><circle cx="13.3" cy="22.2" r="2.38"/><circle cx="18.2" cy="13.4" r="2.38"/><circle cx="59.6" cy="8.5" r="2.38"/><circle cx="32.5" cy="11.1" r="2.38"/><circle cx="14" cy="20.1" r="2.38"/><circle cx="26" cy="14.6" r="2.38"/><circle cx="53.4" cy="13.1" r="2.38"/><circle cx="50.9" cy="36.7" r="2.38"/><circle cx="59.3" cy="27.2" r="2.38"/><circle cx="62.4" cy="26.2" r="2.38"/><circle cx="10.1" cy="21.3" r="2.38"/><circle cx="56.3" cy="20.6" r="2.38"/><circle cx="55.7" cy="33.8" r="2.38"/><circle cx="67.2" cy="38.6" r="2.38"/><circle cx="9.2" cy="24.6" r="2.38"/><circle cx="29.2" cy="14.2" r="2.38"/><circle cx="27.4" cy="11.7" r="2.38"/><circle cx="18.3" cy="10.1" r="2.38"/><circle cx="38.9" cy="39.9" r="2.38"/><circle cx="14.1" cy="29.5" r="2.38"/><circle cx="52.6" cy="13.7" r="2.38"/><circle cx="23.1" cy="8" r="2.38"/><circle cx="12.2" cy="21.3" r="2.38"/><circle cx="51.2" cy="32.3" r="2.38"/><circle cx="17.3" cy="34.5" r="2.38"/><circle cx="52.3" cy="13" r="2.38"/><circle cx="61.6" cy="29.1" r="2.38"/><circle cx="14.5" cy="32.2" r="2.38"/><circle cx="49.3" cy="34" r="2.38"/><circle cx="47.9" cy="35.9" r="2.38"/><circle cx="66.8" cy="31.4" r="2.38"/><circle cx="47.6" cy="34.4" r="2.38"/><circle cx="46.9" cy="39.8" r="2.38"/><circle cx="41.7" cy="11.5" r="2.38"/><circle cx="64.2" cy="25" r="2.38"/><circle cx="64.3" cy="16.9" r="2.38"/><circle cx="61.3" cy="19.9" r="2.38"/><circle cx="41.5" cy="13.3" r="2.38"/><circle cx="30.5" cy="40.6" r="2.38"/><circle cx="32.2" cy="11.7" r="2.38"/><circle cx="32.5" cy="40.3" r="2.38"/><circle cx="57.8" cy="19.7" r="2.38"/><circle cx="13.6" cy="21.3" r="2.38"/><circle cx="36.3" cy="38.3" r="2.38"/><circle cx="21.9" cy="35.2" r="2.38"/><circle cx="16.2" cy="12.1" r="2.38"/><circle cx="19.7" cy="35" r="2.38"/><circle cx="64.5" cy="22.4" r="2.38"/><circle cx="19.6" cy="12.2" r="2.38"/><circle cx="26.2" cy="8.6" r="2.38"/><circle cx="47.7" cy="12.7" r="2.38"/><circle cx="14.2" cy="26.1" r="2.38"/><circle cx="59.3" cy="30.5" r="2.38"/><circle cx="24" cy="10.5" r="2.38"/><circle cx="15.1" cy="29.3" r="2.38"/><circle cx="59.5" cy="23.4" r="2.38"/><circle cx="56" cy="20.9" r="2.38"/><circle cx="56.5" cy="34.4" r="2.38"/><circle cx="26.2" cy="14" r="2.38"/><circle cx="56.9" cy="22" r="2.38"/><circle cx="57" cy="20.6" r="2.38"/><circle cx="47.6" cy="34.4" r="2.38"/><circle cx="21.5" cy="35.1" r="2.38"/><circle cx="49.7" cy="36.9" r="2.38"/><circle cx="44.2" cy="37.3" r="2.38"/><circle cx="56.2" cy="19" r="2.38"/><circle cx="40.5" cy="12.1" r="2.38"/><circle cx="60" cy="27.4" r="2.38"/><circle cx="27.1" cy="11.3" r="2.38"/><circle cx="42.5" cy="13.7" r="2.38"/><circle cx="26.5" cy="37.2" r="2.38"/><circle cx="48.9" cy="34.4" r="2.38"/><circle cx="61.3" cy="31" r="2.38"/><circle cx="24.8" cy="40.2" r="2.38"/><circle cx="55.8" cy="13.3" r="2.38"/><circle cx="28.1" cy="13.2" r="2.38"/><circle cx="14" cy="18.4" r="2.38"/><circle cx="63.9" cy="34.2" r="2.38"/><circle cx="48.5" cy="33.5" r="2.38"/><circle cx="39" cy="11.6" r="2.38"/><circle cx="38.2" cy="38.1" r="2.38"/><circle cx="46.3" cy="38.7" r="2.38"/><circle cx="59.7" cy="28.4" r="2.38"/><circle cx="40.7" cy="36.8" r="2.38"/><circle cx="64.2" cy="30.8" r="2.38"/><circle cx="30" cy="13.5" r="2.38"/><circle cx="42.7" cy="10.4" r="2.38"/><circle cx="12.4" cy="17.8" r="2.38"/><circle cx="57.7" cy="20.9" r="2.38"/><circle cx="46.6" cy="37.7" r="2.38"/><circle cx="59.2" cy="35.4" r="2.38"/><circle cx="38" cy="40.7" r="2.38"/><circle cx="54.3" cy="16.3" r="2.38"/><circle cx="50.7" cy="32.9" r="2.38"/><circle cx="55.3" cy="16" r="2.38"/><circle cx="18.2" cy="15.6" r="2.38"/><circle cx="61.8" cy="34.8" r="2.38"/><circle cx="12.9" cy="18.4" r="2.38"/><circle cx="44.6" cy="38.2" r="2.38"/><circle cx="55.6" cy="17.4" r="2.38"/><circle cx="50.6" cy="37.8" r="2.38"/><circle cx="35.1" cy="37.5" r="2.38"/><circle cx="40.7" cy="37.5" r="2.38"/><circle cx="54.2" cy="11.8" r="2.38"/><circle cx="44.2" cy="39.3" r="2.38"/><circle cx="59.2" cy="33.5" r="2.38"/><circle cx="44.7" cy="37.7" r="2.38"/><circle cx="35.2" cy="38.3" r="2.38"/><circle cx="22.4" cy="35.6" r="2.38"/><circle cx="12.7" cy="34.2" r="2.38"/><circle cx="31.5" cy="39.3" r="2.38"/><circle cx="46.2" cy="13.2" r="2.38"/><circle cx="13.3" cy="17.2" r="2.38"/><circle cx="21.6" cy="34.4" r="2.38"/><circle cx="39.1" cy="11.2" r="2.38"/><circle cx="59.2" cy="24.9" r="2.38"/><circle cx="52.7" cy="32.6" r="2.38"/><circle cx="56.9" cy="19.2" r="2.38"/><circle cx="38.2" cy="37.2" r="2.38"/><circle cx="48.4" cy="35.4" r="2.38"/><circle cx="56.3" cy="21.4" r="2.38"/><circle cx="13.4" cy="18.7" r="2.38"/><circle cx="13.9" cy="25.7" r="2.38"/><circle cx="59.4" cy="24.2" r="2.38"/><circle cx="65.8" cy="31.1" r="2.38"/><circle cx="25.6" cy="14" r="2.38"/><circle cx="13.8" cy="30.6" r="2.38"/><circle cx="13.6" cy="25.2" r="2.38"/><circle cx="57.5" cy="14.3" r="2.38"/><circle cx="27.6" cy="38.4" r="2.38"/><circle cx="51.8" cy="39.5" r="2.38"/><circle cx="51.4" cy="12.8" r="2.38"/><circle cx="48.2" cy="34" r="2.38"/><circle cx="49.7" cy="32.8" r="2.38"/><circle cx="15.4" cy="28.5" r="2.38"/><circle cx="56.5" cy="33.1" r="2.38"/><circle cx="6.5" cy="27.6" r="2.38"/><circle cx="38.8" cy="36.4" r="2.38"/><circle cx="16" cy="30.3" r="2.38"/><circle cx="15.6" cy="16.5" r="2.38"/><circle cx="15.1" cy="36" r="2.38"/><circle cx="56.9" cy="39.3" r="2.38"/><circle cx="26.8" cy="38.8" r="2.38"/><circle cx="6.4" cy="24.5" r="2.38"/><circle cx="56.1" cy="36.6" r="2.38"/><circle cx="10.7" cy="25" r="2.38"/><circle cx="58.2" cy="22.2" r="2.38"/><circle cx="33.7" cy="10.1" r="2.38"/><circle cx="14.1" cy="17.1" r="2.38"/><circle cx="47.7" cy="34.9" r="2.38"/><circle cx="50.9" cy="33.5" r="2.38"/><circle cx="15" cy="17.7" r="2.38"/><circle cx="51.8" cy="33.7" r="2.38"/><circle cx="13.8" cy="26.5" r="2.38"/><circle cx="42" cy="37.7" r="2.38"/><circle cx="36" cy="9.5" r="2.38"/><circle cx="61.6" cy="29.8" r="2.38"/><circle cx="57.2" cy="36.7" r="2.38"/><circle cx="13.3" cy="26" r="2.38"/><circle cx="50.7" cy="13.6" r="2.38"/><circle cx="59.1" cy="25.8" r="2.38"/><circle cx="45.1" cy="37.3" r="2.38"/><circle cx="56.4" cy="15.2" r="2.38"/><circle cx="47.6" cy="34.7" r="2.38"/><circle cx="30.1" cy="40.3" r="2.38"/><circle cx="41.1" cy="13.7" r="2.38"/><circle cx="57.7" cy="20.3" r="2.38"/><circle cx="37.3" cy="11.1" r="2.38"/><circle cx="66.9" cy="35.2" r="2.38"/><circle cx="51.1" cy="33.6" r="2.38"/><circle cx="36.5" cy="38.5" r="2.38"/><circle cx="41.4" cy="38.9" r="2.38"/><circle cx="15.9" cy="36.3" r="2.38"/><circle cx="25.7" cy="37.7" r="2.38"/><circle cx="66.9" cy="31.6" r="2.38"/><circle cx="19.6" cy="36.6" r="2.38"/><circle cx="36.8" cy="37.7" r="2.38"/><circle cx="62.4" cy="21" r="2.38"/><circle cx="43.9" cy="13.2" r="2.38"/><circle cx="51" cy="33" r="2.38"/><circle cx="31.3" cy="12.6" r="2.38"/><circle cx="54.2" cy="35.8" r="2.38"/><circle cx="11.3" cy="19.5" r="2.38"/><circle cx="53.2" cy="38.8" r="2.38"/><circle cx="48" cy="37.5" r="2.38"/><circle cx="45.1" cy="12.5" r="2.38"/><circle cx="50.6" cy="36" r="2.38"/><circle cx="37.1" cy="38.2" r="2.38"/><circle cx="18.4" cy="34.3" r="2.38"/><circle cx="10.9" cy="17.7" r="2.38"/><circle cx="56.1" cy="17.3" r="2.38"/><circle cx="60.4" cy="19.1" r="2.38"/><circle cx="47.1" cy="37.1" r="2.38"/><circle cx="21.9" cy="10.3" r="2.38"/><circle cx="61.9" cy="29.9" r="2.38"/><circle cx="56.9" cy="40.8" r="2.38"/><circle cx="59" cy="26.5" r="2.38"/><circle cx="63.8" cy="32.3" r="2.38"/><circle cx="57.7" cy="16.9" r="2.38"/><circle cx="51.3" cy="10.5" r="2.38"/><circle cx="29" cy="14.1" r="2.38"/><circle cx="30.2" cy="10.4" r="2.38"/><circle cx="56.8" cy="31.7" r="2.38"/><circle cx="62.9" cy="30.2" r="2.38"/><circle cx="30.8" cy="41.8" r="2.38"/><circle cx="28.6" cy="38.6" r="2.38"/><circle cx="10" cy="16.5" r="2.38"/><circle cx="18.6" cy="12.4" r="2.38"/><circle cx="12.3" cy="27.4" r="2.38"/><circle cx="30.1" cy="10.7" r="2.38"/><circle cx="33.4" cy="10.2" r="2.38"/><circle cx="15.8" cy="35.2" r="2.38"/><circle cx="14.1" cy="25.7" r="2.38"/><circle cx="56.5" cy="21.6" r="2.38"/><circle cx="24.3" cy="35.6" r="2.38"/><circle cx="8.7" cy="23.2" r="2.38"/><circle cx="16.5" cy="17.8" r="2.38"/><circle cx="46.8" cy="38.6" r="2.38"/><circle cx="32.1" cy="39.8" r="2.38"/><circle cx="28.2" cy="38.9" r="2.38"/><circle cx="11.8" cy="21.9" r="2.38"/><circle cx="14.6" cy="18.7" r="2.38"/><circle cx="60.2" cy="30.1" r="2.38"/><circle cx="15.9" cy="17.7" r="2.38"/><circle cx="70.4" cy="38" r="2.38"/><circle cx="58.6" cy="42.6" r="2.38"/><circle cx="34" cy="44.5" r="2.38"/><circle cx="24.2" cy="43.5" r="2.38"/><circle cx="76.4" cy="26.3" r="2.38"/><circle cx="79.3" cy="22.3" r="2.38"/><circle cx="72.6" cy="22.1" r="2.38"/><circle cx="71.1" cy="18.9" r="2.38"/><circle cx="62.6" cy="11.9" r="2.38"/><circle cx="56.3" cy="8.8" r="2.38"/><circle cx="58.6" cy="4.8" r="2.38"/><circle cx="22.5" cy="1.8" r="2.38"/><circle cx="35.8" cy="7.7" r="2.38"/><circle cx="13.5" cy="10.2" r="2.38"/><circle cx="5.7" cy="13.3" r="2.38"/><circle cx="4.6" cy="17.9" r="2.38"/><circle cx="4.2" cy="22.8" r="2.38"/><circle cx="3.5" cy="25.9" r="2.38"/><circle cx="8" cy="32.9" r="2.38"/></g></svg>
<svg x="437.44" y="259.01" width="82.43" height="46.21"><path class="k" d="M29.56 9.49h3M33.56 9.49h2M36.56 9.49h1M42.56 9.49h5M50.56 9.49h1M26.56 10.49h12M40.56 10.49h12M18.56 11.49h3M24.56 11.49h30M18.56 12.49h4M23.56 12.49h33M63.56 12.49h1M17.56 13.49h40M58.56 13.49h2M61.56 13.49h3M17.56 14.49h48M16.56 15.49h49M16.56 16.49h48M15.56 17.49h50M13.56 18.49h2M16.56 18.49h48M13.56 19.49h1M17.56 19.49h48M67.56 19.49h2M12.56 20.49h2M17.56 20.49h53M10.56 21.49h5M16.56 21.49h51M68.56 21.49h2M10.56 22.49h56M69.56 22.49h2M10.56 23.49h3M14.56 23.49h53M68.56 23.49h3M11.56 24.49h1M15.56 24.49h55M11.56 25.49h2M14.56 25.49h57M72.56 25.49h1M12.56 26.49h60M11.56 27.49h61M13.56 28.49h59M14.56 29.49h59M13.56 30.49h59M13.56 31.49h59M13.56 32.49h2M16.56 32.49h56M17.56 33.49h51M69.56 33.49h2M17.56 34.49h2M20.56 34.49h47M17.56 35.49h1M21.56 35.49h46M21.56 36.49h44M23.56 37.49h4M28.56 37.49h1M33.56 37.49h26M60.56 37.49h4M34.56 38.49h1M38.56 38.49h3M42.56 38.49h7M50.56 38.49h8M61.56 38.49h2M39.56 39.49h1M43.56 39.49h5M51.56 39.49h5M39.56 40.49h1M42.56 40.49h3M46.56 40.49h3M50.56 40.49h2M53.56 40.49h1M47.56 41.49h1"/><g class="p"><circle cx="41.1" cy="35.8" r="2.38"/><circle cx="16.4" cy="33.7" r="2.38"/><circle cx="41.7" cy="35.6" r="2.38"/><circle cx="65" cy="36.9" r="2.38"/><circle cx="18.5" cy="23.6" r="2.38"/><circle cx="21.9" cy="31.7" r="2.38"/><circle cx="48.5" cy="11.8" r="2.38"/><circle cx="41.5" cy="13.4" r="2.38"/><circle cx="15.3" cy="15.7" r="2.38"/><circle cx="55.8" cy="11" r="2.38"/><circle cx="27.7" cy="37" r="2.38"/><circle cx="44.9" cy="41.1" r="2.38"/><circle cx="67.3" cy="21.6" r="2.38"/><circle cx="71" cy="9.5" r="2.38"/><circle cx="18.2" cy="16.1" r="2.38"/><circle cx="37.3" cy="35.2" r="2.38"/><circle cx="62.4" cy="14.8" r="2.38"/><circle cx="34.8" cy="10.8" r="2.38"/><circle cx="36.7" cy="36.8" r="2.38"/><circle cx="53.9" cy="39.2" r="2.38"/><circle cx="50.8" cy="36.6" r="2.38"/><circle cx="12.6" cy="18.2" r="2.38"/><circle cx="68.8" cy="31.4" r="2.38"/><circle cx="26.3" cy="12.4" r="2.38"/><circle cx="60.4" cy="15.8" r="2.38"/><circle cx="32.6" cy="35.5" r="2.38"/><circle cx="68.1" cy="23.5" r="2.38"/><circle cx="46.9" cy="40.6" r="2.38"/><circle cx="51.5" cy="11.6" r="2.38"/><circle cx="36" cy="36.2" r="2.38"/><circle cx="53.9" cy="14.2" r="2.38"/><circle cx="65.9" cy="17.3" r="2.38"/><circle cx="68" cy="23.3" r="2.38"/><circle cx="31.4" cy="11.6" r="2.38"/><circle cx="23.7" cy="33.8" r="2.38"/><circle cx="53.7" cy="37.3" r="2.38"/><circle cx="57.5" cy="12.7" r="2.38"/><circle cx="66.9" cy="19.4" r="2.38"/><circle cx="64.6" cy="21.6" r="2.38"/><circle cx="33.1" cy="37.8" r="2.38"/><circle cx="71.7" cy="24.1" r="2.38"/><circle cx="27" cy="11.1" r="2.38"/><circle cx="36.2" cy="9.1" r="2.38"/><circle cx="43.2" cy="36.5" r="2.38"/><circle cx="14.9" cy="25" r="2.38"/><circle cx="64.3" cy="19.3" r="2.38"/><circle cx="56.7" cy="15.8" r="2.38"/><circle cx="31.3" cy="37.7" r="2.38"/><circle cx="56.2" cy="14.5" r="2.38"/><circle cx="14.6" cy="13.8" r="2.38"/><circle cx="29.9" cy="38.7" r="2.38"/><circle cx="53.7" cy="10.7" r="2.38"/><circle cx="64.7" cy="25" r="2.38"/><circle cx="30.5" cy="34.7" r="2.38"/><circle cx="43.5" cy="38.9" r="2.38"/><circle cx="47.5" cy="36.7" r="2.38"/><circle cx="66.5" cy="22.5" r="2.38"/><circle cx="29.8" cy="12.7" r="2.38"/><circle cx="51.3" cy="11.2" r="2.38"/><circle cx="59.8" cy="35" r="2.38"/><circle cx="36.9" cy="12.1" r="2.38"/><circle cx="14.8" cy="24" r="2.38"/><circle cx="69.9" cy="28" r="2.38"/><circle cx="62.5" cy="13.1" r="2.38"/><circle cx="39.5" cy="10.8" r="2.38"/><circle cx="63.4" cy="15.3" r="2.38"/><circle cx="60.1" cy="15.3" r="2.38"/><circle cx="54.3" cy="41.6" r="2.38"/><circle cx="42.5" cy="38.8" r="2.38"/><circle cx="18.6" cy="18.4" r="2.38"/><circle cx="64" cy="23.9" r="2.38"/><circle cx="42.8" cy="38.5" r="2.38"/><circle cx="73" cy="16.7" r="2.38"/><circle cx="35" cy="35.7" r="2.38"/><circle cx="69" cy="31.9" r="2.38"/><circle cx="14.7" cy="15" r="2.38"/><circle cx="39" cy="35.8" r="2.38"/><circle cx="47.4" cy="38.3" r="2.38"/><circle cx="47.1" cy="11.9" r="2.38"/><circle cx="74.9" cy="29" r="2.38"/><circle cx="16.5" cy="27.5" r="2.38"/><circle cx="54.5" cy="38.2" r="2.38"/><circle cx="21.2" cy="13.5" r="2.38"/><circle cx="24.2" cy="14.6" r="2.38"/><circle cx="42.3" cy="11.1" r="2.38"/><circle cx="59.3" cy="8.4" r="2.38"/><circle cx="71" cy="25.7" r="2.38"/><circle cx="19.9" cy="12.7" r="2.38"/><circle cx="52.2" cy="10.5" r="2.38"/><circle cx="17.5" cy="34.2" r="2.38"/><circle cx="66.4" cy="14.7" r="2.38"/><circle cx="24.9" cy="10.2" r="2.38"/><circle cx="11.5" cy="17.4" r="2.38"/><circle cx="31.6" cy="34.4" r="2.38"/><circle cx="10.7" cy="32.5" r="2.38"/><circle cx="50.2" cy="39.2" r="2.38"/><circle cx="67.3" cy="21.9" r="2.38"/><circle cx="45.4" cy="37" r="2.38"/><circle cx="38.7" cy="13.1" r="2.38"/><circle cx="50.7" cy="35.8" r="2.38"/><circle cx="66.4" cy="25.9" r="2.38"/><circle cx="27.8" cy="35.5" r="2.38"/><circle cx="21.8" cy="8.1" r="2.38"/><circle cx="58.5" cy="37.6" r="2.38"/><circle cx="33.7" cy="12.7" r="2.38"/><circle cx="69.1" cy="21.7" r="2.38"/><circle cx="56.8" cy="13.3" r="2.38"/><circle cx="32.6" cy="35.7" r="2.38"/><circle cx="63.9" cy="14.7" r="2.38"/><circle cx="48.5" cy="12.6" r="2.38"/><circle cx="61.2" cy="38.4" r="2.38"/><circle cx="62.9" cy="36.9" r="2.38"/><circle cx="25" cy="14.4" r="2.38"/><circle cx="48.8" cy="10.1" r="2.38"/><circle cx="10.8" cy="25.2" r="2.38"/><circle cx="49.7" cy="39.7" r="2.38"/><circle cx="30.9" cy="34.9" r="2.38"/><circle cx="43.2" cy="36.7" r="2.38"/><circle cx="38.9" cy="13" r="2.38"/><circle cx="69.3" cy="41.1" r="2.38"/><circle cx="13.3" cy="28.7" r="2.38"/><circle cx="26.8" cy="12.9" r="2.38"/><circle cx="49.3" cy="36.5" r="2.38"/><circle cx="15.7" cy="28" r="2.38"/><circle cx="42.4" cy="41.4" r="2.38"/><circle cx="10.3" cy="19.8" r="2.38"/><circle cx="63.7" cy="34.8" r="2.38"/><circle cx="16.4" cy="31.3" r="2.38"/><circle cx="69.7" cy="42.1" r="2.38"/><circle cx="65.7" cy="33.5" r="2.38"/><circle cx="38.8" cy="13.5" r="2.38"/><circle cx="22.6" cy="39" r="2.38"/><circle cx="58.7" cy="15.6" r="2.38"/><circle cx="20.5" cy="31.6" r="2.38"/><circle cx="43.6" cy="36.1" r="2.38"/><circle cx="69.4" cy="26" r="2.38"/><circle cx="21.2" cy="35.7" r="2.38"/><circle cx="52.3" cy="12.2" r="2.38"/><circle cx="21.9" cy="14.2" r="2.38"/><circle cx="12.4" cy="20.6" r="2.38"/><circle cx="37.2" cy="36.7" r="2.38"/><circle cx="71.3" cy="31.6" r="2.38"/><circle cx="58.2" cy="34.8" r="2.38"/><circle cx="41.2" cy="35.5" r="2.38"/><circle cx="44" cy="11.1" r="2.38"/><circle cx="11" cy="30" r="2.38"/><circle cx="58.2" cy="35.8" r="2.38"/><circle cx="74.2" cy="30.7" r="2.38"/><circle cx="64" cy="18.6" r="2.38"/><circle cx="13.1" cy="37.4" r="2.38"/><circle cx="59.7" cy="15.6" r="2.38"/><circle cx="36.9" cy="36.7" r="2.38"/><circle cx="46.6" cy="38.8" r="2.38"/><circle cx="60.5" cy="35.1" r="2.38"/><circle cx="57.9" cy="40" r="2.38"/><circle cx="65.1" cy="34.9" r="2.38"/><circle cx="52.8" cy="12.3" r="2.38"/><circle cx="26.5" cy="34.6" r="2.38"/><circle cx="43.6" cy="36.9" r="2.38"/><circle cx="30.9" cy="34.8" r="2.38"/><circle cx="19.9" cy="19.6" r="2.38"/><circle cx="64.2" cy="22.5" r="2.38"/><circle cx="56.4" cy="16.3" r="2.38"/><circle cx="66.4" cy="17.1" r="2.38"/><circle cx="60.6" cy="34.4" r="2.38"/><circle cx="48.8" cy="9.4" r="2.38"/><circle cx="18.6" cy="30.2" r="2.38"/><circle cx="64.8" cy="19.5" r="2.38"/><circle cx="62.2" cy="35.6" r="2.38"/><circle cx="23.7" cy="13.2" r="2.38"/><circle cx="42.2" cy="36.1" r="2.38"/><circle cx="19.1" cy="31.7" r="2.38"/><circle cx="67.3" cy="24.9" r="2.38"/><circle cx="43.6" cy="36.6" r="2.38"/><circle cx="56.9" cy="36.4" r="2.38"/><circle cx="19.4" cy="35.6" r="2.38"/><circle cx="12.1" cy="26.5" r="2.38"/><circle cx="66.2" cy="33.4" r="2.38"/><circle cx="49.3" cy="38.7" r="2.38"/><circle cx="30.7" cy="12.3" r="2.38"/><circle cx="37.4" cy="11.8" r="2.38"/><circle cx="11.3" cy="25.8" r="2.38"/><circle cx="53.3" cy="37.9" r="2.38"/><circle cx="24.3" cy="36.3" r="2.38"/><circle cx="67.8" cy="23.3" r="2.38"/><circle cx="37.1" cy="40.8" r="2.38"/><circle cx="28.1" cy="36.8" r="2.38"/><circle cx="17.9" cy="22.1" r="2.38"/><circle cx="39.1" cy="35.5" r="2.38"/><circle cx="64.3" cy="21.3" r="2.38"/><circle cx="22" cy="32" r="2.38"/><circle cx="40.8" cy="36.5" r="2.38"/><circle cx="34.6" cy="9.1" r="2.38"/><circle cx="19.6" cy="22.9" r="2.38"/><circle cx="36.9" cy="35.2" r="2.38"/><circle cx="30.4" cy="34.5" r="2.38"/><circle cx="44.3" cy="10.7" r="2.38"/><circle cx="68.4" cy="36.3" r="2.38"/><circle cx="13.8" cy="25.8" r="2.38"/><circle cx="17.5" cy="20.5" r="2.38"/><circle cx="29.3" cy="11.4" r="2.38"/><circle cx="10" cy="23.1" r="2.38"/><circle cx="48.1" cy="36.9" r="2.38"/><circle cx="19.4" cy="23" r="2.38"/><circle cx="71.7" cy="36.5" r="2.38"/><circle cx="46" cy="11.7" r="2.38"/><circle cx="25.7" cy="35.7" r="2.38"/><circle cx="58.1" cy="11.8" r="2.38"/><circle cx="15.5" cy="20.9" r="2.38"/><circle cx="70" cy="31.6" r="2.38"/><circle cx="36.7" cy="39.2" r="2.38"/><circle cx="71.2" cy="31.6" r="2.38"/><circle cx="67.2" cy="26.6" r="2.38"/><circle cx="14.5" cy="19.9" r="2.38"/><circle cx="16.7" cy="29.9" r="2.38"/><circle cx="62.8" cy="15.8" r="2.38"/><circle cx="18.9" cy="21.5" r="2.38"/><circle cx="40.9" cy="13.3" r="2.38"/><circle cx="56.3" cy="37.7" r="2.38"/><circle cx="69.4" cy="33.1" r="2.38"/><circle cx="29.3" cy="35.5" r="2.38"/><circle cx="37" cy="11.6" r="2.38"/><circle cx="18.2" cy="30.6" r="2.38"/><circle cx="66.3" cy="25.4" r="2.38"/><circle cx="13.2" cy="23.1" r="2.38"/><circle cx="53.8" cy="38.4" r="2.38"/><circle cx="48.1" cy="36" r="2.38"/><circle cx="50.5" cy="35.6" r="2.38"/><circle cx="15.5" cy="30.3" r="2.38"/><circle cx="41" cy="38.1" r="2.38"/><circle cx="39.7" cy="12.5" r="2.38"/><circle cx="60.3" cy="38.5" r="2.38"/><circle cx="50.7" cy="38" r="2.38"/><circle cx="69.5" cy="14.3" r="2.38"/><circle cx="12.8" cy="23.7" r="2.38"/><circle cx="20" cy="18.6" r="2.38"/><circle cx="22.5" cy="15" r="2.38"/><circle cx="49.2" cy="36.5" r="2.38"/><circle cx="32.9" cy="35" r="2.38"/><circle cx="50" cy="12.1" r="2.38"/><circle cx="32.5" cy="12.6" r="2.38"/><circle cx="54" cy="14.6" r="2.38"/><circle cx="58.4" cy="35.8" r="2.38"/><circle cx="68.6" cy="30.6" r="2.38"/><circle cx="38.5" cy="10" r="2.38"/><circle cx="37.3" cy="12.8" r="2.38"/><circle cx="63.7" cy="14.3" r="2.38"/><circle cx="50.4" cy="36.3" r="2.38"/><circle cx="66.3" cy="26.2" r="2.38"/><circle cx="40.9" cy="35.3" r="2.38"/><circle cx="69.6" cy="31.3" r="2.38"/><circle cx="73.7" cy="27.2" r="2.38"/><circle cx="23.1" cy="35.6" r="2.38"/><circle cx="33.5" cy="35" r="2.38"/><circle cx="58.8" cy="13.9" r="2.38"/><circle cx="22.3" cy="33.6" r="2.38"/><circle cx="46.9" cy="11.3" r="2.38"/><circle cx="73.9" cy="18.8" r="2.38"/><circle cx="63.8" cy="35.4" r="2.38"/><circle cx="69" cy="23.7" r="2.38"/><circle cx="60.9" cy="15.5" r="2.38"/><circle cx="57.5" cy="12.6" r="2.38"/><circle cx="36.8" cy="8.2" r="2.38"/><circle cx="68.7" cy="33.4" r="2.38"/><circle cx="29" cy="12.1" r="2.38"/><circle cx="58.2" cy="36" r="2.38"/><circle cx="30.1" cy="34.5" r="2.38"/><circle cx="31.3" cy="12.4" r="2.38"/><circle cx="71.6" cy="22.9" r="2.38"/><circle cx="43.9" cy="7.4" r="2.38"/><circle cx="22.5" cy="33.2" r="2.38"/><circle cx="40.2" cy="36.5" r="2.38"/><circle cx="51.6" cy="13.5" r="2.38"/><circle cx="33.3" cy="9.2" r="2.38"/><circle cx="46" cy="39" r="2.38"/><circle cx="72.4" cy="20.1" r="2.38"/><circle cx="65.5" cy="32.8" r="2.38"/><circle cx="51.7" cy="13.2" r="2.38"/><circle cx="48.7" cy="7.6" r="2.38"/><circle cx="70.5" cy="37.8" r="2.38"/><circle cx="19.4" cy="15.5" r="2.38"/><circle cx="68.8" cy="23.8" r="2.38"/><circle cx="30.5" cy="10.6" r="2.38"/><circle cx="74.2" cy="30.6" r="2.38"/><circle cx="67.7" cy="30.8" r="2.38"/><circle cx="47.7" cy="36.3" r="2.38"/><circle cx="39" cy="36.9" r="2.38"/><circle cx="48.5" cy="39.4" r="2.38"/><circle cx="21.8" cy="33.4" r="2.38"/><circle cx="53.3" cy="12.3" r="2.38"/><circle cx="74.2" cy="16.4" r="2.38"/><circle cx="58.8" cy="35.1" r="2.38"/><circle cx="57.2" cy="36.9" r="2.38"/><circle cx="43.5" cy="9.1" r="2.38"/><circle cx="14.7" cy="25" r="2.38"/><circle cx="50.4" cy="35.8" r="2.38"/><circle cx="74.8" cy="23.2" r="2.38"/><circle cx="16.8" cy="20.6" r="2.38"/><circle cx="62.2" cy="18.2" r="2.38"/><circle cx="61.7" cy="18.6" r="2.38"/><circle cx="17.4" cy="24.5" r="2.38"/><circle cx="70.6" cy="30.5" r="2.38"/><circle cx="67.9" cy="26.4" r="2.38"/><circle cx="65" cy="16.4" r="2.38"/><circle cx="28.1" cy="12.3" r="2.38"/><circle cx="64.3" cy="23.3" r="2.38"/><circle cx="56.7" cy="1.7" r="2.38"/><circle cx="59.8" cy="4.6" r="2.38"/><circle cx="62.9" cy="8.7" r="2.38"/><circle cx="73.6" cy="14" r="2.38"/><circle cx="76.7" cy="20.2" r="2.38"/><circle cx="80.4" cy="26.5" r="2.38"/><circle cx="74.8" cy="35.2" r="2.38"/><circle cx="74.2" cy="39" r="2.38"/><circle cx="68.6" cy="36.5" r="2.38"/><circle cx="61.7" cy="42.1" r="2.38"/><circle cx="43.6" cy="44" r="2.38"/><circle cx="31.7" cy="43.4" r="2.38"/><circle cx="17.3" cy="36.5" r="2.38"/><circle cx="12.3" cy="34.6" r="2.38"/><circle cx="8.6" cy="31.7" r="2.38"/><circle cx="2.9" cy="24.6" r="2.38"/><circle cx="5.4" cy="18.4" r="2.38"/><circle cx="7.9" cy="15.9" r="2.38"/><circle cx="9.8" cy="13.4" r="2.38"/><circle cx="20.4" cy="13" r="2.38"/><circle cx="41.1" cy="6.7" r="2.38"/></g></svg>
<svg x="532.54" y="259.01" width="82.43" height="46.21"><path class="k" d="M16.46 10.49h1M18.46 10.49h1M20.46 10.49h4M26.46 10.49h1M38.46 10.49h1M17.46 11.49h9M29.46 11.49h3M33.46 11.49h7M41.46 11.49h2M16.46 12.49h11M28.46 12.49h16M16.46 13.49h30M47.46 13.49h3M51.46 13.49h1M17.46 14.49h36M16.46 15.49h39M14.46 16.49h41M14.46 17.49h41M13.46 18.49h43M60.46 18.49h2M13.46 19.49h44M60.46 19.49h2M14.46 20.49h44M61.46 20.49h1M14.46 21.49h45M60.46 21.49h3M14.46 22.49h48M14.46 23.49h47M16.46 24.49h46M64.46 24.49h1M66.46 24.49h1M17.46 25.49h49M67.46 25.49h1M16.46 26.49h49M68.46 26.49h1M18.46 27.49h47M19.46 28.49h47M67.46 28.49h1M20.46 29.49h48M22.46 30.49h46M25.46 31.49h2M29.46 31.49h38M68.46 31.49h1M30.46 32.49h36M30.46 33.49h36M68.46 33.49h2M31.46 34.49h34M30.46 35.49h5M36.46 35.49h30M31.46 36.49h3M37.46 36.49h30M68.46 36.49h1M32.46 37.49h1M36.46 37.49h31M39.46 38.49h27M43.46 39.49h1M47.46 39.49h1M49.46 39.49h9M59.46 39.49h1M61.46 39.49h2M50.46 40.49h2M56.46 40.49h1"/><g class="p"><circle cx="48.8" cy="36.1" r="2.38"/><circle cx="64" cy="33.5" r="2.38"/><circle cx="53.1" cy="38.2" r="2.38"/><circle cx="61.3" cy="27.1" r="2.38"/><circle cx="54.3" cy="40.1" r="2.38"/><circle cx="47.6" cy="15.2" r="2.38"/><circle cx="28.3" cy="33.6" r="2.38"/><circle cx="45.8" cy="16.4" r="2.38"/><circle cx="64.2" cy="36" r="2.38"/><circle cx="19.1" cy="14.7" r="2.38"/><circle cx="22.3" cy="28.7" r="2.38"/><circle cx="38.5" cy="12.1" r="2.38"/><circle cx="33.2" cy="32.4" r="2.38"/><circle cx="41.3" cy="14.2" r="2.38"/><circle cx="31.3" cy="30.5" r="2.38"/><circle cx="46.9" cy="13.6" r="2.38"/><circle cx="33.8" cy="12.9" r="2.38"/><circle cx="19.7" cy="26" r="2.38"/><circle cx="29.7" cy="29.7" r="2.38"/><circle cx="67.4" cy="26.1" r="2.38"/><circle cx="69.7" cy="39.2" r="2.38"/><circle cx="24.7" cy="8.6" r="2.38"/><circle cx="61" cy="27.1" r="2.38"/><circle cx="21.3" cy="8.6" r="2.38"/><circle cx="29.5" cy="12.8" r="2.38"/><circle cx="38.7" cy="11.8" r="2.38"/><circle cx="34" cy="33.1" r="2.38"/><circle cx="36.8" cy="33" r="2.38"/><circle cx="13.8" cy="13.6" r="2.38"/><circle cx="29.4" cy="28.8" r="2.38"/><circle cx="60.3" cy="26.6" r="2.38"/><circle cx="45.2" cy="14.9" r="2.38"/><circle cx="52.9" cy="17.9" r="2.38"/><circle cx="59.9" cy="20.8" r="2.38"/><circle cx="39.3" cy="34.8" r="2.38"/><circle cx="24.4" cy="12.6" r="2.38"/><circle cx="12.5" cy="21" r="2.38"/><circle cx="33" cy="31.2" r="2.38"/><circle cx="19.7" cy="15.6" r="2.38"/><circle cx="28.2" cy="29" r="2.38"/><circle cx="30.3" cy="14.1" r="2.38"/><circle cx="32.3" cy="30.1" r="2.38"/><circle cx="36.4" cy="32.7" r="2.38"/><circle cx="33.1" cy="31.4" r="2.38"/><circle cx="42.3" cy="39.7" r="2.38"/><circle cx="65.2" cy="27.1" r="2.38"/><circle cx="22.4" cy="12.1" r="2.38"/><circle cx="37.7" cy="36.8" r="2.38"/><circle cx="65.4" cy="40.3" r="2.38"/><circle cx="60.4" cy="26" r="2.38"/><circle cx="16.9" cy="19.9" r="2.38"/><circle cx="57.8" cy="38.9" r="2.38"/><circle cx="17.3" cy="14.7" r="2.38"/><circle cx="20.2" cy="27.1" r="2.38"/><circle cx="41.2" cy="13.2" r="2.38"/><circle cx="52.7" cy="40.3" r="2.38"/><circle cx="67" cy="33.1" r="2.38"/><circle cx="50.3" cy="38.1" r="2.38"/><circle cx="35.6" cy="33.2" r="2.38"/><circle cx="47.4" cy="37" r="2.38"/><circle cx="32.7" cy="11.7" r="2.38"/><circle cx="29" cy="13.5" r="2.38"/><circle cx="70.9" cy="33.9" r="2.38"/><circle cx="40" cy="37" r="2.38"/><circle cx="58.9" cy="21.6" r="2.38"/><circle cx="64.9" cy="36.3" r="2.38"/><circle cx="49.9" cy="37.8" r="2.38"/><circle cx="23.7" cy="29.8" r="2.38"/><circle cx="31.9" cy="29.7" r="2.38"/><circle cx="51.9" cy="37.8" r="2.38"/><circle cx="53.3" cy="17" r="2.38"/><circle cx="27" cy="13.4" r="2.38"/><circle cx="63.5" cy="33.8" r="2.38"/><circle cx="17.6" cy="24.3" r="2.38"/><circle cx="31.6" cy="35" r="2.38"/><circle cx="47.7" cy="36.9" r="2.38"/><circle cx="38.3" cy="34.1" r="2.38"/><circle cx="19.6" cy="12.7" r="2.38"/><circle cx="32.8" cy="33.1" r="2.38"/><circle cx="29.4" cy="15" r="2.38"/><circle cx="36.6" cy="35.7" r="2.38"/><circle cx="71.7" cy="35.3" r="2.38"/><circle cx="18.9" cy="16.1" r="2.38"/><circle cx="35.4" cy="13.8" r="2.38"/><circle cx="33.1" cy="33.5" r="2.38"/><circle cx="43.1" cy="37.4" r="2.38"/><circle cx="27.4" cy="15.5" r="2.38"/><circle cx="26.5" cy="15.6" r="2.38"/><circle cx="35.5" cy="13.2" r="2.38"/><circle cx="42.4" cy="12.7" r="2.38"/><circle cx="30.6" cy="13.8" r="2.38"/><circle cx="60.7" cy="25.8" r="2.38"/><circle cx="33.4" cy="11.9" r="2.38"/><circle cx="28" cy="29.1" r="2.38"/><circle cx="62.7" cy="24.9" r="2.38"/><circle cx="46.2" cy="36.2" r="2.38"/><circle cx="53.9" cy="16.1" r="2.38"/><circle cx="29.7" cy="28.5" r="2.38"/><circle cx="16.3" cy="17.8" r="2.38"/><circle cx="53.9" cy="41" r="2.38"/><circle cx="42.8" cy="36.8" r="2.38"/><circle cx="29.6" cy="28.4" r="2.38"/><circle cx="26.3" cy="12" r="2.38"/><circle cx="65" cy="29.9" r="2.38"/><circle cx="32.2" cy="13.2" r="2.38"/><circle cx="63.5" cy="26.5" r="2.38"/><circle cx="39.1" cy="12.9" r="2.38"/><circle cx="65.8" cy="27.5" r="2.38"/><circle cx="23.2" cy="12.4" r="2.38"/><circle cx="49.5" cy="36.5" r="2.38"/><circle cx="61.1" cy="37.6" r="2.38"/><circle cx="36" cy="32.3" r="2.38"/><circle cx="20.5" cy="28" r="2.38"/><circle cx="18.9" cy="9.3" r="2.38"/><circle cx="41.9" cy="37.4" r="2.38"/><circle cx="63.3" cy="36.9" r="2.38"/><circle cx="66.9" cy="27.7" r="2.38"/><circle cx="24.2" cy="12.7" r="2.38"/><circle cx="19.4" cy="25.2" r="2.38"/><circle cx="55.6" cy="20.5" r="2.38"/><circle cx="36.5" cy="32.2" r="2.38"/><circle cx="25.6" cy="30.7" r="2.38"/><circle cx="61.3" cy="19.7" r="2.38"/><circle cx="59.3" cy="36.8" r="2.38"/><circle cx="59" cy="37.1" r="2.38"/><circle cx="45.3" cy="14.4" r="2.38"/><circle cx="48.1" cy="16.5" r="2.38"/><circle cx="53.8" cy="38.8" r="2.38"/><circle cx="42" cy="38.8" r="2.38"/><circle cx="33.6" cy="34.4" r="2.38"/><circle cx="38.8" cy="13.7" r="2.38"/><circle cx="38.5" cy="12.7" r="2.38"/><circle cx="64.1" cy="33.4" r="2.38"/><circle cx="49.5" cy="14" r="2.38"/><circle cx="71.3" cy="36.9" r="2.38"/><circle cx="60.6" cy="39" r="2.38"/><circle cx="14.6" cy="14.7" r="2.38"/><circle cx="30.5" cy="14.6" r="2.38"/><circle cx="27.3" cy="13.3" r="2.38"/><circle cx="51.7" cy="38.9" r="2.38"/><circle cx="44.8" cy="36.8" r="2.38"/><circle cx="52.1" cy="17.5" r="2.38"/><circle cx="34.9" cy="36.9" r="2.38"/><circle cx="51.2" cy="14.3" r="2.38"/><circle cx="64.4" cy="30" r="2.38"/><circle cx="31.2" cy="30.6" r="2.38"/><circle cx="43.8" cy="37.4" r="2.38"/><circle cx="27.8" cy="15.1" r="2.38"/><circle cx="53.7" cy="19.6" r="2.38"/><circle cx="17.6" cy="22.3" r="2.38"/><circle cx="15.8" cy="22.4" r="2.38"/><circle cx="13.9" cy="18.2" r="2.38"/><circle cx="32.4" cy="13.8" r="2.38"/><circle cx="67.4" cy="34" r="2.38"/><circle cx="25.1" cy="12.2" r="2.38"/><circle cx="29" cy="13.5" r="2.38"/><circle cx="63.4" cy="34.4" r="2.38"/><circle cx="48.9" cy="38.6" r="2.38"/><circle cx="6.7" cy="8.6" r="2.38"/><circle cx="29.5" cy="15.3" r="2.38"/><circle cx="38.4" cy="33.2" r="2.38"/><circle cx="46.8" cy="36.7" r="2.38"/><circle cx="30.2" cy="13.9" r="2.38"/><circle cx="25.3" cy="28.7" r="2.38"/><circle cx="28" cy="29.7" r="2.38"/><circle cx="59.7" cy="23.5" r="2.38"/><circle cx="35.3" cy="33.9" r="2.38"/><circle cx="32.1" cy="30" r="2.38"/><circle cx="36.1" cy="13.6" r="2.38"/><circle cx="15.8" cy="13" r="2.38"/><circle cx="64.6" cy="29.9" r="2.38"/><circle cx="51.9" cy="16.2" r="2.38"/><circle cx="17.8" cy="25.3" r="2.38"/><circle cx="18.9" cy="12.4" r="2.38"/><circle cx="64.5" cy="25" r="2.38"/><circle cx="23.2" cy="8.8" r="2.38"/><circle cx="28.8" cy="29.8" r="2.38"/><circle cx="44.5" cy="11" r="2.38"/><circle cx="33.1" cy="34.2" r="2.38"/><circle cx="42.9" cy="14.8" r="2.38"/><circle cx="30.3" cy="29.6" r="2.38"/><circle cx="22.5" cy="11.3" r="2.38"/><circle cx="33" cy="32.8" r="2.38"/><circle cx="52.8" cy="37.3" r="2.38"/><circle cx="23" cy="28.1" r="2.38"/><circle cx="30.5" cy="29.5" r="2.38"/><circle cx="61.1" cy="25.8" r="2.38"/><circle cx="55.4" cy="17.6" r="2.38"/><circle cx="67.4" cy="36.1" r="2.38"/><circle cx="37.1" cy="32.5" r="2.38"/><circle cx="18.6" cy="9.6" r="2.38"/><circle cx="31" cy="13.9" r="2.38"/><circle cx="29.3" cy="13.1" r="2.38"/><circle cx="58.7" cy="38.4" r="2.38"/><circle cx="31.3" cy="29.2" r="2.38"/><circle cx="29.8" cy="15.4" r="2.38"/><circle cx="32.3" cy="13.3" r="2.38"/><circle cx="53.5" cy="19.6" r="2.38"/><circle cx="59.4" cy="39.9" r="2.38"/><circle cx="25.6" cy="29.5" r="2.38"/><circle cx="45.5" cy="12" r="2.38"/><circle cx="60.8" cy="21.6" r="2.38"/><circle cx="70" cy="28.5" r="2.38"/><circle cx="25.4" cy="13.6" r="2.38"/><circle cx="47" cy="16.2" r="2.38"/><circle cx="64.9" cy="30.8" r="2.38"/><circle cx="30.9" cy="29.3" r="2.38"/><circle cx="55.5" cy="21.2" r="2.38"/><circle cx="64.5" cy="37.3" r="2.38"/><circle cx="44.6" cy="15.4" r="2.38"/><circle cx="35" cy="33.9" r="2.38"/><circle cx="30.5" cy="29.5" r="2.38"/><circle cx="47.3" cy="37.6" r="2.38"/><circle cx="44" cy="12.6" r="2.38"/><circle cx="65.8" cy="27.6" r="2.38"/><circle cx="32.5" cy="33.2" r="2.38"/><circle cx="61.4" cy="20.7" r="2.38"/><circle cx="46" cy="15.1" r="2.38"/><circle cx="40" cy="12.9" r="2.38"/><circle cx="16.7" cy="9.8" r="2.38"/><circle cx="58.9" cy="23.8" r="2.38"/><circle cx="32.3" cy="32.3" r="2.38"/><circle cx="41.1" cy="36.9" r="2.38"/><circle cx="47" cy="37.9" r="2.38"/><circle cx="38" cy="12.7" r="2.38"/><circle cx="42.6" cy="14.3" r="2.38"/><circle cx="67.1" cy="30.9" r="2.38"/><circle cx="63.9" cy="32" r="2.38"/><circle cx="32" cy="30.3" r="2.38"/><circle cx="46.8" cy="37.2" r="2.38"/><circle cx="64.5" cy="30.7" r="2.38"/><circle cx="39.4" cy="12.7" r="2.38"/><circle cx="66.7" cy="36.1" r="2.38"/><circle cx="63" cy="23.8" r="2.38"/><circle cx="62.8" cy="22.9" r="2.38"/><circle cx="27.6" cy="14.7" r="2.38"/><circle cx="29.6" cy="15.2" r="2.38"/><circle cx="39.2" cy="36.1" r="2.38"/><circle cx="17.4" cy="18.1" r="2.38"/><circle cx="63.3" cy="33.3" r="2.38"/><circle cx="32.8" cy="34.2" r="2.38"/><circle cx="17" cy="21" r="2.38"/><circle cx="50.1" cy="36.7" r="2.38"/><circle cx="32" cy="32.3" r="2.38"/><circle cx="46.4" cy="15.1" r="2.38"/><circle cx="38.6" cy="33.8" r="2.38"/><circle cx="48.6" cy="36.6" r="2.38"/><circle cx="40.4" cy="13.1" r="2.38"/><circle cx="59.6" cy="23.4" r="2.38"/><circle cx="63.8" cy="33.4" r="2.38"/><circle cx="30.1" cy="15" r="2.38"/><circle cx="63.9" cy="34.4" r="2.38"/><circle cx="16.9" cy="19.3" r="2.38"/><circle cx="16.9" cy="19.6" r="2.38"/><circle cx="17.4" cy="17.7" r="2.38"/><circle cx="65.1" cy="37.2" r="2.38"/><circle cx="18.7" cy="22.4" r="2.38"/><circle cx="65.6" cy="27.6" r="2.38"/><circle cx="44.2" cy="14.4" r="2.38"/><circle cx="37.1" cy="33.2" r="2.38"/><circle cx="50.2" cy="37.1" r="2.38"/><circle cx="64.9" cy="32.3" r="2.38"/><circle cx="41.7" cy="36.7" r="2.38"/><circle cx="59.4" cy="21.2" r="2.38"/><circle cx="11.9" cy="20.5" r="2.38"/><circle cx="30.2" cy="28.9" r="2.38"/><circle cx="49.9" cy="16.5" r="2.38"/><circle cx="33" cy="14.8" r="2.38"/><circle cx="17.5" cy="17.7" r="2.38"/><circle cx="52.7" cy="38.6" r="2.38"/><circle cx="66.7" cy="26.9" r="2.38"/><circle cx="66.3" cy="25.4" r="2.38"/><circle cx="63.8" cy="28.5" r="2.38"/><circle cx="57.8" cy="37.5" r="2.38"/><circle cx="35.4" cy="12.5" r="2.38"/><circle cx="19.7" cy="16.1" r="2.38"/><circle cx="38.8" cy="12.3" r="2.38"/><circle cx="29.5" cy="31.5" r="2.38"/><circle cx="63.5" cy="28.8" r="2.38"/><circle cx="37.8" cy="35.7" r="2.38"/><circle cx="51.4" cy="37.9" r="2.38"/><circle cx="59.3" cy="39.7" r="2.38"/><circle cx="73.2" cy="34.7" r="2.38"/><circle cx="17.1" cy="17.5" r="2.38"/><circle cx="29.5" cy="15" r="2.38"/><circle cx="50.9" cy="15.6" r="2.38"/><circle cx="32.2" cy="29.9" r="2.38"/><circle cx="56.3" cy="37.3" r="2.38"/><circle cx="30.4" cy="28.4" r="2.38"/><circle cx="26.8" cy="32.5" r="2.38"/><circle cx="38.4" cy="34.3" r="2.38"/><circle cx="3.2" cy="4.6" r="2.38"/><circle cx="15.5" cy="1.7" r="2.38"/><circle cx="7.6" cy="9.2" r="2.38"/><circle cx="4.5" cy="14.6" r="2.38"/><circle cx="8.2" cy="17.1" r="2.38"/><circle cx="15.5" cy="8" r="2.38"/><circle cx="12.6" cy="22.1" r="2.38"/><circle cx="14.5" cy="25.5" r="2.38"/><circle cx="17.6" cy="28.4" r="2.38"/><circle cx="24.5" cy="37.1" r="2.38"/><circle cx="30.1" cy="38.4" r="2.38"/><circle cx="35.1" cy="39.6" r="2.38"/><circle cx="50.5" cy="12.1" r="2.38"/><circle cx="58.5" cy="13.7" r="2.38"/><circle cx="62" cy="15.9" r="2.38"/><circle cx="67" cy="18" r="2.38"/><circle cx="72" cy="25.9" r="2.38"/><circle cx="72.6" cy="32.7" r="2.38"/><circle cx="79.5" cy="34.6" r="2.38"/><circle cx="75.1" cy="39.6" r="2.38"/><circle cx="70.1" cy="42.7" r="2.38"/><circle cx="65.1" cy="41.5" r="2.38"/><circle cx="58.2" cy="44" r="2.38"/></g></svg>
<svg x="57.02" y="317.89" width="82.43" height="46.21"><path class="k" d="M37.98 3.61h1M35.98 4.61h5M17.98 5.61h1M20.98 5.61h4M32.98 5.61h11M55.98 5.61h1M58.98 5.61h2M62.98 5.61h2M20.98 6.61h7M31.98 6.61h13M50.98 6.61h2M54.98 6.61h9M20.98 7.61h8M30.98 7.61h16M47.98 7.61h16M19.98 8.61h45M67.98 8.61h1M18.98 9.61h50M19.98 10.61h48M19.98 11.61h49M18.98 12.61h50M10.98 13.61h1M17.98 13.61h52M16.98 14.61h53M77.98 14.61h1M15.98 15.61h54M76.98 15.61h2M14.98 16.61h55M76.98 16.61h1M14.98 17.61h56M75.98 17.61h2M79.98 17.61h1M9.98 18.61h1M15.98 18.61h54M70.98 18.61h1M14.98 19.61h54M75.98 19.61h2M2.98 20.61h2M9.98 20.61h1M11.98 20.61h1M15.98 20.61h54M76.98 20.61h3M2.98 21.61h4M7.98 21.61h1M9.98 21.61h4M16.98 21.61h53M77.98 21.61h2M2.98 22.61h5M10.98 22.61h2M17.98 22.61h53M72.98 22.61h1M76.98 22.61h3M2.98 23.61h5M10.98 23.61h1M17.98 23.61h52M72.98 23.61h1M79.98 23.61h1M2.98 24.61h6M9.98 24.61h1M18.98 24.61h52M71.98 24.61h1M2.98 25.61h5M18.98 25.61h51M2.98 26.61h1M4.98 26.61h2M15.98 26.61h1M17.98 26.61h53M75.98 26.61h4M5.98 27.61h1M16.98 27.61h54M73.98 27.61h1M4.98 28.61h1M17.98 28.61h52M17.98 29.61h52M4.98 30.61h1M13.98 30.61h1M17.98 30.61h52M6.98 31.61h1M17.98 31.61h52M9.98 32.61h1M17.98 32.61h52M18.98 33.61h52M20.98 34.61h47M68.98 34.61h1M21.98 35.61h3M25.98 35.61h41M21.98 36.61h2M26.98 36.61h2M29.98 36.61h4M34.98 36.61h28M64.98 36.61h1M22.98 37.61h1M26.98 37.61h1M30.98 37.61h1M35.98 37.61h2M40.98 37.61h2M46.98 37.61h9M56.98 37.61h5M23.98 38.61h1M26.98 38.61h1M47.98 38.61h2M52.98 38.61h1M57.98 38.61h4M27.98 39.61h1M40.98 39.61h1M57.98 39.61h3"/><g class="p"><circle cx="66.8" cy="20.6" r="2.38"/><circle cx="53.5" cy="4.2" r="2.38"/><circle cx="68.4" cy="29.8" r="2.38"/><circle cx="66.3" cy="13" r="2.38"/><circle cx="48.6" cy="10.2" r="2.38"/><circle cx="39.8" cy="5.3" r="2.38"/><circle cx="33.5" cy="33.4" r="2.38"/><circle cx="34.5" cy="33.5" r="2.38"/><circle cx="44.4" cy="35.2" r="2.38"/><circle cx="25.1" cy="33.1" r="2.38"/><circle cx="67.5" cy="24.3" r="2.38"/><circle cx="68.6" cy="17.4" r="2.38"/><circle cx="53.8" cy="9" r="2.38"/><circle cx="62.7" cy="5.7" r="2.38"/><circle cx="34.6" cy="33.7" r="2.38"/><circle cx="35.9" cy="7.2" r="2.38"/><circle cx="67.5" cy="28.6" r="2.38"/><circle cx="64.6" cy="39.3" r="2.38"/><circle cx="34.6" cy="6.5" r="2.38"/><circle cx="20.4" cy="22.1" r="2.38"/><circle cx="42.1" cy="34.6" r="2.38"/><circle cx="27.8" cy="9.8" r="2.38"/><circle cx="30.6" cy="33.9" r="2.38"/><circle cx="67.4" cy="20.7" r="2.38"/><circle cx="68.6" cy="25.4" r="2.38"/><circle cx="20.5" cy="32.6" r="2.38"/><circle cx="61.2" cy="6.1" r="2.38"/><circle cx="65.8" cy="11.1" r="2.38"/><circle cx="63.9" cy="10.7" r="2.38"/><circle cx="64.7" cy="33.7" r="2.38"/><circle cx="52.5" cy="37.1" r="2.38"/><circle cx="29.4" cy="38" r="2.38"/><circle cx="20.9" cy="10.1" r="2.38"/><circle cx="21.6" cy="11.5" r="2.38"/><circle cx="20.9" cy="7.1" r="2.38"/><circle cx="38.8" cy="37.4" r="2.38"/><circle cx="45.4" cy="9.4" r="2.38"/><circle cx="56.4" cy="9.4" r="2.38"/><circle cx="19.5" cy="16.5" r="2.38"/><circle cx="39.9" cy="37.3" r="2.38"/><circle cx="21.4" cy="26.6" r="2.38"/><circle cx="56.1" cy="8.7" r="2.38"/><circle cx="22.4" cy="12.9" r="2.38"/><circle cx="24" cy="36.7" r="2.38"/><circle cx="22.2" cy="10.7" r="2.38"/><circle cx="23.1" cy="33.8" r="2.38"/><circle cx="63.2" cy="10.5" r="2.38"/><circle cx="67.8" cy="18" r="2.38"/><circle cx="67.1" cy="20.3" r="2.38"/><circle cx="19.6" cy="15.5" r="2.38"/><circle cx="25.3" cy="37" r="2.38"/><circle cx="27.8" cy="35.1" r="2.38"/><circle cx="24.3" cy="33.5" r="2.38"/><circle cx="67.6" cy="13.8" r="2.38"/><circle cx="32.1" cy="9.3" r="2.38"/><circle cx="23.6" cy="34.5" r="2.38"/><circle cx="59.9" cy="36.2" r="2.38"/><circle cx="29.9" cy="33.6" r="2.38"/><circle cx="19.4" cy="22.1" r="2.38"/><circle cx="63.2" cy="11.2" r="2.38"/><circle cx="22.3" cy="34" r="2.38"/><circle cx="34.1" cy="35.2" r="2.38"/><circle cx="62.4" cy="9.5" r="2.38"/><circle cx="67.5" cy="26.6" r="2.38"/><circle cx="68.2" cy="29.1" r="2.38"/><circle cx="21.1" cy="26.8" r="2.38"/><circle cx="67.2" cy="32.1" r="2.38"/><circle cx="49.5" cy="8.8" r="2.38"/><circle cx="56.4" cy="7.8" r="2.38"/><circle cx="20.7" cy="26.7" r="2.38"/><circle cx="66.9" cy="14.7" r="2.38"/><circle cx="64" cy="11.1" r="2.38"/><circle cx="54.6" cy="35.7" r="2.38"/><circle cx="19.3" cy="29.3" r="2.38"/><circle cx="54.8" cy="7.2" r="2.38"/><circle cx="56.6" cy="7" r="2.38"/><circle cx="40.3" cy="34.6" r="2.38"/><circle cx="42.8" cy="8.4" r="2.38"/><circle cx="34.6" cy="34.1" r="2.38"/><circle cx="51" cy="39.9" r="2.38"/><circle cx="25.6" cy="8.9" r="2.38"/><circle cx="54.9" cy="8.4" r="2.38"/><circle cx="64.1" cy="11.2" r="2.38"/><circle cx="64.4" cy="11.8" r="2.38"/><circle cx="20.1" cy="14.1" r="2.38"/><circle cx="32.9" cy="34" r="2.38"/><circle cx="53" cy="9.7" r="2.38"/><circle cx="39.3" cy="40" r="2.38"/><circle cx="67.5" cy="18" r="2.38"/><circle cx="67.6" cy="30.5" r="2.38"/><circle cx="44.7" cy="6.6" r="2.38"/><circle cx="20" cy="21.8" r="2.38"/><circle cx="20.7" cy="13.4" r="2.38"/><circle cx="21.8" cy="32" r="2.38"/><circle cx="61.2" cy="8.1" r="2.38"/><circle cx="63.4" cy="10.7" r="2.38"/><circle cx="64.4" cy="33.3" r="2.38"/><circle cx="68.2" cy="17.6" r="2.38"/><circle cx="67.5" cy="25" r="2.38"/><circle cx="20.1" cy="5.9" r="2.38"/><circle cx="20.1" cy="36.6" r="2.38"/><circle cx="35.8" cy="37.6" r="2.38"/><circle cx="61.2" cy="7.7" r="2.38"/><circle cx="67.1" cy="7.7" r="2.38"/><circle cx="29.6" cy="10.2" r="2.38"/><circle cx="25.1" cy="7.5" r="2.38"/><circle cx="25.1" cy="33.1" r="2.38"/><circle cx="47.4" cy="9.6" r="2.38"/><circle cx="67.6" cy="16.8" r="2.38"/><circle cx="68.9" cy="31.6" r="2.38"/><circle cx="26.7" cy="32.4" r="2.38"/><circle cx="32.4" cy="34.2" r="2.38"/><circle cx="38.5" cy="34.8" r="2.38"/><circle cx="39.7" cy="6.5" r="2.38"/><circle cx="18.1" cy="25.6" r="2.38"/><circle cx="22.6" cy="9" r="2.38"/><circle cx="68.6" cy="23.5" r="2.38"/><circle cx="33.5" cy="34" r="2.38"/><circle cx="66.7" cy="32.1" r="2.38"/><circle cx="62.8" cy="8.2" r="2.38"/><circle cx="63.3" cy="38.8" r="2.38"/><circle cx="67.3" cy="13.3" r="2.38"/><circle cx="21.3" cy="24.9" r="2.38"/><circle cx="20.2" cy="32.3" r="2.38"/><circle cx="35.8" cy="34.8" r="2.38"/><circle cx="41.5" cy="35.3" r="2.38"/><circle cx="20.6" cy="26.7" r="2.38"/><circle cx="25.5" cy="33.3" r="2.38"/><circle cx="68.7" cy="31.1" r="2.38"/><circle cx="62.9" cy="10.9" r="2.38"/><circle cx="66.9" cy="21.2" r="2.38"/><circle cx="30.5" cy="9.1" r="2.38"/><circle cx="20.7" cy="34.6" r="2.38"/><circle cx="67.4" cy="22.2" r="2.38"/><circle cx="57.6" cy="34.8" r="2.38"/><circle cx="21" cy="24.7" r="2.38"/><circle cx="31.2" cy="10.6" r="2.38"/><circle cx="29.4" cy="10.6" r="2.38"/><circle cx="19.3" cy="22.5" r="2.38"/><circle cx="21.2" cy="23.1" r="2.38"/><circle cx="32" cy="9.2" r="2.38"/><circle cx="27.4" cy="8" r="2.38"/><circle cx="67.7" cy="17.9" r="2.38"/><circle cx="46.7" cy="4.9" r="2.38"/><circle cx="51.8" cy="7.9" r="2.38"/><circle cx="22" cy="8.6" r="2.38"/><circle cx="63.8" cy="7.1" r="2.38"/><circle cx="19.3" cy="6.9" r="2.38"/><circle cx="50.3" cy="9.7" r="2.38"/><circle cx="38.5" cy="35.6" r="2.38"/><circle cx="21.1" cy="9.7" r="2.38"/><circle cx="66" cy="7.2" r="2.38"/><circle cx="67.4" cy="36.6" r="2.38"/><circle cx="60.1" cy="38.8" r="2.38"/><circle cx="53.5" cy="39.3" r="2.38"/><circle cx="62.9" cy="10" r="2.38"/><circle cx="59.4" cy="37.9" r="2.38"/><circle cx="44.9" cy="40.1" r="2.38"/><circle cx="21.7" cy="8.6" r="2.38"/><circle cx="49.6" cy="36.8" r="2.38"/><circle cx="20" cy="8.1" r="2.38"/><circle cx="67.8" cy="11.6" r="2.38"/><circle cx="20.4" cy="24" r="2.38"/><circle cx="57.1" cy="4.5" r="2.38"/><circle cx="67.3" cy="34.3" r="2.38"/><circle cx="50.7" cy="36.3" r="2.38"/><circle cx="61.1" cy="39.9" r="2.38"/><circle cx="25.8" cy="38.1" r="2.38"/><circle cx="49.9" cy="9.6" r="2.38"/><circle cx="66.3" cy="19.4" r="2.38"/><circle cx="26.7" cy="34.2" r="2.38"/><circle cx="66.6" cy="33.5" r="2.38"/><circle cx="41.5" cy="34.6" r="2.38"/><circle cx="68.9" cy="21.6" r="2.38"/><circle cx="25.9" cy="35.6" r="2.38"/><circle cx="23.6" cy="4.1" r="2.38"/><circle cx="64.5" cy="11.7" r="2.38"/><circle cx="68.4" cy="34.3" r="2.38"/><circle cx="36.8" cy="7.4" r="2.38"/><circle cx="68.7" cy="28.4" r="2.38"/><circle cx="62.9" cy="10.2" r="2.38"/><circle cx="50.9" cy="35.3" r="2.38"/><circle cx="67.5" cy="22.2" r="2.38"/><circle cx="51.6" cy="9" r="2.38"/><circle cx="66.8" cy="19" r="2.38"/><circle cx="35.8" cy="34" r="2.38"/><circle cx="20.4" cy="24.6" r="2.38"/><circle cx="21.3" cy="13.8" r="2.38"/><circle cx="57.6" cy="38.6" r="2.38"/><circle cx="27.9" cy="10.7" r="2.38"/><circle cx="68.5" cy="14.8" r="2.38"/><circle cx="67.4" cy="21.6" r="2.38"/><circle cx="33.4" cy="8.4" r="2.38"/><circle cx="67.4" cy="30.5" r="2.38"/><circle cx="49.9" cy="4.1" r="2.38"/><circle cx="18.7" cy="24.4" r="2.38"/><circle cx="68.5" cy="27.2" r="2.38"/><circle cx="38.6" cy="5.3" r="2.38"/><circle cx="67.7" cy="31.6" r="2.38"/><circle cx="28" cy="36.6" r="2.38"/><circle cx="21.8" cy="32.3" r="2.38"/><circle cx="29" cy="9.8" r="2.38"/><circle cx="19.9" cy="14.7" r="2.38"/><circle cx="44" cy="35.9" r="2.38"/><circle cx="24.4" cy="35.7" r="2.38"/><circle cx="48.8" cy="37.4" r="2.38"/><circle cx="56.2" cy="8.8" r="2.38"/><circle cx="21.5" cy="24.7" r="2.38"/><circle cx="26.5" cy="8.4" r="2.38"/><circle cx="33.1" cy="38.5" r="2.38"/><circle cx="21.4" cy="13.7" r="2.38"/><circle cx="43.4" cy="38.5" r="2.38"/><circle cx="47.6" cy="35.4" r="2.38"/><circle cx="57.7" cy="38.5" r="2.38"/><circle cx="20.6" cy="4.6" r="2.38"/><circle cx="62.3" cy="5.8" r="2.38"/><circle cx="28.3" cy="34.5" r="2.38"/><circle cx="67.7" cy="35.9" r="2.38"/><circle cx="52.1" cy="36.1" r="2.38"/><circle cx="59.1" cy="8" r="2.38"/><circle cx="46.4" cy="35.4" r="2.38"/><circle cx="67.2" cy="25.6" r="2.38"/><circle cx="67" cy="17.2" r="2.38"/><circle cx="29.2" cy="37.6" r="2.38"/><circle cx="67.7" cy="12.2" r="2.38"/><circle cx="39" cy="38.3" r="2.38"/><circle cx="59.9" cy="7.3" r="2.38"/><circle cx="21.4" cy="26.7" r="2.38"/><circle cx="22.2" cy="32.4" r="2.38"/><circle cx="68.8" cy="9.4" r="2.38"/><circle cx="48.2" cy="10.2" r="2.38"/><circle cx="19.2" cy="20.7" r="2.38"/><circle cx="27" cy="33.8" r="2.38"/><circle cx="33.4" cy="34" r="2.38"/><circle cx="36.2" cy="33.9" r="2.38"/><circle cx="40" cy="35.1" r="2.38"/><circle cx="67.5" cy="15.8" r="2.38"/><circle cx="30.6" cy="36.1" r="2.38"/><circle cx="56.7" cy="37.8" r="2.38"/><circle cx="28.1" cy="34.3" r="2.38"/><circle cx="67.1" cy="14.6" r="2.38"/><circle cx="37.2" cy="4.2" r="2.38"/><circle cx="20.7" cy="25.1" r="2.38"/><circle cx="29.6" cy="35.9" r="2.38"/><circle cx="65.1" cy="11.7" r="2.38"/><circle cx="30.4" cy="34.3" r="2.38"/><circle cx="66.7" cy="13" r="2.38"/><circle cx="21.5" cy="32" r="2.38"/><circle cx="21.4" cy="26.7" r="2.38"/><circle cx="67" cy="20.4" r="2.38"/><circle cx="29.7" cy="34.2" r="2.38"/><circle cx="37.5" cy="35.8" r="2.38"/><circle cx="55.7" cy="9.5" r="2.38"/><circle cx="20.2" cy="22.2" r="2.38"/><circle cx="30.7" cy="34.3" r="2.38"/><circle cx="18.8" cy="14.7" r="2.38"/><circle cx="66.6" cy="20.9" r="2.38"/><circle cx="57.8" cy="35.5" r="2.38"/><circle cx="67.3" cy="17.5" r="2.38"/><circle cx="60.1" cy="35.2" r="2.38"/><circle cx="44.3" cy="7.9" r="2.38"/><circle cx="66.2" cy="7.1" r="2.38"/><circle cx="42.9" cy="35.3" r="2.38"/><circle cx="20.6" cy="29.3" r="2.38"/><circle cx="31.1" cy="9.2" r="2.38"/><circle cx="50.8" cy="8.7" r="2.38"/><circle cx="49.2" cy="37.1" r="2.38"/><circle cx="39.7" cy="5.3" r="2.38"/><circle cx="20.4" cy="27.1" r="2.38"/><circle cx="22.7" cy="33.4" r="2.38"/><circle cx="44.3" cy="34.4" r="2.38"/><circle cx="26.8" cy="32.9" r="2.38"/><circle cx="30.5" cy="33.9" r="2.38"/><circle cx="45.7" cy="4.2" r="2.38"/><circle cx="20.8" cy="29.4" r="2.38"/><circle cx="65.7" cy="33.6" r="2.38"/><circle cx="67.3" cy="32.7" r="2.38"/><circle cx="41.5" cy="6.7" r="2.38"/><circle cx="58.2" cy="8.8" r="2.38"/><circle cx="67.3" cy="25.5" r="2.38"/><circle cx="67.4" cy="17.7" r="2.38"/><circle cx="31" cy="37.7" r="2.38"/><circle cx="28.8" cy="6.9" r="2.38"/><circle cx="20.8" cy="27.3" r="2.38"/><circle cx="51.1" cy="36.9" r="2.38"/><circle cx="34.3" cy="7.4" r="2.38"/><circle cx="22.5" cy="12.6" r="2.38"/><circle cx="66.3" cy="13.6" r="2.38"/><circle cx="68" cy="22.7" r="2.38"/><circle cx="43.5" cy="35.1" r="2.38"/><circle cx="28.6" cy="33.6" r="2.38"/><circle cx="20.9" cy="26.1" r="2.38"/><circle cx="66.8" cy="18.2" r="2.38"/><circle cx="23" cy="32.5" r="2.38"/><circle cx="62.5" cy="35.3" r="2.38"/><circle cx="25.8" cy="6.2" r="2.38"/><circle cx="67.7" cy="24.7" r="2.38"/><circle cx="29.8" cy="38.9" r="2.38"/><circle cx="3.9" cy="26.1" r="2.38"/><circle cx="4.1" cy="19.7" r="2.38"/><circle cx="4.1" cy="23.1" r="2.38"/><circle cx="4.6" cy="23.2" r="2.38"/><circle cx="5" cy="27" r="2.38"/><circle cx="5.4" cy="28.6" r="2.38"/><circle cx="4.1" cy="20.3" r="2.38"/><circle cx="4.9" cy="23" r="2.38"/><circle cx="4.4" cy="26" r="2.38"/><circle cx="5.4" cy="12.2" r="2.38"/><circle cx="5.1" cy="22.2" r="2.38"/><circle cx="4.3" cy="20.5" r="2.38"/><circle cx="4" cy="21.8" r="2.38"/><circle cx="4.8" cy="24.7" r="2.38"/><circle cx="4.5" cy="33.3" r="2.38"/><circle cx="5.7" cy="26.3" r="2.38"/><circle cx="9.5" cy="11.1" r="2.38"/><circle cx="9.9" cy="31.4" r="2.38"/><circle cx="5.4" cy="16.1" r="2.38"/><circle cx="9.7" cy="16.3" r="2.38"/><circle cx="10" cy="11.3" r="2.38"/><circle cx="14.3" cy="19.3" r="2.38"/><circle cx="16" cy="30.2" r="2.38"/><circle cx="19.8" cy="31" r="2.38"/><circle cx="20.2" cy="14.8" r="2.38"/><circle cx="9.4" cy="23.3" r="2.38"/><circle cx="11.3" cy="31.2" r="2.38"/><circle cx="15.2" cy="28.9" r="2.38"/><circle cx="18.4" cy="20.8" r="2.38"/><circle cx="9.1" cy="33.5" r="2.38"/><circle cx="19.2" cy="26.5" r="2.38"/><circle cx="6.6" cy="12.4" r="2.38"/><circle cx="9" cy="24.7" r="2.38"/><circle cx="12.5" cy="16.7" r="2.38"/><circle cx="16.8" cy="30.5" r="2.38"/><circle cx="15.7" cy="15.5" r="2.38"/><circle cx="7.9" cy="23.4" r="2.38"/><circle cx="10.2" cy="22.3" r="2.38"/><circle cx="19.7" cy="21.9" r="2.38"/><circle cx="13.8" cy="17.8" r="2.38"/><circle cx="16.8" cy="28.6" r="2.38"/><circle cx="13.9" cy="33.2" r="2.38"/><circle cx="12.7" cy="32.2" r="2.38"/><circle cx="14.7" cy="17.4" r="2.38"/><circle cx="9.4" cy="22.5" r="2.38"/><circle cx="12.9" cy="18.7" r="2.38"/><circle cx="13.1" cy="21.6" r="2.38"/><circle cx="11.1" cy="22.5" r="2.38"/><circle cx="9.8" cy="23.4" r="2.38"/><circle cx="78.5" cy="23.5" r="2.38"/><circle cx="78.3" cy="19.6" r="2.38"/><circle cx="78.8" cy="20.3" r="2.38"/><circle cx="79.3" cy="29" r="2.38"/><circle cx="79.3" cy="24.5" r="2.38"/><circle cx="79.5" cy="36.2" r="2.38"/><circle cx="78.4" cy="26.1" r="2.38"/><circle cx="79.6" cy="13.4" r="2.38"/><circle cx="78.8" cy="25.1" r="2.38"/><circle cx="77.8" cy="13.6" r="2.38"/><circle cx="78.3" cy="17" r="2.38"/><circle cx="78.6" cy="19.6" r="2.38"/><circle cx="78.8" cy="34.5" r="2.38"/><circle cx="79.2" cy="18.2" r="2.38"/><circle cx="79.5" cy="23.9" r="2.38"/><circle cx="79" cy="15.4" r="2.38"/><circle cx="67.8" cy="14.5" r="2.38"/><circle cx="71.5" cy="26.8" r="2.38"/><circle cx="70.4" cy="24.9" r="2.38"/><circle cx="72.4" cy="26.5" r="2.38"/><circle cx="72.2" cy="15.7" r="2.38"/><circle cx="70.1" cy="12.5" r="2.38"/><circle cx="67.4" cy="20.7" r="2.38"/><circle cx="74.4" cy="17.4" r="2.38"/><circle cx="72.2" cy="25" r="2.38"/><circle cx="77.3" cy="28.8" r="2.38"/><circle cx="77.4" cy="32" r="2.38"/><circle cx="76.2" cy="15.6" r="2.38"/><circle cx="69.3" cy="20.2" r="2.38"/><circle cx="68.8" cy="22" r="2.38"/><circle cx="68.7" cy="25.2" r="2.38"/><circle cx="72.1" cy="31.3" r="2.38"/><circle cx="77.6" cy="21.5" r="2.38"/><circle cx="71.3" cy="22.6" r="2.38"/><circle cx="68.2" cy="32.8" r="2.38"/><circle cx="72.5" cy="30" r="2.38"/><circle cx="72.1" cy="22.9" r="2.38"/><circle cx="68.8" cy="31.9" r="2.38"/><circle cx="70.4" cy="22.3" r="2.38"/><circle cx="67.6" cy="15.1" r="2.38"/><circle cx="76.5" cy="14.3" r="2.38"/><circle cx="77.6" cy="29.5" r="2.38"/><circle cx="67.5" cy="32.2" r="2.38"/><circle cx="76.8" cy="31.7" r="2.38"/><circle cx="68.1" cy="11" r="2.38"/><circle cx="77.9" cy="18.1" r="2.38"/><circle cx="71.2" cy="28.6" r="2.38"/><circle cx="76.5" cy="24.6" r="2.38"/><circle cx="52.3" cy="44.4" r="2.38"/><circle cx="42.9" cy="42.1" r="2.38"/><circle cx="29.6" cy="43.2" r="2.38"/><circle cx="36.3" cy="41.1" r="2.38"/><circle cx="67.5" cy="41.8" r="2.38"/><circle cx="76.8" cy="37.9" r="2.38"/><circle cx="73.1" cy="7.1" r="2.38"/><circle cx="64.1" cy="1.5" r="2.38"/><circle cx="56.3" cy="1.5" r="2.38"/><circle cx="38.5" cy="2.9" r="2.38"/><circle cx="21.8" cy="3.2" r="2.38"/><circle cx="49.6" cy="3.9" r="2.38"/><circle cx="11.7" cy="35.1" r="2.38"/><circle cx="6.2" cy="32.3" r="2.38"/><circle cx="5" cy="29.5" r="2.38"/><circle cx="4.6" cy="23.9" r="2.38"/><circle cx="5" cy="17.6" r="2.38"/><circle cx="10.6" cy="12" r="2.38"/><circle cx="16.2" cy="8.1" r="2.38"/></g></svg>
<svg x="152.13" y="317.89" width="82.43" height="46.21"><path class="k" d="M44.87 3.61h1M36.87 4.61h1M41.87 4.61h3M51.87 4.61h1M30.87 5.61h1M36.87 5.61h2M39.87 5.61h6M47.87 5.61h1M25.87 6.61h6M35.87 6.61h13M26.87 7.61h6M34.87 7.61h15M52.87 7.61h3M19.87 8.61h2M22.87 8.61h1M26.87 8.61h30M20.87 9.61h4M25.87 9.61h32M19.87 10.61h39M17.87 11.61h41M16.87 12.61h43M16.87 13.61h43M15.87 14.61h45M14.87 15.61h46M14.87 16.61h47M15.87 17.61h47M15.87 18.61h49M15.87 19.61h49M15.87 20.61h48M16.87 21.61h48M15.87 22.61h48M16.87 23.61h46M15.87 24.61h2M18.87 24.61h44M15.87 25.61h1M19.87 25.61h43M15.87 26.61h2M18.87 26.61h44M15.87 27.61h46M15.87 28.61h1M17.87 28.61h44M18.87 29.61h42M17.87 30.61h44M17.87 31.61h40M58.87 31.61h2M17.87 32.61h1M19.87 32.61h37M59.87 32.61h1M20.87 33.61h37M58.87 33.61h1M20.87 34.61h39M21.87 35.61h31M53.87 35.61h6M22.87 36.61h11M34.87 36.61h15M54.87 36.61h5M25.87 37.61h1M30.87 37.61h2M35.87 37.61h12M55.87 37.61h2M31.87 38.61h2M36.87 38.61h5M43.87 38.61h2M37.87 39.61h1"/><g class="p"><circle cx="45.8" cy="6" r="2.38"/><circle cx="18.6" cy="36.8" r="2.38"/><circle cx="32.8" cy="34.8" r="2.38"/><circle cx="21.4" cy="25.4" r="2.38"/><circle cx="58.4" cy="35.7" r="2.38"/><circle cx="40.4" cy="36.5" r="2.38"/><circle cx="17.9" cy="15" r="2.38"/><circle cx="24.2" cy="12.6" r="2.38"/><circle cx="50.6" cy="33.5" r="2.38"/><circle cx="36.8" cy="36.2" r="2.38"/><circle cx="36" cy="10.1" r="2.38"/><circle cx="35.4" cy="34.5" r="2.38"/><circle cx="57.8" cy="35.9" r="2.38"/><circle cx="37.3" cy="39.5" r="2.38"/><circle cx="21.4" cy="26.7" r="2.38"/><circle cx="52.1" cy="6.2" r="2.38"/><circle cx="52.1" cy="34.3" r="2.38"/><circle cx="22.3" cy="32" r="2.38"/><circle cx="62.6" cy="19.1" r="2.38"/><circle cx="17.1" cy="27" r="2.38"/><circle cx="27.2" cy="10.5" r="2.38"/><circle cx="35.4" cy="10.2" r="2.38"/><circle cx="21.9" cy="36.3" r="2.38"/><circle cx="31.3" cy="9.1" r="2.38"/><circle cx="33.3" cy="8" r="2.38"/><circle cx="62.5" cy="20.3" r="2.38"/><circle cx="20.8" cy="22.3" r="2.38"/><circle cx="18.6" cy="18.8" r="2.38"/><circle cx="18.9" cy="31.1" r="2.38"/><circle cx="29.1" cy="7.4" r="2.38"/><circle cx="62.7" cy="14.7" r="2.38"/><circle cx="30.5" cy="35.3" r="2.38"/><circle cx="48.9" cy="35" r="2.38"/><circle cx="38.9" cy="5.4" r="2.38"/><circle cx="47.5" cy="35" r="2.38"/><circle cx="17.4" cy="19.6" r="2.38"/><circle cx="25.8" cy="9" r="2.38"/><circle cx="45.6" cy="37.8" r="2.38"/><circle cx="58.1" cy="34.3" r="2.38"/><circle cx="33.9" cy="5.1" r="2.38"/><circle cx="17.7" cy="17.5" r="2.38"/><circle cx="40.1" cy="40.5" r="2.38"/><circle cx="26.2" cy="8.2" r="2.38"/><circle cx="61.9" cy="12.6" r="2.38"/><circle cx="37.3" cy="7.7" r="2.38"/><circle cx="63.5" cy="17.2" r="2.38"/><circle cx="22.6" cy="25.9" r="2.38"/><circle cx="20.4" cy="27.3" r="2.38"/><circle cx="43.4" cy="37.8" r="2.38"/><circle cx="65.7" cy="13.1" r="2.38"/><circle cx="41.3" cy="36.4" r="2.38"/><circle cx="33.9" cy="4.8" r="2.38"/><circle cx="36.7" cy="5.3" r="2.38"/><circle cx="49.2" cy="35" r="2.38"/><circle cx="37.7" cy="8" r="2.38"/><circle cx="21.2" cy="12.4" r="2.38"/><circle cx="22.6" cy="32.1" r="2.38"/><circle cx="23.1" cy="11.3" r="2.38"/><circle cx="28.9" cy="10.5" r="2.38"/><circle cx="18.1" cy="20.7" r="2.38"/><circle cx="18.5" cy="15" r="2.38"/><circle cx="55.5" cy="37.1" r="2.38"/><circle cx="21.3" cy="23.7" r="2.38"/><circle cx="30.6" cy="8.7" r="2.38"/><circle cx="24.8" cy="12.3" r="2.38"/><circle cx="28.6" cy="10.8" r="2.38"/><circle cx="56.1" cy="12.2" r="2.38"/><circle cx="31.6" cy="10.4" r="2.38"/><circle cx="19.2" cy="11.1" r="2.38"/><circle cx="59.9" cy="18.3" r="2.38"/><circle cx="40.7" cy="7.7" r="2.38"/><circle cx="61.2" cy="23.5" r="2.38"/><circle cx="25.3" cy="8.7" r="2.38"/><circle cx="22.2" cy="24.9" r="2.38"/><circle cx="20.2" cy="22.1" r="2.38"/><circle cx="48.1" cy="34.1" r="2.38"/><circle cx="59.4" cy="14.2" r="2.38"/><circle cx="52.2" cy="32.4" r="2.38"/><circle cx="49.8" cy="37.1" r="2.38"/><circle cx="59.9" cy="33.5" r="2.38"/><circle cx="52.5" cy="10.6" r="2.38"/><circle cx="22.4" cy="26.8" r="2.38"/><circle cx="53.3" cy="9.9" r="2.38"/><circle cx="64" cy="23.2" r="2.38"/><circle cx="28.6" cy="35.6" r="2.38"/><circle cx="20.2" cy="12.2" r="2.38"/><circle cx="33.8" cy="33.3" r="2.38"/><circle cx="45.8" cy="7.6" r="2.38"/><circle cx="17.3" cy="18.1" r="2.38"/><circle cx="31.3" cy="9.8" r="2.38"/><circle cx="17.4" cy="28.4" r="2.38"/><circle cx="23.1" cy="10.4" r="2.38"/><circle cx="41.7" cy="6.6" r="2.38"/><circle cx="29.7" cy="34.9" r="2.38"/><circle cx="51.7" cy="10.1" r="2.38"/><circle cx="25.6" cy="12.7" r="2.38"/><circle cx="44.7" cy="7.8" r="2.38"/><circle cx="34.3" cy="34.4" r="2.38"/><circle cx="18.6" cy="30.6" r="2.38"/><circle cx="41.2" cy="8" r="2.38"/><circle cx="39.4" cy="39.6" r="2.38"/><circle cx="26.4" cy="11.6" r="2.38"/><circle cx="35.3" cy="34" r="2.38"/><circle cx="40.7" cy="8.7" r="2.38"/><circle cx="29.6" cy="35.6" r="2.38"/><circle cx="44" cy="6.1" r="2.38"/><circle cx="38.5" cy="8.9" r="2.38"/><circle cx="19.7" cy="22.8" r="2.38"/><circle cx="26.3" cy="12.3" r="2.38"/><circle cx="20.3" cy="13.6" r="2.38"/><circle cx="58.5" cy="31.9" r="2.38"/><circle cx="47.9" cy="35.5" r="2.38"/><circle cx="19" cy="27" r="2.38"/><circle cx="58" cy="12.1" r="2.38"/><circle cx="57.2" cy="36.2" r="2.38"/><circle cx="47.6" cy="37.9" r="2.38"/><circle cx="31.3" cy="36.1" r="2.38"/><circle cx="24.5" cy="34" r="2.38"/><circle cx="22.4" cy="26.5" r="2.38"/><circle cx="22.9" cy="32.1" r="2.38"/><circle cx="35.6" cy="34.5" r="2.38"/><circle cx="52.2" cy="10.7" r="2.38"/><circle cx="50.7" cy="5" r="2.38"/><circle cx="56.8" cy="36.3" r="2.38"/><circle cx="52.2" cy="10.5" r="2.38"/><circle cx="19.6" cy="25.4" r="2.38"/><circle cx="64" cy="20.6" r="2.38"/><circle cx="54" cy="10.4" r="2.38"/><circle cx="59.8" cy="17.6" r="2.38"/><circle cx="55" cy="5.7" r="2.38"/><circle cx="59.8" cy="14" r="2.38"/><circle cx="16.9" cy="33.3" r="2.38"/><circle cx="18.9" cy="26.3" r="2.38"/><circle cx="46.6" cy="4.5" r="2.38"/><circle cx="19.5" cy="20.9" r="2.38"/><circle cx="35.4" cy="36.5" r="2.38"/><circle cx="51.5" cy="10.5" r="2.38"/><circle cx="17.6" cy="29.5" r="2.38"/><circle cx="48.5" cy="10.2" r="2.38"/><circle cx="13.9" cy="26.9" r="2.38"/><circle cx="59.2" cy="31.4" r="2.38"/><circle cx="18.9" cy="9.8" r="2.38"/><circle cx="60.2" cy="24.6" r="2.38"/><circle cx="46.6" cy="35.6" r="2.38"/><circle cx="53.3" cy="33.2" r="2.38"/><circle cx="26.6" cy="12.7" r="2.38"/><circle cx="44.4" cy="36.7" r="2.38"/><circle cx="15.4" cy="10.6" r="2.38"/><circle cx="53" cy="9.7" r="2.38"/><circle cx="57" cy="32.9" r="2.38"/><circle cx="60.1" cy="23.3" r="2.38"/><circle cx="22.6" cy="25.5" r="2.38"/><circle cx="25.7" cy="11.7" r="2.38"/><circle cx="20.4" cy="28.5" r="2.38"/><circle cx="18.8" cy="19.4" r="2.38"/><circle cx="61.6" cy="21.4" r="2.38"/><circle cx="56.5" cy="11" r="2.38"/><circle cx="50.5" cy="7.3" r="2.38"/><circle cx="17.8" cy="25.4" r="2.38"/><circle cx="62.6" cy="21.4" r="2.38"/><circle cx="22.5" cy="5.4" r="2.38"/><circle cx="52" cy="9.3" r="2.38"/><circle cx="44.8" cy="7.5" r="2.38"/><circle cx="28.5" cy="10.4" r="2.38"/><circle cx="20.4" cy="13.8" r="2.38"/><circle cx="55.7" cy="9.7" r="2.38"/><circle cx="54" cy="10.1" r="2.38"/><circle cx="48.1" cy="34.7" r="2.38"/><circle cx="21.8" cy="25.9" r="2.38"/><circle cx="22.2" cy="8.7" r="2.38"/><circle cx="45" cy="37" r="2.38"/><circle cx="36.2" cy="39.4" r="2.38"/><circle cx="33.6" cy="35.7" r="2.38"/><circle cx="16.3" cy="16.2" r="2.38"/><circle cx="28.5" cy="10.7" r="2.38"/><circle cx="24.5" cy="11.9" r="2.38"/><circle cx="20.9" cy="29.5" r="2.38"/><circle cx="30.5" cy="35" r="2.38"/><circle cx="22.3" cy="24.3" r="2.38"/><circle cx="47.7" cy="9.7" r="2.38"/><circle cx="34.3" cy="5.7" r="2.38"/><circle cx="43.9" cy="36" r="2.38"/><circle cx="22.1" cy="26" r="2.38"/><circle cx="60.4" cy="21.7" r="2.38"/><circle cx="43.7" cy="5.6" r="2.38"/><circle cx="60.9" cy="27.2" r="2.38"/><circle cx="35.1" cy="34.6" r="2.38"/><circle cx="28.8" cy="39.4" r="2.38"/><circle cx="14.6" cy="24.9" r="2.38"/><circle cx="51.2" cy="6.9" r="2.38"/><circle cx="18.8" cy="22.2" r="2.38"/><circle cx="32.5" cy="10.8" r="2.38"/><circle cx="59.5" cy="28.4" r="2.38"/><circle cx="56" cy="35" r="2.38"/><circle cx="42.1" cy="38" r="2.38"/><circle cx="22.6" cy="33.5" r="2.38"/><circle cx="56.5" cy="30.2" r="2.38"/><circle cx="58.1" cy="15.2" r="2.38"/><circle cx="64.6" cy="20.5" r="2.38"/><circle cx="33.8" cy="37.6" r="2.38"/><circle cx="16.7" cy="30.5" r="2.38"/><circle cx="35.4" cy="3.6" r="2.38"/><circle cx="29.5" cy="34.3" r="2.38"/><circle cx="64.5" cy="24.7" r="2.38"/><circle cx="17" cy="16.1" r="2.38"/><circle cx="25.9" cy="9" r="2.38"/><circle cx="32.8" cy="10.1" r="2.38"/><circle cx="48.8" cy="8.5" r="2.38"/><circle cx="17.9" cy="25.9" r="2.38"/><circle cx="38.2" cy="7.5" r="2.38"/><circle cx="41" cy="7.2" r="2.38"/><circle cx="61.6" cy="21.6" r="2.38"/><circle cx="60.7" cy="18.5" r="2.38"/><circle cx="47.1" cy="6.3" r="2.38"/><circle cx="36.1" cy="9.6" r="2.38"/><circle cx="61.3" cy="25.7" r="2.38"/><circle cx="14.9" cy="18.6" r="2.38"/><circle cx="59.2" cy="18.1" r="2.38"/><circle cx="56" cy="29.5" r="2.38"/><circle cx="37.3" cy="35.1" r="2.38"/><circle cx="42.2" cy="40.6" r="2.38"/><circle cx="18.7" cy="23.9" r="2.38"/><circle cx="20.1" cy="22.8" r="2.38"/><circle cx="23.6" cy="38.1" r="2.38"/><circle cx="20.3" cy="33" r="2.38"/><circle cx="25.1" cy="35.3" r="2.38"/><circle cx="40.2" cy="5.8" r="2.38"/><circle cx="64" cy="20.3" r="2.38"/><circle cx="57.8" cy="6.7" r="2.38"/><circle cx="49.8" cy="9.2" r="2.38"/><circle cx="42.8" cy="38.1" r="2.38"/><circle cx="23.6" cy="11.6" r="2.38"/><circle cx="45.7" cy="36.1" r="2.38"/><circle cx="35.1" cy="9.9" r="2.38"/><circle cx="30.2" cy="37.7" r="2.38"/><circle cx="59.8" cy="39.7" r="2.38"/><circle cx="45.9" cy="5.1" r="2.38"/><circle cx="23.3" cy="33.8" r="2.38"/><circle cx="51.6" cy="7.7" r="2.38"/><circle cx="31.7" cy="8.6" r="2.38"/><circle cx="29.4" cy="3.3" r="2.38"/><circle cx="22.3" cy="10.4" r="2.38"/><circle cx="35.4" cy="9.4" r="2.38"/><circle cx="13.9" cy="22.7" r="2.38"/><circle cx="46.6" cy="8" r="2.38"/><circle cx="21.6" cy="26.8" r="2.38"/><circle cx="16.1" cy="23.2" r="2.38"/><circle cx="59.6" cy="29.7" r="2.38"/><circle cx="42.9" cy="35.6" r="2.38"/><circle cx="21.5" cy="26.3" r="2.38"/><circle cx="22.2" cy="26.3" r="2.38"/><circle cx="57.9" cy="28.5" r="2.38"/><circle cx="62.3" cy="28.2" r="2.38"/><circle cx="50.4" cy="35.9" r="2.38"/><circle cx="15.5" cy="21.8" r="2.38"/><circle cx="18.5" cy="12.8" r="2.38"/><circle cx="22.9" cy="33.2" r="2.38"/><circle cx="48.8" cy="34.8" r="2.38"/><circle cx="59.8" cy="27" r="2.38"/><circle cx="23.8" cy="35.1" r="2.38"/><circle cx="54.9" cy="31.4" r="2.38"/><circle cx="35.5" cy="38" r="2.38"/><circle cx="34.7" cy="33.9" r="2.38"/><circle cx="38.9" cy="7.7" r="2.38"/><circle cx="39.7" cy="37.3" r="2.38"/><circle cx="20.9" cy="23.9" r="2.38"/><circle cx="28.4" cy="4.4" r="2.38"/><circle cx="53" cy="32.5" r="2.38"/><circle cx="26.9" cy="5.5" r="2.38"/><circle cx="55.3" cy="9.6" r="2.38"/><circle cx="52.8" cy="33.4" r="2.38"/><circle cx="78.9" cy="25.8" r="2.38"/><circle cx="67.7" cy="34.5" r="2.38"/><circle cx="69.9" cy="28.8" r="2.38"/><circle cx="58.3" cy="37.9" r="2.38"/><circle cx="49.4" cy="41.4" r="2.38"/><circle cx="40.5" cy="44.4" r="2.38"/><circle cx="29.4" cy="43.5" r="2.38"/><circle cx="29.8" cy="41.8" r="2.38"/><circle cx="14.9" cy="42.1" r="2.38"/><circle cx="17.1" cy="36.9" r="2.38"/><circle cx="7.1" cy="31" r="2.38"/><circle cx="13.7" cy="27" r="2.38"/><circle cx="8.2" cy="19" r="2.38"/><circle cx="3.7" cy="15.5" r="2.38"/><circle cx="9.3" cy="12.1" r="2.38"/><circle cx="18.2" cy="6.7" r="2.38"/><circle cx="29.4" cy="4.3" r="2.38"/><circle cx="47.2" cy="1.5" r="2.38"/><circle cx="39.4" cy="1.5" r="2.38"/><circle cx="60.6" cy="5" r="2.38"/><circle cx="63.9" cy="8.8" r="2.38"/><circle cx="65" cy="10.9" r="2.38"/><circle cx="69.5" cy="24.2" r="2.38"/><circle cx="67.3" cy="20.7" r="2.38"/></g></svg>
<svg x="247.23" y="317.89" width="82.43" height="46.21"><path class="k" d="M55.77 3.61h1M31.77 4.61h1M55.77 4.61h2M27.77 5.61h2M30.77 5.61h5M36.77 5.61h1M40.77 5.61h8M51.77 5.61h1M27.77 6.61h25M26.77 7.61h27M55.77 7.61h2M17.77 8.61h2M21.77 8.61h1M25.77 8.61h34M18.77 9.61h5M24.77 9.61h36M14.77 10.61h2M17.77 10.61h43M14.77 11.61h47M13.77 12.61h48M12.77 13.61h49M12.77 14.61h48M11.77 15.61h50M62.77 15.61h3M11.77 16.61h54M11.77 17.61h53M10.77 18.61h54M11.77 19.61h53M11.77 20.61h51M64.77 20.61h1M10.77 21.61h51M9.77 22.61h53M9.77 23.61h54M10.77 24.61h54M11.77 25.61h52M12.77 26.61h51M11.77 27.61h49M61.77 27.61h1M10.77 28.61h49M11.77 29.61h49M11.77 30.61h49M8.77 31.61h1M11.77 31.61h45M57.77 31.61h2M12.77 32.61h2M15.77 32.61h1M17.77 32.61h38M12.77 33.61h1M18.77 33.61h37M58.77 33.61h1M15.77 34.61h1M17.77 34.61h38M16.77 35.61h1M18.77 35.61h1M22.77 35.61h33M25.77 36.61h14M40.77 36.61h5M47.77 36.61h2M50.77 36.61h2M26.77 37.61h12M41.77 37.61h2M26.77 38.61h1M28.77 38.61h4M34.77 38.61h5M40.77 38.61h2M30.77 39.61h1M35.77 39.61h1M41.77 39.61h1"/><g class="p"><circle cx="42.1" cy="40.6" r="2.38"/><circle cx="21" cy="32.7" r="2.38"/><circle cx="15.7" cy="12.8" r="2.38"/><circle cx="25.9" cy="12.2" r="2.38"/><circle cx="47.5" cy="36.1" r="2.38"/><circle cx="62.8" cy="17.8" r="2.38"/><circle cx="62.7" cy="22.7" r="2.38"/><circle cx="42.3" cy="35" r="2.38"/><circle cx="10.6" cy="21.4" r="2.38"/><circle cx="13.1" cy="18.8" r="2.38"/><circle cx="58.4" cy="29.2" r="2.38"/><circle cx="28.4" cy="36.5" r="2.38"/><circle cx="13.9" cy="20.5" r="2.38"/><circle cx="57" cy="32.9" r="2.38"/><circle cx="51" cy="34.2" r="2.38"/><circle cx="45.6" cy="37.9" r="2.38"/><circle cx="50.3" cy="34.9" r="2.38"/><circle cx="61.8" cy="19.1" r="2.38"/><circle cx="23.2" cy="33.3" r="2.38"/><circle cx="46.3" cy="33.9" r="2.38"/><circle cx="63.2" cy="16" r="2.38"/><circle cx="25.3" cy="34.2" r="2.38"/><circle cx="34.2" cy="40" r="2.38"/><circle cx="29.8" cy="36.1" r="2.38"/><circle cx="57.2" cy="2.6" r="2.38"/><circle cx="27.8" cy="4" r="2.38"/><circle cx="28.3" cy="35.4" r="2.38"/><circle cx="56.1" cy="31.8" r="2.38"/><circle cx="43.6" cy="38.9" r="2.38"/><circle cx="18.1" cy="29.6" r="2.38"/><circle cx="21.1" cy="33.2" r="2.38"/><circle cx="24" cy="36.3" r="2.38"/><circle cx="48.2" cy="8" r="2.38"/><circle cx="34.7" cy="35.4" r="2.38"/><circle cx="33.9" cy="7.6" r="2.38"/><circle cx="29.4" cy="5.9" r="2.38"/><circle cx="13.9" cy="10.2" r="2.38"/><circle cx="59" cy="9.5" r="2.38"/><circle cx="39" cy="34.3" r="2.38"/><circle cx="18.6" cy="10" r="2.38"/><circle cx="30.9" cy="6.2" r="2.38"/><circle cx="20.3" cy="30.9" r="2.38"/><circle cx="12.6" cy="22.2" r="2.38"/><circle cx="61.9" cy="19.2" r="2.38"/><circle cx="60.8" cy="28.3" r="2.38"/><circle cx="49.2" cy="33.9" r="2.38"/><circle cx="58.9" cy="14.5" r="2.38"/><circle cx="17.3" cy="33.2" r="2.38"/><circle cx="43.1" cy="34.8" r="2.38"/><circle cx="39.5" cy="35.3" r="2.38"/><circle cx="61.4" cy="16.2" r="2.38"/><circle cx="57.4" cy="10.8" r="2.38"/><circle cx="34.2" cy="36.2" r="2.38"/><circle cx="55.5" cy="29.8" r="2.38"/><circle cx="12.3" cy="9.9" r="2.38"/><circle cx="46.2" cy="6.4" r="2.38"/><circle cx="36.6" cy="8.1" r="2.38"/><circle cx="18.4" cy="32" r="2.38"/><circle cx="42.1" cy="34.9" r="2.38"/><circle cx="21.3" cy="33.2" r="2.38"/><circle cx="29" cy="9.5" r="2.38"/><circle cx="58.6" cy="15" r="2.38"/><circle cx="38" cy="36.8" r="2.38"/><circle cx="39.3" cy="7.6" r="2.38"/><circle cx="52" cy="7.7" r="2.38"/><circle cx="25.8" cy="5" r="2.38"/><circle cx="25.5" cy="12.7" r="2.38"/><circle cx="35.6" cy="5.3" r="2.38"/><circle cx="61.2" cy="18.9" r="2.38"/><circle cx="40" cy="36.7" r="2.38"/><circle cx="39.9" cy="6" r="2.38"/><circle cx="19.4" cy="36.1" r="2.38"/><circle cx="54.8" cy="29.4" r="2.38"/><circle cx="47.1" cy="6.1" r="2.38"/><circle cx="13.3" cy="16.5" r="2.38"/><circle cx="27.1" cy="35.5" r="2.38"/><circle cx="58.3" cy="12.4" r="2.38"/><circle cx="19.3" cy="13" r="2.38"/><circle cx="42.9" cy="7.8" r="2.38"/><circle cx="11.7" cy="25" r="2.38"/><circle cx="40.1" cy="8.9" r="2.38"/><circle cx="54.7" cy="5.5" r="2.38"/><circle cx="18.4" cy="30.1" r="2.38"/><circle cx="47.5" cy="34.9" r="2.38"/><circle cx="58.6" cy="5.7" r="2.38"/><circle cx="59.9" cy="29" r="2.38"/><circle cx="10.9" cy="17.1" r="2.38"/><circle cx="65.4" cy="19.1" r="2.38"/><circle cx="13.6" cy="22.7" r="2.38"/><circle cx="14" cy="25.5" r="2.38"/><circle cx="52.4" cy="9.7" r="2.38"/><circle cx="23.3" cy="8.8" r="2.38"/><circle cx="14.3" cy="24.9" r="2.38"/><circle cx="55.9" cy="33.7" r="2.38"/><circle cx="58.4" cy="29.7" r="2.38"/><circle cx="15" cy="37.1" r="2.38"/><circle cx="54.2" cy="33.9" r="2.38"/><circle cx="58.2" cy="9.8" r="2.38"/><circle cx="60.4" cy="19.1" r="2.38"/><circle cx="38.2" cy="8.1" r="2.38"/><circle cx="36.7" cy="36.9" r="2.38"/><circle cx="51.3" cy="8.1" r="2.38"/><circle cx="27.1" cy="9.8" r="2.38"/><circle cx="28.6" cy="8" r="2.38"/><circle cx="18.9" cy="10.5" r="2.38"/><circle cx="18" cy="10" r="2.38"/><circle cx="20.7" cy="9.2" r="2.38"/><circle cx="13.6" cy="21.7" r="2.38"/><circle cx="58.8" cy="12.1" r="2.38"/><circle cx="14.9" cy="15.3" r="2.38"/><circle cx="19.2" cy="33.7" r="2.38"/><circle cx="61.7" cy="30" r="2.38"/><circle cx="17.7" cy="37" r="2.38"/><circle cx="33.8" cy="41.7" r="2.38"/><circle cx="66.8" cy="8.3" r="2.38"/><circle cx="51.8" cy="9" r="2.38"/><circle cx="20" cy="32" r="2.38"/><circle cx="13.5" cy="30.3" r="2.38"/><circle cx="11" cy="24.9" r="2.38"/><circle cx="35.9" cy="36" r="2.38"/><circle cx="58.7" cy="16.5" r="2.38"/><circle cx="61.7" cy="15.8" r="2.38"/><circle cx="19.7" cy="11.3" r="2.38"/><circle cx="41.7" cy="34.5" r="2.38"/><circle cx="23.7" cy="33.9" r="2.38"/><circle cx="55.9" cy="7.2" r="2.38"/><circle cx="59.7" cy="28.8" r="2.38"/><circle cx="24.5" cy="12.1" r="2.38"/><circle cx="61.1" cy="24.6" r="2.38"/><circle cx="34.2" cy="39.5" r="2.38"/><circle cx="26.7" cy="11.9" r="2.38"/><circle cx="20.4" cy="11.5" r="2.38"/><circle cx="50.8" cy="35" r="2.38"/><circle cx="15.5" cy="14.7" r="2.38"/><circle cx="9.3" cy="20.3" r="2.38"/><circle cx="40.7" cy="34.2" r="2.38"/><circle cx="33.3" cy="36.1" r="2.38"/><circle cx="58.8" cy="15" r="2.38"/><circle cx="60.6" cy="23.9" r="2.38"/><circle cx="24.1" cy="10.1" r="2.38"/><circle cx="62.3" cy="25.1" r="2.38"/><circle cx="11.5" cy="30.1" r="2.38"/><circle cx="33.6" cy="5.1" r="2.38"/><circle cx="9.8" cy="26.9" r="2.38"/><circle cx="60.1" cy="12.6" r="2.38"/><circle cx="27.8" cy="9.9" r="2.38"/><circle cx="13.4" cy="20.7" r="2.38"/><circle cx="31.2" cy="6.5" r="2.38"/><circle cx="55.2" cy="29.7" r="2.38"/><circle cx="63" cy="13.9" r="2.38"/><circle cx="23.4" cy="11.3" r="2.38"/><circle cx="65.4" cy="25" r="2.38"/><circle cx="41.5" cy="37.1" r="2.38"/><circle cx="18.7" cy="32.6" r="2.38"/><circle cx="48.7" cy="33.9" r="2.38"/><circle cx="43.5" cy="34.7" r="2.38"/><circle cx="38.6" cy="33.9" r="2.38"/><circle cx="11.3" cy="29.2" r="2.38"/><circle cx="15.6" cy="14.4" r="2.38"/><circle cx="23" cy="32.3" r="2.38"/><circle cx="51.1" cy="7.1" r="2.38"/><circle cx="47.2" cy="36.4" r="2.38"/><circle cx="14.4" cy="32.6" r="2.38"/><circle cx="11.7" cy="23.4" r="2.38"/><circle cx="49.2" cy="34.5" r="2.38"/><circle cx="55.8" cy="10.5" r="2.38"/><circle cx="22.9" cy="33.6" r="2.38"/><circle cx="29.3" cy="37.4" r="2.38"/><circle cx="15.5" cy="25.7" r="2.38"/><circle cx="18.7" cy="33.6" r="2.38"/><circle cx="23.8" cy="12.3" r="2.38"/><circle cx="58.8" cy="26" r="2.38"/><circle cx="60.9" cy="22.7" r="2.38"/><circle cx="20.8" cy="11" r="2.38"/><circle cx="66.1" cy="17.9" r="2.38"/><circle cx="55.7" cy="32.1" r="2.38"/><circle cx="20.9" cy="33.8" r="2.38"/><circle cx="47.9" cy="7.2" r="2.38"/><circle cx="14.1" cy="17.4" r="2.38"/><circle cx="14.7" cy="29.3" r="2.38"/><circle cx="56.1" cy="9.9" r="2.38"/><circle cx="47.1" cy="8.3" r="2.38"/><circle cx="59.8" cy="20" r="2.38"/><circle cx="46.3" cy="34" r="2.38"/><circle cx="63.5" cy="18.9" r="2.38"/><circle cx="51.2" cy="34.4" r="2.38"/><circle cx="47.6" cy="8.6" r="2.38"/><circle cx="54" cy="7.2" r="2.38"/><circle cx="50" cy="37" r="2.38"/><circle cx="60" cy="27.4" r="2.38"/><circle cx="27.2" cy="34.9" r="2.38"/><circle cx="32.2" cy="35.7" r="2.38"/><circle cx="24.5" cy="33.4" r="2.38"/><circle cx="40.5" cy="33.5" r="2.38"/><circle cx="62.8" cy="23.2" r="2.38"/><circle cx="27" cy="34.9" r="2.38"/><circle cx="53.4" cy="33.2" r="2.38"/><circle cx="31.2" cy="35.9" r="2.38"/><circle cx="29.7" cy="9.1" r="2.38"/><circle cx="61.2" cy="17.5" r="2.38"/><circle cx="32.9" cy="36.9" r="2.38"/><circle cx="28.9" cy="9.2" r="2.38"/><circle cx="16.7" cy="13" r="2.38"/><circle cx="20.8" cy="36" r="2.38"/><circle cx="61.2" cy="23.7" r="2.38"/><circle cx="27.8" cy="9.4" r="2.38"/><circle cx="60.6" cy="20.9" r="2.38"/><circle cx="20.4" cy="32.9" r="2.38"/><circle cx="53.5" cy="34.6" r="2.38"/><circle cx="43.6" cy="6.1" r="2.38"/><circle cx="48.9" cy="5.5" r="2.38"/><circle cx="21.5" cy="37.8" r="2.38"/><circle cx="25.7" cy="12.1" r="2.38"/><circle cx="16.6" cy="11" r="2.38"/><circle cx="26.6" cy="35.1" r="2.38"/><circle cx="18.2" cy="12.8" r="2.38"/><circle cx="27.7" cy="34.4" r="2.38"/><circle cx="42.8" cy="3.8" r="2.38"/><circle cx="57.7" cy="28" r="2.38"/><circle cx="20.1" cy="31.6" r="2.38"/><circle cx="50.2" cy="5.3" r="2.38"/><circle cx="11.4" cy="33.2" r="2.38"/><circle cx="37.6" cy="37.3" r="2.38"/><circle cx="42.6" cy="34.3" r="2.38"/><circle cx="43" cy="36.1" r="2.38"/><circle cx="58.2" cy="10.8" r="2.38"/><circle cx="15.1" cy="14.6" r="2.38"/><circle cx="37.1" cy="35.7" r="2.38"/><circle cx="19" cy="30.4" r="2.38"/><circle cx="52.3" cy="34" r="2.38"/><circle cx="9.1" cy="29.4" r="2.38"/><circle cx="41.4" cy="8.3" r="2.38"/><circle cx="31" cy="37.2" r="2.38"/><circle cx="27.3" cy="35.3" r="2.38"/><circle cx="61.2" cy="20.1" r="2.38"/><circle cx="26.8" cy="10.7" r="2.38"/><circle cx="16.1" cy="33.6" r="2.38"/><circle cx="40.5" cy="37" r="2.38"/><circle cx="43.3" cy="7" r="2.38"/><circle cx="23.8" cy="12.3" r="2.38"/><circle cx="26.6" cy="41.3" r="2.38"/><circle cx="15.6" cy="26.2" r="2.38"/><circle cx="24.3" cy="6.6" r="2.38"/><circle cx="62.6" cy="31" r="2.38"/><circle cx="13.7" cy="15.2" r="2.38"/><circle cx="36.6" cy="8.2" r="2.38"/><circle cx="30.2" cy="37.5" r="2.38"/><circle cx="47.9" cy="7.6" r="2.38"/><circle cx="35.3" cy="36.9" r="2.38"/><circle cx="54.8" cy="30.5" r="2.38"/><circle cx="39.7" cy="4.9" r="2.38"/><circle cx="34.7" cy="7" r="2.38"/><circle cx="14.4" cy="24.2" r="2.38"/><circle cx="34.8" cy="7.5" r="2.38"/><circle cx="24.9" cy="39.8" r="2.38"/><circle cx="22.4" cy="10.9" r="2.38"/><circle cx="47.7" cy="36.7" r="2.38"/><circle cx="59.7" cy="13.5" r="2.38"/><circle cx="26.4" cy="11" r="2.38"/><circle cx="38.4" cy="35.5" r="2.38"/><circle cx="19.6" cy="12.4" r="2.38"/><circle cx="32.5" cy="36" r="2.38"/><circle cx="13.9" cy="29.1" r="2.38"/><circle cx="33.5" cy="40.8" r="2.38"/><circle cx="13.4" cy="31.4" r="2.38"/><circle cx="37.4" cy="35.8" r="2.38"/><circle cx="14.9" cy="28.1" r="2.38"/><circle cx="22.8" cy="33" r="2.38"/><circle cx="14" cy="15.7" r="2.38"/><circle cx="63.2" cy="34.5" r="2.38"/><circle cx="64.1" cy="23.2" r="2.38"/><circle cx="57.2" cy="28" r="2.38"/><circle cx="32.4" cy="8.2" r="2.38"/><circle cx="21.3" cy="33" r="2.38"/><circle cx="71.5" cy="31.2" r="2.38"/><circle cx="70.4" cy="25.6" r="2.38"/><circle cx="73.3" cy="22.8" r="2.38"/><circle cx="74.9" cy="20" r="2.38"/><circle cx="79.3" cy="18.3" r="2.38"/><circle cx="67.1" cy="14.1" r="2.38"/><circle cx="60.8" cy="8.5" r="2.38"/><circle cx="55.9" cy="5" r="2.38"/><circle cx="39.2" cy="1.5" r="2.38"/><circle cx="18" cy="1.6" r="2.38"/><circle cx="30.3" cy="3.2" r="2.38"/><circle cx="9.1" cy="8.6" r="2.38"/><circle cx="4.2" cy="10.6" r="2.38"/><circle cx="8" cy="13.4" r="2.38"/><circle cx="3.5" cy="20.7" r="2.38"/><circle cx="5.7" cy="27" r="2.38"/><circle cx="4.6" cy="30.5" r="2.38"/><circle cx="11.3" cy="31.2" r="2.38"/><circle cx="6.8" cy="37.9" r="2.38"/><circle cx="13.5" cy="39" r="2.38"/><circle cx="22.5" cy="41.1" r="2.38"/><circle cx="28" cy="43.2" r="2.38"/><circle cx="34" cy="44.4" r="2.38"/><circle cx="42.5" cy="42.1" r="2.38"/><circle cx="36.9" cy="41.8" r="2.38"/><circle cx="54.1" cy="41.3" r="2.38"/><circle cx="53.7" cy="37.9" r="2.38"/><circle cx="61.5" cy="35.5" r="2.38"/><circle cx="48.1" cy="40.4" r="2.38"/><circle cx="29.1" cy="40" r="2.38"/></g></svg>
<svg x="342.34" y="317.89" width="82.43" height="46.21"><path class="k" d="M25.66 4.61h1M24.66 5.61h4M29.66 5.61h1M31.66 5.61h1M35.66 5.61h3M39.66 5.61h1M42.66 5.61h2M23.66 6.61h21M19.66 7.61h2M22.66 7.61h23M46.66 7.61h1M16.66 8.61h1M18.66 8.61h28M49.66 8.61h1M56.66 8.61h2M17.66 9.61h30M48.66 9.61h2M53.66 9.61h4M14.66 10.61h1M16.66 10.61h35M52.66 10.61h6M14.66 11.61h45M13.66 12.61h48M12.66 13.61h49M12.66 14.61h50M63.66 14.61h1M12.66 15.61h52M11.66 16.61h54M10.66 17.61h55M9.66 18.61h55M10.66 19.61h55M10.66 20.61h55M11.66 21.61h53M10.66 22.61h54M11.66 23.61h54M13.66 24.61h52M66.66 24.61h1M14.66 25.61h50M14.66 26.61h49M15.66 27.61h49M16.66 28.61h50M15.66 29.61h1M17.66 29.61h45M63.66 29.61h2M14.66 30.61h1M18.66 30.61h43M14.66 31.61h2M17.66 31.61h45M15.66 32.61h2M18.66 32.61h43M15.66 33.61h1M19.66 33.61h38M59.66 33.61h2M16.66 34.61h1M18.66 34.61h38M60.66 34.61h1M17.66 35.61h4M23.66 35.61h33M59.66 35.61h1M17.66 36.61h3M24.66 36.61h31M59.66 36.61h1M24.66 37.61h11M37.66 37.61h3M41.66 37.61h8M52.66 37.61h2M23.66 38.61h1M26.66 38.61h3M31.66 38.61h3M38.66 38.61h1M42.66 38.61h4M47.66 38.61h1M22.66 39.61h1M32.66 39.61h2M43.66 39.61h1M33.66 40.61h1M47.66 40.61h1"/><g class="p"><circle cx="22.3" cy="37" r="2.38"/><circle cx="16.6" cy="9.8" r="2.38"/><circle cx="40.4" cy="35.8" r="2.38"/><circle cx="25.9" cy="33.9" r="2.38"/><circle cx="54.4" cy="37.6" r="2.38"/><circle cx="62.8" cy="15" r="2.38"/><circle cx="16.5" cy="30.7" r="2.38"/><circle cx="9.1" cy="21.1" r="2.38"/><circle cx="43.9" cy="8.5" r="2.38"/><circle cx="65.4" cy="6.4" r="2.38"/><circle cx="53.7" cy="36" r="2.38"/><circle cx="56" cy="11.2" r="2.38"/><circle cx="63.2" cy="26.7" r="2.38"/><circle cx="16.8" cy="25.6" r="2.38"/><circle cx="12.5" cy="16" r="2.38"/><circle cx="50" cy="39.1" r="2.38"/><circle cx="26.4" cy="7.6" r="2.38"/><circle cx="60.3" cy="31.5" r="2.38"/><circle cx="54.3" cy="12.3" r="2.38"/><circle cx="29.9" cy="8.7" r="2.38"/><circle cx="19.1" cy="27.9" r="2.38"/><circle cx="40.4" cy="8" r="2.38"/><circle cx="10" cy="19.9" r="2.38"/><circle cx="38.2" cy="35.3" r="2.38"/><circle cx="61.8" cy="17.3" r="2.38"/><circle cx="22.9" cy="10.1" r="2.38"/><circle cx="17.8" cy="26" r="2.38"/><circle cx="51.6" cy="9.2" r="2.38"/><circle cx="40.8" cy="8.1" r="2.38"/><circle cx="61.7" cy="28.6" r="2.38"/><circle cx="22.1" cy="32.9" r="2.38"/><circle cx="59.7" cy="14" r="2.38"/><circle cx="47.8" cy="8.7" r="2.38"/><circle cx="43.9" cy="10" r="2.38"/><circle cx="15" cy="27.7" r="2.38"/><circle cx="39.4" cy="6" r="2.38"/><circle cx="62.6" cy="31.1" r="2.38"/><circle cx="66.1" cy="25.9" r="2.38"/><circle cx="37.8" cy="37.8" r="2.38"/><circle cx="48" cy="10.2" r="2.38"/><circle cx="15.2" cy="28.6" r="2.38"/><circle cx="36.8" cy="35.8" r="2.38"/><circle cx="57.8" cy="38" r="2.38"/><circle cx="13.3" cy="29.4" r="2.38"/><circle cx="63.3" cy="16.1" r="2.38"/><circle cx="20.5" cy="29.1" r="2.38"/><circle cx="13.1" cy="21.8" r="2.38"/><circle cx="42.2" cy="8.9" r="2.38"/><circle cx="59.7" cy="29.5" r="2.38"/><circle cx="24.2" cy="10.3" r="2.38"/><circle cx="62.5" cy="17.5" r="2.38"/><circle cx="39.5" cy="37.9" r="2.38"/><circle cx="32.5" cy="7.1" r="2.38"/><circle cx="59" cy="11.2" r="2.38"/><circle cx="63.1" cy="24.1" r="2.38"/><circle cx="55.2" cy="10.7" r="2.38"/><circle cx="8.2" cy="15.8" r="2.38"/><circle cx="41.6" cy="34.4" r="2.38"/><circle cx="13.2" cy="22.4" r="2.38"/><circle cx="49.7" cy="35.8" r="2.38"/><circle cx="13.7" cy="22.2" r="2.38"/><circle cx="52.6" cy="5.3" r="2.38"/><circle cx="18.7" cy="26.6" r="2.38"/><circle cx="25.5" cy="7.5" r="2.38"/><circle cx="55.7" cy="37.9" r="2.38"/><circle cx="50.9" cy="13.5" r="2.38"/><circle cx="30.6" cy="4.2" r="2.38"/><circle cx="33.3" cy="36.9" r="2.38"/><circle cx="14.3" cy="15.7" r="2.38"/><circle cx="58.4" cy="34.3" r="2.38"/><circle cx="56.4" cy="32.6" r="2.38"/><circle cx="62.6" cy="22.5" r="2.38"/><circle cx="67.5" cy="13" r="2.38"/><circle cx="36.7" cy="6.4" r="2.38"/><circle cx="59.8" cy="35.1" r="2.38"/><circle cx="63.7" cy="17" r="2.38"/><circle cx="21.4" cy="36.4" r="2.38"/><circle cx="56.2" cy="9" r="2.38"/><circle cx="64.2" cy="32.3" r="2.38"/><circle cx="51.4" cy="39.8" r="2.38"/><circle cx="39.8" cy="34.5" r="2.38"/><circle cx="24.4" cy="40.2" r="2.38"/><circle cx="47.2" cy="12.1" r="2.38"/><circle cx="12.6" cy="18.1" r="2.38"/><circle cx="43.4" cy="8.5" r="2.38"/><circle cx="32.7" cy="8.4" r="2.38"/><circle cx="19.1" cy="30.6" r="2.38"/><circle cx="67.9" cy="34" r="2.38"/><circle cx="15.4" cy="13.4" r="2.38"/><circle cx="43.6" cy="7.4" r="2.38"/><circle cx="58.7" cy="14.4" r="2.38"/><circle cx="18.8" cy="27.9" r="2.38"/><circle cx="56.2" cy="10.4" r="2.38"/><circle cx="13.9" cy="11.9" r="2.38"/><circle cx="16.6" cy="10.9" r="2.38"/><circle cx="56.7" cy="32.2" r="2.38"/><circle cx="64.4" cy="18.9" r="2.38"/><circle cx="37.5" cy="40.2" r="2.38"/><circle cx="11.7" cy="18.3" r="2.38"/><circle cx="20.1" cy="28.9" r="2.38"/><circle cx="9" cy="7.4" r="2.38"/><circle cx="31.3" cy="38.8" r="2.38"/><circle cx="59.5" cy="31.2" r="2.38"/><circle cx="48.1" cy="12" r="2.38"/><circle cx="32.4" cy="37.4" r="2.38"/><circle cx="8.6" cy="22.4" r="2.38"/><circle cx="47.1" cy="40.4" r="2.38"/><circle cx="20.4" cy="10.5" r="2.38"/><circle cx="26.6" cy="37" r="2.38"/><circle cx="7.4" cy="7.1" r="2.38"/><circle cx="22.7" cy="9.4" r="2.38"/><circle cx="59.5" cy="29.8" r="2.38"/><circle cx="39.3" cy="34.7" r="2.38"/><circle cx="12.9" cy="33.5" r="2.38"/><circle cx="33.1" cy="8.8" r="2.38"/><circle cx="26" cy="34.7" r="2.38"/><circle cx="36.1" cy="7.3" r="2.38"/><circle cx="18.7" cy="34.3" r="2.38"/><circle cx="60.7" cy="16.9" r="2.38"/><circle cx="57.1" cy="34" r="2.38"/><circle cx="34.7" cy="35.2" r="2.38"/><circle cx="46.5" cy="12.2" r="2.38"/><circle cx="45.7" cy="39.3" r="2.38"/><circle cx="22.3" cy="10.5" r="2.38"/><circle cx="17" cy="25.4" r="2.38"/><circle cx="26" cy="6.3" r="2.38"/><circle cx="62.6" cy="21.5" r="2.38"/><circle cx="29" cy="40" r="2.38"/><circle cx="27.7" cy="4.6" r="2.38"/><circle cx="49.2" cy="10.3" r="2.38"/><circle cx="15.6" cy="38.8" r="2.38"/><circle cx="54.7" cy="12.7" r="2.38"/><circle cx="31.5" cy="36" r="2.38"/><circle cx="17" cy="25.5" r="2.38"/><circle cx="13.2" cy="20.1" r="2.38"/><circle cx="11" cy="13.7" r="2.38"/><circle cx="20.2" cy="9.7" r="2.38"/><circle cx="60.5" cy="16.6" r="2.38"/><circle cx="20.8" cy="31.3" r="2.38"/><circle cx="50" cy="34.3" r="2.38"/><circle cx="20.3" cy="28.9" r="2.38"/><circle cx="51.9" cy="9" r="2.38"/><circle cx="65.6" cy="18.9" r="2.38"/><circle cx="28.6" cy="35.8" r="2.38"/><circle cx="47.6" cy="9.9" r="2.38"/><circle cx="18.9" cy="11.4" r="2.38"/><circle cx="58.9" cy="32.9" r="2.38"/><circle cx="25.9" cy="35.5" r="2.38"/><circle cx="38.1" cy="8.5" r="2.38"/><circle cx="18.8" cy="35.3" r="2.38"/><circle cx="32" cy="7.4" r="2.38"/><circle cx="35.1" cy="39.4" r="2.38"/><circle cx="45.8" cy="11.7" r="2.38"/><circle cx="50.8" cy="34.8" r="2.38"/><circle cx="22.9" cy="9.1" r="2.38"/><circle cx="13.4" cy="18.6" r="2.38"/><circle cx="60.5" cy="29" r="2.38"/><circle cx="61.3" cy="25.2" r="2.38"/><circle cx="32.3" cy="36.3" r="2.38"/><circle cx="36.4" cy="39.9" r="2.38"/><circle cx="14.8" cy="16.3" r="2.38"/><circle cx="17.7" cy="32.6" r="2.38"/><circle cx="40.8" cy="8.2" r="2.38"/><circle cx="9.7" cy="25.4" r="2.38"/><circle cx="16.8" cy="30.5" r="2.38"/><circle cx="45.9" cy="12" r="2.38"/><circle cx="43" cy="36.2" r="2.38"/><circle cx="37.2" cy="35" r="2.38"/><circle cx="44.4" cy="10.2" r="2.38"/><circle cx="25.4" cy="33.9" r="2.38"/><circle cx="66.2" cy="26.8" r="2.38"/><circle cx="41.6" cy="35.2" r="2.38"/><circle cx="23.1" cy="32.8" r="2.38"/><circle cx="20.8" cy="29.2" r="2.38"/><circle cx="63.3" cy="21.4" r="2.38"/><circle cx="17.6" cy="7.9" r="2.38"/><circle cx="36.4" cy="38.5" r="2.38"/><circle cx="45.8" cy="36.4" r="2.38"/><circle cx="62.2" cy="29.8" r="2.38"/><circle cx="51.5" cy="13" r="2.38"/><circle cx="41.3" cy="40.6" r="2.38"/><circle cx="41.4" cy="35.3" r="2.38"/><circle cx="17.3" cy="6" r="2.38"/><circle cx="18.8" cy="31.8" r="2.38"/><circle cx="61.4" cy="13.6" r="2.38"/><circle cx="45.2" cy="37.5" r="2.38"/><circle cx="26.1" cy="7" r="2.38"/><circle cx="12.5" cy="25.6" r="2.38"/><circle cx="26" cy="6.3" r="2.38"/><circle cx="22.8" cy="10.5" r="2.38"/><circle cx="34.9" cy="8.6" r="2.38"/><circle cx="46.9" cy="38.1" r="2.38"/><circle cx="29.2" cy="36.8" r="2.38"/><circle cx="40" cy="35.2" r="2.38"/><circle cx="49.5" cy="34.4" r="2.38"/><circle cx="54.3" cy="11" r="2.38"/><circle cx="15.2" cy="14.7" r="2.38"/><circle cx="23.3" cy="7.3" r="2.38"/><circle cx="19" cy="29.8" r="2.38"/><circle cx="61.7" cy="25.5" r="2.38"/><circle cx="27.9" cy="36" r="2.38"/><circle cx="41.2" cy="38.8" r="2.38"/><circle cx="13.9" cy="16" r="2.38"/><circle cx="28.3" cy="37.5" r="2.38"/><circle cx="46.5" cy="11.9" r="2.38"/><circle cx="14.5" cy="23.2" r="2.38"/><circle cx="13.7" cy="12.4" r="2.38"/><circle cx="14.7" cy="17.8" r="2.38"/><circle cx="56.9" cy="7.2" r="2.38"/><circle cx="40.2" cy="39" r="2.38"/><circle cx="49.3" cy="35" r="2.38"/><circle cx="55.7" cy="33.6" r="2.38"/><circle cx="20.1" cy="27.8" r="2.38"/><circle cx="60" cy="28" r="2.38"/><circle cx="32.2" cy="7.8" r="2.38"/><circle cx="27.8" cy="7.8" r="2.38"/><circle cx="64.6" cy="24.6" r="2.38"/><circle cx="56.8" cy="10.5" r="2.38"/><circle cx="26.7" cy="7.2" r="2.38"/><circle cx="33.9" cy="4.9" r="2.38"/><circle cx="18.9" cy="33.3" r="2.38"/><circle cx="57.5" cy="13.2" r="2.38"/><circle cx="22.5" cy="33.7" r="2.38"/><circle cx="34.2" cy="35.7" r="2.38"/><circle cx="62.2" cy="19.9" r="2.38"/><circle cx="48.9" cy="4.8" r="2.38"/><circle cx="19.3" cy="10.5" r="2.38"/><circle cx="40.2" cy="7.6" r="2.38"/><circle cx="54.8" cy="12" r="2.38"/><circle cx="59.9" cy="14" r="2.38"/><circle cx="67.8" cy="25.6" r="2.38"/><circle cx="22.8" cy="7.7" r="2.38"/><circle cx="60.8" cy="29.9" r="2.38"/><circle cx="29.9" cy="35.7" r="2.38"/><circle cx="20.9" cy="29.3" r="2.38"/><circle cx="47.5" cy="12.6" r="2.38"/><circle cx="60.3" cy="28.7" r="2.38"/><circle cx="41.7" cy="6.1" r="2.38"/><circle cx="69.2" cy="21.6" r="2.38"/><circle cx="23.3" cy="33.6" r="2.38"/><circle cx="66" cy="27.6" r="2.38"/><circle cx="12.9" cy="20.4" r="2.38"/><circle cx="54.9" cy="34.5" r="2.38"/><circle cx="46.7" cy="5.6" r="2.38"/><circle cx="24" cy="9.5" r="2.38"/><circle cx="68.9" cy="18.9" r="2.38"/><circle cx="15" cy="6.7" r="2.38"/><circle cx="54.9" cy="35.3" r="2.38"/><circle cx="40" cy="7.6" r="2.38"/><circle cx="63.4" cy="29.1" r="2.38"/><circle cx="32.6" cy="8.3" r="2.38"/><circle cx="27.8" cy="4.6" r="2.38"/><circle cx="27.5" cy="8.2" r="2.38"/><circle cx="16.7" cy="24.3" r="2.38"/><circle cx="12.1" cy="19" r="2.38"/><circle cx="22.8" cy="34" r="2.38"/><circle cx="60.5" cy="16.3" r="2.38"/><circle cx="53.3" cy="4.6" r="2.38"/><circle cx="16.6" cy="14.2" r="2.38"/><circle cx="29.3" cy="7.8" r="2.38"/><circle cx="66.2" cy="21.8" r="2.38"/><circle cx="37.9" cy="38" r="2.38"/><circle cx="32.4" cy="35.7" r="2.38"/><circle cx="41.1" cy="4.3" r="2.38"/><circle cx="45.7" cy="36.8" r="2.38"/><circle cx="30.4" cy="8" r="2.38"/><circle cx="50.1" cy="11.3" r="2.38"/><circle cx="49.2" cy="11.6" r="2.38"/><circle cx="38.7" cy="36.4" r="2.38"/><circle cx="28" cy="6.7" r="2.38"/><circle cx="35.4" cy="8.2" r="2.38"/><circle cx="33.4" cy="35.6" r="2.38"/><circle cx="53.2" cy="9.8" r="2.38"/><circle cx="60.5" cy="30.5" r="2.38"/><circle cx="79.3" cy="14.4" r="2.38"/><circle cx="74.2" cy="12.7" r="2.38"/><circle cx="66.8" cy="10.9" r="2.38"/><circle cx="57.5" cy="5" r="2.38"/><circle cx="46.3" cy="3.2" r="2.38"/><circle cx="35.2" cy="1.1" r="2.38"/><circle cx="19.6" cy="4.3" r="2.38"/><circle cx="12.9" cy="4.6" r="2.38"/><circle cx="17.3" cy="7.8" r="2.38"/><circle cx="7.3" cy="11.6" r="2.38"/><circle cx="4" cy="21.8" r="2.38"/><circle cx="5.1" cy="28.4" r="2.38"/><circle cx="17.3" cy="36.5" r="2.38"/><circle cx="20.7" cy="39.3" r="2.38"/><circle cx="25.8" cy="41.4" r="2.38"/><circle cx="38.5" cy="44.6" r="2.38"/><circle cx="49.7" cy="43.2" r="2.38"/><circle cx="54.1" cy="41.8" r="2.38"/><circle cx="58.6" cy="40.7" r="2.38"/><circle cx="59.3" cy="34.8" r="2.38"/><circle cx="70.4" cy="23.2" r="2.38"/></g></svg>
<svg x="532.54" y="317.89" width="82.43" height="46.21"><path class="k" d="M22.46 4.61h2M26.46 4.61h2M21.46 5.61h8M36.46 5.61h1M13.46 6.61h1M19.46 6.61h14M36.46 6.61h4M14.46 7.61h1M16.46 7.61h1M18.46 7.61h16M35.46 7.61h8M13.46 8.61h33M13.46 9.61h34M10.46 10.61h1M12.46 10.61h36M13.46 11.61h1M16.46 11.61h32M51.46 11.61h1M17.46 12.61h32M50.46 12.61h3M17.46 13.61h37M16.46 14.61h38M14.46 15.61h1M17.46 15.61h38M18.46 16.61h37M18.46 17.61h38M58.46 17.61h1M18.46 18.61h41M19.46 19.61h40M20.46 20.61h40M23.46 21.61h38M24.46 22.61h38M23.46 23.61h41M25.46 24.61h38M64.46 24.61h1M26.46 25.61h36M65.46 25.61h1M29.46 26.61h34M64.46 26.61h3M30.46 27.61h37M30.46 28.61h38M69.46 28.61h1M31.46 29.61h39M35.46 30.61h36M36.46 31.61h36M37.46 32.61h35M41.46 33.61h30M43.46 34.61h25M70.46 34.61h2M44.46 35.61h23M71.46 35.61h2M43.46 36.61h2M47.46 36.61h18M71.46 36.61h1M73.46 36.61h1M48.46 37.61h6M56.46 37.61h8M70.46 37.61h1M48.46 38.61h5M57.46 38.61h7M49.46 39.61h5M56.46 39.61h2M60.46 39.61h3M53.46 40.61h4M61.46 40.61h1M56.46 41.61h1M60.46 41.61h1"/><g class="p"><circle cx="65.2" cy="28.9" r="2.38"/><circle cx="54.7" cy="19.9" r="2.38"/><circle cx="62.4" cy="29" r="2.38"/><circle cx="51" cy="15.3" r="2.38"/><circle cx="60.4" cy="36.9" r="2.38"/><circle cx="32.8" cy="8.8" r="2.38"/><circle cx="19.7" cy="11" r="2.38"/><circle cx="46.6" cy="34.5" r="2.38"/><circle cx="15.4" cy="13.9" r="2.38"/><circle cx="22.7" cy="21.2" r="2.38"/><circle cx="62.7" cy="36.4" r="2.38"/><circle cx="33.6" cy="27.6" r="2.38"/><circle cx="43.2" cy="10.6" r="2.38"/><circle cx="16.8" cy="6.4" r="2.38"/><circle cx="45.7" cy="12" r="2.38"/><circle cx="27" cy="22.1" r="2.38"/><circle cx="18.8" cy="7.1" r="2.38"/><circle cx="37.6" cy="29.1" r="2.38"/><circle cx="17.4" cy="5.2" r="2.38"/><circle cx="20" cy="8.9" r="2.38"/><circle cx="31" cy="24.4" r="2.38"/><circle cx="22.2" cy="19.5" r="2.38"/><circle cx="32.7" cy="8.4" r="2.38"/><circle cx="76.2" cy="37.9" r="2.38"/><circle cx="36.1" cy="27.5" r="2.38"/><circle cx="50.4" cy="15.5" r="2.38"/><circle cx="63.1" cy="22.4" r="2.38"/><circle cx="49.1" cy="15.9" r="2.38"/><circle cx="24.2" cy="20.3" r="2.38"/><circle cx="24.8" cy="20.1" r="2.38"/><circle cx="46.1" cy="33.4" r="2.38"/><circle cx="56.1" cy="19.5" r="2.38"/><circle cx="48.6" cy="34.6" r="2.38"/><circle cx="58.7" cy="21.6" r="2.38"/><circle cx="47.4" cy="12.2" r="2.38"/><circle cx="35.2" cy="27.8" r="2.38"/><circle cx="57.8" cy="20.3" r="2.38"/><circle cx="28.2" cy="26.4" r="2.38"/><circle cx="53.8" cy="34.7" r="2.38"/><circle cx="42.4" cy="8.6" r="2.38"/><circle cx="20.3" cy="17.4" r="2.38"/><circle cx="57.2" cy="20.5" r="2.38"/><circle cx="46.6" cy="34.6" r="2.38"/><circle cx="20.3" cy="18.6" r="2.38"/><circle cx="30.8" cy="24.3" r="2.38"/><circle cx="41.1" cy="30.3" r="2.38"/><circle cx="35.8" cy="27.4" r="2.38"/><circle cx="70.1" cy="37.1" r="2.38"/><circle cx="63.1" cy="37.1" r="2.38"/><circle cx="67.1" cy="31.9" r="2.38"/><circle cx="69.8" cy="35.3" r="2.38"/><circle cx="59.9" cy="40.4" r="2.38"/><circle cx="52.7" cy="13.5" r="2.38"/><circle cx="37" cy="29" r="2.38"/><circle cx="55.6" cy="34.3" r="2.38"/><circle cx="32.3" cy="26" r="2.38"/><circle cx="13.3" cy="9.3" r="2.38"/><circle cx="53.6" cy="16.5" r="2.38"/><circle cx="55.6" cy="20" r="2.38"/><circle cx="63.4" cy="28.2" r="2.38"/><circle cx="64.1" cy="29.4" r="2.38"/><circle cx="28.2" cy="6.6" r="2.38"/><circle cx="68.3" cy="30" r="2.38"/><circle cx="20.7" cy="9" r="2.38"/><circle cx="53" cy="14.8" r="2.38"/><circle cx="67.8" cy="31.1" r="2.38"/><circle cx="12.6" cy="11.4" r="2.38"/><circle cx="67.1" cy="32.1" r="2.38"/><circle cx="66.7" cy="38.1" r="2.38"/><circle cx="39.5" cy="8.5" r="2.38"/><circle cx="60.8" cy="24.2" r="2.38"/><circle cx="47.7" cy="36.9" r="2.38"/><circle cx="26.2" cy="23" r="2.38"/><circle cx="57" cy="35.9" r="2.38"/><circle cx="22.3" cy="19" r="2.38"/><circle cx="42.1" cy="31.3" r="2.38"/><circle cx="58.5" cy="36.2" r="2.38"/><circle cx="49" cy="34.7" r="2.38"/><circle cx="74.6" cy="33.6" r="2.38"/><circle cx="16.9" cy="7.5" r="2.38"/><circle cx="61.5" cy="29" r="2.38"/><circle cx="19.8" cy="12.2" r="2.38"/><circle cx="56.3" cy="37.3" r="2.38"/><circle cx="47.8" cy="13.4" r="2.38"/><circle cx="21" cy="9.4" r="2.38"/><circle cx="30.8" cy="26.1" r="2.38"/><circle cx="43.6" cy="35.1" r="2.38"/><circle cx="19.9" cy="12.3" r="2.38"/><circle cx="22.9" cy="22.1" r="2.38"/><circle cx="58.5" cy="22.7" r="2.38"/><circle cx="54.6" cy="19.9" r="2.38"/><circle cx="20.2" cy="4.7" r="2.38"/><circle cx="65.2" cy="28.3" r="2.38"/><circle cx="43.7" cy="35.2" r="2.38"/><circle cx="41.3" cy="30.9" r="2.38"/><circle cx="52.5" cy="36.4" r="2.38"/><circle cx="59.8" cy="25.7" r="2.38"/><circle cx="55.3" cy="37.1" r="2.38"/><circle cx="52.3" cy="38.8" r="2.38"/><circle cx="19.1" cy="5.4" r="2.38"/><circle cx="23.8" cy="6.3" r="2.38"/><circle cx="25.7" cy="7.9" r="2.38"/><circle cx="59.2" cy="23.4" r="2.38"/><circle cx="11.5" cy="8.2" r="2.38"/><circle cx="31" cy="25.6" r="2.38"/><circle cx="56" cy="20.2" r="2.38"/><circle cx="42.1" cy="9.6" r="2.38"/><circle cx="60.4" cy="22.7" r="2.38"/><circle cx="20.6" cy="14.8" r="2.38"/><circle cx="27.1" cy="24.2" r="2.38"/><circle cx="70.2" cy="33.9" r="2.38"/><circle cx="43.6" cy="32.8" r="2.38"/><circle cx="52.5" cy="15.3" r="2.38"/><circle cx="33" cy="28.6" r="2.38"/><circle cx="60.7" cy="22.8" r="2.38"/><circle cx="47.5" cy="33.8" r="2.38"/><circle cx="39.1" cy="4.8" r="2.38"/><circle cx="20.5" cy="15.4" r="2.38"/><circle cx="62.7" cy="38.6" r="2.38"/><circle cx="62.7" cy="38.1" r="2.38"/><circle cx="50.1" cy="37.3" r="2.38"/><circle cx="49.6" cy="14.9" r="2.38"/><circle cx="44.9" cy="10.7" r="2.38"/><circle cx="17.8" cy="18.1" r="2.38"/><circle cx="73.8" cy="35.1" r="2.38"/><circle cx="51.1" cy="38.8" r="2.38"/><circle cx="64.8" cy="34.5" r="2.38"/><circle cx="38.1" cy="9.1" r="2.38"/><circle cx="15.7" cy="9.6" r="2.38"/><circle cx="28.5" cy="26.9" r="2.38"/><circle cx="19.1" cy="12.1" r="2.38"/><circle cx="52.7" cy="17.1" r="2.38"/><circle cx="51" cy="12.9" r="2.38"/><circle cx="61.3" cy="36.8" r="2.38"/><circle cx="35.4" cy="10.8" r="2.38"/><circle cx="42.4" cy="9.5" r="2.38"/><circle cx="39.6" cy="7" r="2.38"/><circle cx="49.1" cy="35.6" r="2.38"/><circle cx="16.4" cy="9.1" r="2.38"/><circle cx="45.4" cy="9.6" r="2.38"/><circle cx="63.4" cy="29.2" r="2.38"/><circle cx="60.2" cy="25" r="2.38"/><circle cx="33.5" cy="7.1" r="2.38"/><circle cx="58.3" cy="22.7" r="2.38"/><circle cx="34.2" cy="10.3" r="2.38"/><circle cx="31.9" cy="26.3" r="2.38"/><circle cx="34.8" cy="10.6" r="2.38"/><circle cx="69.1" cy="31.9" r="2.38"/><circle cx="53" cy="18.3" r="2.38"/><circle cx="69.4" cy="36.2" r="2.38"/><circle cx="16.4" cy="9.7" r="2.38"/><circle cx="15.2" cy="12.9" r="2.38"/><circle cx="63.5" cy="25.1" r="2.38"/><circle cx="64.1" cy="28.4" r="2.38"/><circle cx="27" cy="7.3" r="2.38"/><circle cx="63" cy="29.7" r="2.38"/><circle cx="57.4" cy="34.6" r="2.38"/><circle cx="15.9" cy="6.4" r="2.38"/><circle cx="63.1" cy="29.1" r="2.38"/><circle cx="52.1" cy="36.7" r="2.38"/><circle cx="20.9" cy="16.6" r="2.38"/><circle cx="13.2" cy="11" r="2.38"/><circle cx="34.5" cy="10.7" r="2.38"/><circle cx="55.8" cy="35.3" r="2.38"/><circle cx="42.1" cy="31.5" r="2.38"/><circle cx="53.6" cy="16.5" r="2.38"/><circle cx="12.9" cy="11.4" r="2.38"/><circle cx="47.4" cy="13.5" r="2.38"/><circle cx="48.3" cy="15.1" r="2.38"/><circle cx="56.6" cy="35.6" r="2.38"/><circle cx="66.9" cy="29.9" r="2.38"/><circle cx="40.3" cy="31.1" r="2.38"/><circle cx="58.7" cy="36.1" r="2.38"/><circle cx="35" cy="8.1" r="2.38"/><circle cx="21.6" cy="7.9" r="2.38"/><circle cx="50.8" cy="11.7" r="2.38"/><circle cx="65.6" cy="28.1" r="2.38"/><circle cx="65" cy="29.2" r="2.38"/><circle cx="57.1" cy="35.2" r="2.38"/><circle cx="49.8" cy="15.1" r="2.38"/><circle cx="12.9" cy="5.1" r="2.38"/><circle cx="33.9" cy="10.4" r="2.38"/><circle cx="40.6" cy="8.9" r="2.38"/><circle cx="68.8" cy="30.8" r="2.38"/><circle cx="16.6" cy="10.2" r="2.38"/><circle cx="33.6" cy="9.9" r="2.38"/><circle cx="56.6" cy="34.7" r="2.38"/><circle cx="26.2" cy="4.8" r="2.38"/><circle cx="41.2" cy="32" r="2.38"/><circle cx="23.9" cy="18.6" r="2.38"/><circle cx="19.7" cy="10" r="2.38"/><circle cx="58.2" cy="35.6" r="2.38"/><circle cx="42.1" cy="31.2" r="2.38"/><circle cx="50.1" cy="35.9" r="2.38"/><circle cx="27.6" cy="24" r="2.38"/><circle cx="54.1" cy="16.8" r="2.38"/><circle cx="62.5" cy="25.5" r="2.38"/><circle cx="54" cy="18.7" r="2.38"/><circle cx="18.8" cy="9.9" r="2.38"/><circle cx="35" cy="7.6" r="2.38"/><circle cx="62.2" cy="24.6" r="2.38"/><circle cx="60.8" cy="18.9" r="2.38"/><circle cx="63" cy="21.5" r="2.38"/><circle cx="46.1" cy="5.8" r="2.38"/><circle cx="54.6" cy="39.4" r="2.38"/><circle cx="26.2" cy="20.2" r="2.38"/><circle cx="49.3" cy="34.3" r="2.38"/><circle cx="58.1" cy="40" r="2.38"/><circle cx="19.6" cy="11.8" r="2.38"/><circle cx="30" cy="6.1" r="2.38"/><circle cx="28.8" cy="23.7" r="2.38"/><circle cx="57.9" cy="18.3" r="2.38"/><circle cx="68.3" cy="32.4" r="2.38"/><circle cx="60.3" cy="27.1" r="2.38"/><circle cx="41.8" cy="31.9" r="2.38"/><circle cx="31.4" cy="24.1" r="2.38"/><circle cx="48.5" cy="34.6" r="2.38"/><circle cx="65.4" cy="26" r="2.38"/><circle cx="30.4" cy="24.8" r="2.38"/><circle cx="63.2" cy="24.3" r="2.38"/><circle cx="48.4" cy="34.5" r="2.38"/><circle cx="50.7" cy="15.9" r="2.38"/><circle cx="33.4" cy="28.5" r="2.38"/><circle cx="52.4" cy="37.5" r="2.38"/><circle cx="29" cy="3.7" r="2.38"/><circle cx="65.6" cy="34.5" r="2.38"/><circle cx="64" cy="35.9" r="2.38"/><circle cx="61" cy="37" r="2.38"/><circle cx="50.3" cy="15.6" r="2.38"/><circle cx="36.8" cy="7.2" r="2.38"/><circle cx="57.5" cy="34.9" r="2.38"/><circle cx="47.4" cy="34.1" r="2.38"/><circle cx="64.8" cy="35.4" r="2.38"/><circle cx="38.5" cy="8.1" r="2.38"/><circle cx="38.5" cy="7.5" r="2.38"/><circle cx="34.5" cy="10.5" r="2.38"/><circle cx="24.2" cy="19.3" r="2.38"/><circle cx="43" cy="31.4" r="2.38"/><circle cx="26.1" cy="23.1" r="2.38"/><circle cx="54.5" cy="19" r="2.38"/><circle cx="59.1" cy="36.7" r="2.38"/><circle cx="32.3" cy="25.9" r="2.38"/><circle cx="57.8" cy="19.8" r="2.38"/><circle cx="24.7" cy="6.3" r="2.38"/><circle cx="35.4" cy="29.5" r="2.38"/><circle cx="53.5" cy="17.9" r="2.38"/><circle cx="57.3" cy="35" r="2.38"/><circle cx="29.1" cy="24.6" r="2.38"/><circle cx="23.7" cy="6.9" r="2.38"/><circle cx="52.2" cy="16.4" r="2.38"/><circle cx="53" cy="36.1" r="2.38"/><circle cx="59.6" cy="37" r="2.38"/><circle cx="38.2" cy="31" r="2.38"/><circle cx="68.1" cy="31.3" r="2.38"/><circle cx="70.7" cy="32.2" r="2.38"/><circle cx="34.3" cy="28.2" r="2.38"/><circle cx="45" cy="32.1" r="2.38"/><circle cx="35.2" cy="10.5" r="2.38"/><circle cx="75.8" cy="35" r="2.38"/><circle cx="56.3" cy="38.5" r="2.38"/><circle cx="36" cy="28.5" r="2.38"/><circle cx="41.3" cy="31.1" r="2.38"/><circle cx="15" cy="12.1" r="2.38"/><circle cx="20.1" cy="3.8" r="2.38"/><circle cx="67.7" cy="31.5" r="2.38"/><circle cx="57.7" cy="41" r="2.38"/><circle cx="50.3" cy="15.5" r="2.38"/><circle cx="63.2" cy="24.8" r="2.38"/><circle cx="27.8" cy="7.4" r="2.38"/><circle cx="25.3" cy="4.5" r="2.38"/><circle cx="39.3" cy="31.8" r="2.38"/><circle cx="22.6" cy="8.5" r="2.38"/><circle cx="46.5" cy="36.9" r="2.38"/><circle cx="59.7" cy="25.5" r="2.38"/><circle cx="43.7" cy="31.6" r="2.38"/><circle cx="25.7" cy="6.2" r="2.38"/><circle cx="63.4" cy="41.3" r="2.38"/><circle cx="64" cy="35.4" r="2.38"/><circle cx="51.5" cy="37.5" r="2.38"/><circle cx="24.8" cy="19.1" r="2.38"/><circle cx="69.8" cy="35.8" r="2.38"/><circle cx="32.4" cy="8.6" r="2.38"/><circle cx="36.1" cy="28.1" r="2.38"/><circle cx="65.5" cy="34.2" r="2.38"/><circle cx="31.6" cy="9.1" r="2.38"/><circle cx="41.5" cy="34.7" r="2.38"/><circle cx="55.4" cy="38.8" r="2.38"/><circle cx="19.9" cy="15.5" r="2.38"/><circle cx="72.1" cy="38.4" r="2.38"/><circle cx="19.5" cy="11.7" r="2.38"/><circle cx="57.7" cy="17.4" r="2.38"/><circle cx="58.7" cy="40" r="2.38"/><circle cx="64.8" cy="26.8" r="2.38"/><circle cx="68.6" cy="29" r="2.38"/><circle cx="65.7" cy="36.8" r="2.38"/><circle cx="67.1" cy="31" r="2.38"/><circle cx="61.1" cy="41.1" r="2.38"/><circle cx="34.5" cy="7.5" r="2.38"/><circle cx="60.3" cy="25.5" r="2.38"/><circle cx="51.6" cy="37.8" r="2.38"/><circle cx="31.7" cy="25.3" r="2.38"/><circle cx="72.4" cy="29.1" r="2.38"/><circle cx="53.9" cy="18.1" r="2.38"/><circle cx="30.7" cy="23.7" r="2.38"/><circle cx="56.1" cy="37.3" r="2.38"/><circle cx="73.5" cy="37.3" r="2.38"/><circle cx="21.4" cy="4.1" r="2.38"/><circle cx="39.7" cy="30.8" r="2.38"/><circle cx="4.5" cy="4.7" r="2.38"/><circle cx="8.2" cy="4.7" r="2.38"/><circle cx="3.2" cy="12.6" r="2.38"/><circle cx="7.6" cy="11" r="2.38"/><circle cx="12.6" cy="17.9" r="2.38"/><circle cx="21.7" cy="24.1" r="2.38"/><circle cx="41.3" cy="36" r="2.38"/><circle cx="50.1" cy="10.4" r="2.38"/><circle cx="53.2" cy="11.4" r="2.38"/><circle cx="57.6" cy="14.7" r="2.38"/><circle cx="69.5" cy="22.2" r="2.38"/><circle cx="79.5" cy="38.9" r="2.38"/><circle cx="72.6" cy="36.6" r="2.38"/><circle cx="74.5" cy="30.4" r="2.38"/><circle cx="68" cy="43.5" r="2.38"/></g></svg>
<svg x="57.02" y="376.77" width="82.43" height="46.21"><path class="k" d="M61.98 5.73h1M57.98 6.73h2M60.98 6.73h4M49.98 7.73h1M54.98 7.73h11M48.98 8.73h18M28.98 9.73h1M39.98 9.73h5M46.98 9.73h21M68.98 9.73h1M20.98 10.73h1M22.98 10.73h3M26.98 10.73h4M33.98 10.73h1M35.98 10.73h34M19.98 11.73h51M18.98 12.73h51M18.98 13.73h52M18.98 14.73h53M17.98 15.73h53M72.98 15.73h1M76.98 15.73h2M13.98 16.73h56M76.98 16.73h1M12.98 17.73h2M15.98 17.73h55M75.98 17.73h3M11.98 18.73h2M16.98 18.73h55M75.98 18.73h5M12.98 19.73h1M16.98 19.73h56M76.98 19.73h3M12.98 20.73h2M15.98 20.73h59M75.98 20.73h4M6.98 21.73h1M8.98 21.73h1M14.98 21.73h58M73.98 21.73h6M5.98 22.73h4M15.98 22.73h56M74.98 22.73h5M4.98 23.73h3M9.98 23.73h1M15.98 23.73h55M74.98 23.73h5M2.98 24.73h4M10.98 24.73h2M15.98 24.73h54M76.98 24.73h2M2.98 25.73h5M9.98 25.73h1M16.98 25.73h53M77.98 25.73h2M2.98 26.73h2M5.98 26.73h1M17.98 26.73h52M2.98 27.73h1M6.98 27.73h1M17.98 27.73h51M3.98 28.73h1M5.98 28.73h2M9.98 28.73h1M17.98 28.73h51M75.98 28.73h1M4.98 29.73h2M17.98 29.73h51M17.98 30.73h51M17.98 31.73h52M17.98 32.73h52M17.98 33.73h32M50.98 33.73h2M54.98 33.73h2M59.98 33.73h2M62.98 33.73h2M65.98 33.73h3M17.98 34.73h19M37.98 34.73h1M39.98 34.73h2M44.98 34.73h3M66.98 34.73h1M16.98 35.73h4M21.98 35.73h11M33.98 35.73h2M51.98 35.73h1M17.98 36.73h2M22.98 36.73h9M25.98 37.73h5M26.98 38.73h5"/><g class="p"><circle cx="51.3" cy="35.2" r="2.38"/><circle cx="33.6" cy="32.7" r="2.38"/><circle cx="23.4" cy="13.5" r="2.38"/><circle cx="27.5" cy="12.5" r="2.38"/><circle cx="54" cy="9.5" r="2.38"/><circle cx="52.4" cy="31.1" r="2.38"/><circle cx="67.8" cy="14.5" r="2.38"/><circle cx="36.2" cy="7.4" r="2.38"/><circle cx="32.4" cy="34.4" r="2.38"/><circle cx="67.1" cy="8.8" r="2.38"/><circle cx="59" cy="8.8" r="2.38"/><circle cx="55.4" cy="31.2" r="2.38"/><circle cx="64.5" cy="9.3" r="2.38"/><circle cx="19.4" cy="34.7" r="2.38"/><circle cx="58.5" cy="34.6" r="2.38"/><circle cx="40.1" cy="11.6" r="2.38"/><circle cx="66.5" cy="27.2" r="2.38"/><circle cx="38.6" cy="34.8" r="2.38"/><circle cx="48.5" cy="6.7" r="2.38"/><circle cx="60.8" cy="6.5" r="2.38"/><circle cx="20.3" cy="15.9" r="2.38"/><circle cx="36.2" cy="13.8" r="2.38"/><circle cx="33.1" cy="32.6" r="2.38"/><circle cx="42.9" cy="32.8" r="2.38"/><circle cx="59" cy="34.4" r="2.38"/><circle cx="65.7" cy="31.4" r="2.38"/><circle cx="33.1" cy="36.2" r="2.38"/><circle cx="37.5" cy="8.4" r="2.38"/><circle cx="19.6" cy="16.6" r="2.38"/><circle cx="66.8" cy="29.1" r="2.38"/><circle cx="61.4" cy="30.8" r="2.38"/><circle cx="21.8" cy="12.9" r="2.38"/><circle cx="49" cy="34.3" r="2.38"/><circle cx="46.2" cy="12.7" r="2.38"/><circle cx="46.9" cy="33.7" r="2.38"/><circle cx="66.5" cy="29.7" r="2.38"/><circle cx="67" cy="12.2" r="2.38"/><circle cx="68" cy="27" r="2.38"/><circle cx="57.4" cy="5.4" r="2.38"/><circle cx="66.6" cy="28.7" r="2.38"/><circle cx="68.4" cy="13.4" r="2.38"/><circle cx="62" cy="31.3" r="2.38"/><circle cx="36.4" cy="33.6" r="2.38"/><circle cx="22.1" cy="34.2" r="2.38"/><circle cx="68.1" cy="22.6" r="2.38"/><circle cx="30.9" cy="11.7" r="2.38"/><circle cx="21.8" cy="12.6" r="2.38"/><circle cx="18.6" cy="19.9" r="2.38"/><circle cx="62.7" cy="32" r="2.38"/><circle cx="60.1" cy="8.5" r="2.38"/><circle cx="22.4" cy="12.9" r="2.38"/><circle cx="54.9" cy="34.9" r="2.38"/><circle cx="45.4" cy="31.5" r="2.38"/><circle cx="41.6" cy="12" r="2.38"/><circle cx="25" cy="34.7" r="2.38"/><circle cx="41.1" cy="33.3" r="2.38"/><circle cx="68.6" cy="23.6" r="2.38"/><circle cx="24" cy="10.5" r="2.38"/><circle cx="21.2" cy="35.3" r="2.38"/><circle cx="40.5" cy="32.3" r="2.38"/><circle cx="56.5" cy="31.4" r="2.38"/><circle cx="65.1" cy="36.8" r="2.38"/><circle cx="47.1" cy="32.2" r="2.38"/><circle cx="66.9" cy="35.6" r="2.38"/><circle cx="38.2" cy="32.1" r="2.38"/><circle cx="33.3" cy="32.7" r="2.38"/><circle cx="31" cy="13.1" r="2.38"/><circle cx="51.3" cy="10.9" r="2.38"/><circle cx="21.5" cy="15.6" r="2.38"/><circle cx="36.9" cy="13.7" r="2.38"/><circle cx="35.2" cy="33.4" r="2.38"/><circle cx="32.2" cy="36.5" r="2.38"/><circle cx="67.2" cy="17.5" r="2.38"/><circle cx="51.6" cy="31.3" r="2.38"/><circle cx="66.8" cy="27.9" r="2.38"/><circle cx="29.1" cy="37.4" r="2.38"/><circle cx="60.9" cy="30.6" r="2.38"/><circle cx="52.7" cy="7.8" r="2.38"/><circle cx="19.7" cy="20.1" r="2.38"/><circle cx="20" cy="27.5" r="2.38"/><circle cx="25.6" cy="12.3" r="2.38"/><circle cx="41.5" cy="33.5" r="2.38"/><circle cx="58.9" cy="8.5" r="2.38"/><circle cx="67.5" cy="26" r="2.38"/><circle cx="20.5" cy="34" r="2.38"/><circle cx="46" cy="32.3" r="2.38"/><circle cx="51.7" cy="31.3" r="2.38"/><circle cx="45.1" cy="11.9" r="2.38"/><circle cx="62.5" cy="9.3" r="2.38"/><circle cx="21.5" cy="33.1" r="2.38"/><circle cx="50.8" cy="30.4" r="2.38"/><circle cx="64.9" cy="10.6" r="2.38"/><circle cx="68" cy="31.2" r="2.38"/><circle cx="40.6" cy="32.6" r="2.38"/><circle cx="50.4" cy="9.6" r="2.38"/><circle cx="59.9" cy="31.9" r="2.38"/><circle cx="44.7" cy="6" r="2.38"/><circle cx="20.6" cy="17.4" r="2.38"/><circle cx="57.4" cy="31.7" r="2.38"/><circle cx="59.6" cy="10" r="2.38"/><circle cx="47.7" cy="11.4" r="2.38"/><circle cx="19.5" cy="34" r="2.38"/><circle cx="66.6" cy="26" r="2.38"/><circle cx="50.7" cy="9.4" r="2.38"/><circle cx="61.2" cy="32.4" r="2.38"/><circle cx="43.4" cy="32.5" r="2.38"/><circle cx="45.6" cy="12.6" r="2.38"/><circle cx="68.3" cy="23.3" r="2.38"/><circle cx="46.6" cy="12.5" r="2.38"/><circle cx="33.7" cy="38.3" r="2.38"/><circle cx="27" cy="9.1" r="2.38"/><circle cx="41.9" cy="31.9" r="2.38"/><circle cx="18.3" cy="21.9" r="2.38"/><circle cx="67.9" cy="17.5" r="2.38"/><circle cx="67.5" cy="32.4" r="2.38"/><circle cx="30.9" cy="33.4" r="2.38"/><circle cx="41.7" cy="32.9" r="2.38"/><circle cx="43.6" cy="34.4" r="2.38"/><circle cx="49.6" cy="33.2" r="2.38"/><circle cx="36" cy="32.7" r="2.38"/><circle cx="20.4" cy="26.2" r="2.38"/><circle cx="20.5" cy="26.5" r="2.38"/><circle cx="62.4" cy="30.6" r="2.38"/><circle cx="45.3" cy="12.3" r="2.38"/><circle cx="49.6" cy="36.2" r="2.38"/><circle cx="46.3" cy="10.5" r="2.38"/><circle cx="40.5" cy="12.4" r="2.38"/><circle cx="20.6" cy="25.4" r="2.38"/><circle cx="40" cy="12.5" r="2.38"/><circle cx="22.6" cy="36.7" r="2.38"/><circle cx="69" cy="34.3" r="2.38"/><circle cx="21.6" cy="37.3" r="2.38"/><circle cx="58.3" cy="34.6" r="2.38"/><circle cx="20.3" cy="16.3" r="2.38"/><circle cx="39.9" cy="11.7" r="2.38"/><circle cx="22.4" cy="32.7" r="2.38"/><circle cx="47.1" cy="12.3" r="2.38"/><circle cx="59.8" cy="9.4" r="2.38"/><circle cx="20.7" cy="16.7" r="2.38"/><circle cx="26.5" cy="36.1" r="2.38"/><circle cx="66.1" cy="27.7" r="2.38"/><circle cx="26" cy="12.9" r="2.38"/><circle cx="42.4" cy="10.7" r="2.38"/><circle cx="45" cy="12.6" r="2.38"/><circle cx="62.9" cy="8.5" r="2.38"/><circle cx="68.4" cy="14.4" r="2.38"/><circle cx="45.2" cy="34.3" r="2.38"/><circle cx="56" cy="32.5" r="2.38"/><circle cx="67.2" cy="24.8" r="2.38"/><circle cx="56" cy="9.1" r="2.38"/><circle cx="67.6" cy="12.2" r="2.38"/><circle cx="31.6" cy="33.3" r="2.38"/><circle cx="68.1" cy="16.1" r="2.38"/><circle cx="20.6" cy="13.1" r="2.38"/><circle cx="53.5" cy="9.9" r="2.38"/><circle cx="67.5" cy="17.3" r="2.38"/><circle cx="23.7" cy="12.1" r="2.38"/><circle cx="69" cy="27.5" r="2.38"/><circle cx="52.7" cy="10.2" r="2.38"/><circle cx="23" cy="13" r="2.38"/><circle cx="31.3" cy="13.3" r="2.38"/><circle cx="48" cy="12.6" r="2.38"/><circle cx="45" cy="12.2" r="2.38"/><circle cx="43.8" cy="35.3" r="2.38"/><circle cx="32" cy="34.9" r="2.38"/><circle cx="28" cy="37" r="2.38"/><circle cx="20.9" cy="38" r="2.38"/><circle cx="25.6" cy="13.1" r="2.38"/><circle cx="54.9" cy="30.5" r="2.38"/><circle cx="66.4" cy="27" r="2.38"/><circle cx="45.1" cy="32" r="2.38"/><circle cx="20" cy="15.7" r="2.38"/><circle cx="29.8" cy="9.3" r="2.38"/><circle cx="20.2" cy="26.9" r="2.38"/><circle cx="48.3" cy="5.9" r="2.38"/><circle cx="20.5" cy="26.9" r="2.38"/><circle cx="66.9" cy="27.1" r="2.38"/><circle cx="35.3" cy="11.3" r="2.38"/><circle cx="43.7" cy="36" r="2.38"/><circle cx="38.5" cy="9.2" r="2.38"/><circle cx="67.6" cy="11.6" r="2.38"/><circle cx="42.7" cy="32.5" r="2.38"/><circle cx="67.3" cy="27.3" r="2.38"/><circle cx="25.2" cy="36" r="2.38"/><circle cx="32.5" cy="12.9" r="2.38"/><circle cx="26.4" cy="35.9" r="2.38"/><circle cx="19.9" cy="28.8" r="2.38"/><circle cx="59" cy="32" r="2.38"/><circle cx="21.1" cy="15.3" r="2.38"/><circle cx="19.9" cy="30.3" r="2.38"/><circle cx="68.2" cy="32.5" r="2.38"/><circle cx="19.3" cy="27.1" r="2.38"/><circle cx="66.3" cy="31.8" r="2.38"/><circle cx="37.1" cy="33" r="2.38"/><circle cx="32.1" cy="10.6" r="2.38"/><circle cx="50.6" cy="10.7" r="2.38"/><circle cx="42.1" cy="11.2" r="2.38"/><circle cx="54.1" cy="30.9" r="2.38"/><circle cx="67.6" cy="28.7" r="2.38"/><circle cx="20.8" cy="31.3" r="2.38"/><circle cx="22.7" cy="33.3" r="2.38"/><circle cx="30.8" cy="34.8" r="2.38"/><circle cx="37.7" cy="11.5" r="2.38"/><circle cx="25.3" cy="13.9" r="2.38"/><circle cx="67.7" cy="25.7" r="2.38"/><circle cx="59.5" cy="31.1" r="2.38"/><circle cx="51" cy="9.6" r="2.38"/><circle cx="41.9" cy="31.5" r="2.38"/><circle cx="21.4" cy="12.9" r="2.38"/><circle cx="19" cy="34.8" r="2.38"/><circle cx="30.7" cy="38" r="2.38"/><circle cx="59.5" cy="10" r="2.38"/><circle cx="30" cy="13.6" r="2.38"/><circle cx="20.7" cy="14.9" r="2.38"/><circle cx="66.1" cy="33.5" r="2.38"/><circle cx="20.6" cy="25.9" r="2.38"/><circle cx="68.7" cy="10.6" r="2.38"/><circle cx="67.3" cy="17.6" r="2.38"/><circle cx="29.1" cy="38.2" r="2.38"/><circle cx="19.7" cy="31.4" r="2.38"/><circle cx="55.7" cy="31.7" r="2.38"/><circle cx="51.7" cy="33.7" r="2.38"/><circle cx="28" cy="13.1" r="2.38"/><circle cx="36.5" cy="33.1" r="2.38"/><circle cx="30.1" cy="13" r="2.38"/><circle cx="64.7" cy="31.1" r="2.38"/><circle cx="35.2" cy="11.7" r="2.38"/><circle cx="23.8" cy="13.3" r="2.38"/><circle cx="40.3" cy="34.5" r="2.38"/><circle cx="20.9" cy="33.2" r="2.38"/><circle cx="68.3" cy="14.2" r="2.38"/><circle cx="67.6" cy="22.9" r="2.38"/><circle cx="20.6" cy="25.6" r="2.38"/><circle cx="27.8" cy="12.7" r="2.38"/><circle cx="67.9" cy="16.6" r="2.38"/><circle cx="21" cy="32.4" r="2.38"/><circle cx="19.7" cy="25" r="2.38"/><circle cx="39.3" cy="32.3" r="2.38"/><circle cx="35.9" cy="13" r="2.38"/><circle cx="69" cy="13.1" r="2.38"/><circle cx="51.5" cy="30.8" r="2.38"/><circle cx="66.9" cy="26.4" r="2.38"/><circle cx="22.1" cy="33.7" r="2.38"/><circle cx="19.8" cy="25.6" r="2.38"/><circle cx="28.4" cy="13" r="2.38"/><circle cx="67.1" cy="26.4" r="2.38"/><circle cx="29.7" cy="35.7" r="2.38"/><circle cx="63.3" cy="7.7" r="2.38"/><circle cx="21" cy="16.5" r="2.38"/><circle cx="40" cy="33.3" r="2.38"/><circle cx="59.3" cy="9.9" r="2.38"/><circle cx="35" cy="33.2" r="2.38"/><circle cx="43.2" cy="11.5" r="2.38"/><circle cx="67.4" cy="17.6" r="2.38"/><circle cx="31.8" cy="9.5" r="2.38"/><circle cx="66.6" cy="30.3" r="2.38"/><circle cx="68.8" cy="15.7" r="2.38"/><circle cx="30.6" cy="35.7" r="2.38"/><circle cx="28.8" cy="11.8" r="2.38"/><circle cx="65.7" cy="9.3" r="2.38"/><circle cx="28" cy="10.4" r="2.38"/><circle cx="40.8" cy="32.4" r="2.38"/><circle cx="59" cy="35.7" r="2.38"/><circle cx="42.7" cy="32" r="2.38"/><circle cx="68.4" cy="9" r="2.38"/><circle cx="4" cy="26.1" r="2.38"/><circle cx="5.6" cy="27.6" r="2.38"/><circle cx="4.4" cy="23.8" r="2.38"/><circle cx="5.1" cy="21.4" r="2.38"/><circle cx="5.4" cy="27.3" r="2.38"/><circle cx="5.7" cy="23.6" r="2.38"/><circle cx="4.2" cy="28.9" r="2.38"/><circle cx="4.8" cy="26.2" r="2.38"/><circle cx="5.2" cy="26.7" r="2.38"/><circle cx="4.5" cy="26.5" r="2.38"/><circle cx="5.6" cy="19.9" r="2.38"/><circle cx="4.2" cy="30.2" r="2.38"/><circle cx="5.1" cy="29.2" r="2.38"/><circle cx="4.8" cy="27.3" r="2.38"/><circle cx="4.7" cy="21.4" r="2.38"/><circle cx="5.7" cy="26.7" r="2.38"/><circle cx="10.1" cy="23.7" r="2.38"/><circle cx="19" cy="21.6" r="2.38"/><circle cx="9.3" cy="20.3" r="2.38"/><circle cx="8.5" cy="25.3" r="2.38"/><circle cx="14.1" cy="19.7" r="2.38"/><circle cx="20.3" cy="27.6" r="2.38"/><circle cx="8.1" cy="23.4" r="2.38"/><circle cx="9.3" cy="31.2" r="2.38"/><circle cx="7.9" cy="29.8" r="2.38"/><circle cx="12.6" cy="28.2" r="2.38"/><circle cx="15.4" cy="18.6" r="2.38"/><circle cx="7.3" cy="20.9" r="2.38"/><circle cx="18.4" cy="28.3" r="2.38"/><circle cx="6.5" cy="28.4" r="2.38"/><circle cx="14.6" cy="15.7" r="2.38"/><circle cx="13.2" cy="27.1" r="2.38"/><circle cx="16.2" cy="20.7" r="2.38"/><circle cx="14" cy="19" r="2.38"/><circle cx="9.4" cy="23.7" r="2.38"/><circle cx="19.9" cy="11.8" r="2.38"/><circle cx="15.4" cy="33.4" r="2.38"/><circle cx="10.3" cy="20.1" r="2.38"/><circle cx="8.7" cy="24.9" r="2.38"/><circle cx="19.3" cy="34.4" r="2.38"/><circle cx="19.6" cy="30.2" r="2.38"/><circle cx="16" cy="17.8" r="2.38"/><circle cx="17" cy="21.9" r="2.38"/><circle cx="8.5" cy="26.1" r="2.38"/><circle cx="16.1" cy="19.6" r="2.38"/><circle cx="17.5" cy="23.7" r="2.38"/><circle cx="18.5" cy="21.8" r="2.38"/><circle cx="18.6" cy="24.1" r="2.38"/><circle cx="11.5" cy="21.4" r="2.38"/><circle cx="78.5" cy="20.4" r="2.38"/><circle cx="78" cy="22.8" r="2.38"/><circle cx="78.6" cy="16.5" r="2.38"/><circle cx="77.9" cy="21" r="2.38"/><circle cx="77.8" cy="23.2" r="2.38"/><circle cx="78.6" cy="17.6" r="2.38"/><circle cx="78.5" cy="27.4" r="2.38"/><circle cx="78.9" cy="24.4" r="2.38"/><circle cx="78.1" cy="19.2" r="2.38"/><circle cx="79.5" cy="26.7" r="2.38"/><circle cx="79.5" cy="24.7" r="2.38"/><circle cx="79.5" cy="17.6" r="2.38"/><circle cx="78.3" cy="13.7" r="2.38"/><circle cx="78" cy="21.3" r="2.38"/><circle cx="78.8" cy="19.4" r="2.38"/><circle cx="78.7" cy="16.7" r="2.38"/><circle cx="77.2" cy="26.5" r="2.38"/><circle cx="73" cy="24.2" r="2.38"/><circle cx="69.3" cy="22.1" r="2.38"/><circle cx="72.4" cy="17.1" r="2.38"/><circle cx="71" cy="19.9" r="2.38"/><circle cx="72.8" cy="21.5" r="2.38"/><circle cx="73.9" cy="30.5" r="2.38"/><circle cx="70.6" cy="21" r="2.38"/><circle cx="73.2" cy="13.6" r="2.38"/><circle cx="67.6" cy="16" r="2.38"/><circle cx="67.9" cy="30.1" r="2.38"/><circle cx="76.9" cy="19.7" r="2.38"/><circle cx="75.7" cy="30.5" r="2.38"/><circle cx="68.4" cy="22.3" r="2.38"/><circle cx="73.1" cy="22.2" r="2.38"/><circle cx="71.7" cy="31.2" r="2.38"/><circle cx="68.6" cy="17.2" r="2.38"/><circle cx="70.8" cy="24.7" r="2.38"/><circle cx="76.6" cy="27.4" r="2.38"/><circle cx="73.8" cy="19" r="2.38"/><circle cx="67.6" cy="22.7" r="2.38"/><circle cx="72.1" cy="12.9" r="2.38"/><circle cx="76" cy="20.8" r="2.38"/><circle cx="74.2" cy="19.8" r="2.38"/><circle cx="71.4" cy="11.6" r="2.38"/><circle cx="68.8" cy="19.2" r="2.38"/><circle cx="69.9" cy="23.4" r="2.38"/><circle cx="68.4" cy="13.2" r="2.38"/><circle cx="36.3" cy="44.4" r="2.38"/><circle cx="24.7" cy="43.7" r="2.38"/><circle cx="27.3" cy="41.3" r="2.38"/><circle cx="54.5" cy="39.9" r="2.38"/><circle cx="66.4" cy="38.2" r="2.38"/><circle cx="15.1" cy="38.1" r="2.38"/><circle cx="65.2" cy="5.2" r="2.38"/><circle cx="59.7" cy="4.1" r="2.38"/><circle cx="30" cy="4.8" r="2.38"/><circle cx="29.6" cy="1.7" r="2.38"/><circle cx="20" cy="8.3" r="2.38"/><circle cx="12.2" cy="13.6" r="2.38"/><circle cx="6.2" cy="31.4" r="2.38"/><circle cx="5" cy="20.2" r="2.38"/></g></svg>
<svg x="152.13" y="376.77" width="82.43" height="46.21"><path class="k" d="M27.87 4.73h3M25.87 5.73h4M30.87 5.73h1M32.87 5.73h1M24.87 6.73h4M31.87 6.73h1M22.87 7.73h7M30.87 7.73h2M40.87 7.73h1M45.87 7.73h1M18.87 8.73h1M21.87 8.73h12M36.87 8.73h2M41.87 8.73h2M44.87 8.73h4M18.87 9.73h21M40.87 9.73h9M17.87 10.73h33M16.87 11.73h38M12.87 12.73h1M15.87 12.73h39M15.87 13.73h40M12.87 14.73h1M14.87 14.73h43M13.87 15.73h47M14.87 16.73h46M14.87 17.73h47M13.87 18.73h49M13.87 19.73h50M13.87 20.73h49M14.87 21.73h48M14.87 22.73h49M13.87 23.73h1M15.87 23.73h48M16.87 24.73h48M15.87 25.73h48M17.87 26.73h46M18.87 27.73h44M18.87 28.73h43M19.87 29.73h43M21.87 30.73h41M22.87 31.73h39M24.87 32.73h37M26.87 33.73h35M27.87 34.73h10M38.87 34.73h22M27.87 35.73h9M39.87 35.73h16M57.87 35.73h2M29.87 36.73h6M39.87 36.73h9M50.87 36.73h3M30.87 37.73h4M40.87 37.73h5M42.87 38.73h1"/><g class="p"><circle cx="15.9" cy="26.8" r="2.38"/><circle cx="22" cy="30.2" r="2.38"/><circle cx="60.5" cy="23.5" r="2.38"/><circle cx="64.8" cy="22.5" r="2.38"/><circle cx="23.2" cy="10.9" r="2.38"/><circle cx="46.1" cy="38.6" r="2.38"/><circle cx="46.6" cy="11" r="2.38"/><circle cx="39" cy="8.2" r="2.38"/><circle cx="15.8" cy="11.2" r="2.38"/><circle cx="51.6" cy="35.6" r="2.38"/><circle cx="58.2" cy="37.2" r="2.38"/><circle cx="47.5" cy="34.4" r="2.38"/><circle cx="24.5" cy="31.1" r="2.38"/><circle cx="26.5" cy="7" r="2.38"/><circle cx="21.8" cy="27.9" r="2.38"/><circle cx="59.6" cy="30.5" r="2.38"/><circle cx="20.9" cy="26.2" r="2.38"/><circle cx="35.2" cy="7.4" r="2.38"/><circle cx="43.9" cy="36.7" r="2.38"/><circle cx="63.1" cy="20.6" r="2.38"/><circle cx="39.5" cy="12.9" r="2.38"/><circle cx="59.8" cy="14.3" r="2.38"/><circle cx="51.8" cy="33.8" r="2.38"/><circle cx="28.1" cy="32" r="2.38"/><circle cx="19.9" cy="26.2" r="2.38"/><circle cx="35.8" cy="12" r="2.38"/><circle cx="45.4" cy="35" r="2.38"/><circle cx="20.9" cy="11.6" r="2.38"/><circle cx="43.4" cy="39" r="2.38"/><circle cx="56.4" cy="16.7" r="2.38"/><circle cx="43" cy="35.5" r="2.38"/><circle cx="41.9" cy="34.3" r="2.38"/><circle cx="64.3" cy="30.5" r="2.38"/><circle cx="34" cy="11.8" r="2.38"/><circle cx="58.5" cy="33.3" r="2.38"/><circle cx="59.3" cy="31" r="2.38"/><circle cx="42.3" cy="12.1" r="2.38"/><circle cx="37.6" cy="11.1" r="2.38"/><circle cx="17.4" cy="22.7" r="2.38"/><circle cx="41.7" cy="12.4" r="2.38"/><circle cx="34.7" cy="33.8" r="2.38"/><circle cx="23.2" cy="11.1" r="2.38"/><circle cx="18.8" cy="14.2" r="2.38"/><circle cx="32.4" cy="6.9" r="2.38"/><circle cx="41.8" cy="10" r="2.38"/><circle cx="15.7" cy="23.5" r="2.38"/><circle cx="53.3" cy="15.4" r="2.38"/><circle cx="14.2" cy="14.3" r="2.38"/><circle cx="48.4" cy="33.7" r="2.38"/><circle cx="52.5" cy="13" r="2.38"/><circle cx="48.6" cy="35.1" r="2.38"/><circle cx="36.9" cy="32.5" r="2.38"/><circle cx="36.4" cy="33.6" r="2.38"/><circle cx="29.3" cy="32.3" r="2.38"/><circle cx="38.6" cy="32.4" r="2.38"/><circle cx="29.2" cy="6.8" r="2.38"/><circle cx="39.9" cy="11.8" r="2.38"/><circle cx="36.2" cy="11.6" r="2.38"/><circle cx="21.3" cy="10.9" r="2.38"/><circle cx="44.1" cy="12" r="2.38"/><circle cx="39.3" cy="35.3" r="2.38"/><circle cx="62.3" cy="23.4" r="2.38"/><circle cx="55.9" cy="32.7" r="2.38"/><circle cx="41.7" cy="38.7" r="2.38"/><circle cx="62.9" cy="21" r="2.38"/><circle cx="57.5" cy="36" r="2.38"/><circle cx="28.3" cy="31.9" r="2.38"/><circle cx="37.4" cy="33.3" r="2.38"/><circle cx="23.9" cy="6.1" r="2.38"/><circle cx="54.4" cy="16.3" r="2.38"/><circle cx="16" cy="23.8" r="2.38"/><circle cx="57" cy="17.4" r="2.38"/><circle cx="50" cy="13.9" r="2.38"/><circle cx="63.5" cy="21.6" r="2.38"/><circle cx="44.1" cy="36.3" r="2.38"/><circle cx="60.7" cy="25.6" r="2.38"/><circle cx="32.4" cy="35.9" r="2.38"/><circle cx="46.4" cy="35.6" r="2.38"/><circle cx="38.5" cy="10.7" r="2.38"/><circle cx="55.4" cy="34.4" r="2.38"/><circle cx="54" cy="34.7" r="2.38"/><circle cx="48.1" cy="35.3" r="2.38"/><circle cx="41.4" cy="33.2" r="2.38"/><circle cx="41.2" cy="35.1" r="2.38"/><circle cx="36.6" cy="10.9" r="2.38"/><circle cx="27.8" cy="35.1" r="2.38"/><circle cx="44.8" cy="35.2" r="2.38"/><circle cx="19.6" cy="26.9" r="2.38"/><circle cx="52.4" cy="14.3" r="2.38"/><circle cx="21.1" cy="9.3" r="2.38"/><circle cx="32.5" cy="6.8" r="2.38"/><circle cx="42.8" cy="36.7" r="2.38"/><circle cx="15.7" cy="14.5" r="2.38"/><circle cx="53.6" cy="15.1" r="2.38"/><circle cx="37" cy="32.3" r="2.38"/><circle cx="40.1" cy="33.3" r="2.38"/><circle cx="24.3" cy="30.7" r="2.38"/><circle cx="54" cy="13.3" r="2.38"/><circle cx="31.5" cy="9.4" r="2.38"/><circle cx="62.1" cy="28" r="2.38"/><circle cx="59.2" cy="18.1" r="2.38"/><circle cx="25" cy="29.8" r="2.38"/><circle cx="37.3" cy="31.5" r="2.38"/><circle cx="39.4" cy="32.1" r="2.38"/><circle cx="27" cy="34.9" r="2.38"/><circle cx="24.3" cy="5.4" r="2.38"/><circle cx="12.6" cy="10.5" r="2.38"/><circle cx="43.9" cy="11.7" r="2.38"/><circle cx="19.4" cy="23.1" r="2.38"/><circle cx="59" cy="32.6" r="2.38"/><circle cx="38.7" cy="11.5" r="2.38"/><circle cx="13.8" cy="27.7" r="2.38"/><circle cx="59.8" cy="26.4" r="2.38"/><circle cx="34.7" cy="10.6" r="2.38"/><circle cx="34.6" cy="35" r="2.38"/><circle cx="17.1" cy="20.3" r="2.38"/><circle cx="28.1" cy="30.8" r="2.38"/><circle cx="49.6" cy="36.5" r="2.38"/><circle cx="48.3" cy="10.3" r="2.38"/><circle cx="51.5" cy="13.5" r="2.38"/><circle cx="41.6" cy="34.5" r="2.38"/><circle cx="49.7" cy="36.7" r="2.38"/><circle cx="56.3" cy="37.6" r="2.38"/><circle cx="36.8" cy="35.2" r="2.38"/><circle cx="16.9" cy="21" r="2.38"/><circle cx="35.8" cy="7.7" r="2.38"/><circle cx="51" cy="34.7" r="2.38"/><circle cx="56.8" cy="14.2" r="2.38"/><circle cx="50.1" cy="13.8" r="2.38"/><circle cx="42.3" cy="34.5" r="2.38"/><circle cx="39.3" cy="12.2" r="2.38"/><circle cx="50.3" cy="33.9" r="2.38"/><circle cx="38" cy="9.9" r="2.38"/><circle cx="59.9" cy="27.7" r="2.38"/><circle cx="30" cy="7.7" r="2.38"/><circle cx="41.8" cy="34.3" r="2.38"/><circle cx="35.7" cy="11.1" r="2.38"/><circle cx="25.7" cy="29.7" r="2.38"/><circle cx="54.8" cy="16.5" r="2.38"/><circle cx="47.5" cy="11.1" r="2.38"/><circle cx="30.5" cy="33.3" r="2.38"/><circle cx="59" cy="33.8" r="2.38"/><circle cx="40" cy="33.5" r="2.38"/><circle cx="62.5" cy="32" r="2.38"/><circle cx="32.7" cy="10.9" r="2.38"/><circle cx="25.2" cy="8.2" r="2.38"/><circle cx="33.6" cy="11.3" r="2.38"/><circle cx="14.7" cy="22.2" r="2.38"/><circle cx="43" cy="37" r="2.38"/><circle cx="60" cy="36" r="2.38"/><circle cx="33.6" cy="36.6" r="2.38"/><circle cx="44.1" cy="9.1" r="2.38"/><circle cx="31.9" cy="34.9" r="2.38"/><circle cx="42.4" cy="9.4" r="2.38"/><circle cx="19.8" cy="26.3" r="2.38"/><circle cx="62.6" cy="25.4" r="2.38"/><circle cx="44.3" cy="35.3" r="2.38"/><circle cx="54.2" cy="35" r="2.38"/><circle cx="49.3" cy="12.7" r="2.38"/><circle cx="23.8" cy="28.8" r="2.38"/><circle cx="16.1" cy="21.7" r="2.38"/><circle cx="48.2" cy="34.6" r="2.38"/><circle cx="37" cy="32.3" r="2.38"/><circle cx="27.9" cy="33.5" r="2.38"/><circle cx="37.7" cy="37.2" r="2.38"/><circle cx="31.2" cy="10.8" r="2.38"/><circle cx="37.7" cy="35.1" r="2.38"/><circle cx="39.7" cy="12.7" r="2.38"/><circle cx="60.7" cy="22.8" r="2.38"/><circle cx="27.1" cy="6.6" r="2.38"/><circle cx="20.1" cy="25.6" r="2.38"/><circle cx="39.5" cy="31.7" r="2.38"/><circle cx="18.3" cy="13.8" r="2.38"/><circle cx="60.2" cy="26" r="2.38"/><circle cx="45.1" cy="12" r="2.38"/><circle cx="30.2" cy="32.9" r="2.38"/><circle cx="49.1" cy="38.4" r="2.38"/><circle cx="59.1" cy="16.3" r="2.38"/><circle cx="55.1" cy="16.9" r="2.38"/><circle cx="54.8" cy="15.5" r="2.38"/><circle cx="59.9" cy="33.6" r="2.38"/><circle cx="40.5" cy="13" r="2.38"/><circle cx="61.3" cy="21.1" r="2.38"/><circle cx="38.7" cy="32.7" r="2.38"/><circle cx="52.5" cy="12.3" r="2.38"/><circle cx="17.4" cy="21.1" r="2.38"/><circle cx="29.2" cy="36.3" r="2.38"/><circle cx="57.3" cy="10.6" r="2.38"/><circle cx="14.5" cy="13.2" r="2.38"/><circle cx="60.2" cy="21.6" r="2.38"/><circle cx="45.8" cy="11.4" r="2.38"/><circle cx="44.3" cy="10.3" r="2.38"/><circle cx="39.2" cy="32.5" r="2.38"/><circle cx="18.5" cy="10.4" r="2.38"/><circle cx="46.2" cy="11.1" r="2.38"/><circle cx="36.9" cy="35.4" r="2.38"/><circle cx="21.1" cy="25.7" r="2.38"/><circle cx="60.3" cy="21.4" r="2.38"/><circle cx="26.4" cy="30.2" r="2.38"/><circle cx="41.7" cy="9.2" r="2.38"/><circle cx="64.7" cy="29.3" r="2.38"/><circle cx="24.2" cy="29.5" r="2.38"/><circle cx="16.7" cy="16.6" r="2.38"/><circle cx="28.7" cy="9.3" r="2.38"/><circle cx="16.6" cy="23.7" r="2.38"/><circle cx="21.5" cy="28.7" r="2.38"/><circle cx="17.3" cy="27.6" r="2.38"/><circle cx="19.6" cy="26.2" r="2.38"/><circle cx="40.6" cy="12.4" r="2.38"/><circle cx="40.3" cy="12.6" r="2.38"/><circle cx="62.6" cy="29.2" r="2.38"/><circle cx="34.9" cy="8.5" r="2.38"/><circle cx="59.1" cy="17.2" r="2.38"/><circle cx="49.8" cy="33.9" r="2.38"/><circle cx="62.2" cy="25.1" r="2.38"/><circle cx="46.8" cy="34.6" r="2.38"/><circle cx="44.1" cy="36.7" r="2.38"/><circle cx="37" cy="34.9" r="2.38"/><circle cx="21.8" cy="11.8" r="2.38"/><circle cx="52.5" cy="8.9" r="2.38"/><circle cx="28.5" cy="9.4" r="2.38"/><circle cx="15.3" cy="20" r="2.38"/><circle cx="61.1" cy="37.3" r="2.38"/><circle cx="37.4" cy="31.7" r="2.38"/><circle cx="15.6" cy="20.8" r="2.38"/><circle cx="43.6" cy="10.7" r="2.38"/><circle cx="39.3" cy="32" r="2.38"/><circle cx="60.1" cy="35" r="2.38"/><circle cx="55.1" cy="36.9" r="2.38"/><circle cx="21.9" cy="11.9" r="2.38"/><circle cx="46.9" cy="9.4" r="2.38"/><circle cx="45.2" cy="11.6" r="2.38"/><circle cx="29.7" cy="6" r="2.38"/><circle cx="18.9" cy="25.8" r="2.38"/><circle cx="60.2" cy="30.6" r="2.38"/><circle cx="61.7" cy="15.5" r="2.38"/><circle cx="40.7" cy="32.4" r="2.38"/><circle cx="35.4" cy="33.5" r="2.38"/><circle cx="22.1" cy="11.5" r="2.38"/><circle cx="59.5" cy="19.7" r="2.38"/><circle cx="29.8" cy="33.4" r="2.38"/><circle cx="15" cy="17" r="2.38"/><circle cx="37.9" cy="33" r="2.38"/><circle cx="32.3" cy="36.9" r="2.38"/><circle cx="34.9" cy="7.1" r="2.38"/><circle cx="40.4" cy="34.4" r="2.38"/><circle cx="17.6" cy="18.3" r="2.38"/><circle cx="60.8" cy="28" r="2.38"/><circle cx="47.8" cy="8.3" r="2.38"/><circle cx="42.4" cy="36" r="2.38"/><circle cx="23.8" cy="29.8" r="2.38"/><circle cx="60.3" cy="18.5" r="2.38"/><circle cx="33.4" cy="10.6" r="2.38"/><circle cx="54.8" cy="34.7" r="2.38"/><circle cx="16.9" cy="23.7" r="2.38"/><circle cx="50.4" cy="33.5" r="2.38"/><circle cx="53.5" cy="34" r="2.38"/><circle cx="20.4" cy="25.5" r="2.38"/><circle cx="45.5" cy="35" r="2.38"/><circle cx="27.8" cy="7.9" r="2.38"/><circle cx="59.2" cy="32.3" r="2.38"/><circle cx="21" cy="28.4" r="2.38"/><circle cx="13.1" cy="14.1" r="2.38"/><circle cx="52.6" cy="35" r="2.38"/><circle cx="30.7" cy="11" r="2.38"/><circle cx="61.9" cy="26.3" r="2.38"/><circle cx="78.9" cy="30.3" r="2.38"/><circle cx="69.5" cy="28.6" r="2.38"/><circle cx="70.6" cy="19.2" r="2.38"/><circle cx="62.8" cy="36.4" r="2.38"/><circle cx="63.9" cy="33.2" r="2.38"/><circle cx="55" cy="43.7" r="2.38"/><circle cx="47.2" cy="44.6" r="2.38"/><circle cx="38.3" cy="41.6" r="2.38"/><circle cx="24.9" cy="42" r="2.38"/><circle cx="18.2" cy="35.7" r="2.38"/><circle cx="9.3" cy="32.8" r="2.38"/><circle cx="4.4" cy="24.1" r="2.38"/><circle cx="8.2" cy="20" r="2.38"/><circle cx="7.1" cy="4.5" r="2.38"/><circle cx="43.2" cy="1.7" r="2.38"/><circle cx="47.2" cy="5.2" r="2.38"/><circle cx="38.3" cy="4.8" r="2.38"/><circle cx="29.4" cy="5.5" r="2.38"/><circle cx="57.2" cy="7.3" r="2.38"/><circle cx="16" cy="8.7" r="2.38"/></g></svg>
<svg x="247.23" y="376.77" width="82.43" height="46.21"><path class="k" d="M20.77 5.73h1M23.77 5.73h1M25.77 5.73h1M16.77 6.73h1M20.77 6.73h12M15.77 7.73h3M19.77 7.73h14M35.77 7.73h2M12.77 8.73h27M12.77 9.73h28M11.77 10.73h30M42.77 10.73h2M10.77 11.73h35M49.77 11.73h1M10.77 12.73h37M48.77 12.73h4M10.77 13.73h45M10.77 14.73h45M11.77 15.73h44M11.77 16.73h43M10.77 17.73h45M57.77 17.73h2M62.77 17.73h1M8.77 18.73h55M10.77 19.73h52M11.77 20.73h50M10.77 21.73h51M8.77 22.73h54M10.77 23.73h51M12.77 24.73h48M14.77 25.73h45M16.77 26.73h44M18.77 27.73h44M19.77 28.73h42M19.77 29.73h41M18.77 30.73h2M21.77 30.73h40M18.77 31.73h1M22.77 31.73h40M23.77 32.73h39M22.77 33.73h1M24.77 33.73h1M27.77 33.73h34M28.77 34.73h32M29.77 35.73h31M31.77 36.73h1M33.77 36.73h7M41.77 36.73h17M38.77 37.73h1M43.77 37.73h14M52.77 38.73h2M55.77 38.73h1"/><g class="p"><circle cx="58.1" cy="16.5" r="2.38"/><circle cx="31" cy="33.2" r="2.38"/><circle cx="33.9" cy="34.6" r="2.38"/><circle cx="25.7" cy="31.6" r="2.38"/><circle cx="39.6" cy="36.5" r="2.38"/><circle cx="59.2" cy="32.1" r="2.38"/><circle cx="10.7" cy="21.2" r="2.38"/><circle cx="30" cy="7.8" r="2.38"/><circle cx="61.5" cy="25.2" r="2.38"/><circle cx="37.5" cy="35.2" r="2.38"/><circle cx="42.9" cy="34.3" r="2.38"/><circle cx="62.8" cy="16" r="2.38"/><circle cx="24.2" cy="30.6" r="2.38"/><circle cx="41.7" cy="13" r="2.38"/><circle cx="57.4" cy="27.3" r="2.38"/><circle cx="7.2" cy="23" r="2.38"/><circle cx="26.2" cy="8.7" r="2.38"/><circle cx="60.5" cy="27.5" r="2.38"/><circle cx="32.6" cy="34" r="2.38"/><circle cx="13.9" cy="9.9" r="2.38"/><circle cx="63.4" cy="34.1" r="2.38"/><circle cx="15.8" cy="9.6" r="2.38"/><circle cx="45" cy="13.8" r="2.38"/><circle cx="16.5" cy="9.5" r="2.38"/><circle cx="35.1" cy="35.9" r="2.38"/><circle cx="52.5" cy="35.4" r="2.38"/><circle cx="19" cy="28.9" r="2.38"/><circle cx="40.5" cy="12.9" r="2.38"/><circle cx="41.4" cy="13" r="2.38"/><circle cx="59.2" cy="22.1" r="2.38"/><circle cx="62.1" cy="25.1" r="2.38"/><circle cx="29.4" cy="32.2" r="2.38"/><circle cx="21.3" cy="9.8" r="2.38"/><circle cx="43.8" cy="35.2" r="2.38"/><circle cx="63" cy="19.5" r="2.38"/><circle cx="44.4" cy="36.2" r="2.38"/><circle cx="49.8" cy="15.5" r="2.38"/><circle cx="44" cy="12" r="2.38"/><circle cx="31.6" cy="8.7" r="2.38"/><circle cx="26.3" cy="8" r="2.38"/><circle cx="49.2" cy="13.8" r="2.38"/><circle cx="28.7" cy="31.1" r="2.38"/><circle cx="60.7" cy="30.2" r="2.38"/><circle cx="27.2" cy="8.9" r="2.38"/><circle cx="13.1" cy="18.2" r="2.38"/><circle cx="17.7" cy="25.2" r="2.38"/><circle cx="22.6" cy="6.1" r="2.38"/><circle cx="43.4" cy="35" r="2.38"/><circle cx="53.7" cy="35.7" r="2.38"/><circle cx="55.9" cy="19.8" r="2.38"/><circle cx="21.9" cy="7.1" r="2.38"/><circle cx="61.2" cy="29.1" r="2.38"/><circle cx="15.9" cy="7.3" r="2.38"/><circle cx="12.9" cy="21.9" r="2.38"/><circle cx="37.7" cy="9.6" r="2.38"/><circle cx="54.1" cy="15.3" r="2.38"/><circle cx="57.3" cy="20.3" r="2.38"/><circle cx="9.5" cy="17.5" r="2.38"/><circle cx="47.5" cy="15.3" r="2.38"/><circle cx="38.5" cy="11.7" r="2.38"/><circle cx="11.1" cy="19.5" r="2.38"/><circle cx="22.4" cy="7.5" r="2.38"/><circle cx="58" cy="37.9" r="2.38"/><circle cx="54.3" cy="20" r="2.38"/><circle cx="61.4" cy="26.2" r="2.38"/><circle cx="32.5" cy="8.8" r="2.38"/><circle cx="50.9" cy="36.3" r="2.38"/><circle cx="14.7" cy="10.1" r="2.38"/><circle cx="16.6" cy="23.5" r="2.38"/><circle cx="41.6" cy="33.6" r="2.38"/><circle cx="51" cy="14.6" r="2.38"/><circle cx="57" cy="18" r="2.38"/><circle cx="12.8" cy="22.8" r="2.38"/><circle cx="50.2" cy="36.8" r="2.38"/><circle cx="21.8" cy="31.3" r="2.38"/><circle cx="12.8" cy="19.6" r="2.38"/><circle cx="14.5" cy="15.3" r="2.38"/><circle cx="21.9" cy="9.9" r="2.38"/><circle cx="13.4" cy="13.2" r="2.38"/><circle cx="57.3" cy="24.3" r="2.38"/><circle cx="49.1" cy="12.8" r="2.38"/><circle cx="46.4" cy="14.3" r="2.38"/><circle cx="14.8" cy="11.8" r="2.38"/><circle cx="36.9" cy="34.8" r="2.38"/><circle cx="23.6" cy="7.5" r="2.38"/><circle cx="28.2" cy="8.2" r="2.38"/><circle cx="37" cy="35.2" r="2.38"/><circle cx="28.9" cy="8.7" r="2.38"/><circle cx="63.4" cy="35.8" r="2.38"/><circle cx="50" cy="15.3" r="2.38"/><circle cx="64.4" cy="34.9" r="2.38"/><circle cx="31.9" cy="8" r="2.38"/><circle cx="13.6" cy="25.4" r="2.38"/><circle cx="46.7" cy="14.5" r="2.38"/><circle cx="13.7" cy="7.7" r="2.38"/><circle cx="41.8" cy="12.4" r="2.38"/><circle cx="54.4" cy="37.1" r="2.38"/><circle cx="53.2" cy="17.3" r="2.38"/><circle cx="40" cy="11.7" r="2.38"/><circle cx="59" cy="22.3" r="2.38"/><circle cx="30" cy="31.9" r="2.38"/><circle cx="38.6" cy="35.9" r="2.38"/><circle cx="56.2" cy="40.4" r="2.38"/><circle cx="29.6" cy="8.6" r="2.38"/><circle cx="41" cy="33.4" r="2.38"/><circle cx="16.7" cy="28.4" r="2.38"/><circle cx="29.2" cy="31.3" r="2.38"/><circle cx="42.4" cy="37.6" r="2.38"/><circle cx="14.1" cy="17.7" r="2.38"/><circle cx="53.5" cy="19.6" r="2.38"/><circle cx="27.4" cy="31.9" r="2.38"/><circle cx="18.6" cy="10" r="2.38"/><circle cx="50.7" cy="14.1" r="2.38"/><circle cx="22.1" cy="5.4" r="2.38"/><circle cx="43.5" cy="13.1" r="2.38"/><circle cx="39" cy="35.1" r="2.38"/><circle cx="42.7" cy="12.3" r="2.38"/><circle cx="60" cy="32.9" r="2.38"/><circle cx="31.6" cy="9.8" r="2.38"/><circle cx="14.1" cy="7.7" r="2.38"/><circle cx="10.9" cy="10.5" r="2.38"/><circle cx="63.8" cy="29.6" r="2.38"/><circle cx="58" cy="19.4" r="2.38"/><circle cx="58.3" cy="31.4" r="2.38"/><circle cx="36.4" cy="9.3" r="2.38"/><circle cx="20.8" cy="9.7" r="2.38"/><circle cx="47.1" cy="36.4" r="2.38"/><circle cx="48.9" cy="15.6" r="2.38"/><circle cx="48.6" cy="15.1" r="2.38"/><circle cx="56.9" cy="25.5" r="2.38"/><circle cx="40.4" cy="36.5" r="2.38"/><circle cx="63.1" cy="17.9" r="2.38"/><circle cx="17.8" cy="4" r="2.38"/><circle cx="14.5" cy="15.6" r="2.38"/><circle cx="19.8" cy="26.8" r="2.38"/><circle cx="58.6" cy="31.7" r="2.38"/><circle cx="53.7" cy="19.9" r="2.38"/><circle cx="54.7" cy="18.9" r="2.38"/><circle cx="57.1" cy="15.8" r="2.38"/><circle cx="44.4" cy="13.6" r="2.38"/><circle cx="42.9" cy="34.4" r="2.38"/><circle cx="57" cy="36.1" r="2.38"/><circle cx="15.2" cy="5.4" r="2.38"/><circle cx="53.5" cy="18.9" r="2.38"/><circle cx="20.9" cy="32.2" r="2.38"/><circle cx="58.9" cy="33.9" r="2.38"/><circle cx="34.7" cy="34.9" r="2.38"/><circle cx="55.6" cy="20.7" r="2.38"/><circle cx="27.1" cy="33.4" r="2.38"/><circle cx="49.1" cy="37.1" r="2.38"/><circle cx="53.4" cy="18.5" r="2.38"/><circle cx="59.3" cy="31.5" r="2.38"/><circle cx="51.6" cy="14.7" r="2.38"/><circle cx="16" cy="24.3" r="2.38"/><circle cx="25" cy="8.7" r="2.38"/><circle cx="37.2" cy="10.5" r="2.38"/><circle cx="28.5" cy="30.8" r="2.38"/><circle cx="16.6" cy="10.3" r="2.38"/><circle cx="56.2" cy="17.6" r="2.38"/><circle cx="12" cy="22.5" r="2.38"/><circle cx="30.8" cy="32.8" r="2.38"/><circle cx="37.6" cy="11" r="2.38"/><circle cx="11" cy="25.6" r="2.38"/><circle cx="40.3" cy="36.1" r="2.38"/><circle cx="19" cy="24.5" r="2.38"/><circle cx="30.4" cy="32.4" r="2.38"/><circle cx="25.6" cy="30.8" r="2.38"/><circle cx="28.7" cy="32.7" r="2.38"/><circle cx="13.8" cy="21.7" r="2.38"/><circle cx="21.3" cy="10.2" r="2.38"/><circle cx="55" cy="35.6" r="2.38"/><circle cx="45.8" cy="36.4" r="2.38"/><circle cx="23.8" cy="7.8" r="2.38"/><circle cx="61.2" cy="21.7" r="2.38"/><circle cx="14.8" cy="22.6" r="2.38"/><circle cx="25.5" cy="30.8" r="2.38"/><circle cx="37" cy="34.4" r="2.38"/><circle cx="14.4" cy="16.7" r="2.38"/><circle cx="48.7" cy="35.5" r="2.38"/><circle cx="53.5" cy="36.3" r="2.38"/><circle cx="22.9" cy="28.2" r="2.38"/><circle cx="63.5" cy="21.3" r="2.38"/><circle cx="21.6" cy="7.8" r="2.38"/><circle cx="44.3" cy="35.6" r="2.38"/><circle cx="40.9" cy="34.3" r="2.38"/><circle cx="55.9" cy="21" r="2.38"/><circle cx="40.5" cy="13.3" r="2.38"/><circle cx="59" cy="32.7" r="2.38"/><circle cx="60" cy="20.1" r="2.38"/><circle cx="58.5" cy="31.2" r="2.38"/><circle cx="21.8" cy="8.3" r="2.38"/><circle cx="45.9" cy="14.4" r="2.38"/><circle cx="11.3" cy="16.6" r="2.38"/><circle cx="17.9" cy="28" r="2.38"/><circle cx="24.9" cy="30.9" r="2.38"/><circle cx="19.6" cy="9.9" r="2.38"/><circle cx="42.6" cy="13.2" r="2.38"/><circle cx="25.8" cy="33.7" r="2.38"/><circle cx="23.1" cy="32.2" r="2.38"/><circle cx="19.3" cy="25.9" r="2.38"/><circle cx="41.6" cy="13.6" r="2.38"/><circle cx="16" cy="9.5" r="2.38"/><circle cx="30.3" cy="34.2" r="2.38"/><circle cx="42.6" cy="13.3" r="2.38"/><circle cx="57.7" cy="27.2" r="2.38"/><circle cx="40.1" cy="35" r="2.38"/><circle cx="13.6" cy="19.7" r="2.38"/><circle cx="43.6" cy="34.1" r="2.38"/><circle cx="40.8" cy="34.1" r="2.38"/><circle cx="47.6" cy="10.8" r="2.38"/><circle cx="31.5" cy="34.9" r="2.38"/><circle cx="59.7" cy="23.1" r="2.38"/><circle cx="17.5" cy="23.8" r="2.38"/><circle cx="50.4" cy="36.1" r="2.38"/><circle cx="35.1" cy="9.7" r="2.38"/><circle cx="53.6" cy="36.7" r="2.38"/><circle cx="23.5" cy="29.5" r="2.38"/><circle cx="51.6" cy="36.5" r="2.38"/><circle cx="16.3" cy="23.5" r="2.38"/><circle cx="22.5" cy="28.9" r="2.38"/><circle cx="25.2" cy="29.9" r="2.38"/><circle cx="26.9" cy="9" r="2.38"/><circle cx="26.9" cy="7.8" r="2.38"/><circle cx="32.1" cy="35.3" r="2.38"/><circle cx="58.1" cy="34.9" r="2.38"/><circle cx="14.5" cy="15.2" r="2.38"/><circle cx="53" cy="14.5" r="2.38"/><circle cx="44.3" cy="14.1" r="2.38"/><circle cx="21.8" cy="9.6" r="2.38"/><circle cx="26.5" cy="7.2" r="2.38"/><circle cx="59.3" cy="28" r="2.38"/><circle cx="59.6" cy="31.6" r="2.38"/><circle cx="41.3" cy="37.8" r="2.38"/><circle cx="58.7" cy="26.7" r="2.38"/><circle cx="54.5" cy="19.8" r="2.38"/><circle cx="34.4" cy="10.6" r="2.38"/><circle cx="45.3" cy="35.7" r="2.38"/><circle cx="51.8" cy="13.7" r="2.38"/><circle cx="21.2" cy="26.9" r="2.38"/><circle cx="58.6" cy="28.7" r="2.38"/><circle cx="38.6" cy="9.9" r="2.38"/><circle cx="12.1" cy="12.5" r="2.38"/><circle cx="13.2" cy="11.8" r="2.38"/><circle cx="57.6" cy="23.8" r="2.38"/><circle cx="8.5" cy="15.8" r="2.38"/><circle cx="46" cy="14.8" r="2.38"/><circle cx="63.2" cy="29.7" r="2.38"/><circle cx="60.8" cy="29.3" r="2.38"/><circle cx="19.2" cy="30.2" r="2.38"/><circle cx="14" cy="16" r="2.38"/><circle cx="46.5" cy="15" r="2.38"/><circle cx="20.9" cy="26.9" r="2.38"/><circle cx="20.8" cy="25.6" r="2.38"/><circle cx="54.6" cy="37.2" r="2.38"/><circle cx="22.3" cy="5.7" r="2.38"/><circle cx="79.3" cy="36" r="2.38"/><circle cx="72" cy="35" r="2.38"/><circle cx="77.8" cy="28.4" r="2.38"/><circle cx="72" cy="30.3" r="2.38"/><circle cx="59.2" cy="44.4" r="2.38"/><circle cx="54.8" cy="41.7" r="2.38"/><circle cx="48.1" cy="43.7" r="2.38"/><circle cx="59.2" cy="38.8" r="2.38"/><circle cx="22.5" cy="37.5" r="2.38"/><circle cx="31.4" cy="38.5" r="2.38"/><circle cx="19.1" cy="33.6" r="2.38"/><circle cx="5.7" cy="29.7" r="2.38"/><circle cx="6.8" cy="24.8" r="2.38"/><circle cx="70.4" cy="14.6" r="2.38"/><circle cx="64.8" cy="18.1" r="2.38"/><circle cx="54.1" cy="10.4" r="2.38"/><circle cx="36.9" cy="4.5" r="2.38"/><circle cx="23.6" cy="4.8" r="2.38"/><circle cx="14.6" cy="1.7" r="2.38"/><circle cx="9.5" cy="5.9" r="2.38"/><circle cx="6.8" cy="9.4" r="2.38"/><circle cx="4.6" cy="13.9" r="2.38"/></g></svg>
<svg x="342.34" y="376.77" width="82.43" height="46.21"><path class="k" d="M17.66 5.73h1M17.66 6.73h2M16.66 7.73h4M21.66 7.73h3M25.66 7.73h1M28.66 7.73h1M31.66 7.73h6M14.66 8.73h23M13.66 9.73h23M12.66 10.73h25M39.66 10.73h1M41.66 10.73h5M12.66 11.73h27M42.66 11.73h4M13.66 12.73h27M41.66 12.73h5M10.66 13.73h1M12.66 13.73h34M10.66 14.73h37M48.66 14.73h1M51.66 14.73h1M11.66 15.73h42M54.66 15.73h1M11.66 16.73h44M11.66 17.73h45M10.66 18.73h49M11.66 19.73h49M13.66 20.73h48M14.66 21.73h48M14.66 22.73h47M14.66 23.73h48M13.66 24.73h49M14.66 25.73h1M16.66 25.73h46M17.66 26.73h44M19.66 27.73h41M20.66 28.73h40M21.66 29.73h1M23.66 29.73h2M26.66 29.73h35M27.66 30.73h33M61.66 30.73h1M27.66 31.73h32M26.66 32.73h33M27.66 33.73h4M32.66 33.73h28M61.66 33.73h1M29.66 34.73h1M33.66 34.73h30M65.66 34.73h2M34.66 35.73h25M61.66 35.73h1M66.66 35.73h1M34.66 36.73h16M51.66 36.73h7M38.66 37.73h1M40.66 37.73h1M42.66 37.73h7M53.66 37.73h1M55.66 37.73h3M46.66 38.73h2M49.66 38.73h1"/><g class="p"><circle cx="22.7" cy="10.3" r="2.38"/><circle cx="14.2" cy="16.4" r="2.38"/><circle cx="48.6" cy="36.4" r="2.38"/><circle cx="11" cy="15.8" r="2.38"/><circle cx="50.2" cy="34.6" r="2.38"/><circle cx="55.4" cy="19.5" r="2.38"/><circle cx="22.5" cy="30.4" r="2.38"/><circle cx="18.3" cy="10.2" r="2.38"/><circle cx="45.5" cy="17" r="2.38"/><circle cx="56.3" cy="35.5" r="2.38"/><circle cx="31.3" cy="33.7" r="2.38"/><circle cx="60.8" cy="24.6" r="2.38"/><circle cx="24.6" cy="27.6" r="2.38"/><circle cx="28.1" cy="28.6" r="2.38"/><circle cx="58.2" cy="19.9" r="2.38"/><circle cx="59.4" cy="27.2" r="2.38"/><circle cx="36" cy="35.2" r="2.38"/><circle cx="38.8" cy="34.5" r="2.38"/><circle cx="29.4" cy="29.5" r="2.38"/><circle cx="35.9" cy="8.5" r="2.38"/><circle cx="12.5" cy="7.2" r="2.38"/><circle cx="67.2" cy="32.3" r="2.38"/><circle cx="67" cy="34.2" r="2.38"/><circle cx="59.5" cy="29.6" r="2.38"/><circle cx="61.4" cy="24.5" r="2.38"/><circle cx="23.4" cy="27.2" r="2.38"/><circle cx="58.2" cy="38.4" r="2.38"/><circle cx="55.5" cy="34.5" r="2.38"/><circle cx="35" cy="12.4" r="2.38"/><circle cx="41.1" cy="15.7" r="2.38"/><circle cx="40.7" cy="34.8" r="2.38"/><circle cx="55.9" cy="20.9" r="2.38"/><circle cx="50.5" cy="16.6" r="2.38"/><circle cx="45.3" cy="12.6" r="2.38"/><circle cx="60" cy="32.6" r="2.38"/><circle cx="44.9" cy="39.2" r="2.38"/><circle cx="26.8" cy="27.7" r="2.38"/><circle cx="54.5" cy="35.1" r="2.38"/><circle cx="40.6" cy="34.9" r="2.38"/><circle cx="34.7" cy="32.4" r="2.38"/><circle cx="28.8" cy="28.1" r="2.38"/><circle cx="26.4" cy="27.6" r="2.38"/><circle cx="11.6" cy="22.5" r="2.38"/><circle cx="34.1" cy="9.7" r="2.38"/><circle cx="60.9" cy="33.7" r="2.38"/><circle cx="16.7" cy="25.1" r="2.38"/><circle cx="42.1" cy="15.3" r="2.38"/><circle cx="10.6" cy="9.6" r="2.38"/><circle cx="36.1" cy="12.4" r="2.38"/><circle cx="47" cy="36.7" r="2.38"/><circle cx="13.1" cy="13.8" r="2.38"/><circle cx="56.3" cy="36.5" r="2.38"/><circle cx="34" cy="34.9" r="2.38"/><circle cx="51.6" cy="34.5" r="2.38"/><circle cx="58.9" cy="23.1" r="2.38"/><circle cx="10.6" cy="16.6" r="2.38"/><circle cx="23.4" cy="8.7" r="2.38"/><circle cx="14.5" cy="18" r="2.38"/><circle cx="16.4" cy="19.6" r="2.38"/><circle cx="57.4" cy="34.3" r="2.38"/><circle cx="44.8" cy="35.6" r="2.38"/><circle cx="61.5" cy="27.9" r="2.38"/><circle cx="58.4" cy="30" r="2.38"/><circle cx="33.7" cy="31" r="2.38"/><circle cx="22" cy="6.5" r="2.38"/><circle cx="42.5" cy="15.3" r="2.38"/><circle cx="16.4" cy="23.8" r="2.38"/><circle cx="43.8" cy="13.2" r="2.38"/><circle cx="17.7" cy="9.8" r="2.38"/><circle cx="39" cy="14.2" r="2.38"/><circle cx="15.1" cy="18.2" r="2.38"/><circle cx="52.2" cy="35.1" r="2.38"/><circle cx="29.4" cy="32.9" r="2.38"/><circle cx="29.4" cy="28.3" r="2.38"/><circle cx="52.1" cy="16.3" r="2.38"/><circle cx="58.5" cy="31.1" r="2.38"/><circle cx="22.2" cy="10.6" r="2.38"/><circle cx="39.1" cy="36.4" r="2.38"/><circle cx="19.9" cy="28.5" r="2.38"/><circle cx="32.9" cy="32" r="2.38"/><circle cx="32.2" cy="31.8" r="2.38"/><circle cx="16.6" cy="19.5" r="2.38"/><circle cx="59.7" cy="35.2" r="2.38"/><circle cx="23.4" cy="27.8" r="2.38"/><circle cx="49.7" cy="17.2" r="2.38"/><circle cx="18.8" cy="25.7" r="2.38"/><circle cx="19.5" cy="6" r="2.38"/><circle cx="53.8" cy="35.6" r="2.38"/><circle cx="22.7" cy="27.6" r="2.38"/><circle cx="15.7" cy="22" r="2.38"/><circle cx="49.7" cy="33.9" r="2.38"/><circle cx="58.9" cy="26.3" r="2.38"/><circle cx="42" cy="15.2" r="2.38"/><circle cx="59.7" cy="22.4" r="2.38"/><circle cx="57.8" cy="29.1" r="2.38"/><circle cx="36.5" cy="12.2" r="2.38"/><circle cx="61.2" cy="27.5" r="2.38"/><circle cx="26.3" cy="27.5" r="2.38"/><circle cx="38" cy="11" r="2.38"/><circle cx="36.3" cy="13.6" r="2.38"/><circle cx="53.7" cy="16" r="2.38"/><circle cx="50.8" cy="37.1" r="2.38"/><circle cx="27.3" cy="27.4" r="2.38"/><circle cx="9.2" cy="16" r="2.38"/><circle cx="16.8" cy="22.2" r="2.38"/><circle cx="61" cy="31.4" r="2.38"/><circle cx="48.9" cy="35.5" r="2.38"/><circle cx="41.9" cy="15.3" r="2.38"/><circle cx="39.9" cy="15.2" r="2.38"/><circle cx="29.1" cy="9.8" r="2.38"/><circle cx="58.9" cy="28.1" r="2.38"/><circle cx="35.1" cy="10.6" r="2.38"/><circle cx="59.4" cy="24.3" r="2.38"/><circle cx="33.4" cy="9.3" r="2.38"/><circle cx="60.3" cy="33.2" r="2.38"/><circle cx="15.3" cy="11.9" r="2.38"/><circle cx="32.5" cy="34.7" r="2.38"/><circle cx="65.9" cy="35.6" r="2.38"/><circle cx="15.8" cy="22.7" r="2.38"/><circle cx="16.6" cy="10.7" r="2.38"/><circle cx="32.9" cy="8.7" r="2.38"/><circle cx="59.8" cy="32.6" r="2.38"/><circle cx="37.5" cy="35.3" r="2.38"/><circle cx="45.8" cy="15" r="2.38"/><circle cx="27.7" cy="31.9" r="2.38"/><circle cx="47.4" cy="11.8" r="2.38"/><circle cx="38.7" cy="15.2" r="2.38"/><circle cx="16.2" cy="13.1" r="2.38"/><circle cx="56.8" cy="20.8" r="2.38"/><circle cx="13.3" cy="16" r="2.38"/><circle cx="47.1" cy="17.8" r="2.38"/><circle cx="13.2" cy="22.7" r="2.38"/><circle cx="21.1" cy="27.4" r="2.38"/><circle cx="59.8" cy="24.7" r="2.38"/><circle cx="22.9" cy="10.3" r="2.38"/><circle cx="50.9" cy="34.3" r="2.38"/><circle cx="57.5" cy="18.4" r="2.38"/><circle cx="16.6" cy="6.2" r="2.38"/><circle cx="12.9" cy="12.3" r="2.38"/><circle cx="56.3" cy="38" r="2.38"/><circle cx="58.6" cy="30.9" r="2.38"/><circle cx="13.1" cy="17.2" r="2.38"/><circle cx="47" cy="17.6" r="2.38"/><circle cx="16.8" cy="21.1" r="2.38"/><circle cx="51.3" cy="17" r="2.38"/><circle cx="16.7" cy="26.6" r="2.38"/><circle cx="57.8" cy="33.6" r="2.38"/><circle cx="57" cy="17.5" r="2.38"/><circle cx="28.9" cy="10.1" r="2.38"/><circle cx="27.8" cy="28.7" r="2.38"/><circle cx="15.6" cy="21.6" r="2.38"/><circle cx="33" cy="31.6" r="2.38"/><circle cx="47.5" cy="16.1" r="2.38"/><circle cx="42.6" cy="36.3" r="2.38"/><circle cx="42.4" cy="37.3" r="2.38"/><circle cx="36.4" cy="33.1" r="2.38"/><circle cx="50" cy="38.4" r="2.38"/><circle cx="57.8" cy="28" r="2.38"/><circle cx="21.7" cy="8.4" r="2.38"/><circle cx="60.7" cy="32.1" r="2.38"/><circle cx="58.4" cy="29.9" r="2.38"/><circle cx="21" cy="10.7" r="2.38"/><circle cx="13.5" cy="18.8" r="2.38"/><circle cx="67.1" cy="42.4" r="2.38"/><circle cx="48.2" cy="17.4" r="2.38"/><circle cx="50.2" cy="33.7" r="2.38"/><circle cx="17" cy="20" r="2.38"/><circle cx="45.6" cy="16" r="2.38"/><circle cx="46.3" cy="36.5" r="2.38"/><circle cx="31.2" cy="32" r="2.38"/><circle cx="40.3" cy="15.1" r="2.38"/><circle cx="29.5" cy="30.5" r="2.38"/><circle cx="32.2" cy="31.3" r="2.38"/><circle cx="40.5" cy="12.8" r="2.38"/><circle cx="21.9" cy="26.4" r="2.38"/><circle cx="28.9" cy="28.2" r="2.38"/><circle cx="58.2" cy="26" r="2.38"/><circle cx="59.2" cy="37.3" r="2.38"/><circle cx="29.1" cy="10" r="2.38"/><circle cx="53.6" cy="17.1" r="2.38"/><circle cx="37.2" cy="36.2" r="2.38"/><circle cx="60.4" cy="35.6" r="2.38"/><circle cx="47.3" cy="16.9" r="2.38"/><circle cx="37.9" cy="10" r="2.38"/><circle cx="66.7" cy="33.2" r="2.38"/><circle cx="29.2" cy="30.1" r="2.38"/><circle cx="50.4" cy="35.2" r="2.38"/><circle cx="62.7" cy="21.2" r="2.38"/><circle cx="21.4" cy="27.7" r="2.38"/><circle cx="29.7" cy="29.2" r="2.38"/><circle cx="27.1" cy="26.9" r="2.38"/><circle cx="62.2" cy="33.6" r="2.38"/><circle cx="23.9" cy="27.7" r="2.38"/><circle cx="32.2" cy="33.3" r="2.38"/><circle cx="29.8" cy="29.1" r="2.38"/><circle cx="36.3" cy="12" r="2.38"/><circle cx="39.3" cy="15.2" r="2.38"/><circle cx="52.2" cy="33.8" r="2.38"/><circle cx="51.1" cy="15.2" r="2.38"/><circle cx="33.7" cy="31.5" r="2.38"/><circle cx="18" cy="8.4" r="2.38"/><circle cx="65.4" cy="35.8" r="2.38"/><circle cx="59" cy="29.8" r="2.38"/><circle cx="13.9" cy="13.3" r="2.38"/><circle cx="58.7" cy="28.1" r="2.38"/><circle cx="47.5" cy="16.2" r="2.38"/><circle cx="49.7" cy="34.1" r="2.38"/><circle cx="11.3" cy="12.9" r="2.38"/><circle cx="29.8" cy="31.9" r="2.38"/><circle cx="61" cy="20.7" r="2.38"/><circle cx="43.9" cy="12.1" r="2.38"/><circle cx="31.7" cy="7" r="2.38"/><circle cx="58.2" cy="32" r="2.38"/><circle cx="25.5" cy="27.1" r="2.38"/><circle cx="27.4" cy="9.8" r="2.38"/><circle cx="44.6" cy="15.1" r="2.38"/><circle cx="15.9" cy="10.1" r="2.38"/><circle cx="25" cy="11" r="2.38"/><circle cx="37.1" cy="13.3" r="2.38"/><circle cx="22" cy="26.6" r="2.38"/><circle cx="29.8" cy="29.1" r="2.38"/><circle cx="15.3" cy="19.7" r="2.38"/><circle cx="29.5" cy="10.9" r="2.38"/><circle cx="60" cy="21.5" r="2.38"/><circle cx="33.2" cy="9.3" r="2.38"/><circle cx="23.2" cy="28" r="2.38"/><circle cx="45.6" cy="11.8" r="2.38"/><circle cx="55.4" cy="20.4" r="2.38"/><circle cx="59.4" cy="23.8" r="2.38"/><circle cx="65" cy="36.8" r="2.38"/><circle cx="40" cy="13.2" r="2.38"/><circle cx="24.8" cy="28.1" r="2.38"/><circle cx="16.6" cy="23.2" r="2.38"/><circle cx="14.7" cy="19.9" r="2.38"/><circle cx="37.4" cy="14" r="2.38"/><circle cx="59.8" cy="24.9" r="2.38"/><circle cx="27.2" cy="8.6" r="2.38"/><circle cx="25.3" cy="10.4" r="2.38"/><circle cx="28.3" cy="28.3" r="2.38"/><circle cx="16" cy="20" r="2.38"/><circle cx="27.6" cy="10.1" r="2.38"/><circle cx="59.9" cy="24.1" r="2.38"/><circle cx="18.1" cy="8.8" r="2.38"/><circle cx="39.3" cy="14.9" r="2.38"/><circle cx="39.9" cy="10.9" r="2.38"/><circle cx="41.6" cy="11" r="2.38"/><circle cx="45.5" cy="16.7" r="2.38"/><circle cx="18.1" cy="24.3" r="2.38"/><circle cx="28.3" cy="27.5" r="2.38"/><circle cx="50.2" cy="36.4" r="2.38"/><circle cx="51.3" cy="34.4" r="2.38"/><circle cx="21.4" cy="27.8" r="2.38"/><circle cx="45" cy="36.7" r="2.38"/><circle cx="24.9" cy="28.3" r="2.38"/><circle cx="46.6" cy="17.4" r="2.38"/><circle cx="55.4" cy="20.2" r="2.38"/><circle cx="39.9" cy="15.2" r="2.38"/><circle cx="59" cy="23.5" r="2.38"/><circle cx="40.7" cy="12.8" r="2.38"/><circle cx="50.9" cy="17.5" r="2.38"/><circle cx="22.8" cy="10.4" r="2.38"/><circle cx="21.1" cy="10.4" r="2.38"/><circle cx="48" cy="36.7" r="2.38"/><circle cx="51.5" cy="33.7" r="2.38"/><circle cx="47.5" cy="36.7" r="2.38"/><circle cx="50.8" cy="36.5" r="2.38"/><circle cx="16.1" cy="9.7" r="2.38"/><circle cx="53.8" cy="34.5" r="2.38"/><circle cx="42.4" cy="35.7" r="2.38"/><circle cx="33.1" cy="9.5" r="2.38"/><circle cx="46.9" cy="16.4" r="2.38"/><circle cx="24.8" cy="9.8" r="2.38"/><circle cx="43.7" cy="35.6" r="2.38"/><circle cx="47.7" cy="36.1" r="2.38"/><circle cx="17" cy="22.8" r="2.38"/><circle cx="44.5" cy="12.9" r="2.38"/><circle cx="45.9" cy="39.6" r="2.38"/><circle cx="32.6" cy="31" r="2.38"/><circle cx="53" cy="18.2" r="2.38"/><circle cx="25.8" cy="27.3" r="2.38"/><circle cx="50.8" cy="36.4" r="2.38"/><circle cx="13.6" cy="16.7" r="2.38"/><circle cx="34.4" cy="8.8" r="2.38"/><circle cx="37.2" cy="9" r="2.38"/><circle cx="31.6" cy="10.5" r="2.38"/><circle cx="15.6" cy="13.8" r="2.38"/><circle cx="60.1" cy="26.4" r="2.38"/><circle cx="57.2" cy="32.6" r="2.38"/><circle cx="52.7" cy="18.6" r="2.38"/><circle cx="53.8" cy="35.2" r="2.38"/><circle cx="49.4" cy="17.3" r="2.38"/><circle cx="60.5" cy="24.5" r="2.38"/><circle cx="52.9" cy="34.1" r="2.38"/><circle cx="26.2" cy="29.7" r="2.38"/><circle cx="31.1" cy="10.6" r="2.38"/><circle cx="18.7" cy="25" r="2.38"/><circle cx="52" cy="33.6" r="2.38"/><circle cx="50.5" cy="16.8" r="2.38"/><circle cx="11.6" cy="13" r="2.38"/><circle cx="20.5" cy="5.2" r="2.38"/><circle cx="51.3" cy="36.7" r="2.38"/><circle cx="54.7" cy="17.7" r="2.38"/><circle cx="32.1" cy="31.5" r="2.38"/><circle cx="29.1" cy="28.1" r="2.38"/><circle cx="15.9" cy="14.6" r="2.38"/><circle cx="24.5" cy="31.2" r="2.38"/><circle cx="40.4" cy="16" r="2.38"/><circle cx="52.2" cy="33.8" r="2.38"/><circle cx="74.2" cy="44.4" r="2.38"/><circle cx="79.3" cy="37.5" r="2.38"/><circle cx="65.9" cy="42" r="2.38"/><circle cx="56.4" cy="43.7" r="2.38"/><circle cx="51.9" cy="41.6" r="2.38"/><circle cx="68.2" cy="37.5" r="2.38"/><circle cx="43" cy="39.2" r="2.38"/><circle cx="37" cy="38.1" r="2.38"/><circle cx="31.8" cy="36.4" r="2.38"/><circle cx="16.2" cy="32.5" r="2.38"/><circle cx="14" cy="29.3" r="2.38"/><circle cx="11.8" cy="26.5" r="2.38"/><circle cx="60.8" cy="17.9" r="2.38"/><circle cx="57.9" cy="13.4" r="2.38"/><circle cx="54.1" cy="11.5" r="2.38"/><circle cx="50.3" cy="8.7" r="2.38"/><circle cx="36.3" cy="5.9" r="2.38"/><circle cx="24" cy="5.5" r="2.38"/><circle cx="20.7" cy="1.7" r="2.38"/><circle cx="11.8" cy="4.1" r="2.38"/><circle cx="6.2" cy="6.9" r="2.38"/><circle cx="8.4" cy="9.7" r="2.38"/><circle cx="4" cy="13.6" r="2.38"/></g></svg>
<svg x="437.44" y="376.77" width="82.43" height="46.21"><path class="k" d="M16.56 4.73h2M21.56 4.73h1M14.56 5.73h12M14.56 6.73h15M13.56 7.73h17M14.56 8.73h19M15.56 9.73h19M36.56 9.73h6M9.56 10.73h3M14.56 10.73h28M10.56 11.73h33M11.56 12.73h37M11.56 13.73h38M51.56 13.73h1M10.56 14.73h43M10.56 15.73h47M11.56 16.73h46M11.56 17.73h47M59.56 17.73h1M12.56 18.73h49M63.56 18.73h1M14.56 19.73h1M16.56 19.73h48M17.56 20.73h48M17.56 21.73h1M20.56 21.73h47M68.56 21.73h1M22.56 22.73h48M23.56 23.73h47M24.56 24.73h45M25.56 25.73h45M28.56 26.73h44M29.56 27.73h42M30.56 28.73h41M31.56 29.73h2M34.56 29.73h38M35.56 30.73h37M37.56 31.73h36M40.56 32.73h2M44.56 32.73h32M45.56 33.73h28M74.56 33.73h1M46.56 34.73h26M47.56 35.73h1M49.56 35.73h19M70.56 35.73h2M51.56 36.73h1M56.56 36.73h1M59.56 36.73h8M72.56 36.73h1M74.56 36.73h1M60.56 37.73h1M62.56 37.73h6M73.56 37.73h1M63.56 38.73h2M70.56 38.73h1M60.56 39.73h1"/><g class="p"><circle cx="30.9" cy="9.7" r="2.38"/><circle cx="28.8" cy="9.9" r="2.38"/><circle cx="59.9" cy="34.4" r="2.38"/><circle cx="55.2" cy="17.6" r="2.38"/><circle cx="16.5" cy="12.3" r="2.38"/><circle cx="62.8" cy="35.1" r="2.38"/><circle cx="20.9" cy="20.1" r="2.38"/><circle cx="57.7" cy="37.6" r="2.38"/><circle cx="44.5" cy="33.5" r="2.38"/><circle cx="17.5" cy="11" r="2.38"/><circle cx="42.8" cy="29.5" r="2.38"/><circle cx="63.2" cy="22.4" r="2.38"/><circle cx="33.1" cy="27.4" r="2.38"/><circle cx="57.5" cy="33.5" r="2.38"/><circle cx="63.5" cy="22" r="2.38"/><circle cx="71" cy="36.8" r="2.38"/><circle cx="61.1" cy="20.6" r="2.38"/><circle cx="43.1" cy="31.1" r="2.38"/><circle cx="55.6" cy="33.7" r="2.38"/><circle cx="69.8" cy="35.6" r="2.38"/><circle cx="30.6" cy="25.1" r="2.38"/><circle cx="73.1" cy="36.4" r="2.38"/><circle cx="66.5" cy="35" r="2.38"/><circle cx="46.8" cy="31.5" r="2.38"/><circle cx="39" cy="28.8" r="2.38"/><circle cx="47.6" cy="33.8" r="2.38"/><circle cx="14.8" cy="3.5" r="2.38"/><circle cx="54.8" cy="18" r="2.38"/><circle cx="42.4" cy="10.8" r="2.38"/><circle cx="56.8" cy="33.6" r="2.38"/><circle cx="46.2" cy="32.7" r="2.38"/><circle cx="43" cy="30.2" r="2.38"/><circle cx="46.5" cy="32.3" r="2.38"/><circle cx="22.8" cy="20.4" r="2.38"/><circle cx="47.7" cy="14.8" r="2.38"/><circle cx="20.7" cy="19" r="2.38"/><circle cx="44" cy="13.3" r="2.38"/><circle cx="62.2" cy="34.8" r="2.38"/><circle cx="60.6" cy="19.6" r="2.38"/><circle cx="46.2" cy="13.8" r="2.38"/><circle cx="35.3" cy="30.4" r="2.38"/><circle cx="42.1" cy="30.3" r="2.38"/><circle cx="67.1" cy="22.4" r="2.38"/><circle cx="51.4" cy="34.8" r="2.38"/><circle cx="45.9" cy="14.1" r="2.38"/><circle cx="50.4" cy="33.2" r="2.38"/><circle cx="20.8" cy="20.1" r="2.38"/><circle cx="45.6" cy="30.1" r="2.38"/><circle cx="49.2" cy="34.8" r="2.38"/><circle cx="39.2" cy="28.9" r="2.38"/><circle cx="16.2" cy="6.9" r="2.38"/><circle cx="16.2" cy="10.9" r="2.38"/><circle cx="29.9" cy="23.8" r="2.38"/><circle cx="25.6" cy="8.6" r="2.38"/><circle cx="57.5" cy="34.3" r="2.38"/><circle cx="19.5" cy="7.1" r="2.38"/><circle cx="10.3" cy="12.6" r="2.38"/><circle cx="58.4" cy="16.7" r="2.38"/><circle cx="30.7" cy="25.4" r="2.38"/><circle cx="44.1" cy="30.6" r="2.38"/><circle cx="36.1" cy="28.1" r="2.38"/><circle cx="26.6" cy="8.9" r="2.38"/><circle cx="65.9" cy="38.7" r="2.38"/><circle cx="52.9" cy="16.2" r="2.38"/><circle cx="34.9" cy="26.5" r="2.38"/><circle cx="46.7" cy="15" r="2.38"/><circle cx="32.1" cy="10.7" r="2.38"/><circle cx="29.9" cy="10.3" r="2.38"/><circle cx="70.6" cy="30.4" r="2.38"/><circle cx="28.9" cy="7.9" r="2.38"/><circle cx="66.3" cy="34.6" r="2.38"/><circle cx="35" cy="26.8" r="2.38"/><circle cx="56" cy="16.5" r="2.38"/><circle cx="27" cy="8.2" r="2.38"/><circle cx="62" cy="39.2" r="2.38"/><circle cx="25.1" cy="8.6" r="2.38"/><circle cx="35.1" cy="27.4" r="2.38"/><circle cx="14.4" cy="8.8" r="2.38"/><circle cx="67.3" cy="24" r="2.38"/><circle cx="66.9" cy="33.1" r="2.38"/><circle cx="23.8" cy="20" r="2.38"/><circle cx="16.5" cy="19.4" r="2.38"/><circle cx="41.4" cy="31.5" r="2.38"/><circle cx="34" cy="12.7" r="2.38"/><circle cx="34.1" cy="26.6" r="2.38"/><circle cx="48.6" cy="33.7" r="2.38"/><circle cx="26.6" cy="22.6" r="2.38"/><circle cx="42.3" cy="14.6" r="2.38"/><circle cx="52.6" cy="33.4" r="2.38"/><circle cx="20.5" cy="18.7" r="2.38"/><circle cx="22.5" cy="4.4" r="2.38"/><circle cx="69.1" cy="36.8" r="2.38"/><circle cx="60.6" cy="35.1" r="2.38"/><circle cx="58.5" cy="19.4" r="2.38"/><circle cx="65.6" cy="34.4" r="2.38"/><circle cx="53.8" cy="33.7" r="2.38"/><circle cx="35.9" cy="29" r="2.38"/><circle cx="19.9" cy="21.7" r="2.38"/><circle cx="60.6" cy="35.1" r="2.38"/><circle cx="43.1" cy="33.4" r="2.38"/><circle cx="35.2" cy="12.8" r="2.38"/><circle cx="42" cy="13.4" r="2.38"/><circle cx="44.5" cy="15" r="2.38"/><circle cx="74" cy="34.9" r="2.38"/><circle cx="32" cy="9.7" r="2.38"/><circle cx="59.3" cy="33.8" r="2.38"/><circle cx="45.4" cy="30.3" r="2.38"/><circle cx="19.5" cy="21.7" r="2.38"/><circle cx="27.3" cy="23" r="2.38"/><circle cx="17.4" cy="16.8" r="2.38"/><circle cx="36.7" cy="12.7" r="2.38"/><circle cx="13.3" cy="16.9" r="2.38"/><circle cx="72.7" cy="35.5" r="2.38"/><circle cx="71.2" cy="32.9" r="2.38"/><circle cx="60.5" cy="21.2" r="2.38"/><circle cx="40.6" cy="13" r="2.38"/><circle cx="59.3" cy="33.5" r="2.38"/><circle cx="67.9" cy="39.7" r="2.38"/><circle cx="36.8" cy="28.8" r="2.38"/><circle cx="46.3" cy="14.8" r="2.38"/><circle cx="65.3" cy="22.6" r="2.38"/><circle cx="41.9" cy="12.4" r="2.38"/><circle cx="56" cy="34.7" r="2.38"/><circle cx="39.3" cy="31" r="2.38"/><circle cx="22" cy="6.9" r="2.38"/><circle cx="24" cy="21.8" r="2.38"/><circle cx="49.2" cy="16.9" r="2.38"/><circle cx="35.6" cy="27.4" r="2.38"/><circle cx="55.2" cy="16.8" r="2.38"/><circle cx="31.4" cy="27.7" r="2.38"/><circle cx="41.7" cy="12.2" r="2.38"/><circle cx="22.1" cy="19.6" r="2.38"/><circle cx="73.8" cy="24.3" r="2.38"/><circle cx="54.9" cy="34.7" r="2.38"/><circle cx="13.6" cy="11.1" r="2.38"/><circle cx="14.4" cy="11.1" r="2.38"/><circle cx="15.9" cy="18.1" r="2.38"/><circle cx="55.8" cy="18.4" r="2.38"/><circle cx="63.3" cy="21" r="2.38"/><circle cx="50.1" cy="36.2" r="2.38"/><circle cx="19.8" cy="4.9" r="2.38"/><circle cx="13.3" cy="17.6" r="2.38"/><circle cx="65.3" cy="37.4" r="2.38"/><circle cx="42.7" cy="30.1" r="2.38"/><circle cx="34.4" cy="30.3" r="2.38"/><circle cx="60.8" cy="35.5" r="2.38"/><circle cx="66.7" cy="33.7" r="2.38"/><circle cx="51.9" cy="16.7" r="2.38"/><circle cx="59.5" cy="17.6" r="2.38"/><circle cx="16.7" cy="11.8" r="2.38"/><circle cx="65.5" cy="22.5" r="2.38"/><circle cx="69.9" cy="24" r="2.38"/><circle cx="19" cy="18.7" r="2.38"/><circle cx="66.1" cy="37" r="2.38"/><circle cx="65.3" cy="20.8" r="2.38"/><circle cx="30.3" cy="10.7" r="2.38"/><circle cx="42.9" cy="30.2" r="2.38"/><circle cx="37.8" cy="12.5" r="2.38"/><circle cx="69.8" cy="27.4" r="2.38"/><circle cx="30.3" cy="24.1" r="2.38"/><circle cx="42" cy="13.5" r="2.38"/><circle cx="35.5" cy="28.3" r="2.38"/><circle cx="25.6" cy="7.5" r="2.38"/><circle cx="49.7" cy="16.5" r="2.38"/><circle cx="28.5" cy="9.4" r="2.38"/><circle cx="17.8" cy="7.3" r="2.38"/><circle cx="65.1" cy="37" r="2.38"/><circle cx="59.4" cy="37.7" r="2.38"/><circle cx="37.7" cy="10.6" r="2.38"/><circle cx="31.7" cy="10.3" r="2.38"/><circle cx="53.8" cy="17.4" r="2.38"/><circle cx="71" cy="37.3" r="2.38"/><circle cx="30.5" cy="10.8" r="2.38"/><circle cx="16.9" cy="17" r="2.38"/><circle cx="52.8" cy="34.5" r="2.38"/><circle cx="62.8" cy="38.8" r="2.38"/><circle cx="35.8" cy="26.8" r="2.38"/><circle cx="26.3" cy="22.6" r="2.38"/><circle cx="53.1" cy="16.2" r="2.38"/><circle cx="34.1" cy="26.8" r="2.38"/><circle cx="46.4" cy="31" r="2.38"/><circle cx="62.2" cy="39" r="2.38"/><circle cx="58.3" cy="19.6" r="2.38"/><circle cx="29" cy="8.7" r="2.38"/><circle cx="52.9" cy="33.8" r="2.38"/><circle cx="27" cy="23.6" r="2.38"/><circle cx="68" cy="26.6" r="2.38"/><circle cx="68.3" cy="34.1" r="2.38"/><circle cx="61.5" cy="17.7" r="2.38"/><circle cx="32.2" cy="9.4" r="2.38"/><circle cx="62.2" cy="21.8" r="2.38"/><circle cx="30.3" cy="9.8" r="2.38"/><circle cx="55.6" cy="18.3" r="2.38"/><circle cx="73.3" cy="39" r="2.38"/><circle cx="66.5" cy="23.5" r="2.38"/><circle cx="43.3" cy="30.1" r="2.38"/><circle cx="27.5" cy="7.7" r="2.38"/><circle cx="64.2" cy="36.9" r="2.38"/><circle cx="73.9" cy="31.5" r="2.38"/><circle cx="25.4" cy="23.1" r="2.38"/><circle cx="43.2" cy="14.3" r="2.38"/><circle cx="49.2" cy="32.8" r="2.38"/><circle cx="26.8" cy="22.6" r="2.38"/><circle cx="18.3" cy="18.1" r="2.38"/><circle cx="39.7" cy="30.7" r="2.38"/><circle cx="66.6" cy="33.2" r="2.38"/><circle cx="52.4" cy="15.9" r="2.38"/><circle cx="37" cy="11.2" r="2.38"/><circle cx="45.9" cy="30.6" r="2.38"/><circle cx="64.4" cy="23.8" r="2.38"/><circle cx="49" cy="15.9" r="2.38"/><circle cx="64.7" cy="35.7" r="2.38"/><circle cx="58.7" cy="33.8" r="2.38"/><circle cx="68.9" cy="26.6" r="2.38"/><circle cx="38.5" cy="11.3" r="2.38"/><circle cx="54.8" cy="34" r="2.38"/><circle cx="48.6" cy="12.1" r="2.38"/><circle cx="44.1" cy="10.9" r="2.38"/><circle cx="72" cy="20.4" r="2.38"/><circle cx="42.4" cy="29.6" r="2.38"/><circle cx="12.2" cy="15.6" r="2.38"/><circle cx="46.5" cy="31.5" r="2.38"/><circle cx="21.2" cy="18.6" r="2.38"/><circle cx="11.1" cy="13.6" r="2.38"/><circle cx="61.4" cy="35.2" r="2.38"/><circle cx="71.5" cy="29.4" r="2.38"/><circle cx="40.1" cy="30.1" r="2.38"/><circle cx="49.9" cy="13.7" r="2.38"/><circle cx="60.2" cy="21.5" r="2.38"/><circle cx="24.6" cy="7.9" r="2.38"/><circle cx="34" cy="12.4" r="2.38"/><circle cx="25.5" cy="22.8" r="2.38"/><circle cx="20.6" cy="19" r="2.38"/><circle cx="36.1" cy="9.6" r="2.38"/><circle cx="38.2" cy="29.2" r="2.38"/><circle cx="39.1" cy="10.8" r="2.38"/><circle cx="20.9" cy="19.1" r="2.38"/><circle cx="54.1" cy="17.8" r="2.38"/><circle cx="31.6" cy="27.5" r="2.38"/><circle cx="15.6" cy="16.9" r="2.38"/><circle cx="75.9" cy="30" r="2.38"/><circle cx="50.2" cy="17" r="2.38"/><circle cx="16.4" cy="12" r="2.38"/><circle cx="54.6" cy="18" r="2.38"/><circle cx="69.6" cy="25.6" r="2.38"/><circle cx="46" cy="30.8" r="2.38"/><circle cx="21.6" cy="19.7" r="2.38"/><circle cx="68" cy="24.6" r="2.38"/><circle cx="69.1" cy="24.6" r="2.38"/><circle cx="48.1" cy="32.7" r="2.38"/><circle cx="41.2" cy="31.6" r="2.38"/><circle cx="48.6" cy="15.7" r="2.38"/><circle cx="36.2" cy="28.1" r="2.38"/><circle cx="53.7" cy="33.7" r="2.38"/><circle cx="47" cy="13.8" r="2.38"/><circle cx="71.3" cy="32.3" r="2.38"/><circle cx="29.8" cy="26.4" r="2.38"/><circle cx="50.6" cy="16.2" r="2.38"/><circle cx="38.6" cy="29.9" r="2.38"/><circle cx="41.2" cy="29.8" r="2.38"/><circle cx="70.1" cy="32.9" r="2.38"/><circle cx="53.3" cy="16.9" r="2.38"/><circle cx="16.4" cy="12.8" r="2.38"/><circle cx="27" cy="24.8" r="2.38"/><circle cx="26.6" cy="8" r="2.38"/><circle cx="24.9" cy="6.6" r="2.38"/><circle cx="32.1" cy="27" r="2.38"/><circle cx="25.1" cy="21" r="2.38"/><circle cx="20" cy="3.7" r="2.38"/><circle cx="13.7" cy="14.6" r="2.38"/><circle cx="31.7" cy="26" r="2.38"/><circle cx="27" cy="23" r="2.38"/><circle cx="60.8" cy="37.8" r="2.38"/><circle cx="55.2" cy="34.2" r="2.38"/><circle cx="75.7" cy="34.9" r="2.38"/><circle cx="26.2" cy="8.3" r="2.38"/><circle cx="9.4" cy="13.8" r="2.38"/><circle cx="54.8" cy="18" r="2.38"/><circle cx="38.1" cy="10.8" r="2.38"/><circle cx="69.3" cy="30.6" r="2.38"/><circle cx="74.4" cy="32" r="2.38"/><circle cx="25.7" cy="24.2" r="2.38"/><circle cx="67.3" cy="33.6" r="2.38"/><circle cx="16.6" cy="20.1" r="2.38"/><circle cx="37" cy="12.8" r="2.38"/><circle cx="29.6" cy="23.9" r="2.38"/><circle cx="71.4" cy="31.8" r="2.38"/><circle cx="8.8" cy="10.7" r="2.38"/><circle cx="15.5" cy="17.4" r="2.38"/><circle cx="48.3" cy="32.3" r="2.38"/><circle cx="18.6" cy="7.1" r="2.38"/><circle cx="57.9" cy="20.8" r="2.38"/><circle cx="45" cy="29.9" r="2.38"/><circle cx="20.5" cy="23" r="2.38"/><circle cx="13.2" cy="15.2" r="2.38"/><circle cx="54.7" cy="35.1" r="2.38"/><circle cx="13.9" cy="5.8" r="2.38"/><circle cx="61.5" cy="35.3" r="2.38"/><circle cx="51.3" cy="13.9" r="2.38"/><circle cx="11.1" cy="13.3" r="2.38"/><circle cx="34.7" cy="9.9" r="2.38"/><circle cx="30.8" cy="7.8" r="2.38"/><circle cx="16.7" cy="9.4" r="2.38"/><circle cx="27.1" cy="8.6" r="2.38"/><circle cx="9.1" cy="12" r="2.38"/><circle cx="61.8" cy="22" r="2.38"/><circle cx="47.6" cy="31.4" r="2.38"/><circle cx="69.1" cy="26.8" r="2.38"/><circle cx="37" cy="12.4" r="2.38"/><circle cx="15" cy="17.3" r="2.38"/><circle cx="37.3" cy="28.4" r="2.38"/><circle cx="30.4" cy="5.6" r="2.38"/><circle cx="50.2" cy="16" r="2.38"/><circle cx="49.6" cy="17" r="2.38"/><circle cx="55.6" cy="33.8" r="2.38"/><circle cx="15.9" cy="5" r="2.38"/><circle cx="75.2" cy="34.2" r="2.38"/><circle cx="27.5" cy="23.9" r="2.38"/><circle cx="74" cy="43.7" r="2.38"/><circle cx="74" cy="41.6" r="2.38"/><circle cx="59.9" cy="44.4" r="2.38"/><circle cx="62.8" cy="42" r="2.38"/><circle cx="50.6" cy="39.2" r="2.38"/><circle cx="39.4" cy="34" r="2.38"/><circle cx="18.2" cy="23" r="2.38"/><circle cx="63.9" cy="18.1" r="2.38"/><circle cx="62.2" cy="16.4" r="2.38"/><circle cx="56.1" cy="13.9" r="2.38"/><circle cx="42.8" cy="7.3" r="2.38"/><circle cx="13.1" cy="1.7" r="2.38"/><circle cx="17.1" cy="5.5" r="2.38"/><circle cx="28.3" cy="4.5" r="2.38"/><circle cx="4.9" cy="8.1" r="2.38"/></g></svg>
<rect class="b" x="57.02" y="82.37" width="82.43" height="46.21"/><rect class="b" x="152.13" y="82.37" width="82.43" height="46.21"/><rect class="b" x="247.23" y="82.37" width="82.43" height="46.21"/><rect class="b" x="342.34" y="82.37" width="82.43" height="46.21"/><rect class="b" x="437.44" y="82.37" width="82.43" height="46.21"/><rect class="b" x="532.54" y="82.37" width="82.43" height="46.21"/>
<rect class="b" x="57.02" y="141.25" width="82.43" height="46.21"/><rect class="b" x="152.13" y="141.25" width="82.43" height="46.21"/><rect class="b" x="247.23" y="141.25" width="82.43" height="46.21"/><rect class="b" x="342.34" y="141.25" width="82.43" height="46.21"/><rect class="b" x="437.44" y="141.25" width="82.43" height="46.21"/><rect class="b" x="532.54" y="141.25" width="82.43" height="46.21"/>
<rect class="b" x="57.02" y="200.13" width="82.43" height="46.21"/><rect class="b" x="152.13" y="200.13" width="82.43" height="46.21"/><rect class="b" x="247.23" y="200.13" width="82.43" height="46.21"/><rect class="b" x="342.34" y="200.13" width="82.43" height="46.21"/><rect class="b" x="437.44" y="200.13" width="82.43" height="46.21"/><rect class="b" x="532.54" y="200.13" width="82.43" height="46.21"/>
<rect class="b" x="57.02" y="259.01" width="82.43" height="46.21"/><rect class="b" x="152.13" y="259.01" width="82.43" height="46.21"/><rect class="b" x="247.23" y="259.01" width="82.43" height="46.21"/><rect class="b" x="342.34" y="259.01" width="82.43" height="46.21"/><rect class="b" x="437.44" y="259.01" width="82.43" height="46.21"/><rect class="b" x="532.54" y="259.01" width="82.43" height="46.21"/>
<rect class="b" x="57.02" y="317.89" width="82.43" height="46.21"/><rect class="b" x="152.13" y="317.89" width="82.43" height="46.21"/><rect class="b" x="247.23" y="317.89" width="82.43" height="46.21"/><rect class="b" x="342.34" y="317.89" width="82.43" height="46.21"/><rect class="b" x="437.44" y="317.89" width="82.43" height="46.21"/><rect class="b" x="532.54" y="317.89" width="82.43" height="46.21"/>
<rect class="b" x="57.02" y="376.77" width="82.43" height="46.21"/><rect class="b" x="152.13" y="376.77" width="82.43" height="46.21"/><rect class="b" x="247.23" y="376.77" width="82.43" height="46.21"/><rect class="b" x="342.34" y="376.77" width="82.43" height="46.21"/><rect class="b" x="437.44" y="376.77" width="82.43" height="46.21"/><rect class="b" x="532.54" y="376.77" width="82.43" height="46.21"/>
<text class="d" x="98.24" y="108.77">y</text><text class="d" x="193.34" y="171.35">X.1</text><text class="d" x="288.45" y="230.23">X.2</text><text class="d" x="383.55" y="289.11">X.3</text><text class="d" x="478.66" y="347.99">X.4</text><text class="d" x="573.76" y="406.87">X.5</text>
<text class="a" x="58.63" y="445.79">-40</text><text class="a" x="83.33" y="445.79">0</text><text class="a" x="108.03" y="445.79">40</text><text class="a" x="132.73" y="445.79">80</text><text class="a" x="161.55" y="68.36">-40</text><text class="a" x="191.23" y="68.36">0</text><text class="a" x="220.91" y="68.36">40</text><text class="a" x="251.79" y="445.79">-40</text><text class="a" x="283.81" y="445.79">0</text><text class="a" x="315.82" y="445.79">40</text><text class="a" x="346.69" y="68.36">-40</text><text class="a" x="380.20" y="68.36">0</text><text class="a" x="413.71" y="68.36">40</text><text class="a" x="445.53" y="445.79">-40</text><text class="a" x="480.68" y="445.79">0</text><text class="a" x="515.83" y="445.79">40</text><text class="a" x="541.42" y="68.36">-40</text><text class="a" x="570.52" y="68.36">0</text><text class="a" x="599.62" y="68.36">40</text><text class="a" transform="translate(637.79 127.68) rotate(-90)">-40</text><text class="a" transform="translate(637.79 99.99) rotate(-90)">40</text><text class="a" transform="translate(41.82 182.17) rotate(-90)">-40</text><text class="a" transform="translate(41.82 157.22) rotate(-90)">20</text><text class="a" transform="translate(637.79 243.78) rotate(-90)">-40</text><text class="a" transform="translate(637.79 216.86) rotate(-90)">20</text><text class="a" transform="translate(41.82 302.77) rotate(-90)">-40</text><text class="a" transform="translate(41.82 274.60) rotate(-90)">20</text><text class="a" transform="translate(637.79 359.56) rotate(-90)">-40</text><text class="a" transform="translate(637.79 339.86) rotate(-90)">0</text><text class="a" transform="translate(637.79 320.15) rotate(-90)">40</text><text class="a" transform="translate(41.82 418.00) rotate(-90)">-40</text><text class="a" transform="translate(41.82 393.53) rotate(-90)">20</text>
<path class="b" d="M58.63 422.98H132.73M58.63 422.98v6.34M70.98 422.98v6.34M83.33 422.98v6.34M95.68 422.98v6.34M108.03 422.98v6.34M120.38 422.98v6.34M132.73 422.98v6.34M161.55 82.37H220.91M161.55 82.37v-6.34M176.39 82.37v-6.34M191.23 82.37v-6.34M206.07 82.37v-6.34M220.91 82.37v-6.34M251.79 422.98H315.82M251.79 422.98v6.34M267.80 422.98v6.34M283.81 422.98v6.34M299.81 422.98v6.34M315.82 422.98v6.34M346.69 82.37H413.71M346.69 82.37v-6.34M363.45 82.37v-6.34M380.20 82.37v-6.34M396.96 82.37v-6.34M413.71 82.37v-6.34M445.53 422.98H515.83M445.53 422.98v6.34M463.10 422.98v6.34M480.68 422.98v6.34M498.25 422.98v6.34M515.83 422.98v6.34M541.42 82.37H614.18M541.42 82.37v-6.34M555.97 82.37v-6.34M570.52 82.37v-6.34M585.07 82.37v-6.34M599.62 82.37v-6.34M614.18 82.37v-6.34M614.98 127.68V86.14M614.98 127.68h6.34M614.98 120.75h6.34M614.98 113.83h6.34M614.98 106.91h6.34M614.98 99.99h6.34M614.98 93.06h6.34M614.98 86.14h6.34M57.02 182.17V148.90M57.02 182.17h-6.34M57.02 173.86h-6.34M57.02 165.54h-6.34M57.02 157.22h-6.34M57.02 148.90h-6.34M614.98 243.78V207.89M614.98 243.78h6.34M614.98 234.81h6.34M614.98 225.83h6.34M614.98 216.86h6.34M614.98 207.89h6.34M57.02 302.77V265.21M57.02 302.77h-6.34M57.02 293.38h-6.34M57.02 283.99h-6.34M57.02 274.60h-6.34M57.02 265.21h-6.34M614.98 359.56V320.15M614.98 359.56h6.34M614.98 349.71h6.34M614.98 339.86h6.34M614.98 330.01h6.34M614.98 320.15h6.34M57.02 418.00V377.22M57.02 418.00h-6.34M57.02 409.84h-6.34M57.02 401.69h-6.34M57.02 393.53h-6.34M57.02 385.37h-6.34M57.02 377.22h-6.34"/>
</svg></body></html>
